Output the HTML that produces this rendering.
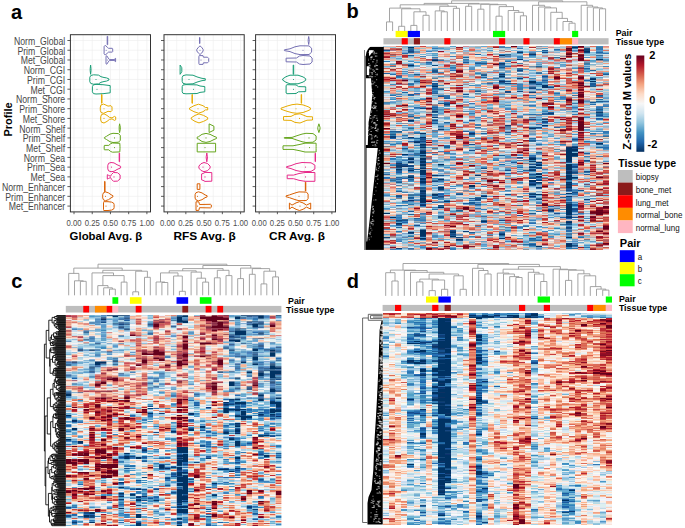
<!DOCTYPE html>
<html><head><meta charset="utf-8"><style>
html,body{margin:0;padding:0;background:#fff;width:685px;height:528px;overflow:hidden}
svg{display:block;font-family:"Liberation Sans", sans-serif}
</style></head><body>
<svg width="685" height="528" viewBox="0 0 685 528">
<text x="11" y="19.2" font-size="20" font-weight="bold" fill="#000">a</text>
<text x="0" y="0" font-size="10" fill="#474747" text-anchor="end" transform="translate(65.2 44.8) scale(0.87 1)">Norm_Global</text>
<text x="0" y="0" font-size="10" fill="#474747" text-anchor="end" transform="translate(65.2 54.5) scale(0.87 1)">Prim_Global</text>
<text x="0" y="0" font-size="10" fill="#474747" text-anchor="end" transform="translate(65.2 64.3) scale(0.87 1)">Met_Global</text>
<text x="0" y="0" font-size="10" fill="#474747" text-anchor="end" transform="translate(65.2 74.0) scale(0.87 1)">Norm_CGI</text>
<text x="0" y="0" font-size="10" fill="#474747" text-anchor="end" transform="translate(65.2 83.8) scale(0.87 1)">Prim_CGI</text>
<text x="0" y="0" font-size="10" fill="#474747" text-anchor="end" transform="translate(65.2 93.5) scale(0.87 1)">Met_CGI</text>
<text x="0" y="0" font-size="10" fill="#474747" text-anchor="end" transform="translate(65.2 103.2) scale(0.87 1)">Norm_Shore</text>
<text x="0" y="0" font-size="10" fill="#474747" text-anchor="end" transform="translate(65.2 113.0) scale(0.87 1)">Prim_Shore</text>
<text x="0" y="0" font-size="10" fill="#474747" text-anchor="end" transform="translate(65.2 122.7) scale(0.87 1)">Met_Shore</text>
<text x="0" y="0" font-size="10" fill="#474747" text-anchor="end" transform="translate(65.2 132.5) scale(0.87 1)">Norm_Shelf</text>
<text x="0" y="0" font-size="10" fill="#474747" text-anchor="end" transform="translate(65.2 142.2) scale(0.87 1)">Prim_Shelf</text>
<text x="0" y="0" font-size="10" fill="#474747" text-anchor="end" transform="translate(65.2 151.9) scale(0.87 1)">Met_Shelf</text>
<text x="0" y="0" font-size="10" fill="#474747" text-anchor="end" transform="translate(65.2 161.7) scale(0.87 1)">Norm_Sea</text>
<text x="0" y="0" font-size="10" fill="#474747" text-anchor="end" transform="translate(65.2 171.4) scale(0.87 1)">Prim_Sea</text>
<text x="0" y="0" font-size="10" fill="#474747" text-anchor="end" transform="translate(65.2 181.2) scale(0.87 1)">Met_Sea</text>
<text x="0" y="0" font-size="10" fill="#474747" text-anchor="end" transform="translate(65.2 190.9) scale(0.87 1)">Norm_Enhancer</text>
<text x="0" y="0" font-size="10" fill="#474747" text-anchor="end" transform="translate(65.2 200.6) scale(0.87 1)">Prim_Enhancer</text>
<text x="0" y="0" font-size="10" fill="#474747" text-anchor="end" transform="translate(65.2 210.4) scale(0.87 1)">Met_Enhancer</text>
<text x="0" y="0" font-size="11" font-weight="bold" fill="#000" text-anchor="middle" transform="translate(12.3 119.4) rotate(-90)">Profile</text>
<path d="M74.00 34.7V211.9M83.11 34.7V211.9M92.22 34.7V211.9M101.34 34.7V211.9M110.45 34.7V211.9M119.56 34.7V211.9M128.68 34.7V211.9M137.79 34.7V211.9M146.90 34.7V211.9M70.4 40.50H150.5M70.4 50.24H150.5M70.4 59.98H150.5M70.4 69.72H150.5M70.4 79.46H150.5M70.4 89.20H150.5M70.4 98.94H150.5M70.4 108.68H150.5M70.4 118.42H150.5M70.4 128.16H150.5M70.4 137.90H150.5M70.4 147.64H150.5M70.4 157.38H150.5M70.4 167.12H150.5M70.4 176.86H150.5M70.4 186.60H150.5M70.4 196.34H150.5M70.4 206.08H150.5" stroke="#ececec" stroke-width="0.6" fill="none"/>
<rect x="70.4" y="34.7" width="80.1" height="177.2" fill="none" stroke="#333" stroke-width="1"/>
<path d="M67.4 40.50H70.4M67.4 50.24H70.4M67.4 59.98H70.4M67.4 69.72H70.4M67.4 79.46H70.4M67.4 89.20H70.4M67.4 98.94H70.4M67.4 108.68H70.4M67.4 118.42H70.4M67.4 128.16H70.4M67.4 137.90H70.4M67.4 147.64H70.4M67.4 157.38H70.4M67.4 167.12H70.4M67.4 176.86H70.4M67.4 186.60H70.4M67.4 196.34H70.4M67.4 206.08H70.4" stroke="#333" stroke-width="0.8"/>
<path d="M74.00 211.9V214.20000000000002M92.22 211.9V214.20000000000002M110.45 211.9V214.20000000000002M128.68 211.9V214.20000000000002M146.90 211.9V214.20000000000002" stroke="#333" stroke-width="0.8"/>
<text x="0" y="0" font-size="9" fill="#4d4d4d" text-anchor="middle" transform="translate(74.00 225.8) scale(0.86 1)">0.00</text>
<text x="0" y="0" font-size="9" fill="#4d4d4d" text-anchor="middle" transform="translate(92.22 225.8) scale(0.86 1)">0.25</text>
<text x="0" y="0" font-size="9" fill="#4d4d4d" text-anchor="middle" transform="translate(110.45 225.8) scale(0.86 1)">0.50</text>
<text x="0" y="0" font-size="9" fill="#4d4d4d" text-anchor="middle" transform="translate(128.68 225.8) scale(0.86 1)">0.75</text>
<text x="0" y="0" font-size="9" fill="#4d4d4d" text-anchor="middle" transform="translate(146.90 225.8) scale(0.86 1)">1.00</text>
<path d="M107.2 36.3L107.7 36.3L107.7 44.7L107.2 44.7Z" fill="none" stroke="#7570B3" stroke-width="1.0" stroke-linejoin="round"/>
<path d="M104.1 46.6L104.6 45.8L105.8 45.6L107.5 47.6L108.5 48.3L112.3 48.3L112.7 48.8L112.7 51.6L112.3 52.1L108.5 52.1L107.5 52.8L105.8 54.8L104.6 54.6L104.1 53.8Z" fill="none" stroke="#7570B3" stroke-width="1.0" stroke-linejoin="round"/>
<circle cx="106.2" cy="50.2" r="0.55" fill="#7570B3"/>
<path d="M106.0 56.2L106.8 55.8L108.2 58.0L109.5 59.6L114.8 59.6L115.1 58.4L115.6 58.4L115.6 61.6L115.1 61.6L114.8 60.4L109.5 60.4L108.2 62.0L106.8 64.2L106.0 63.8Z" fill="none" stroke="#7570B3" stroke-width="1.0" stroke-linejoin="round"/>
<circle cx="107.4" cy="60.0" r="0.55" fill="#7570B3"/>
<path d="M90.2 68.7L90.6 65.1L91.0 68.7L91.0 70.7L90.6 74.3L90.2 70.7Z" fill="none" stroke="#1B9E77" stroke-width="1.0" stroke-linejoin="round"/>
<path d="M89.8 77.3L90.8 75.5L93.5 74.8L98.5 75.1L101.0 76.7L104.0 77.5L106.5 77.9L108.9 78.9L108.9 80.1L106.5 81.1L104.0 81.5L101.0 82.3L98.5 83.9L93.5 84.2L90.8 83.5L89.8 81.7Z" fill="none" stroke="#1B9E77" stroke-width="1.0" stroke-linejoin="round"/>
<circle cx="96.0" cy="79.5" r="0.55" fill="#1B9E77"/>
<path d="M92.4 86.6L93.4 84.8L96.0 84.4L103.0 84.7L110.2 85.6L110.2 88.6L110.2 89.8L110.2 92.8L103.0 93.7L96.0 94.0L93.4 93.6L92.4 91.8Z" fill="none" stroke="#1B9E77" stroke-width="1.0" stroke-linejoin="round"/>
<circle cx="97.0" cy="89.2" r="0.55" fill="#1B9E77"/>
<path d="M101.5 94.6L102.0 94.6L102.0 103.2L101.5 103.2Z" fill="none" stroke="#E6AB02" stroke-width="1.0" stroke-linejoin="round"/>
<path d="M100.3 107.1L101.0 104.9L103.5 104.1L106.0 105.1L108.0 106.1L111.0 105.7L112.0 106.9L112.0 110.5L111.0 111.7L108.0 111.3L106.0 112.3L103.5 113.3L101.0 112.5L100.3 110.3Z" fill="none" stroke="#E6AB02" stroke-width="1.0" stroke-linejoin="round"/>
<circle cx="104.0" cy="108.7" r="0.55" fill="#E6AB02"/>
<path d="M100.7 116.8L101.5 114.6L104.0 113.8L107.0 115.4L109.5 117.4L112.0 117.9L114.5 116.4L115.7 117.0L115.7 119.8L114.5 120.4L112.0 118.9L109.5 119.4L107.0 121.4L104.0 123.0L101.5 122.2L100.7 120.0Z" fill="none" stroke="#E6AB02" stroke-width="1.0" stroke-linejoin="round"/>
<circle cx="104.0" cy="118.4" r="0.55" fill="#E6AB02"/>
<path d="M119.2 126.6L119.6 123.8L120.3 127.2L120.3 129.2L119.6 132.6L119.2 129.8Z" fill="none" stroke="#66A61E" stroke-width="1.0" stroke-linejoin="round"/>
<path d="M104.4 137.5L106.5 136.3L110.0 134.1L113.0 133.3L118.5 133.6L120.3 135.5L120.3 140.3L118.5 142.2L113.0 142.5L110.0 141.7L106.5 139.5L104.4 138.3Z" fill="none" stroke="#66A61E" stroke-width="1.0" stroke-linejoin="round"/>
<circle cx="114.5" cy="137.9" r="0.55" fill="#66A61E"/>
<path d="M104.2 146.0L104.4 145.4L108.8 145.4L110.5 143.8L112.5 143.0L119.8 143.3L120.0 146.6L120.0 148.6L119.8 151.9L112.5 152.2L110.5 151.4L108.8 149.8L104.4 149.8L104.2 149.2Z" fill="none" stroke="#66A61E" stroke-width="1.0" stroke-linejoin="round"/>
<circle cx="114.5" cy="147.6" r="0.55" fill="#66A61E"/>
<path d="M119.2 153.1L119.6 153.1L119.6 161.7L119.2 161.7Z" fill="none" stroke="#E7298A" stroke-width="1.0" stroke-linejoin="round"/>
<path d="M107.8 165.3L108.6 163.3L111.0 162.5L114.0 162.9L117.0 164.7L120.6 166.3L120.6 167.9L117.0 169.5L114.0 171.3L111.0 171.7L108.6 170.9L107.8 168.9Z" fill="none" stroke="#E7298A" stroke-width="1.0" stroke-linejoin="round"/>
<circle cx="111.5" cy="167.1" r="0.55" fill="#E7298A"/>
<path d="M107.3 174.7L108.5 175.3L110.5 176.3L111.5 174.5L113.5 172.5L117.5 172.7L120.1 174.9L120.1 178.9L117.5 181.1L113.5 181.3L111.5 179.3L110.5 177.5L108.5 178.5L107.3 179.1Z" fill="none" stroke="#E7298A" stroke-width="1.0" stroke-linejoin="round"/>
<circle cx="114.0" cy="176.9" r="0.55" fill="#E7298A"/>
<path d="M104.6 181.4L105.0 181.4L105.0 191.8L104.6 191.8Z" fill="none" stroke="#D95F02" stroke-width="1.0" stroke-linejoin="round"/>
<path d="M102.7 194.7L103.5 192.7L105.5 191.9L108.5 192.9L111.0 194.7L112.9 195.7L112.9 196.9L111.0 197.9L108.5 199.7L105.5 200.7L103.5 199.9L102.7 197.9Z" fill="none" stroke="#D95F02" stroke-width="1.0" stroke-linejoin="round"/>
<circle cx="105.5" cy="196.3" r="0.55" fill="#D95F02"/>
<path d="M103.5 202.5L103.8 201.7L108.0 201.7L111.5 202.1L113.6 203.1L114.1 204.5L114.1 207.7L113.6 209.1L111.5 210.1L108.0 210.5L103.8 210.5L103.5 209.7Z" fill="none" stroke="#D95F02" stroke-width="1.0" stroke-linejoin="round"/>
<circle cx="106.0" cy="206.1" r="0.55" fill="#D95F02"/>
<path d="M167.60 34.7V211.9M176.72 34.7V211.9M185.85 34.7V211.9M194.97 34.7V211.9M204.10 34.7V211.9M213.22 34.7V211.9M222.35 34.7V211.9M231.47 34.7V211.9M240.60 34.7V211.9M164.0 40.50H244.2M164.0 50.24H244.2M164.0 59.98H244.2M164.0 69.72H244.2M164.0 79.46H244.2M164.0 89.20H244.2M164.0 98.94H244.2M164.0 108.68H244.2M164.0 118.42H244.2M164.0 128.16H244.2M164.0 137.90H244.2M164.0 147.64H244.2M164.0 157.38H244.2M164.0 167.12H244.2M164.0 176.86H244.2M164.0 186.60H244.2M164.0 196.34H244.2M164.0 206.08H244.2" stroke="#ececec" stroke-width="0.6" fill="none"/>
<rect x="164.0" y="34.7" width="80.19999999999999" height="177.2" fill="none" stroke="#333" stroke-width="1"/>
<path d="M161.0 40.50H164.0M161.0 50.24H164.0M161.0 59.98H164.0M161.0 69.72H164.0M161.0 79.46H164.0M161.0 89.20H164.0M161.0 98.94H164.0M161.0 108.68H164.0M161.0 118.42H164.0M161.0 128.16H164.0M161.0 137.90H164.0M161.0 147.64H164.0M161.0 157.38H164.0M161.0 167.12H164.0M161.0 176.86H164.0M161.0 186.60H164.0M161.0 196.34H164.0M161.0 206.08H164.0" stroke="#333" stroke-width="0.8"/>
<path d="M167.60 211.9V214.20000000000002M185.85 211.9V214.20000000000002M204.10 211.9V214.20000000000002M222.35 211.9V214.20000000000002M240.60 211.9V214.20000000000002" stroke="#333" stroke-width="0.8"/>
<text x="0" y="0" font-size="9" fill="#4d4d4d" text-anchor="middle" transform="translate(167.60 225.8) scale(0.86 1)">0.00</text>
<text x="0" y="0" font-size="9" fill="#4d4d4d" text-anchor="middle" transform="translate(185.85 225.8) scale(0.86 1)">0.25</text>
<text x="0" y="0" font-size="9" fill="#4d4d4d" text-anchor="middle" transform="translate(204.10 225.8) scale(0.86 1)">0.50</text>
<text x="0" y="0" font-size="9" fill="#4d4d4d" text-anchor="middle" transform="translate(222.35 225.8) scale(0.86 1)">0.75</text>
<text x="0" y="0" font-size="9" fill="#4d4d4d" text-anchor="middle" transform="translate(240.60 225.8) scale(0.86 1)">1.00</text>
<path d="M199.5 37.5L199.9 37.5L199.9 43.5L199.5 43.5Z" fill="none" stroke="#7570B3" stroke-width="1.0" stroke-linejoin="round"/>
<path d="M196.8 49.4L198.5 47.2L200.0 45.9L201.6 47.2L203.1 49.4L203.1 51.0L201.6 53.2L200.0 54.5L198.5 53.2L196.8 51.0Z" fill="none" stroke="#7570B3" stroke-width="1.0" stroke-linejoin="round"/>
<circle cx="200.0" cy="50.2" r="0.55" fill="#7570B3"/>
<path d="M198.9 56.4L199.2 55.6L203.0 55.6L203.4 57.2L207.5 57.2L208.7 58.4L208.7 61.6L207.5 62.8L203.4 62.8L203.0 64.4L199.2 64.4L198.9 63.6Z" fill="none" stroke="#7570B3" stroke-width="1.0" stroke-linejoin="round"/>
<circle cx="201.0" cy="60.0" r="0.55" fill="#7570B3"/>
<path d="M180.1 65.1L181.8 67.7L181.8 71.7L180.1 74.3Z" fill="none" stroke="#1B9E77" stroke-width="1.0" stroke-linejoin="round"/>
<path d="M182.2 77.5L183.0 75.7L186.0 74.9L193.0 75.2L197.0 76.9L201.0 78.1L204.0 78.7L205.3 78.7L205.3 80.3L204.0 80.3L201.0 80.9L197.0 82.1L193.0 83.8L186.0 84.1L183.0 83.3L182.2 81.5Z" fill="none" stroke="#1B9E77" stroke-width="1.0" stroke-linejoin="round"/>
<circle cx="189.0" cy="79.5" r="0.55" fill="#1B9E77"/>
<path d="M182.2 86.6L183.0 85.0L186.0 84.6L197.0 84.9L200.0 86.0L204.8 86.6L204.8 88.4L204.8 90.0L204.8 91.8L200.0 92.4L197.0 93.5L186.0 93.8L183.0 93.4L182.2 91.8Z" fill="none" stroke="#1B9E77" stroke-width="1.0" stroke-linejoin="round"/>
<circle cx="193.5" cy="89.2" r="0.55" fill="#1B9E77"/>
<path d="M192.0 94.5L192.4 94.5L192.4 103.3L192.0 103.3Z" fill="none" stroke="#E6AB02" stroke-width="1.0" stroke-linejoin="round"/>
<path d="M189.5 108.1L194.0 105.7L198.5 104.2L203.0 105.7L205.5 107.5L207.7 107.5L207.7 109.9L205.5 109.9L203.0 111.7L198.5 113.2L194.0 111.7L189.5 109.3Z" fill="none" stroke="#E6AB02" stroke-width="1.0" stroke-linejoin="round"/>
<circle cx="198.0" cy="108.7" r="0.55" fill="#E6AB02"/>
<path d="M191.2 117.8L195.0 115.4L199.0 113.9L203.5 115.4L207.7 117.6L207.7 119.2L203.5 121.4L199.0 122.9L195.0 121.4L191.2 119.0Z" fill="none" stroke="#E6AB02" stroke-width="1.0" stroke-linejoin="round"/>
<circle cx="199.0" cy="118.4" r="0.55" fill="#E6AB02"/>
<path d="M209.1 123.9L213.9 126.2L213.9 130.2L209.1 132.5Z" fill="none" stroke="#66A61E" stroke-width="1.0" stroke-linejoin="round"/>
<path d="M197.2 137.1L198.5 136.7L202.0 134.3L206.0 133.4L210.0 134.3L214.0 136.3L216.5 137.3L216.5 138.5L214.0 139.5L210.0 141.5L206.0 142.4L202.0 141.5L198.5 139.1L197.2 138.7Z" fill="none" stroke="#66A61E" stroke-width="1.0" stroke-linejoin="round"/>
<circle cx="206.0" cy="137.9" r="0.55" fill="#66A61E"/>
<path d="M197.2 143.3L215.6 143.3L215.6 151.9L197.2 151.9Z" fill="none" stroke="#66A61E" stroke-width="1.0" stroke-linejoin="round"/>
<circle cx="205.0" cy="147.6" r="0.55" fill="#66A61E"/>
<path d="M206.2 156.8L206.8 153.0L207.4 156.8L207.4 158.0L206.8 161.8L206.2 158.0Z" fill="none" stroke="#E7298A" stroke-width="1.0" stroke-linejoin="round"/>
<path d="M198.9 166.1L201.0 163.7L204.0 162.5L207.5 163.5L210.1 166.1L210.1 168.1L207.5 170.7L204.0 171.7L201.0 170.5L198.9 168.1Z" fill="none" stroke="#E7298A" stroke-width="1.0" stroke-linejoin="round"/>
<circle cx="203.0" cy="167.1" r="0.55" fill="#E7298A"/>
<path d="M201.6 173.9L203.0 173.5L205.0 172.4L211.8 172.6L211.8 175.9L211.8 177.9L211.8 181.2L205.0 181.4L203.0 180.3L201.6 179.9Z" fill="none" stroke="#E7298A" stroke-width="1.0" stroke-linejoin="round"/>
<circle cx="205.0" cy="176.9" r="0.55" fill="#E7298A"/>
<path d="M197.2 183.8L199.9 183.8L199.9 189.4L197.2 189.4Z" fill="none" stroke="#D95F02" stroke-width="1.0" stroke-linejoin="round"/>
<path d="M195.1 194.5L196.0 192.7L198.5 191.8L202.0 192.9L205.0 194.9L207.1 195.7L207.1 196.9L205.0 197.7L202.0 199.7L198.5 200.8L196.0 199.9L195.1 198.1Z" fill="none" stroke="#D95F02" stroke-width="1.0" stroke-linejoin="round"/>
<circle cx="197.5" cy="196.3" r="0.55" fill="#D95F02"/>
<path d="M196.0 201.8L198.8 201.8L199.5 204.5L210.5 204.3L211.3 204.9L211.3 207.3L210.5 207.9L199.5 207.7L198.8 210.4L196.0 210.4Z" fill="none" stroke="#D95F02" stroke-width="1.0" stroke-linejoin="round"/>
<circle cx="197.5" cy="206.1" r="0.55" fill="#D95F02"/>
<path d="M259.20 34.7V211.9M268.29 34.7V211.9M277.38 34.7V211.9M286.46 34.7V211.9M295.55 34.7V211.9M304.64 34.7V211.9M313.73 34.7V211.9M322.81 34.7V211.9M331.90 34.7V211.9M255.6 40.50H335.5M255.6 50.24H335.5M255.6 59.98H335.5M255.6 69.72H335.5M255.6 79.46H335.5M255.6 89.20H335.5M255.6 98.94H335.5M255.6 108.68H335.5M255.6 118.42H335.5M255.6 128.16H335.5M255.6 137.90H335.5M255.6 147.64H335.5M255.6 157.38H335.5M255.6 167.12H335.5M255.6 176.86H335.5M255.6 186.60H335.5M255.6 196.34H335.5M255.6 206.08H335.5" stroke="#ececec" stroke-width="0.6" fill="none"/>
<rect x="255.6" y="34.7" width="79.9" height="177.2" fill="none" stroke="#333" stroke-width="1"/>
<path d="M252.6 40.50H255.6M252.6 50.24H255.6M252.6 59.98H255.6M252.6 69.72H255.6M252.6 79.46H255.6M252.6 89.20H255.6M252.6 98.94H255.6M252.6 108.68H255.6M252.6 118.42H255.6M252.6 128.16H255.6M252.6 137.90H255.6M252.6 147.64H255.6M252.6 157.38H255.6M252.6 167.12H255.6M252.6 176.86H255.6M252.6 186.60H255.6M252.6 196.34H255.6M252.6 206.08H255.6" stroke="#333" stroke-width="0.8"/>
<path d="M259.20 211.9V214.20000000000002M277.38 211.9V214.20000000000002M295.55 211.9V214.20000000000002M313.73 211.9V214.20000000000002M331.90 211.9V214.20000000000002" stroke="#333" stroke-width="0.8"/>
<text x="0" y="0" font-size="9" fill="#4d4d4d" text-anchor="middle" transform="translate(259.20 225.8) scale(0.86 1)">0.00</text>
<text x="0" y="0" font-size="9" fill="#4d4d4d" text-anchor="middle" transform="translate(277.38 225.8) scale(0.86 1)">0.25</text>
<text x="0" y="0" font-size="9" fill="#4d4d4d" text-anchor="middle" transform="translate(295.55 225.8) scale(0.86 1)">0.50</text>
<text x="0" y="0" font-size="9" fill="#4d4d4d" text-anchor="middle" transform="translate(313.73 225.8) scale(0.86 1)">0.75</text>
<text x="0" y="0" font-size="9" fill="#4d4d4d" text-anchor="middle" transform="translate(331.90 225.8) scale(0.86 1)">1.00</text>
<path d="M308.2 39.7L308.7 36.5L309.2 39.7L309.2 41.3L308.7 44.5L308.2 41.3Z" fill="none" stroke="#7570B3" stroke-width="1.0" stroke-linejoin="round"/>
<path d="M284.4 49.8L290.0 48.8L295.0 46.8L300.0 45.8L309.0 45.9L311.6 48.2L311.6 52.2L309.0 54.5L300.0 54.6L295.0 53.6L290.0 51.6L284.4 50.6Z" fill="none" stroke="#7570B3" stroke-width="1.0" stroke-linejoin="round"/>
<circle cx="303.0" cy="50.2" r="0.55" fill="#7570B3"/>
<path d="M286.1 58.2L296.5 58.0L299.5 56.0L303.0 55.5L310.0 56.0L312.1 58.0L312.1 62.0L310.0 64.0L303.0 64.5L299.5 64.0L296.5 62.0L286.1 61.8Z" fill="none" stroke="#7570B3" stroke-width="1.0" stroke-linejoin="round"/>
<circle cx="304.0" cy="60.0" r="0.55" fill="#7570B3"/>
<path d="M293.2 65.1L293.7 65.1L293.7 74.3L293.2 74.3Z" fill="none" stroke="#1B9E77" stroke-width="1.0" stroke-linejoin="round"/>
<path d="M282.7 78.9L286.0 76.7L290.0 75.2L298.0 75.2L303.0 76.9L305.7 78.7L305.7 80.3L303.0 82.1L298.0 83.8L290.0 83.8L286.0 82.3L282.7 80.1Z" fill="none" stroke="#1B9E77" stroke-width="1.0" stroke-linejoin="round"/>
<circle cx="293.5" cy="79.5" r="0.55" fill="#1B9E77"/>
<path d="M286.1 85.4L287.0 84.7L296.0 84.9L298.5 86.6L305.7 86.8L305.7 88.4L305.7 90.0L305.7 91.6L298.5 91.8L296.0 93.5L287.0 93.7L286.1 93.0Z" fill="none" stroke="#1B9E77" stroke-width="1.0" stroke-linejoin="round"/>
<circle cx="293.5" cy="89.2" r="0.55" fill="#1B9E77"/>
<path d="M301.2 94.5L301.6 94.5L301.6 103.3L301.2 103.3Z" fill="none" stroke="#E6AB02" stroke-width="1.0" stroke-linejoin="round"/>
<path d="M281.0 108.2L287.0 106.1L292.0 104.7L297.0 104.1L303.0 104.9L308.0 106.7L310.4 107.9L310.4 109.5L308.0 110.7L303.0 112.5L297.0 113.3L292.0 112.7L287.0 111.3L281.0 109.2Z" fill="none" stroke="#E6AB02" stroke-width="1.0" stroke-linejoin="round"/>
<circle cx="296.0" cy="108.7" r="0.55" fill="#E6AB02"/>
<path d="M283.5 116.6L291.0 116.4L295.0 114.4L300.0 113.8L304.0 115.4L307.0 116.6L312.5 116.8L312.5 117.9L312.5 118.9L312.5 120.0L307.0 120.2L304.0 121.4L300.0 123.0L295.0 122.4L291.0 120.4L283.5 120.2Z" fill="none" stroke="#E6AB02" stroke-width="1.0" stroke-linejoin="round"/>
<circle cx="299.5" cy="118.4" r="0.55" fill="#E6AB02"/>
<path d="M317.8 127.4L318.9 123.8L320.0 127.4L320.0 129.0L318.9 132.6L317.8 129.0Z" fill="none" stroke="#66A61E" stroke-width="1.0" stroke-linejoin="round"/>
<path d="M284.3 137.6L292.0 137.4L297.0 135.7L302.0 134.1L306.0 133.3L313.0 133.6L316.1 135.9L316.1 139.9L313.0 142.2L306.0 142.5L302.0 141.7L297.0 140.1L292.0 138.4L284.3 138.2Z" fill="none" stroke="#66A61E" stroke-width="1.0" stroke-linejoin="round"/>
<circle cx="309.0" cy="137.9" r="0.55" fill="#66A61E"/>
<path d="M283.0 145.8L293.0 145.8L300.0 144.4L305.0 143.2L316.1 143.2L316.1 146.6L316.1 148.6L316.1 152.0L305.0 152.0L300.0 150.8L293.0 149.4L283.0 149.4Z" fill="none" stroke="#66A61E" stroke-width="1.0" stroke-linejoin="round"/>
<circle cx="309.5" cy="147.6" r="0.55" fill="#66A61E"/>
<path d="M315.1 153.2L315.5 153.2L315.5 161.6L315.1 161.6Z" fill="none" stroke="#E7298A" stroke-width="1.0" stroke-linejoin="round"/>
<path d="M286.5 166.7L291.0 165.6L296.0 163.7L302.0 162.5L311.0 162.8L314.9 165.1L314.9 169.1L311.0 171.4L302.0 171.7L296.0 170.5L291.0 168.6L286.5 167.5Z" fill="none" stroke="#E7298A" stroke-width="1.0" stroke-linejoin="round"/>
<circle cx="305.5" cy="167.1" r="0.55" fill="#E7298A"/>
<path d="M287.2 175.1L293.5 175.1L299.0 173.5L305.0 172.5L314.9 172.5L314.9 175.9L314.9 177.9L314.9 181.3L305.0 181.3L299.0 180.3L293.5 178.7L287.2 178.7Z" fill="none" stroke="#E7298A" stroke-width="1.0" stroke-linejoin="round"/>
<circle cx="305.5" cy="176.9" r="0.55" fill="#E7298A"/>
<path d="M305.4 182.2L305.8 182.2L305.8 191.0L305.4 191.0Z" fill="none" stroke="#D95F02" stroke-width="1.0" stroke-linejoin="round"/>
<path d="M286.0 195.9L289.5 194.9L293.0 193.7L296.0 192.7L299.0 191.9L306.5 192.1L308.1 194.1L308.1 198.5L306.5 200.5L299.0 200.7L296.0 199.9L293.0 198.9L289.5 197.7L286.0 196.7Z" fill="none" stroke="#D95F02" stroke-width="1.0" stroke-linejoin="round"/>
<circle cx="299.0" cy="196.3" r="0.55" fill="#D95F02"/>
<path d="M289.4 203.1L292.0 205.1L296.0 202.9L299.5 201.7L303.0 202.9L306.5 205.1L310.7 203.1L310.7 209.1L306.5 207.1L303.0 209.3L299.5 210.5L296.0 209.3L292.0 207.1L289.4 209.1Z" fill="none" stroke="#D95F02" stroke-width="1.0" stroke-linejoin="round"/>
<circle cx="300.0" cy="206.1" r="0.55" fill="#D95F02"/>
<text x="0" y="0" font-size="11.3" font-weight="bold" fill="#000" transform="translate(69.6 239.6) scale(1.01 1)">Global Avg. β</text>
<text x="0" y="0" font-size="11.3" font-weight="bold" fill="#000" transform="translate(173.5 239.6) scale(1.05 1)">RFS Avg. β</text>
<text x="0" y="0" font-size="11.3" font-weight="bold" fill="#000" transform="translate(269.1 239.6) scale(1.05 1)">CR Avg. β</text>
<defs><filter id="hb" x="-2%" y="-2%" width="104%" height="104%"><feGaussianBlur stdDeviation="0.25 0.4"/></filter></defs>
<text x="346.4" y="17.9" font-size="20" font-weight="bold" fill="#000" text-anchor="start">b</text>
<rect x="383.45" y="38.2" width="225.15" height="6.2" fill="#bebebe"/>
<rect x="401.71" y="38.2" width="6.09" height="6.2" fill="#ff0000"/>
<rect x="413.88" y="38.2" width="6.09" height="6.2" fill="#8b1a1a"/>
<rect x="444.30" y="38.2" width="6.09" height="6.2" fill="#ff0000"/>
<rect x="499.07" y="38.2" width="6.09" height="6.2" fill="#ff0000"/>
<rect x="523.41" y="38.2" width="6.09" height="6.2" fill="#ff0000"/>
<rect x="553.83" y="38.2" width="6.09" height="6.2" fill="#ff0000"/>
<rect x="559.92" y="38.2" width="12.17" height="6.2" fill="#ff8c00"/>
<rect x="572.09" y="38.2" width="6.09" height="6.2" fill="#ffb6c1"/>
<rect x="395.62" y="30.9" width="12.17" height="6.2" fill="#ffff00"/>
<rect x="407.79" y="30.9" width="12.17" height="6.2" fill="#0000ff"/>
<rect x="492.98" y="30.9" width="12.17" height="6.2" fill="#00ff00"/>
<rect x="572.09" y="30.9" width="6.09" height="6.2" fill="#00ff00"/>
<g filter="url(#hb)"><g transform="translate(383.45 45.5) scale(6.0851 1.0005) translate(0 0.5)" shape-rendering="crispEdges" fill="none" stroke-width="1">
<path stroke="#003264" d="M4 1h1M31 1h1M33 5h1M35 13h1M8 14h1M4 19h1M19 30h1M34 33h1M24 35h1M34 35h1M24 36h1M26 39h1M8 40h1M26 40h1M4 74h1M6 87h1M6 91h1M5 96h1M35 97h1M6 98h1M6 101h1M31 101h1M30 102h1M30 103h2M30 104h2M30 105h1M6 106h1M30 106h1M6 107h1M30 107h2M3 108h1M30 108h2M6 109h1M30 109h2M30 110h1M30 111h1M6 112h1M24 112h1M30 112h1M4 113h1M6 113h1M24 113h1M30 113h1M30 114h1M6 115h1M4 116h1M6 116h1M25 116h1M6 118h1M9 118h1M30 118h1M6 119h1M25 119h1M30 119h1M30 120h1M24 121h1M30 121h1M6 122h1M30 122h1M2 123h1M30 123h1M4 124h1M6 124h1M6 125h1M6 126h1M30 126h1M6 127h1M30 127h1M6 128h1M25 128h1M30 129h1M25 130h1M30 130h1M4 131h1M30 131h2M6 132h1M30 132h1M6 133h1M9 133h1M30 133h1M24 134h1M6 135h1M24 135h1M6 136h1M25 136h1M30 136h1M24 138h1M30 138h1M14 139h1M14 140h1M9 141h1M30 141h1M6 145h1M30 147h1M8 148h1M25 148h1M6 149h1M6 150h1M16 150h1M6 152h1M6 153h1M6 154h1M6 155h1M30 158h1M30 160h1M9 161h1M30 161h1M30 162h1M30 163h1M30 164h1M30 165h1M30 166h1M0 167h1M30 167h1M30 168h1M1 171h1M30 171h1M16 175h1M30 176h1M2 177h1M6 184h1M6 185h1M4 186h1M6 186h1M11 186h1M6 187h1M6 188h1M19 188h1M6 189h1M11 190h1M30 191h1M6 192h1M12 193h1M30 198h1M30 199h1M25 200h1"/>
<path stroke="#0a3264" d="M22 6h1M24 8h1M19 9h1M19 28h1M19 35h1M26 41h1M26 79h1M24 82h1M14 87h1M30 101h1M6 105h1M30 115h1M3 120h1M30 125h1M8 129h1M15 129h1M10 155h1M6 156h1M30 159h1M27 164h1M30 200h1"/>
<path stroke="#0a326e" d="M22 13h1M24 150h1M4 154h1M6 159h1M19 192h1M30 197h1"/>
<path stroke="#0a3c6e" d="M33 3h1M19 17h1M35 66h1M27 67h1M8 71h1M26 73h1M9 83h1M1 91h1M4 91h1M4 112h1M24 115h1M2 117h1M2 119h1M2 120h1M24 124h1M25 127h1M30 139h1M30 140h1M25 141h1M9 142h1M6 144h1M6 147h1M24 148h1M8 149h1M30 150h1M30 170h1M11 185h1"/>
<path stroke="#0a3c78" d="M33 6h1M22 32h1M34 32h1M24 46h1M10 58h1M8 65h1M20 79h1M1 90h1M5 95h1M25 118h1M25 134h1M30 137h1M9 143h1M33 153h1M6 158h1M30 175h1M13 185h1M6 190h1M2 202h1"/>
<path stroke="#0a4678" d="M33 4h1M8 19h1M6 99h1M6 151h1M25 153h1M2 174h1M30 181h1M0 191h1"/>
<path stroke="#144678" d="M26 75h1M2 121h1M4 130h1M2 178h1"/>
<path stroke="#144682" d="M4 5h1M26 6h1M22 24h1M20 37h1M24 42h1M20 45h1M22 45h1M6 62h1M24 73h1M8 74h1M25 81h1M14 88h1M6 95h1M31 102h1M24 111h1M2 118h1M3 119h1M4 120h1M31 120h1M24 123h1M30 124h1M31 126h1M25 131h1M8 135h1M24 137h1M30 144h1M6 146h1M9 150h1M15 153h1M31 163h1M19 174h1M4 187h1M11 188h1M12 191h1"/>
<path stroke="#145082" d="M30 156h1M9 159h1M31 199h1"/>
<path stroke="#14508c" d="M0 4h1M19 18h1M26 30h1M20 35h1M19 36h1M8 37h1M25 38h1M27 41h1M20 46h1M9 50h1M10 57h1M4 75h1M6 93h1M31 93h1M14 98h1M31 100h1M6 104h1M14 104h1M22 111h1M6 114h1M33 114h1M4 115h1M3 118h1M24 118h1M4 119h1M25 121h1M31 121h1M16 122h1M20 124h1M33 125h1M24 128h1M24 132h1M6 134h1M6 137h1M30 142h1M32 144h1M31 146h1M6 148h1M20 148h1M2 150h1M15 152h1M31 162h1M27 163h1M27 165h1M28 167h1M31 171h1M3 174h1M30 178h1M5 179h1M30 182h1M19 187h1M6 193h1M12 194h1"/>
<path stroke="#145096" d="M8 13h1M35 69h1M26 76h1M6 92h1"/>
<path stroke="#145a96" d="M34 56h1M14 156h1M24 198h1"/>
<path stroke="#1e508c" d="M8 25h1M8 39h1M13 48h1M14 74h1M20 86h1M30 116h1M6 117h1M9 129h1M12 148h1M11 184h1"/>
<path stroke="#1e5a8c" d="M33 2h1M4 6h1M16 17h1M19 21h1M8 24h1M5 28h1M16 29h1M5 35h1M24 37h1M34 40h1M24 41h1M15 45h1M35 49h1M35 55h1M9 57h1M35 63h1M8 66h1M2 85h1M1 88h1M35 98h1M6 100h1M3 102h1M31 105h1M31 110h1M24 120h1M6 121h1M4 122h1M2 124h1M31 127h1M30 128h1M31 132h1M4 133h1M2 136h1M25 137h1M24 139h1M6 142h1M24 147h1M2 149h1M4 151h1M15 154h1M30 157h1M15 158h1M12 164h1M24 167h1M9 170h1M9 171h1M16 174h1M30 177h1M11 187h1"/>
<path stroke="#1e5a96" d="M26 4h1M4 9h1M13 16h1M15 17h1M36 28h1M19 34h1M34 37h1M34 38h1M4 48h1M27 68h1M4 70h1M8 77h1M1 85h1M24 94h1M10 101h1M33 107h1M21 116h1M25 122h1M6 141h1M30 143h1M2 145h1M16 149h1M8 151h1M14 157h1M4 165h1M14 186h1M11 189h1"/>
<path stroke="#1e5aa0" d="M4 4h1M8 42h1M35 72h1M2 126h1M20 127h1M24 136h1M13 157h1M31 159h1M31 164h1M22 169h1M30 172h1"/>
<path stroke="#1e6496" d="M25 20h1M8 38h1M5 54h1M24 81h1M10 100h1M19 109h1M5 123h1M24 131h1M9 160h1M4 168h1"/>
<path stroke="#1e64a0" d="M15 8h1M7 16h1M33 22h1M0 27h1M33 34h1M34 39h1M3 46h1M10 52h1M8 61h1M35 68h1M16 87h1M5 92h1M35 101h1M19 118h1M25 133h1M30 154h1M31 158h1M31 165h1M29 171h1M2 175h1M2 181h1M24 192h1M25 194h1"/>
<path stroke="#1e64aa" d="M35 6h1M26 34h1M4 49h1M27 66h1M14 86h1M1 92h1M2 125h1M9 148h1M4 152h1M14 154h1M3 155h1M27 160h1M16 176h1M2 179h1"/>
<path stroke="#286496" d="M4 3h1M13 11h1M34 24h1M8 26h1M16 28h1M19 29h1M16 31h1M8 47h1M8 63h1M10 76h1M6 94h1M25 106h1M31 118h1M23 124h1M31 125h1M0 128h1M4 129h1M2 131h1M29 151h1M14 152h1M5 172h1M19 189h1"/>
<path stroke="#2864a0" d="M9 43h1M36 55h1M26 67h1M26 68h1M28 81h1M13 85h1M4 123h1M33 128h1M2 133h1M25 142h1M24 199h1"/>
<path stroke="#2864aa" d="M4 95h1M3 132h1M3 176h1"/>
<path stroke="#286ea0" d="M20 8h1M19 31h1M19 37h1M4 38h1M35 53h1M35 67h1M5 71h1M9 80h1M4 82h1M4 105h1M15 137h1M15 151h1M8 152h1M30 153h1M4 190h1M32 191h1M23 198h1"/>
<path stroke="#286eaa" d="M31 0h1M28 3h1M22 5h1M3 7h1M20 15h1M22 23h1M25 27h1M1 28h1M2 30h1M17 37h1M8 43h1M8 45h1M28 47h1M1 49h1M10 51h1M34 58h1M5 61h1M24 68h1M35 73h1M3 89h1M4 92h1M33 95h1M6 96h1M25 98h1M4 111h1M2 135h1M31 147h1M24 151h1M8 156h1M15 162h1M25 165h1M30 184h1M30 202h1"/>
<path stroke="#286eb4" d="M20 20h1M11 24h1M25 43h1M5 47h1M10 56h1M36 101h1M24 109h1M2 116h1M25 117h1M31 119h1M22 121h1M0 131h1M9 147h1M2 159h1M24 177h1M30 185h1"/>
<path stroke="#2878aa" d="M34 87h1M12 147h1"/>
<path stroke="#2878b4" d="M19 8h1M24 9h1M0 15h1M2 31h1M25 36h1M35 64h1M31 65h1M1 98h1M10 99h1M5 109h1M1 112h1M18 114h1M10 154h1M4 158h1M2 185h1M24 193h1M33 201h1M31 202h1"/>
<path stroke="#326496" d="M9 151h1M30 169h1"/>
<path stroke="#326e96" d="M4 2h1M28 11h1M10 59h1M24 95h1M6 110h1M1 134h1M8 134h1M4 149h1M25 152h1M22 159h1M3 173h1M29 178h1M25 191h1M24 194h1"/>
<path stroke="#326ea0" d="M19 19h1M10 50h1M5 87h1M24 92h1M5 107h1M33 126h1M9 134h1"/>
<path stroke="#326eaa" d="M6 130h1M31 200h1M4 202h1"/>
<path stroke="#3278a0" d="M9 119h1"/>
<path stroke="#3278aa" d="M31 2h1M15 16h1M4 20h1M11 21h1M8 41h1M19 43h1M8 68h1M35 70h1M29 98h1M36 102h1M30 134h1M3 159h1M8 163h1M23 180h1M19 186h1"/>
<path stroke="#3278b4" d="M8 2h1M22 2h1M35 2h1M35 3h1M36 7h1M9 14h1M4 18h1M19 20h1M26 31h1M26 36h1M4 37h1M25 37h1M8 46h1M9 49h2M35 50h1M29 51h1M14 57h1M24 59h1M31 61h1M35 61h1M8 62h1M35 62h1M14 67h1M25 78h1M25 82h1M36 85h1M36 86h1M2 97h1M5 99h1M3 114h1M4 125h1M22 125h1M0 132h1M4 134h1M6 138h1M31 144h1M31 148h1M30 151h1M16 152h1M30 152h1M6 157h1M6 167h1M32 167h1M31 168h1M2 171h1M6 174h1M22 181h1M2 195h1M24 197h1M11 202h1M11 203h1"/>
<path stroke="#3282b4" d="M33 18h1M15 27h1M36 27h1M22 41h1M26 65h1M36 70h1M1 86h1M5 86h1M1 89h1M2 111h1M24 129h1M30 135h1M5 149h1M28 182h1M20 184h1M14 190h1M30 201h1"/>
<path stroke="#3282be" d="M19 27h1M22 38h1M27 40h1M24 51h1M31 68h1M33 71h1M10 106h1M8 108h1M33 110h1M1 113h1M1 119h1M27 136h1M29 148h1M6 160h1M16 163h1M2 169h1M2 172h1M3 175h1M25 180h1"/>
<path stroke="#3c6e96" d="M24 7h1M35 9h1M15 81h1M36 90h1M5 108h1M33 115h1M6 120h1M6 143h1M22 150h1"/>
<path stroke="#3c6ea0" d="M16 170h1"/>
<path stroke="#3c78a0" d="M35 1h1M33 17h1M22 22h1M2 86h1M3 92h1M9 144h1M5 154h1M12 165h1"/>
<path stroke="#3c78aa" d="M8 11h1M8 23h1M22 25h1M22 42h1M31 49h1M31 57h1M31 94h1M10 107h1M24 110h1M22 114h1M2 115h1M2 122h1M22 136h1M5 148h1"/>
<path stroke="#3c78b4" d="M36 60h1M9 135h1M9 149h1"/>
<path stroke="#3c82aa" d="M15 79h1M23 189h1"/>
<path stroke="#3c82b4" d="M8 75h1M16 121h1M4 132h1M3 146h1M29 163h1M6 173h1"/>
<path stroke="#3c82be" d="M7 5h1M22 11h1M7 17h1M11 22h1M8 35h1M22 40h1M2 50h1M29 52h1M8 60h1M5 62h1M20 63h1M25 68h1M13 76h1M26 77h1M15 78h1M26 80h1M31 92h1M9 105h1M4 108h1M6 108h1M3 109h1M22 109h1M6 129h1M2 132h1M31 137h1M16 140h1M30 145h1M0 149h1M2 151h1M15 156h1M14 158h1M15 159h1M2 173h1M5 174h1M24 174h1M26 185h1M30 190h1M20 195h1M6 201h1"/>
<path stroke="#3c8cbe" d="M35 0h1M20 1h1M22 7h1M22 10h1M13 14h1M36 20h1M28 21h1M33 25h1M24 32h1M1 38h1M14 39h1M8 44h1M1 53h1M20 59h1M36 59h1M6 61h1M23 68h1M8 73h1M25 73h1M8 76h1M36 87h1M0 88h1M36 99h1M11 111h1M24 114h1M7 116h1M10 121h1M20 123h1M2 127h1M8 132h1M25 132h1M1 133h1M4 135h1M12 139h1M11 140h1M8 150h1M9 152h1M3 156h1M33 172h1M24 186h1M8 201h1"/>
<path stroke="#4678a0" d="M25 26h1M18 32h1M9 42h1M22 43h1M6 53h1M20 80h1M6 97h1M6 103h1M35 110h1M31 124h1M4 148h1M20 181h1M6 183h1M30 187h1M30 188h1"/>
<path stroke="#4678aa" d="M20 10h1M4 155h1M31 197h1"/>
<path stroke="#4682aa" d="M0 56h1M1 87h1M6 102h1M25 107h1M2 139h1M20 144h1M31 145h1"/>
<path stroke="#4682b4" d="M6 10h1M11 10h1M22 17h1M24 38h1M22 39h1M2 48h1M8 69h1M22 70h1M22 71h1M8 84h1M26 123h1M14 142h1M8 161h1M24 176h1M33 176h1M30 180h1M0 183h1M1 203h1"/>
<path stroke="#4682be" d="M14 61h1M20 62h1M25 157h1"/>
<path stroke="#468cbe" d="M19 0h1M35 5h1M4 15h1M16 16h1M7 18h1M16 18h1M33 23h1M3 25h1M9 26h1M26 29h1M5 34h1M0 45h1M24 49h1M13 50h1M5 53h1M0 57h1M35 60h1M9 63h1M15 71h1M4 81h1M3 84h1M35 85h1M36 89h1M6 90h1M5 94h1M8 94h1M13 99h1M3 103h1M18 112h1M18 113h1M20 115h1M11 119h1M24 122h1M8 123h1M31 123h1M9 124h1M24 125h1M8 139h1M9 140h1M2 142h1M24 149h1M25 156h1M31 156h1M11 165h1M9 166h1M2 170h1M6 171h1M5 173h1M6 177h1M15 180h1M8 189h1M27 190h1M4 195h1M31 198h1"/>
<path stroke="#4696be" d="M9 39h1M17 62h1M14 89h1M22 119h1M24 164h1M9 172h1M28 188h1M4 189h1M22 192h1"/>
<path stroke="#4696c8" d="M9 2h1M26 5h1M5 16h1M31 22h1M3 27h1M5 33h1M7 39h1M5 42h1M24 60h1M10 83h1M20 111h1M1 118h1M31 138h1M22 141h1M31 160h1M0 162h1M32 190h1M6 191h1M33 199h1M24 200h1"/>
<path stroke="#5078a0" d="M19 1h1M13 13h1M1 20h1M35 65h1M9 156h1"/>
<path stroke="#5082a0" d="M8 32h1M8 64h1M15 92h1M28 103h1M6 111h1M28 162h1"/>
<path stroke="#5082aa" d="M26 35h1M15 44h1M4 68h1M10 113h1M20 132h1"/>
<path stroke="#5082b4" d="M8 190h1"/>
<path stroke="#508cb4" d="M35 7h1M33 55h1M13 65h1M21 65h1M3 131h1M6 172h1"/>
<path stroke="#508cbe" d="M31 4h1M24 6h1M36 14h1M19 22h1M14 23h1M15 39h1M19 48h1M29 53h1M20 88h1M36 100h1M7 106h1M6 131h1M9 153h1M2 193h1M2 194h1"/>
<path stroke="#5096be" d="M5 72h1M14 90h1M14 94h1M33 140h1"/>
<path stroke="#5096c8" d="M17 4h1M28 4h1M33 11h1M35 11h1M23 14h1M15 18h1M15 19h1M33 20h1M14 22h1M24 34h1M18 48h1M28 53h1M4 63h1M4 69h1M10 77h1M3 79h1M8 86h1M31 88h1M10 92h1M24 93h1M0 95h1M8 95h1M35 96h1M31 98h1M36 103h1M20 110h1M25 112h1M21 115h1M36 115h1M26 126h1M10 129h1M13 133h1M1 135h1M25 138h1M6 139h1M10 147h1M23 147h1M34 152h1M10 156h1M33 156h1M27 171h1M1 179h1M30 179h1M26 181h1M22 182h1M14 187h1M30 189h1M19 190h1M30 192h1M25 193h1M31 195h1M6 200h1M2 203h1"/>
<path stroke="#50a0c8" d="M8 9h1M22 12h1M36 13h1M34 14h1M1 18h1M9 30h1M3 32h1M23 41h1M31 47h1M25 74h1M6 89h1M14 101h1M13 106h1M8 115h1M26 131h1M2 144h1"/>
<path stroke="#5a82a0" d="M20 9h1M11 19h1M15 47h1M18 99h1M24 130h1M14 141h1M11 191h1"/>
<path stroke="#5a82aa" d="M23 59h1M20 81h1M4 104h1M30 183h1"/>
<path stroke="#5a8caa" d="M0 97h1"/>
<path stroke="#5a8cb4" d="M26 33h1M6 88h1M0 126h1"/>
<path stroke="#5a8cbe" d="M13 15h1M28 55h1M11 107h1M11 113h1M9 123h1M9 155h1M23 179h1"/>
<path stroke="#5a96be" d="M10 62h1M28 92h1M15 101h1M5 125h1M9 193h1"/>
<path stroke="#5a96c8" d="M8 4h1M35 4h1M19 16h1M16 37h1M26 38h1M29 50h1M1 56h1M10 60h1M31 62h1M14 65h1M16 70h1M20 83h1M10 91h1M9 92h1M25 94h1M28 95h1M34 95h1M15 102h1M3 113h1M8 114h1M11 122h1M10 134h1M11 142h1M31 143h1M14 145h1M30 148h1M24 153h1M22 180h1M8 191h1M16 198h1M25 202h1"/>
<path stroke="#5aa0c8" d="M11 0h1M26 2h1M8 7h1M19 10h1M24 10h1M2 12h1M20 14h1M16 15h1M29 18h1M23 23h1M22 31h1M34 31h1M4 33h1M5 36h1M20 38h2M21 40h1M1 48h1M28 48h1M28 51h1M6 52h1M26 53h1M16 54h1M24 55h1M35 56h1M4 60h1M9 64h1M16 64h1M26 64h1M5 67h1M36 68h1M10 72h1M28 76h1M36 76h1M2 77h1M29 81h1M33 83h1M34 85h1M8 90h1M27 90h1M5 93h1M2 95h1M34 96h1M7 101h1M17 105h1M11 108h1M2 113h1M10 114h1M22 120h1M18 122h1M4 126h1M14 132h1M20 140h1M10 144h1M28 147h1M33 147h1M0 148h1M1 153h1M3 157h2M16 158h1M33 158h1M18 163h1M18 167h1M29 167h1M20 168h1M6 170h1M31 173h1M10 174h1M2 176h1M21 179h1M19 180h1M16 183h1M27 184h1M17 188h1M27 191h1M3 193h1M23 195h1M23 196h1M16 202h1"/>
<path stroke="#64001e" d="M21 0h1M32 0h1M30 2h1M30 4h1M32 4h1M30 8h1M32 9h1M30 10h1M32 12h1M32 13h1M18 18h1M12 25h1M28 31h1M32 31h1M3 34h1M32 37h1M32 39h1M18 41h1M12 45h1M32 48h1M32 49h1M32 50h1M7 52h1M18 54h1M30 54h1M32 54h1M18 55h1M32 55h1M32 56h1M26 57h1M3 59h1M27 61h1M32 71h1M32 72h1M32 73h1M32 76h1M32 78h1M32 79h1M32 80h1M32 81h1M0 82h1M32 82h1M32 83h1M29 84h1M12 90h1M0 117h1M12 117h1M36 117h1M35 131h1M17 134h1M26 140h1M7 155h1M26 158h1M26 159h1M36 160h1M13 161h1M36 161h1M13 162h1M35 164h1M35 166h1M35 167h1M35 168h1M34 171h1M11 180h1M36 180h1M36 182h1M36 197h1M10 200h1M7 202h1"/>
<path stroke="#6482aa" d="M24 40h1M6 168h1M3 191h1M4 203h1"/>
<path stroke="#648caa" d="M20 82h1"/>
<path stroke="#648cb4" d="M5 5h1M5 6h1M24 45h1M36 58h1M9 132h1"/>
<path stroke="#6496be" d="M25 18h1M14 21h1M5 29h1M9 81h1M24 83h1M24 88h1M2 110h1M23 114h1M15 157h1M2 189h1"/>
<path stroke="#6496c8" d="M34 64h1M9 67h1M8 101h1M25 108h1M5 153h1M30 155h1"/>
<path stroke="#64a0c8" d="M35 12h1M34 15h1M29 16h1M9 22h1M20 25h1M15 26h1M4 28h1M35 31h1M34 36h1M4 39h1M28 46h1M1 51h1M36 52h1M16 53h1M19 60h1M13 61h1M26 61h1M16 69h1M10 71h1M35 78h1M35 83h1M14 85h1M31 85h1M35 87h1M17 92h1M28 98h1M29 99h1M35 100h1M21 111h1M28 111h1M9 120h1M20 122h1M24 127h1M8 133h1M2 134h1M22 137h1M4 150h1M17 150h1M11 152h1M4 156h1M5 157h1M6 175h1M19 176h1M33 184h1M0 188h1M21 189h1M25 190h1M16 195h1M34 195h1M11 201h1"/>
<path stroke="#64aac8" d="M14 68h1M4 83h1M10 119h1M15 125h1"/>
<path stroke="#64aad2" d="M16 0h1M25 5h1M33 7h1M24 11h1M11 20h1M8 22h1M10 22h1M24 24h1M33 24h1M4 30h1M34 34h1M19 38h1M14 43h1M13 51h2M17 58h1M31 60h1M17 71h1M33 84h1M26 86h1M26 87h1M20 91h1M2 96h1M33 96h1M8 98h1M26 98h1M10 102h1M5 104h1M5 105h1M5 106h1M2 114h1M21 120h1M22 123h1M7 149h1M25 149h1M28 170h1M20 177h1M5 180h1M27 187h1M19 191h1M10 193h1M31 193h1M32 196h1M16 199h1M23 199h1M16 200h1M28 200h1"/>
<path stroke="#6e001e" d="M29 12h1M28 32h1M32 32h1M32 46h1M30 53h1M7 62h1M12 69h1M12 70h1M32 77h1M32 86h1M7 96h1M23 104h1M22 106h1M32 116h1M14 119h1M21 133h1M17 135h1M19 136h1M35 165h1M34 166h1M36 166h1M36 181h1M35 185h1"/>
<path stroke="#6e506e" d="M33 138h1"/>
<path stroke="#6e8caa" d="M33 16h1M24 20h1M22 28h1M4 73h1M4 109h1M6 123h1"/>
<path stroke="#6e8cb4" d="M19 185h1"/>
<path stroke="#6e96b4" d="M5 176h1"/>
<path stroke="#6e96be" d="M9 84h1M4 114h1M9 125h1M9 169h1M12 188h1"/>
<path stroke="#6ea0c8" d="M25 16h1M29 19h1M17 32h1M13 56h1M15 62h1M6 70h1M25 76h1M6 78h1M9 79h1M34 88h1M21 93h1M1 95h1M36 95h1M36 96h1M31 99h1M3 111h1M25 162h1M0 163h1M25 172h1M6 180h1M4 185h1"/>
<path stroke="#6ea0d2" d="M3 4h1M11 23h1"/>
<path stroke="#6eaad2" d="M5 0h1M8 1h1M10 3h1M31 5h1M35 10h1M16 13h1M29 20h1M20 26h1M31 26h1M1 27h1M4 29h1M16 30h1M18 36h1M25 40h1M36 51h1M1 52h1M4 53h1M8 53h1M2 55h1M20 56h1M9 61h1M24 63h1M4 65h1M9 66h1M26 66h1M36 69h1M25 71h1M24 72h1M15 73h1M26 74h1M34 75h1M9 78h1M3 81h1M15 82h1M9 88h1M27 88h1M8 89h1M3 90h1M17 91h1M12 93h1M31 95h1M28 96h1M25 97h1M34 97h1M3 100h1M3 104h1M20 109h1M11 110h1M5 111h1M19 116h1M20 119h1M26 119h1M16 120h1M4 121h1M31 122h1M0 127h1M26 127h1M2 128h1M31 129h1M14 131h1M34 134h1M9 136h1M24 140h1M8 141h1M8 142h1M10 143h1M19 145h2M5 147h1M28 148h1M18 154h1M25 155h1M31 157h1M13 158h1M1 161h1M3 166h1M15 166h1M9 167h1M27 169h1M11 170h1M1 172h1M19 173h1M24 173h1M3 177h1M1 180h1M20 185h1M33 185h1M2 192h1M25 192h1M14 196h1M5 200h1M26 201h1M6 202h1"/>
<path stroke="#6eb4d2" d="M5 19h1M26 37h1M25 39h1M0 46h1M15 60h1M20 61h1M9 65h1M36 67h1M5 101h1M9 115h1M13 116h1M8 122h1M5 126h1M1 150h1M21 166h1M1 174h1M31 178h1M20 183h1M9 190h1M4 198h1"/>
<path stroke="#78001e" d="M32 14h1M25 52h1M32 75h1M32 106h1M32 118h1M36 187h1M13 200h1"/>
<path stroke="#780a1e" d="M30 3h1M30 7h1M32 10h1M2 15h1M6 40h1M32 43h1M32 84h1M12 91h1M34 125h1M7 131h1M29 133h1M35 143h1M19 158h1M13 163h1M34 167h1M34 174h1M8 196h1M7 203h1"/>
<path stroke="#785078" d="M2 29h1"/>
<path stroke="#785a78" d="M32 21h1M2 71h1M33 81h1"/>
<path stroke="#786464" d="M14 125h1"/>
<path stroke="#786478" d="M24 71h1M17 189h1"/>
<path stroke="#786482" d="M35 197h1"/>
<path stroke="#786e6e" d="M8 102h1"/>
<path stroke="#788caa" d="M13 144h1M27 162h1"/>
<path stroke="#7896aa" d="M29 80h1M24 117h1M8 147h1"/>
<path stroke="#7896b4" d="M15 128h1"/>
<path stroke="#7896be" d="M26 32h1M35 90h1"/>
<path stroke="#78a0be" d="M33 15h1M22 33h1M18 34h1M8 49h1M4 87h1M24 87h1M10 126h1M20 129h1M12 189h1M25 201h1"/>
<path stroke="#78a0c8" d="M24 5h1M11 6h1M23 28h1M22 37h1M5 45h1M28 49h1M22 53h1M2 66h1M8 70h1M33 70h1M9 82h1M8 88h1M2 90h1M28 112h1M5 114h1M19 124h1M4 153h1M32 168h1M3 187h1"/>
<path stroke="#78a0d2" d="M3 6h1M33 154h1"/>
<path stroke="#78aac8" d="M19 24h1"/>
<path stroke="#78aad2" d="M3 0h1M4 7h1M21 14h1M13 17h1M5 20h1M26 25h1M1 55h1M9 55h1M29 64h1M14 66h1M20 68h1M15 87h1M33 91h1M25 99h1M3 101h1M1 104h1M22 108h1M23 125h1M16 126h1M9 138h1M33 150h1M31 166h1M33 167h1M14 169h1M1 170h1M3 190h1M30 195h1M3 202h1"/>
<path stroke="#78b4d2" d="M26 0h1M15 1h1M10 2h1M36 6h1M7 7h1M6 8h1M8 8h1M4 10h1M13 10h1M20 17h1M6 18h1M20 19h1M0 20h1M36 26h1M24 27h1M15 28h1M20 28h1M21 31h1M17 34h1M5 43h1M5 44h1M22 44h1M2 45h1M35 45h1M24 56h1M1 57h1M5 59h1M19 59h1M17 61h1M19 61h1M9 62h1M30 65h1M5 66h1M34 67h1M20 75h1M6 83h1M4 84h1M8 87h1M20 87h1M26 91h1M14 93h1M26 94h1M1 97h1M1 99h1M5 102h1M16 102h1M8 103h1M3 105h1M28 105h1M4 106h1M31 106h1M33 106h1M28 113h1M21 114h1M3 116h1M24 116h1M30 117h1M19 119h1M15 124h1M32 127h1M25 129h1M8 130h1M31 133h1M16 134h1M18 136h1M2 137h1M6 140h1M12 140h1M20 149h1M11 150h1M11 151h1M24 154h1M2 156h1M2 157h1M0 158h1M25 161h1M11 164h1M2 165h1M19 166h1M16 169h1M4 172h1M18 178h1M29 179h1M29 183h1M27 188h1M33 189h1M14 191h1M4 192h1M8 193h1M33 194h1M24 195h1M3 196h1M12 196h1M12 197h1M33 200h1"/>
<path stroke="#820a1e" d="M2 17h1M7 55h1M11 57h1M26 109h1M22 117h1M32 160h1M34 165h1M11 168h1"/>
<path stroke="#820a28" d="M12 24h1M32 36h1M18 40h1M33 40h1M12 44h1M30 44h1M21 51h1M27 58h1M12 59h1M32 63h1M21 84h1M32 91h1M12 92h1M32 93h1M18 94h1M11 95h1M13 96h1M22 99h1M27 133h1M18 140h1M26 149h1M5 162h1M14 164h1M34 170h1M13 201h1M18 201h1"/>
<path stroke="#825a78" d="M15 103h1M28 143h1"/>
<path stroke="#826482" d="M22 112h1"/>
<path stroke="#826e78" d="M30 100h1M29 104h1"/>
<path stroke="#826e82" d="M7 112h1M1 132h1"/>
<path stroke="#827882" d="M25 21h1M8 59h1M8 85h1M0 100h1M33 193h1"/>
<path stroke="#82788c" d="M26 72h1"/>
<path stroke="#82828c" d="M2 152h1"/>
<path stroke="#828296" d="M35 14h1M20 32h1"/>
<path stroke="#828c96" d="M8 116h1"/>
<path stroke="#828ca0" d="M31 54h1"/>
<path stroke="#8296aa" d="M4 138h1M33 146h1"/>
<path stroke="#8296b4" d="M19 11h1M33 54h1"/>
<path stroke="#82a0b4" d="M19 26h1M19 58h1M3 130h1"/>
<path stroke="#82a0be" d="M15 168h1"/>
<path stroke="#82a0c8" d="M24 168h1"/>
<path stroke="#82aac8" d="M18 31h1M3 117h1M27 166h1"/>
<path stroke="#82aad2" d="M22 0h1M7 9h1M21 9h1M10 15h1M20 31h1M33 33h1M5 37h1M24 43h1M16 46h1M31 46h1M2 67h1M14 69h1M22 69h1M10 78h1M16 82h1M2 93h1M5 97h1M29 122h1M18 123h1M33 132h1M22 151h1M13 152h1M9 162h1M28 166h1M33 174h1M5 178h1M2 188h1M31 194h1"/>
<path stroke="#82b4d2" d="M17 2h1M7 4h1M15 4h1M0 5h1M34 8h1M22 9h1M21 10h1M4 17h1M6 17h1M25 17h1M34 18h1M25 19h1M15 20h1M31 21h1M3 23h1M19 23h1M24 29h1M20 34h1M33 35h1M15 38h1M15 43h1M29 44h1M15 48h1M22 49h1M19 55h1M34 57h1M17 59h1M2 62h1M26 63h1M31 63h1M3 66h1M15 72h1M0 74h1M9 77h1M27 77h1M16 83h1M27 89h1M0 96h1M13 101h1M13 107h2M15 111h1M11 112h1M13 113h1M1 115h1M5 115h1M15 117h1M31 117h1M13 119h1M15 120h1M25 120h1M8 128h1M31 149h1M0 150h1M25 151h1M22 153h1M8 162h1M11 166h1M4 173h1M25 173h1M4 179h1M20 182h1M15 186h1M8 187h1M9 200h1"/>
<path stroke="#82b4dc" d="M1 11h1M20 11h1M19 50h1M33 56h1M36 56h1M14 73h1M31 75h1M5 85h1M36 98h1M21 117h1M9 127h1M14 133h1M18 153h1M3 162h1M16 172h1M17 183h1M28 187h1M9 191h1M33 203h1"/>
<path stroke="#82bedc" d="M4 0h1M8 0h1M8 3h1M21 4h1M29 5h1M23 6h1M11 7h1M21 8h1M33 9h1M28 16h1M14 20h1M35 23h1M7 27h1M16 34h1M4 44h1M35 54h2M20 58h1M36 62h1M24 77h1M22 78h1M15 99h1M4 103h1M5 110h1M2 112h1M5 116h1M8 118h1M10 120h1M28 121h1M15 123h1M10 125h1M22 130h1M31 130h1M20 141h1M10 145h1M10 148h1M14 155h1M31 161h1M3 167h1M16 167h1M8 175h1M25 181h1M28 181h1M25 183h1M9 189h1M6 194h1M33 198h1M17 202h1"/>
<path stroke="#8c0a28" d="M32 11h1M1 32h1M6 36h1M10 37h1M32 41h1M18 42h1M32 44h1M32 53h1M7 68h1M28 71h1M29 73h1M11 78h1M11 80h1M29 95h1M22 96h1M12 103h1M21 108h1M35 154h1M32 159h1M35 162h2M36 165h1M32 170h1M32 174h1M10 179h1M32 187h1M35 191h1M21 195h1M36 198h1M35 199h1M1 201h1"/>
<path stroke="#8c1428" d="M31 36h1M18 52h1M27 57h1M32 89h1M9 99h1M29 108h1M17 125h1M28 159h1M7 166h1M23 183h1M14 200h1"/>
<path stroke="#8c6482" d="M2 38h1M30 63h1"/>
<path stroke="#8c6e82" d="M7 111h1"/>
<path stroke="#8c7882" d="M1 9h1"/>
<path stroke="#8c788c" d="M17 76h1M22 79h1M12 138h1M22 198h1"/>
<path stroke="#8c828c" d="M17 36h1M23 117h1M29 132h1"/>
<path stroke="#8c8296" d="M36 37h1"/>
<path stroke="#8c8ca0" d="M25 0h1M29 63h1M11 123h1M10 127h1M28 146h1M31 150h1M28 152h1M2 162h1M19 183h1"/>
<path stroke="#8c96a0" d="M23 203h1"/>
<path stroke="#8c96aa" d="M19 4h1M18 24h1M16 27h1M16 145h1M28 160h1"/>
<path stroke="#8c96b4" d="M31 25h1M17 38h1"/>
<path stroke="#8ca0b4" d="M9 1h1M8 15h1M10 30h1M6 45h1M20 85h1M15 100h1M10 150h1M22 154h1M14 170h1M2 186h1M31 187h1M17 191h1M6 196h1"/>
<path stroke="#8ca0be" d="M0 58h1M15 163h1M2 168h1M14 168h1"/>
<path stroke="#8caabe" d="M16 171h1"/>
<path stroke="#8caac8" d="M18 25h1M33 29h1M14 75h1M33 108h1M19 120h1M0 123h1M3 123h1M28 168h1M5 188h1"/>
<path stroke="#8caad2" d="M24 39h1M20 94h1M8 96h1M19 112h1M2 191h1M16 191h1M25 203h1"/>
<path stroke="#8cb4d2" d="M28 6h1M22 27h1M27 42h1M34 43h1M26 46h1M21 48h1M36 48h1M4 64h1M21 64h1M6 65h1M9 68h1M26 83h1M19 86h1M16 88h1M3 91h1M20 106h1M10 133h1M25 140h1M25 145h1M16 151h1M15 160h1M18 162h1M17 169h1M8 188h1"/>
<path stroke="#8cb4dc" d="M9 72h1M30 149h1M28 161h1M23 194h1M31 196h1"/>
<path stroke="#8cbedc" d="M22 1h1M5 3h1M9 3h1M3 5h1M13 5h1M15 5h1M34 6h1M21 7h1M26 7h1M16 9h1M4 14h1M14 14h1M33 21h1M7 24h1M17 25h1M26 27h1M3 28h1M16 32h1M19 32h1M18 33h2M27 33h1M4 34h1M25 35h1M20 36h1M35 36h1M18 37h1M29 38h1M20 39h1M15 40h1M20 41h1M20 42h1M23 42h1M13 47h1M3 48h1M3 49h1M5 49h1M4 51h1M8 51h1M11 52h1M28 52h1M13 55h1M20 55h1M9 56h1M19 56h1M4 57h1M19 57h1M31 59h1M33 59h1M5 60h1M11 62h1M25 70h2M20 71h1M36 71h1M25 72h1M10 73h1M5 74h1M15 74h1M4 77h1M35 77h1M8 78h1M24 80h1M10 81h1M35 82h1M10 84h1M35 84h1M7 88h1M8 91h1M15 91h1M31 91h1M19 95h2M5 98h1M14 103h1M0 106h1M14 106h1M0 108h1M24 108h1M13 111h1M18 111h1M8 113h2M25 113h1M3 115h1M5 117h1M15 121h1M18 121h1M3 122h1M13 123h2M0 124h1M8 124h1M3 127h1M20 128h1M1 129h1M9 130h1M28 134h1M0 136h1M8 136h1M33 137h1M8 144h1M32 145h1M10 146h1M36 148h1M5 151h1M32 151h1M14 153h1M7 157h1M2 160h1M27 161h1M15 167h1M27 168h1M8 169h1M34 178h1M16 179h1M31 179h1M2 180h1M16 185h1M23 190h1M33 191h1M20 194h1M1 199h1M20 199h1M19 201h1"/>
<path stroke="#8cc8dc" d="M14 15h1M31 56h1M3 141h1"/>
<path stroke="#960a28" d="M9 5h1M30 58h1M19 81h1M30 83h1M12 88h1M13 97h1M18 134h1M18 150h1"/>
<path stroke="#961428" d="M12 1h1M0 11h1M27 25h1M32 38h1M12 39h1M32 51h1M10 65h1M32 67h1M0 68h1M1 69h1M0 70h1M30 72h1M32 74h1M30 80h1M11 87h1M12 89h1M23 89h1M13 91h1M23 94h1M23 99h1M19 127h1M13 128h1M22 132h1M36 137h1M26 157h1M34 160h1M35 163h1M26 164h1M22 174h1M32 201h1M34 203h1"/>
<path stroke="#961e28" d="M32 8h1M17 65h1M0 77h1M30 82h1M21 109h1M22 167h1M20 191h1"/>
<path stroke="#961e32" d="M27 23h1M12 26h1M27 27h1M32 30h1M28 40h1M32 47h1M7 58h1M23 74h1M30 74h1M23 81h1M32 87h1M11 97h1M35 149h1M22 155h1M36 164h1M13 170h1M13 178h1M21 181h1M36 183h1M5 192h1M10 202h1M9 203h1"/>
<path stroke="#962832" d="M32 22h1M30 27h1M12 30h1M29 83h1M30 95h1M35 138h1M32 188h1M13 202h1"/>
<path stroke="#966482" d="M3 33h1"/>
<path stroke="#966e82" d="M4 26h1M5 48h1M28 175h1M0 198h1"/>
<path stroke="#96788c" d="M24 74h1"/>
<path stroke="#96828c" d="M0 3h1M36 120h1"/>
<path stroke="#968c96" d="M30 59h1M25 69h1M16 85h1M14 115h1M20 121h1M4 139h1"/>
<path stroke="#968ca0" d="M13 38h1M3 77h1M16 124h1"/>
<path stroke="#969696" d="M28 24h1"/>
<path stroke="#9696a0" d="M9 13h1M28 17h1M4 24h1M19 47h1M31 51h1M23 54h1M13 60h1M4 96h1M20 112h1M12 192h1M4 199h1"/>
<path stroke="#9696aa" d="M33 1h1M29 10h1M1 83h1M24 85h1"/>
<path stroke="#96a0aa" d="M10 14h1M16 44h1M19 105h1M13 114h1M28 124h1"/>
<path stroke="#96a0b4" d="M20 13h1M8 31h1M24 33h1M15 59h1M15 122h1M0 192h1M32 194h1"/>
<path stroke="#96a0be" d="M33 63h1"/>
<path stroke="#96aab4" d="M18 8h1M36 15h1M34 55h1M4 117h1M10 169h1M5 175h1"/>
<path stroke="#96aabe" d="M20 24h1M9 71h1M24 78h1M36 88h1M17 107h1M0 147h1M10 152h1M4 161h1M25 163h1M3 168h1M6 169h1M27 175h1M24 182h1M6 197h1"/>
<path stroke="#96aac8" d="M13 4h1M20 117h1"/>
<path stroke="#96b4be" d="M8 5h1"/>
<path stroke="#96b4c8" d="M10 1h1M28 1h1M23 11h1M2 58h1M36 80h1M13 84h1M23 111h1M11 114h1M1 122h1M25 139h1M7 148h1M19 169h1M33 170h1"/>
<path stroke="#96b4d2" d="M16 3h1M2 10h1M28 12h1M9 18h1M14 30h1M23 38h1M25 47h1M12 80h1M26 95h1M4 110h1M4 146h1M1 156h1M31 170h1M24 171h1M10 175h1M23 197h1M31 201h1"/>
<path stroke="#96b4dc" d="M4 107h1"/>
<path stroke="#96bed2" d="M31 34h1M2 57h1M1 79h1M9 128h1M15 171h1"/>
<path stroke="#96bedc" d="M33 19h1M24 26h1M29 27h1M7 40h1M4 42h1M16 45h1M9 47h1M14 58h1M28 61h1M14 64h1M27 64h1M29 70h1M25 79h1M34 90h1M15 93h1M35 99h1M16 101h1M24 102h1M14 105h1M16 109h1M12 111h1M25 111h1M1 114h1M24 119h1M10 122h1M26 124h1M15 131h1M4 137h1M27 139h1M2 143h1M11 146h1M12 151h1M5 158h1M24 158h1M15 161h1M17 162h1M2 163h1M16 173h1M34 181h1M13 194h1M3 197h1M16 197h1"/>
<path stroke="#96c8dc" d="M33 0h1M1 1h1M3 2h1M20 2h1M5 4h1M23 5h1M33 8h1M34 9h1M4 11h1M2 13h1M26 20h1M26 21h1M5 24h1M5 32h1M35 32h1M14 37h1M28 37h1M16 38h1M0 39h1M29 41h1M25 42h1M4 43h1M20 43h1M26 43h1M36 44h1M26 45h1M3 47h1M8 50h1M4 52h1M26 52h1M15 55h1M29 55h1M12 57h1M14 60h1M25 61h1M0 63h1M34 63h1M24 64h1M6 66h1M24 66h2M25 75h1M6 77h1M10 82h1M34 84h1M6 86h1M5 91h1M27 97h1M31 97h1M35 102h1M25 105h1M2 106h1M24 107h1M28 110h1M29 113h1M17 114h1M14 116h1M23 116h1M5 118h1M14 118h1M18 120h1M33 124h1M11 128h1M2 130h1M22 135h1M5 136h1M3 138h1M22 140h1M0 144h1M11 145h1M36 150h1M13 151h1M17 161h1M19 161h1M11 162h1M9 165h1M9 168h1M8 170h1M32 182h1M17 184h1M30 186h1M24 187h1M0 189h1M24 191h1M3 192h1M13 193h1M33 195h1M12 202h1M23 202h1M33 202h1"/>
<path stroke="#a01428" d="M32 1h1M2 16h1M27 22h1M11 30h1M28 30h1M3 63h1M23 90h1M11 96h1M3 97h1M3 98h1M32 117h1M7 127h1M28 128h1M23 154h1M29 154h1M17 165h1M22 195h1M10 196h1M13 199h1"/>
<path stroke="#a01e28" d="M18 1h1M30 77h1M20 101h1M26 148h1M36 167h1M26 198h1"/>
<path stroke="#a01e32" d="M2 37h1M12 42h1M7 46h1M21 67h1M7 77h1M7 80h1M18 109h1M32 161h1M12 177h1M36 179h1"/>
<path stroke="#a02832" d="M12 18h1M7 47h1M11 55h1M30 55h1M7 76h1M23 76h1M11 79h1M11 88h1M16 92h1M16 93h1M17 95h1M14 126h1M12 131h1M17 139h2M11 199h1M18 200h1"/>
<path stroke="#a03232" d="M1 23h1M6 30h1M3 42h1M30 52h1M30 56h1M21 74h1M22 105h1M16 132h1M26 151h1M34 175h2M7 186h1M7 187h1"/>
<path stroke="#a0323c" d="M32 3h1M18 67h1M23 73h1M21 78h1M20 98h1M23 102h1M28 142h1M25 159h1"/>
<path stroke="#a03c3c" d="M31 7h1M7 36h1M21 37h1M21 77h1M19 82h1M16 104h1M1 110h1M14 120h1M17 127h1M13 129h1M19 159h1M34 202h1"/>
<path stroke="#a03c46" d="M0 65h1M20 166h1"/>
<path stroke="#a06e8c" d="M18 166h1"/>
<path stroke="#a0788c" d="M30 87h1M36 127h1"/>
<path stroke="#a0828c" d="M18 104h1M1 190h1"/>
<path stroke="#a08c8c" d="M16 147h1"/>
<path stroke="#a08c96" d="M7 56h1M7 66h1M21 73h1M33 99h1M32 100h1M13 145h1M12 163h1"/>
<path stroke="#a09696" d="M23 15h1"/>
<path stroke="#a096a0" d="M25 2h1M8 12h1M34 150h1M4 193h1"/>
<path stroke="#a0a0a0" d="M7 92h1M1 175h1"/>
<path stroke="#a0a0aa" d="M27 147h1"/>
<path stroke="#a0aaaa" d="M9 48h1M26 84h1M29 176h1"/>
<path stroke="#a0aab4" d="M21 13h1M26 16h1M13 35h1M25 44h1M2 54h1M36 92h1M33 111h1"/>
<path stroke="#a0aabe" d="M12 50h1M8 155h1"/>
<path stroke="#a0b4b4" d="M14 5h1M3 88h1"/>
<path stroke="#a0b4be" d="M3 1h1M28 9h1M24 21h1M16 26h1M20 48h1M24 69h1M24 86h1M2 98h1M29 121h1M3 145h1M28 145h1M4 164h1M18 169h1M30 173h1"/>
<path stroke="#a0b4c8" d="M24 58h1M13 110h1M0 120h1M7 123h1M20 131h2M33 139h1M0 156h1M5 156h1M29 170h1M4 174h1M12 195h1"/>
<path stroke="#a0bec8" d="M6 2h1M9 44h1M2 56h1M4 59h1M0 166h1"/>
<path stroke="#a0bed2" d="M8 27h1M1 35h1M8 48h1M31 66h1M36 81h1M3 83h1M13 89h1M16 108h1M9 116h1M8 119h1M23 121h1M33 123h1M16 146h1M24 146h1M16 159h1M24 201h1"/>
<path stroke="#a0bedc" d="M5 27h1M13 105h1M7 140h1"/>
<path stroke="#a0c8dc" d="M14 0h1M29 1h1M20 3h1M16 6h1M25 12h1M5 13h1M34 16h1M3 17h1M16 21h1M3 26h1M8 30h1M2 32h1M4 32h1M15 33h1M36 35h1M13 37h1M17 39h1M10 41h1M15 42h1M24 44h1M36 46h1M36 49h1M22 50h1M36 50h1M3 54h1M20 67h1M20 69h1M34 70h1M20 74h1M26 78h1M25 80h1M5 81h1M1 84h1M27 84h1M4 93h1M9 96h2M27 96h1M14 99h1M34 100h1M19 104h1M19 110h1M19 111h1M14 112h1M10 115h1M22 122h1M24 126h1M20 136h1M8 137h1M21 150h1M10 153h1M33 155h1M3 163h1M24 165h1M33 165h1M29 166h1M9 174h1M29 177h1M22 184h1M28 186h1M4 188h1M23 191h1M3 194h1M35 196h1M12 198h1M5 201h1"/>
<path stroke="#a0c8e6" d="M15 2h1M31 3h1M35 8h1M5 9h1M26 11h1M36 12h1M27 14h1M15 15h1M14 16h1M4 21h1M5 26h1M24 30h1M25 48h1M24 50h1M13 53h1M5 63h1M5 65h1M21 66h1M28 73h1M20 84h1M19 87h1M24 89h1M24 91h1M34 99h1M5 113h1M3 124h1M20 139h1M24 141h1M31 151h1M25 154h1M15 155h1M1 160h1M10 167h1M28 169h1M18 173h1M31 177h1M24 179h1M35 181h1M31 183h1M3 188h1M18 188h1M34 196h1M0 201h1"/>
<path stroke="#a0d2e6" d="M23 0h1M34 7h1M13 12h1M5 15h1M26 50h1M25 54h1M22 61h1M35 71h1M35 74h1M27 78h1M21 95h1M3 106h1M20 125h1M33 152h1M8 172h1M19 177h1M2 190h1M23 192h1M4 200h1"/>
<path stroke="#aa1428" d="M22 19h1M27 60h1M34 119h1M26 154h1M26 176h1M7 180h1M35 190h1"/>
<path stroke="#aa1e28" d="M23 49h1M0 78h1M0 103h1M22 165h1M18 199h1"/>
<path stroke="#aa1e32" d="M19 97h1M34 123h1M36 135h1M35 161h1M26 194h1"/>
<path stroke="#aa2832" d="M24 1h1M0 7h1M27 12h1M1 34h1M32 57h1M2 65h1M11 82h1M0 104h1M13 125h1M14 137h1M17 155h1M20 171h1M32 171h1M34 173h1M4 182h1"/>
<path stroke="#aa3232" d="M2 3h1M31 74h1M28 127h1M17 128h1M11 136h1M26 189h1M35 198h1"/>
<path stroke="#aa323c" d="M18 53h1M2 59h1M29 116h1"/>
<path stroke="#aa3c3c" d="M12 29h1M9 34h1M30 76h1M18 86h1M35 93h1M26 114h1M15 191h1M1 194h1"/>
<path stroke="#aa3c46" d="M27 11h1M21 97h1M35 130h1M10 162h1M19 165h1M35 187h1M1 189h1"/>
<path stroke="#aa4646" d="M1 8h1M11 27h1M35 39h1M32 40h1M19 70h1M17 79h1M17 87h1M29 87h1M18 92h1M20 99h1M12 102h1M8 106h1M15 107h1M1 121h1M5 142h1M18 142h1M26 161h1M32 166h1M0 182h1M35 184h1M25 187h1M8 202h1"/>
<path stroke="#aa5050" d="M11 16h1M35 51h1M27 56h1M7 63h1M25 102h1M2 108h1M26 132h1M18 133h1M23 145h1M35 148h1M12 170h1M21 182h1M5 191h1"/>
<path stroke="#aa5a50" d="M30 19h1M29 96h1"/>
<path stroke="#aa5a5a" d="M3 18h1M9 27h1M31 71h1M23 100h1M36 130h1M18 152h1M10 185h1"/>
<path stroke="#aa788c" d="M1 4h1M17 26h1M13 58h1M34 168h1M17 175h1M21 175h1"/>
<path stroke="#aa828c" d="M26 44h1M18 89h1M29 117h1"/>
<path stroke="#aa8c8c" d="M29 139h1M14 198h1"/>
<path stroke="#aa8c96" d="M32 105h1M17 137h1M34 149h1M6 176h1M26 199h1"/>
<path stroke="#aa9696" d="M8 58h1M35 116h1M32 126h1M3 137h1M14 159h1M1 200h1"/>
<path stroke="#aa96a0" d="M6 16h1M10 29h1M12 124h1M0 175h1"/>
<path stroke="#aaa0a0" d="M35 123h1M16 130h1M36 139h1M12 144h1M11 169h1M12 175h1M1 191h1M3 201h1"/>
<path stroke="#aaa0aa" d="M26 9h1"/>
<path stroke="#aaaaaa" d="M9 36h1M19 181h1M33 190h1"/>
<path stroke="#aaaab4" d="M11 2h1M25 115h1M12 153h1"/>
<path stroke="#aab4b4" d="M23 123h1M29 182h1"/>
<path stroke="#aab4be" d="M1 17h1M11 39h1M19 46h1M21 55h1M36 66h1M33 67h1M29 91h1M29 131h1M3 140h1"/>
<path stroke="#aabebe" d="M17 89h1"/>
<path stroke="#aabec8" d="M27 5h1M1 12h1M13 23h1M22 54h1M33 61h1M22 63h1M11 100h1M14 102h1M1 103h1M9 112h1M22 147h1M11 149h1M14 195h1"/>
<path stroke="#aabed2" d="M35 40h1M4 66h1M11 118h1M21 118h1"/>
<path stroke="#aac8d2" d="M21 22h1M20 29h1M28 74h1M5 79h1M34 79h1M8 120h1M20 135h1M8 171h1M28 185h1"/>
<path stroke="#aac8dc" d="M25 14h1M7 15h1M7 20h1M0 21h1M18 29h1M26 42h1M36 47h1M19 54h1M30 93h1M36 114h1M29 138h1M24 152h1M15 185h1M15 189h1M23 193h1"/>
<path stroke="#aac8e6" d="M5 159h1M31 167h1M5 195h1"/>
<path stroke="#aad2dc" d="M24 67h1M23 150h1M3 199h1"/>
<path stroke="#aad2e6" d="M0 0h1M13 2h1M23 3h1M25 3h1M22 4h1M8 10h1M3 14h1M31 15h1M35 17h1M9 19h1M26 19h1M35 22h1M1 26h1M36 29h1M34 30h1M6 32h1M21 32h1M23 32h1M10 34h1M4 35h1M5 38h1M12 40h1M25 41h1M6 42h1M36 43h1M2 44h1M19 44h1M22 47h1M30 48h1M19 49h1M7 50h1M27 50h1M5 51h1M21 54h1M5 58h1M22 58h1M20 60h1M30 60h1M26 62h1M28 62h1M34 62h1M31 64h1M36 64h1M24 65h1M28 65h1M29 66h1M33 66h1M5 68h1M24 70h1M1 72h1M13 75h1M15 75h1M11 76h1M24 76h1M31 77h1M8 79h1M3 80h2M22 83h1M22 85h1M3 87h1M27 87h1M26 90h1M22 92h1M20 93h1M26 93h1M4 94h1M33 94h1M24 97h1M2 104h1M11 105h1M36 105h1M12 108h1M19 108h1M9 110h1M33 112h1M29 115h1M9 117h1M15 118h1M9 121h1M11 126h1M15 126h1M29 127h1M33 127h1M5 130h1M8 138h1M15 142h1M25 146h1M16 148h1M14 150h1M25 150h1M35 150h1M33 151h1M12 156h1M17 157h1M0 160h1M4 160h1M0 161h1M0 174h1M19 175h1M24 175h1M13 176h1M35 176h1M31 181h1M2 182h1M8 184h1M25 184h1M5 185h1M3 189h1M28 189h1M22 190h1M16 192h1M30 193h1M5 194h1M3 195h1M20 196h1M5 199h1M28 199h1M32 200h1M3 203h1"/>
<path stroke="#b41428" d="M0 33h1"/>
<path stroke="#b41e28" d="M34 155h1"/>
<path stroke="#b41e32" d="M17 8h1M21 16h1M12 41h1M18 51h1M12 53h1M12 60h1M12 74h1M32 97h1M36 138h1M19 142h1M36 142h1M23 155h1M34 172h1M20 174h1M10 189h1"/>
<path stroke="#b42832" d="M32 5h1M30 6h1M3 9h1M0 10h1M3 10h1M6 34h1M26 58h1M27 62h1M29 71h1M28 84h1M12 85h1M23 107h1M1 108h1M26 113h1M12 116h1M12 118h1M34 121h1M19 134h1M26 146h1M0 177h1M32 179h1M26 193h1M17 194h1M0 195h1M1 196h1M12 200h1"/>
<path stroke="#b43232" d="M18 39h1M0 66h1M18 91h1M3 99h1M28 126h1M26 139h1"/>
<path stroke="#b4323c" d="M33 14h1M12 86h1M17 96h1M35 127h1M7 128h1M34 136h1M36 136h1M32 163h1M11 177h1"/>
<path stroke="#b43c3c" d="M28 33h1M11 42h1M0 67h2M1 68h1M27 75h1M33 78h1M18 102h1M36 131h1M22 134h1M13 137h1M34 143h1M35 147h1M11 155h1M17 166h1M26 172h1M35 194h1M18 195h1"/>
<path stroke="#b43c46" d="M12 171h1M34 199h1"/>
<path stroke="#b44646" d="M9 35h1M7 44h1M33 135h1M7 136h1M7 168h1M35 172h1"/>
<path stroke="#b45046" d="M34 112h1M15 179h1"/>
<path stroke="#b45050" d="M30 9h1M29 59h1M34 116h1M36 121h1M36 144h1M17 146h1M21 199h1"/>
<path stroke="#b45a50" d="M2 75h1"/>
<path stroke="#b45a5a" d="M3 19h1M3 38h1M17 129h1M36 157h1M36 194h1"/>
<path stroke="#b46464" d="M2 2h1M7 35h1M30 51h1M12 54h1M19 74h1M13 79h1M19 83h1M19 98h1M23 98h1"/>
<path stroke="#b4646e" d="M27 13h1M17 78h1M13 98h1M22 103h1M21 126h1M18 143h1M36 195h1"/>
<path stroke="#b46e6e" d="M20 5h1M15 30h1M30 62h1M32 92h1M32 165h1"/>
<path stroke="#b46e78" d="M29 13h1M7 14h1M14 25h1M17 51h1M3 69h1M13 191h1"/>
<path stroke="#b47878" d="M17 136h1"/>
<path stroke="#b47882" d="M10 18h1M11 64h1M0 69h1M7 99h1M27 132h1M34 139h1M20 175h1"/>
<path stroke="#b4788c" d="M29 4h1M11 33h1M10 55h1M20 114h1M22 127h1"/>
<path stroke="#b4828c" d="M28 80h1M4 86h1M34 118h1M16 133h1M27 201h1"/>
<path stroke="#b48c96" d="M6 31h1M35 95h1M29 161h1M14 162h1M1 202h1"/>
<path stroke="#b49696" d="M19 13h1M19 51h1M3 61h1M4 71h1M27 101h1M19 172h1"/>
<path stroke="#b496a0" d="M35 26h1M26 51h1"/>
<path stroke="#b4a0a0" d="M23 18h1M0 36h1M33 65h1M6 71h1M8 97h1M29 144h1M3 154h1M15 195h1"/>
<path stroke="#b4a0aa" d="M9 100h1"/>
<path stroke="#b4aaa0" d="M11 15h1"/>
<path stroke="#b4aaaa" d="M13 7h1M33 39h1M2 47h1M2 53h1M24 84h1M29 90h1M30 91h1M20 108h1M9 111h1M16 135h1M6 161h1"/>
<path stroke="#b4b4b4" d="M15 0h1M17 1h1M35 20h1M7 67h1M24 99h1M10 108h1M9 109h1M27 146h1M20 154h1M4 159h1M24 159h1M32 172h1M5 184h1M25 199h1M5 203h1"/>
<path stroke="#b4b4be" d="M12 49h1M5 150h1M16 196h1"/>
<path stroke="#b4bebe" d="M24 13h1M4 54h1M34 66h1M12 157h1"/>
<path stroke="#b4bec8" d="M4 67h1M7 85h1M5 127h1M29 152h1M34 182h1M15 193h1M19 203h1"/>
<path stroke="#b4c8c8" d="M17 5h1M34 19h1M6 82h1"/>
<path stroke="#b4c8d2" d="M16 4h1M28 5h1M18 7h1M35 18h1M6 29h1M17 41h1M36 53h1M17 75h1M1 81h1M9 114h1M35 122h1M35 134h1M34 153h1M18 155h1M24 155h1M20 169h1M11 172h1"/>
<path stroke="#b4c8dc" d="M29 35h1M4 61h1M24 105h1M12 185h1"/>
<path stroke="#b4d2dc" d="M25 1h1M31 43h1M36 63h1M31 67h1M18 110h1M33 113h1M22 126h1M20 134h1M7 139h1M31 155h1M24 166h1"/>
<path stroke="#b4d2e6" d="M7 0h1M13 1h1M19 2h1M28 2h1M10 5h1M36 5h1M7 8h1M22 8h1M2 11h1M17 13h1M8 18h1M20 18h1M3 22h2M21 23h1M36 23h1M34 25h1M17 27h1M36 31h1M11 34h1M23 36h1M1 40h1M34 42h1M23 44h1M22 46h1M21 47h1M0 49h1M14 50h1M31 58h1M17 60h1M29 62h1M28 66h1M34 68h1M13 70h1M33 72h1M28 75h1M2 76h1M20 76h1M13 77h1M3 82h1M2 83h1M5 83h1M21 87h1M26 88h1M2 91h1M28 91h1M7 93h1M36 94h1M25 96h1M26 99h1M24 100h1M33 100h1M32 103h1M20 104h1M3 107h1M35 107h1M12 115h1M1 116h1M33 116h1M8 121h1M27 124h1M1 125h1M20 126h1M1 127h1M11 132h1M14 134h1M34 135h1M15 136h1M0 143h1M8 143h1M34 145h1M19 148h1M12 149h1M13 156h1M18 160h1M7 163h1M29 169h1M18 170h1M18 172h1M6 182h1M29 189h1M19 193h1M14 194h1M0 199h1M17 201h1M14 203h2"/>
<path stroke="#b4dce6" d="M17 3h1M25 28h1M30 31h1M13 39h1M9 45h1M13 49h1M13 54h1M4 56h1M11 63h1M16 65h1M25 65h1M8 67h1M8 81h1M5 89h1M10 116h1M20 116h1M19 123h1M21 143h1M19 167h1M3 178h1M16 182h1M19 182h1M12 184h1M22 197h1"/>
<path stroke="#be2832" d="M18 10h1M10 19h1M32 33h1M28 39h1M11 56h1M19 72h1M36 73h1M18 74h1M17 86h1M32 88h1M17 100h1M23 143h1M32 157h1M10 164h1M1 188h1"/>
<path stroke="#be3232" d="M35 29h1M7 53h1M16 56h1M2 60h1M26 173h1M28 174h1M22 176h1M25 188h1"/>
<path stroke="#be323c" d="M30 14h1M23 31h1M2 34h1M35 43h1M17 55h1M31 70h1M27 73h1M23 75h1M21 85h1M32 90h1M23 103h1M32 114h1M22 133h1M5 141h1M21 155h1M12 162h1M32 162h1M32 178h1M34 187h1"/>
<path stroke="#be3c3c" d="M27 21h1M0 31h1M15 31h1M2 40h1M0 64h1M18 65h1M12 87h1M7 94h1M7 129h1M10 149h1M7 154h1M35 157h1M10 163h1M36 171h1M0 181h1M36 186h1M36 191h1M5 197h1"/>
<path stroke="#be463c" d="M18 17h1M17 147h1"/>
<path stroke="#be4646" d="M32 6h1M7 13h1M1 42h1M7 69h1M0 90h1M17 117h1M35 126h1M34 180h1M22 196h1"/>
<path stroke="#be5046" d="M19 77h1M36 173h1M18 203h1"/>
<path stroke="#be5050" d="M1 3h1M30 32h1M27 46h1M18 77h1M36 188h1M7 198h1"/>
<path stroke="#be5a50" d="M29 85h1M5 168h1M14 183h1M36 201h1"/>
<path stroke="#be5a5a" d="M27 51h1M13 168h1M35 200h1"/>
<path stroke="#be6464" d="M12 12h1M35 128h1M36 155h1M15 190h1M36 193h1M19 196h1M10 201h1"/>
<path stroke="#be646e" d="M17 84h1"/>
<path stroke="#be6e6e" d="M28 22h1M18 93h1M17 103h1M12 112h1M13 198h1"/>
<path stroke="#be7878" d="M17 12h1M19 80h1"/>
<path stroke="#be788c" d="M18 38h1M8 197h1"/>
<path stroke="#be828c" d="M12 19h1M3 35h1M14 35h1M12 46h1M6 60h1M7 107h1M7 113h1M12 122h1M0 137h1M27 137h1M1 138h1M36 158h1M21 164h1M35 182h1"/>
<path stroke="#be8c96" d="M17 159h1M15 169h1"/>
<path stroke="#be9696" d="M36 11h1M14 29h1M22 30h1M11 54h1M16 60h1M10 168h1M15 199h1"/>
<path stroke="#bea0a0" d="M9 31h1M12 83h1M0 110h1M14 110h1M29 142h1M14 201h1M35 201h1"/>
<path stroke="#beaaa0" d="M31 184h1"/>
<path stroke="#beaaaa" d="M14 1h1M35 16h1M20 21h1M19 40h1M8 52h1M17 63h1M27 65h1M11 68h1M17 72h1M14 84h1M4 88h1M16 90h1M36 104h1M16 118h1M35 146h1M15 175h1M34 191h1M14 197h1"/>
<path stroke="#beb4aa" d="M22 98h1M27 189h1M21 203h1"/>
<path stroke="#beb4b4" d="M18 49h1M10 70h1M23 115h1M28 163h1M29 188h1"/>
<path stroke="#bebebe" d="M36 30h1M29 43h1M29 48h1M33 57h1M30 66h1M30 67h1M19 71h1M2 87h1M0 139h1M0 142h1M20 153h1M12 168h1M28 177h1M15 178h1"/>
<path stroke="#bebec8" d="M36 111h1M4 142h1M9 145h1"/>
<path stroke="#bec8c8" d="M25 11h1M4 23h1M14 31h1M20 57h1M23 58h1M29 74h1M9 75h1M34 92h1M1 96h1M24 202h1"/>
<path stroke="#bec8d2" d="M3 3h1M6 11h1M30 13h1M10 16h1M33 37h1M11 58h1M13 63h1M12 82h1M27 141h1M20 142h1M24 172h1"/>
<path stroke="#bed2d2" d="M31 27h1M16 110h1M1 130h1M19 179h1M13 186h1M26 203h1"/>
<path stroke="#bed2dc" d="M36 3h1M26 8h1M1 15h1M35 24h1M13 28h1M4 31h1M34 44h1M22 62h1M6 69h1M12 73h1M29 75h1M1 78h1M36 79h1M21 81h1M34 91h1M25 104h1M20 105h1M22 115h1M14 128h1M29 129h1M33 131h1M25 143h1M2 146h1M23 166h1M32 176h1M22 189h1M11 194h1M32 197h1"/>
<path stroke="#bed2e6" d="M11 14h1M14 19h1M19 39h1M36 112h1M12 120h1M0 157h1"/>
<path stroke="#bedce6" d="M11 1h1M23 2h1M18 5h1M25 10h1M26 12h1M12 15h1M3 16h1M36 16h1M14 17h1M29 17h1M24 25h1M33 26h1M17 29h1M25 31h1M12 32h1M15 34h1M4 36h1M13 40h1M13 43h1M3 45h1M19 45h1M15 46h1M20 50h1M5 52h1M31 55h1M29 56h1M14 59h1M22 59h1M1 60h1M33 60h1M25 62h1M33 62h1M6 63h1M22 67h1M28 68h1M29 69h1M9 73h1M15 76h1M34 78h1M35 81h1M16 86h1M31 87h1M21 90h1M0 94h1M4 97h1M22 97h1M9 101h1M5 103h1M21 103h1M1 105h1M35 105h1M5 112h1M36 113h1M0 115h1M35 117h1M20 118h1M14 122h1M19 122h1M26 125h1M2 129h1M0 130h1M10 130h1M3 136h1M10 136h1M33 136h1M9 137h1M4 140h1M35 140h1M21 142h1M5 144h1M29 145h1M5 146h1M8 146h1M20 147h1M25 147h1M16 153h1M9 154h1M2 155h1M16 157h1M3 160h1M2 161h1M3 164h1M9 164h1M12 167h1M21 167h1M27 167h1M4 169h1M27 170h1M14 171h1M33 171h1M14 177h1M6 179h1M34 179h1M2 183h2M28 183h1M2 184h1M22 185h1M8 192h1M0 193h1M30 196h1M23 200h1M6 203h1M30 203h1"/>
<path stroke="#bedcf0" d="M20 7h1M7 19h1M34 28h1M16 43h1M17 50h1M5 64h1M22 64h1M9 74h1M33 85h1M24 103h1M11 106h1M8 111h1M29 114h1M17 115h1M22 124h1M21 128h1M32 137h1M31 141h1M15 145h1M11 163h1M19 163h1M16 164h1M15 177h1M33 177h1M31 180h1M24 203h1"/>
<path stroke="#c83c3c" d="M30 11h1M10 20h1M2 41h1M27 63h1M10 66h1M12 68h1M30 73h1M21 76h1M30 84h1M13 95h1M12 113h1M32 115h1M26 129h1M28 129h1M26 134h1M16 138h1M36 146h1M32 149h1M36 149h1M17 153h1M29 156h1M21 159h1M22 166h1M12 173h1M35 192h1M18 193h1"/>
<path stroke="#c8463c" d="M17 17h1M34 27h1M30 29h1M29 32h1M30 37h1M32 42h1M27 54h1M26 59h1M12 71h1M18 95h1M32 119h1M27 126h1M36 126h1M18 129h1M34 129h1M12 132h1M7 161h1M5 170h1M13 173h1"/>
<path stroke="#c84646" d="M6 0h1M18 0h1M28 28h1M7 34h1M30 43h1M35 47h1M30 61h1M19 69h1M0 72h1M3 74h1M16 74h1M6 81h1M12 81h1M33 86h1M15 97h1M10 105h1M23 109h1M36 124h1M21 127h1M17 133h1M7 135h1M21 148h1M36 156h1M12 169h1M0 171h1M11 179h1M17 187h1M21 194h1M26 197h1"/>
<path stroke="#c85046" d="M30 1h1M12 3h1M32 29h1M31 39h1M16 51h1M2 52h1M17 64h1M21 71h1M30 71h1M27 74h1M28 116h1M28 125h1M23 126h1M18 128h1M27 130h1M31 139h1M26 141h1M36 141h1M36 147h1M27 151h1M36 153h1M18 158h1M10 159h1M12 160h1M7 167h1M36 174h1M7 176h1M8 177h1M17 180h1M10 188h1"/>
<path stroke="#c85050" d="M30 15h1M32 24h1M36 38h1M10 44h1M30 75h1M7 98h1M32 123h1M19 128h1M21 134h1M28 157h1M14 175h1M26 188h1M1 197h1"/>
<path stroke="#c85a50" d="M18 14h1M30 36h1M18 75h1M36 145h1M17 186h1"/>
<path stroke="#c85a5a" d="M32 25h1M3 67h1M21 96h1M11 175h1M0 179h1M9 202h1"/>
<path stroke="#c8645a" d="M21 19h1M30 35h1M32 94h1M24 189h1"/>
<path stroke="#c86464" d="M28 14h1M27 38h1M31 83h1M21 106h1M0 155h1M23 173h1M10 181h1"/>
<path stroke="#c86e6e" d="M30 23h1M7 51h1M14 78h1M30 79h1M27 127h1M26 152h1M12 155h1M36 168h1M34 186h1M8 203h1"/>
<path stroke="#c86e78" d="M28 131h1"/>
<path stroke="#c87878" d="M1 61h1M13 92h1M21 149h1M32 173h1"/>
<path stroke="#c87882" d="M12 65h1M13 94h1M11 98h1"/>
<path stroke="#c8828c" d="M30 22h1M7 61h1M1 62h1M15 119h1M32 186h1"/>
<path stroke="#c88c96" d="M27 1h1M30 16h1M26 17h1M11 47h1M25 51h1M29 105h1M1 117h1M7 150h1M32 155h1M19 197h1"/>
<path stroke="#c89696" d="M27 6h1M1 47h1M26 56h1M15 98h1M13 100h1M14 135h1M12 146h1M9 192h1"/>
<path stroke="#c8a096" d="M18 171h1M26 195h1"/>
<path stroke="#c8a0a0" d="M13 6h1M31 14h1M35 33h1M30 42h1M11 45h1M33 53h1M14 96h1M8 107h1M28 122h1M16 178h1M7 197h1"/>
<path stroke="#c8aaa0" d="M3 8h1M27 39h1M4 45h1M23 69h1M0 116h1"/>
<path stroke="#c8aaaa" d="M25 34h1M28 36h1M25 53h1M1 163h1M29 172h1M21 201h1"/>
<path stroke="#c8b4aa" d="M16 35h1M26 48h1M13 112h1M5 119h1M1 120h1M1 136h1M36 154h1M21 161h1M4 191h1"/>
<path stroke="#c8b4b4" d="M3 13h1M31 19h1M0 47h1M34 53h1M12 58h1M14 62h1M10 97h1M0 129h1"/>
<path stroke="#c8beb4" d="M9 41h1M23 72h1M0 101h1M18 101h1M0 109h1M18 117h1M22 118h1M26 135h1"/>
<path stroke="#c8bebe" d="M10 47h1M2 49h1M28 89h1M2 105h1M26 105h1M21 113h1M11 116h1M12 123h1M11 154h1M8 173h1M15 182h1M24 188h1"/>
<path stroke="#c8c8be" d="M6 5h1M31 18h1M25 177h1M24 196h1M9 198h1"/>
<path stroke="#c8c8c8" d="M27 9h1M36 9h1M26 14h1M28 18h1M23 37h1M35 44h1M16 61h1M30 64h1M20 72h1M1 75h1M26 92h1M10 93h1M34 102h1M7 103h1M14 113h1M19 125h1M14 130h1M32 134h1M31 169h1M8 178h1"/>
<path stroke="#c8c8d2" d="M23 67h1M19 121h1M32 177h1"/>
<path stroke="#c8d2d2" d="M27 15h1M21 18h1M5 22h1M33 30h1M10 31h1M1 37h1M35 37h1M34 41h1M14 47h1M36 57h1M4 89h1M20 89h1M35 91h1M5 100h1M25 109h1M33 141h1M15 148h1M20 150h1M1 152h1M32 152h1M26 166h1M32 185h1"/>
<path stroke="#c8d2dc" d="M21 2h1M27 8h1M6 27h1M23 27h1M22 35h1M20 54h1M3 56h1M12 72h1M27 85h1M31 90h1M9 91h1M19 107h1M17 116h1M18 118h1M3 121h1M15 133h1M30 146h1M13 148h1M18 149h1M12 152h1M13 165h1M2 167h1M27 180h1M4 184h1M29 186h1M29 197h1"/>
<path stroke="#c8dcdc" d="M11 18h1M21 24h1M23 24h1M22 29h1M29 34h1M1 58h1M13 71h1M8 72h1M33 119h1M7 147h1M1 149h1M20 155h1M24 156h1M29 198h1"/>
<path stroke="#c8dce6" d="M5 8h1M16 8h1M19 25h1M1 36h1M8 36h1M22 66h1M34 71h1M34 76h1M24 79h1M9 93h1M21 94h1M26 112h1M24 142h1M24 143h1M4 167h1M15 173h1M33 178h1M28 191h1M13 192h1M34 194h1M9 197h1M21 197h1M33 197h1"/>
<path stroke="#c8dcf0" d="M7 3h1M9 4h1M9 11h1M21 11h1M10 13h1M23 13h1M22 14h1M8 17h1M30 17h1M28 19h1M3 24h1M24 28h1M9 46h1M31 52h1M21 58h1M13 64h1M20 70h1M33 73h1M4 76h1M9 76h1M27 76h1M31 78h1M8 80h1M2 81h1M26 81h1M9 87h1M5 90h1M3 95h1M9 95h1M25 95h1M28 101h1M33 101h1M11 102h1M28 104h1M34 107h1M3 110h1M1 111h1M23 112h1M31 113h1M1 123h1M5 124h1M32 131h1M2 138h1M21 139h1M28 141h1M31 142h1M14 143h1M3 144h1M8 145h1M21 158h1M21 163h1M4 166h1M33 168h1M3 171h1M5 181h1M13 184h1M29 184h1M11 193h1"/>
<path stroke="#c8e6f0" d="M34 2h1M11 4h1M10 12h1M0 14h1M23 29h1M22 36h1M33 38h1M10 39h1M11 51h1M4 55h1M13 74h1M25 83h1M9 103h1M14 108h1M31 112h1M31 136h1M11 139h1M32 139h1M12 141h1M4 147h1M2 153h1M35 158h1M8 160h1M5 177h1M9 179h1M23 186h1M18 198h1"/>
<path stroke="#d25046" d="M30 5h1M0 34h1M30 34h1M32 35h1M27 45h1M27 47h1M33 68h1M33 76h1M2 79h1M0 83h1M19 84h1M30 90h1M19 92h1M33 97h1M16 107h1M34 141h1M23 142h1M15 143h1M26 150h1M32 158h1M29 159h1M23 168h1M35 169h1M36 178h1M33 182h1M17 193h1M15 198h1M7 201h1"/>
<path stroke="#d25050" d="M30 0h1M21 20h1M7 43h1M16 49h1M13 80h1M11 85h1M16 105h1M32 107h1M16 115h1"/>
<path stroke="#d25a46" d="M2 25h1M11 41h1M3 64h1M7 78h1M0 79h1M0 91h1M23 95h1M16 100h1M7 122h1M36 125h1M16 127h1M35 132h1M13 160h1M36 196h1M11 198h1"/>
<path stroke="#d25a50" d="M2 8h1M3 11h1M18 12h1M0 22h1M2 22h1M12 23h1M28 25h1M27 26h1M2 27h1M35 27h1M12 28h1M31 28h1M30 33h1M6 35h1M4 40h1M4 41h1M6 41h1M30 45h1M7 54h1M17 56h1M3 58h1M32 60h1M1 63h1M10 63h1M15 66h1M2 68h1M32 68h1M11 69h1M7 75h1M12 75h1M30 81h1M23 84h1M25 91h1M22 102h1M32 102h1M7 110h1M16 113h1M34 122h1M34 124h1M23 131h1M7 132h1M32 133h1M27 134h1M34 142h1M19 150h1M20 152h1M28 154h1M34 159h1M5 161h1M33 162h1M36 163h1M34 164h1M14 165h1M11 167h1M26 169h1M23 170h1M36 172h1M20 176h1M32 183h1M6 199h1M8 199h1"/>
<path stroke="#d25a5a" d="M1 24h1M19 78h1M22 80h1M0 178h1"/>
<path stroke="#d26450" d="M6 12h1M12 20h1M6 56h1M30 57h1M29 60h1M3 72h1M29 76h1M29 86h1M36 110h1M16 112h1M34 115h1M29 130h1M10 137h1M15 144h1M29 155h1M18 156h1M18 157h1M26 163h1M12 176h1M9 185h1M7 193h1M20 193h1M29 194h1M15 197h1M17 203h1"/>
<path stroke="#d2645a" d="M1 2h1M14 8h1M5 41h1M28 43h1M14 45h1M32 45h1M7 48h1M21 52h2M0 76h1M36 77h1M18 78h1M0 86h1M26 107h1M36 132h1M36 134h1M13 136h1M29 141h1M19 143h1M35 144h1M27 152h1M3 179h1M4 183h1M8 183h1M9 194h1M0 196h1M21 200h1"/>
<path stroke="#d26464" d="M32 23h1M0 32h1M10 54h1M11 104h1M32 135h1M10 139h1M20 163h1"/>
<path stroke="#d26e64" d="M30 78h1M7 82h1M32 122h1M13 141h1M27 159h1M12 161h1"/>
<path stroke="#d26e6e" d="M2 18h1M23 48h1M31 80h1M18 87h1M27 110h1M10 173h1M10 183h1M18 202h1"/>
<path stroke="#d27878" d="M12 43h1M8 180h1"/>
<path stroke="#d27882" d="M27 43h1M29 58h1M22 104h1"/>
<path stroke="#d28282" d="M11 13h1M14 28h1M11 48h1M22 86h1M13 138h1M18 177h1"/>
<path stroke="#d2828c" d="M18 45h1M14 71h1M29 72h1M17 99h1M21 169h1"/>
<path stroke="#d28c96" d="M13 0h1M6 28h1M3 29h1M23 46h1M22 74h1M21 112h1M32 113h1M0 173h1M21 196h1"/>
<path stroke="#d29696" d="M3 37h1M1 39h1M14 46h1M23 56h1M34 72h1M12 95h1M34 110h1M26 162h1M25 171h1M1 177h1M9 186h1M20 201h1"/>
<path stroke="#d2a096" d="M36 170h1M5 186h1"/>
<path stroke="#d2a0a0" d="M5 23h1M10 24h1M1 25h1M8 28h1M9 54h1M7 57h1M32 85h1M16 125h1M34 126h1M17 132h1M26 133h1M31 134h1M35 145h1M36 190h1M36 199h1"/>
<path stroke="#d2aaa0" d="M12 8h1M36 72h1M5 75h1M16 80h1M29 89h1M2 107h1M35 118h1M0 134h1M32 143h1M24 169h1"/>
<path stroke="#d2aaaa" d="M2 5h1M13 27h1M16 62h1M10 112h1M19 115h1M4 127h1M7 174h1M28 193h1M28 195h1"/>
<path stroke="#d2b4aa" d="M10 9h1M21 26h1M21 46h1M10 79h1M27 121h1M19 140h1M33 160h1M8 194h1M17 198h1"/>
<path stroke="#d2b4b4" d="M9 20h1M29 39h1M34 101h1M20 120h1M35 170h1M27 197h1"/>
<path stroke="#d2beb4" d="M29 9h1M21 17h1M1 22h1M28 27h1M24 47h1M5 70h1M28 77h1M27 116h1M17 131h1M12 135h1M21 147h1M11 161h1M14 172h1M25 174h1M30 174h1M0 190h1M25 195h1"/>
<path stroke="#d2bebe" d="M17 16h1M12 52h1M36 82h1M33 105h1M31 128h1"/>
<path stroke="#d2c8be" d="M29 0h1M29 2h1M1 41h1M9 69h1M14 100h1M26 118h1M0 119h1M28 150h1M21 162h1M20 164h1M3 182h1M23 188h1M5 196h1"/>
<path stroke="#d2c8c8" d="M19 5h1M32 15h1M13 29h1M0 42h1M20 78h1M23 122h1M25 124h1M17 130h1M34 130h1M15 138h1M17 149h1M16 162h1M16 181h1M20 186h1M3 198h1"/>
<path stroke="#d2d2c8" d="M25 25h1M6 46h1M31 72h1M10 90h1M4 145h1M15 150h1M4 171h1M34 193h1"/>
<path stroke="#d2d2d2" d="M19 3h1M21 6h1M5 10h1M4 12h1M6 19h1M25 60h1M6 67h1M26 69h1M1 102h1M7 102h1M27 122h1M15 130h1M0 135h1M28 136h1M28 137h1M32 140h1M27 153h1M34 157h1M22 158h1M16 168h1M25 168h1M14 179h1M29 181h1M11 196h1M12 203h1M16 203h1"/>
<path stroke="#d2d2dc" d="M12 6h1M20 53h1M3 55h1M24 98h1M16 177h1M9 178h1"/>
<path stroke="#d2dcdc" d="M25 9h1M24 14h1M31 20h1M17 23h1M36 24h1M11 25h1M24 31h1M22 34h1M9 40h1M18 44h1M5 50h1M14 52h1M22 57h1M2 78h1M18 82h1M28 97h1M9 102h1M25 110h1M21 119h1M23 120h1M5 121h1M11 125h1M11 134h1M14 146h1M14 151h1M5 152h1M31 152h1M35 159h1M2 164h1M17 168h1M17 172h1M14 174h1M7 175h1M18 184h1M24 185h1"/>
<path stroke="#d2dce6" d="M22 3h1M10 6h1M31 12h1M34 13h1M11 26h1M9 33h1M5 46h1M22 68h1M7 87h1M16 98h1M21 104h1M33 104h1M11 109h1M13 135h1M16 180h1M34 192h1M9 199h1"/>
<path stroke="#d2e6e6" d="M23 33h1M23 136h1M17 142h1M3 153h1M2 166h1M23 178h1M28 180h1"/>
<path stroke="#d2e6f0" d="M10 0h1M23 4h1M15 10h1M36 10h1M11 11h1M34 12h1M31 16h1M36 18h1M27 19h1M26 24h1M32 28h1M35 30h1M35 41h1M33 43h1M0 44h1M0 48h1M22 48h1M6 51h1M10 53h1M8 54h1M22 56h1M35 57h1M27 59h1M10 61h1M33 64h1M34 73h1M33 74h1M10 75h1M35 79h1M1 80h1M27 81h1M22 82h1M13 83h1M15 83h1M22 89h1M20 90h1M3 93h1M10 98h1M28 99h1M18 100h1M33 102h1M9 104h1M36 106h1M20 107h1M7 115h1M31 115h1M10 117h1M27 119h1M0 121h1M25 126h1M29 137h1M27 140h1M4 141h1M15 141h1M3 143h1M20 143h1M11 148h1M3 161h1M26 168h1M15 172h1M27 172h1M11 173h1M4 175h1M22 178h1M24 178h1M24 180h1M26 180h1M22 183h1M26 184h1M27 186h1M33 186h1M12 190h1M1 192h1M10 194h1M27 203h1"/>
<path stroke="#dc6450" d="M14 4h1M12 10h1M18 13h1M18 26h1M33 45h1M35 48h1M18 56h1M18 72h1M11 91h1M18 96h1M32 109h1M7 130h1M23 132h1M34 132h1M35 137h1M26 138h1M10 177h1M33 181h1M14 182h1M1 183h1M17 192h1"/>
<path stroke="#dc645a" d="M14 3h1M32 26h1M17 49h1M21 63h1M27 71h1M19 75h1M0 85h1M11 89h1M34 127h1M12 133h1M12 154h1M11 159h1M13 169h1M0 170h1M36 175h1M18 185h1M35 186h1"/>
<path stroke="#dc6e50" d="M30 24h1M0 25h1M32 58h1"/>
<path stroke="#dc6e5a" d="M2 0h1M34 0h1M12 2h1M29 3h1M23 8h1M1 19h1M17 21h1M7 26h1M11 28h1M1 31h1M11 32h1M0 35h1M28 35h1M31 35h1M13 36h1M7 37h1M31 37h1M30 40h1M18 50h1M17 54h1M5 55h1M2 69h1M1 70h1M2 73h1M18 73h1M21 75h1M33 77h1M31 82h1M17 85h1M19 85h1M11 86h1M16 91h1M20 97h1M27 98h1M12 104h1M16 116h1M17 118h1M29 134h1M19 135h1M7 143h1M17 145h1M32 148h1M21 153h1M27 155h1M18 159h1M14 163h1M22 163h1M5 169h1M15 170h1M26 174h1M35 174h1M11 178h2M21 180h1M17 181h1M7 182h1M21 184h1M26 187h1M21 193h1M1 195h1M29 195h1M35 203h1"/>
<path stroke="#dc6e64" d="M0 8h1M2 36h1M29 40h1M17 66h1M13 68h1M20 100h1M23 106h1M34 120h1M21 122h1M13 124h1M13 127h1M18 127h1M21 136h1M34 158h1M5 163h1M20 173h1"/>
<path stroke="#dc6e6e" d="M23 35h1M16 72h1M32 142h1M18 183h1"/>
<path stroke="#dc785a" d="M10 25h1M2 35h1M32 52h1M26 60h1M12 67h1M16 94h1M33 98h1M15 135h1M21 135h1M7 142h1M35 152h1M14 161h1M34 162h1M22 164h1M21 170h1M27 178h1M20 192h1M11 197h1"/>
<path stroke="#dc7864" d="M36 4h1M5 11h1M12 33h1M14 33h1M27 35h1M11 36h1M19 41h1M30 47h1M15 50h1M16 55h1M3 60h1M12 62h1M16 63h1M14 70h1M16 75h1M22 75h1M22 76h1M18 79h1M11 81h1M10 85h1M13 88h1M32 95h1M4 101h1M28 108h1M36 109h1M16 117h1M13 126h1M22 128h1M5 143h1M34 146h1M10 158h1M23 158h1M1 173h1M21 174h1M32 175h1M1 176h1M11 176h1M27 177h1M19 178h1M11 181h1M0 185h1M25 186h1M14 188h1M20 200h1"/>
<path stroke="#dc786e" d="M17 9h1M11 17h1M6 39h1M20 51h1M23 51h1M20 52h1M12 61h1M28 87h1M22 88h1M21 132h1M28 149h1M23 152h1M23 164h1M15 165h1M27 192h1M27 202h1"/>
<path stroke="#dc7878" d="M27 16h1M3 44h1M11 65h1M21 86h1M17 141h1M10 180h1"/>
<path stroke="#dc7882" d="M25 103h1"/>
<path stroke="#dc8264" d="M28 29h1"/>
<path stroke="#dc826e" d="M27 24h1M1 33h1M32 34h1M21 82h1M27 102h1M18 144h1M17 152h1M10 157h1M4 180h1M14 181h1M36 184h1"/>
<path stroke="#dc8278" d="M10 10h1M12 17h1M14 44h1M14 55h1M27 55h1M18 97h1M1 100h1M17 138h1M14 148h1M21 168h1M18 176h1M10 186h1M7 188h1M7 192h1"/>
<path stroke="#dc8282" d="M22 20h1M29 23h1M30 26h1M2 33h1M34 46h1M16 48h1M12 64h1M21 79h1M12 101h1M32 121h1M19 126h1M13 175h1M26 186h1M28 202h1"/>
<path stroke="#dc828c" d="M12 172h1"/>
<path stroke="#dc8c78" d="M27 17h1M11 31h1M33 133h1"/>
<path stroke="#dc8c82" d="M9 15h1M7 45h1M18 58h1M15 113h1M23 113h1M26 122h1M10 138h1M27 138h1M16 155h1M10 172h1M22 177h1M32 189h1M7 191h1M12 199h1"/>
<path stroke="#dc8c8c" d="M36 0h1M26 10h1M31 13h1M10 28h1M15 65h1M5 76h1M26 108h1M28 119h1M11 121h1M20 198h1M17 199h1M22 202h1"/>
<path stroke="#dc8c96" d="M32 64h1M13 166h1M10 184h1"/>
<path stroke="#dc968c" d="M7 42h1M17 93h1M28 117h1M3 148h1M20 160h1M36 185h1"/>
<path stroke="#dc9696" d="M26 15h1M24 16h1M18 19h1M36 22h1M15 24h1M32 70h1M19 79h1M33 80h1M33 89h1M30 94h1M7 104h1M23 105h1M27 129h1M10 142h1M10 161h1M34 161h1M32 203h1"/>
<path stroke="#dca096" d="M18 62h1"/>
<path stroke="#dca0a0" d="M14 7h1M18 15h1M28 15h1M10 23h1M23 40h1M5 77h1M8 99h1M21 101h1M36 107h1M7 124h1M21 124h1M32 128h1M5 155h1M25 160h1M32 180h1M15 184h1M8 186h1M0 194h1"/>
<path stroke="#dcaaa0" d="M35 34h1M23 45h1M24 52h1M18 63h1M13 67h1M1 71h1M6 72h1M12 94h1M9 106h1M20 137h1M27 143h1M11 192h1M28 197h1M23 201h1"/>
<path stroke="#dcaaaa" d="M2 43h1M35 104h1M13 118h1M32 124h1M26 155h1"/>
<path stroke="#dcb4aa" d="M2 14h1M25 15h1M22 18h1M25 22h1M10 35h1M28 38h1M13 45h1M7 65h1M32 69h1M22 72h1M22 77h1M4 100h1M10 110h1M17 113h1M36 116h1M16 139h1M36 143h1M36 151h1M28 156h1M29 160h1M26 167h1M10 191h1"/>
<path stroke="#dcb4b4" d="M27 106h1M18 124h1"/>
<path stroke="#dcbeb4" d="M15 6h1M1 13h1M29 15h1M12 21h1M34 23h1M8 34h1M9 38h1M0 53h1M25 58h1M31 69h1M7 84h1M9 97h1M30 99h1M33 129h1M22 143h1M11 144h1M7 156h1M22 157h1M29 157h1M28 158h1M22 161h1M24 161h1M15 164h1M10 165h1M18 168h1M17 170h1M28 172h1M35 177h1M12 187h1M35 188h1M34 190h1M27 193h1"/>
<path stroke="#dcbebe" d="M29 103h1M1 159h1"/>
<path stroke="#dcc8be" d="M9 17h1M0 40h1M23 60h1M34 60h1M17 77h1M18 80h1M2 89h1M9 98h1M26 100h1M4 102h1M26 102h1M0 118h1M3 142h1M32 146h1M29 147h1M19 155h1M28 171h1M23 172h1M33 175h1M16 188h1M16 193h1M14 202h1"/>
<path stroke="#dcc8c8" d="M23 19h1M18 27h1M14 32h1M25 33h1M17 44h1M16 50h1M16 58h1M18 84h1M9 85h1"/>
<path stroke="#dcd2c8" d="M17 28h1M0 43h1M36 45h1M4 50h1M36 61h1M16 66h1M11 75h1M17 108h1M12 114h1M21 123h1M22 138h1M16 165h1M1 168h1M22 172h1M9 184h1"/>
<path stroke="#dcd2d2" d="M34 1h1M8 16h1M27 29h1M21 57h1M10 68h1M15 70h1M36 75h1M12 78h1M7 83h1M22 156h1M25 178h1M18 187h1M27 195h1"/>
<path stroke="#dcdcd2" d="M7 22h1M28 41h1M18 59h1M18 71h1M17 74h1M18 88h1M22 90h1M32 150h1M22 187h1M33 196h1M7 200h1"/>
<path stroke="#dcdcdc" d="M16 7h1M31 11h1M11 12h1M34 20h1M24 22h1M13 46h1M10 48h1M33 48h1M6 75h1M5 80h1M34 82h1M14 97h1M35 115h1M16 119h1M11 120h1M9 126h1M23 130h1M27 131h1M31 135h1M20 138h1M5 140h1M8 140h1M0 141h1M14 149h1M11 153h1M28 153h1M20 156h1M27 157h1M18 161h1M11 171h1M31 185h1M18 190h1M19 202h1"/>
<path stroke="#dcdce6" d="M34 98h1M15 110h1M8 117h1M1 193h1"/>
<path stroke="#dce6e6" d="M16 2h1M26 3h1M36 8h1M17 14h1M7 29h1M14 38h1M11 40h1M21 45h1M14 49h1M26 54h1M6 64h1M19 67h1M27 69h1M0 99h1M2 100h1M10 109h1M32 110h1M16 123h1M18 131h1M10 141h1M19 153h1M8 157h1M17 158h1M8 164h1M33 166h1M7 169h1M5 183h1M16 187h1M9 196h1M28 198h1"/>
<path stroke="#dce6f0" d="M27 3h1M27 4h1M4 16h1M31 17h1M24 18h1M8 20h1M13 21h1M29 21h1M9 24h1M18 28h1M1 29h1M9 29h1M18 30h1M31 33h1M27 34h1M13 42h1M28 44h1M11 46h1M34 47h1M0 50h1M33 51h1M0 52h1M26 55h1M8 56h1M11 61h1M15 61h1M15 63h1M20 64h1M32 65h1M29 67h1M1 76h1M13 82h1M35 86h1M19 89h1M27 91h1M8 93h1M28 93h1M24 96h1M24 101h1M0 107h1M28 123h1M10 124h1M29 128h1M10 131h1M16 136h1M11 141h1M28 144h1M8 153h1M2 154h1M24 162h1M0 168h1M29 168h1M33 169h1M4 176h1M13 177h1M1 178h1M6 178h1M5 182h1M26 183h1M15 188h1M2 199h1M22 199h1M0 200h1M4 201h1M16 201h1"/>
<path stroke="#dcf0f0" d="M28 0h1M15 9h1M13 34h1M11 50h1M15 51h1M8 57h1M32 61h1M25 89h1M33 103h1M3 112h1M14 124h1M11 129h1M21 130h1M4 136h1M24 144h1M7 152h1M32 153h1M11 156h1M0 159h1M6 181h1M23 181h1M31 182h1"/>
<path stroke="#e67864" d="M0 6h1M16 11h1M31 41h1M6 54h1M27 70h1M23 77h1M29 78h1M14 80h1M15 96h1M2 102h1M32 108h1M0 112h1M7 117h1M36 129h1M13 140h1M1 141h1M18 141h1M27 156h1M23 167h1M17 171h1M9 177h1M4 196h1"/>
<path stroke="#e68264" d="M1 10h1M31 10h1M12 11h1M23 20h1M32 20h1M20 22h1M35 28h1M5 30h1M17 33h1M6 37h1M31 40h1M15 41h1M23 53h1M6 58h1M32 59h1M32 62h1M15 64h1M7 70h1M7 73h1M14 77h1M4 79h1M26 82h1M18 85h1M30 88h1M21 89h1M17 94h1M32 98h1M32 99h1M27 104h1M23 108h1M17 111h1M27 112h1M27 113h1M18 119h1M29 120h1M33 121h1M7 126h1M21 137h1M14 147h1M21 156h1M5 164h1M21 171h1M29 173h1M17 174h1M22 175h1M35 202h1"/>
<path stroke="#e6826e" d="M21 1h1M34 11h1M6 14h1M32 19h1M13 33h1M10 38h1M1 44h1M21 50h1M16 59h1M20 65h1M3 70h1M18 70h1M21 99h1M21 100h1M17 126h1M12 130h1M18 130h1M32 136h1M23 149h1M18 151h1M1 157h1M23 157h1M20 167h1M17 177h1M13 181h1M34 201h1"/>
<path stroke="#e68278" d="M19 73h1M29 97h1M15 106h1M12 121h1"/>
<path stroke="#e68c6e" d="M17 0h1M2 4h1M12 5h1M1 6h1M28 13h1M0 18h1M13 18h1M17 20h1M14 24h1M9 28h1M27 31h1M7 33h1M21 43h1M25 46h1M23 50h1M3 52h1M27 53h1M31 53h1M12 55h1M28 58h1M13 59h1M21 62h1M14 63h1M2 72h1M36 74h1M11 77h1M29 79h1M23 82h1M22 84h1M25 84h1M10 87h1M25 90h1M13 93h1M22 93h1M11 94h1M0 102h1M10 104h1M0 105h1M34 106h1M18 108h1M26 110h1M26 117h1M17 119h1M13 121h1M12 129h1M28 132h1M34 140h1M7 153h1M8 154h1M26 160h1M28 164h1M4 170h1M22 171h1M18 174h1M18 175h1M36 177h1M20 179h1M7 181h1M13 182h1M18 182h1M27 182h1M24 183h1M1 187h1M7 194h1M19 198h1"/>
<path stroke="#e68c78" d="M0 9h1M0 13h1M17 19h1M13 20h1M30 28h1M11 29h1M21 34h1M16 40h1M21 42h1M18 47h1M16 52h1M18 57h1M22 65h1M32 66h1M28 70h1M2 74h1M6 79h1M16 96h1M14 117h1M32 125h1M14 127h1M29 153h1M26 165h1M17 176h1M13 179h1M9 180h1M4 181h1M15 181h1M11 183h1M35 183h1M18 192h1"/>
<path stroke="#e68c82" d="M21 39h1M14 81h1M27 109h1M5 132h1M5 135h1M20 161h1M0 172h1"/>
<path stroke="#e69678" d="M7 1h1M2 28h1M29 49h1M27 79h1M18 83h1M34 89h1M16 95h1M1 107h1M7 118h1M36 122h1M23 127h1M5 131h1M23 171h1M21 173h1M10 187h1M19 200h1"/>
<path stroke="#e69682" d="M30 18h1M35 25h1M13 31h1M31 32h1M12 34h1M12 35h1M31 38h1M35 38h1M30 41h1M7 72h1M28 72h1M19 76h1M13 78h1M23 78h1M28 78h1M13 81h1M9 94h1M7 95h1M29 107h1M17 121h1M11 135h1M0 146h1M21 154h1M20 159h1M19 160h1M7 165h1M10 178h1M20 178h1M34 188h1M13 190h1M8 198h1"/>
<path stroke="#e6968c" d="M34 4h1M6 21h1M28 23h1M6 24h1M15 32h1M29 42h1M31 42h1M19 64h1M11 66h1M34 77h1M0 80h1M23 88h1M23 91h1M30 96h1M26 101h1M16 106h1M26 106h1M28 106h1M22 107h1M28 133h1M35 133h1M35 136h1M9 163h1M15 183h1M27 199h1"/>
<path stroke="#e69696" d="M25 77h1"/>
<path stroke="#e6a082" d="M6 33h1M16 42h1M18 107h1M13 183h1"/>
<path stroke="#e6a08c" d="M1 7h1M31 8h1M12 9h1M29 14h1M12 22h1M33 41h1M33 58h1M0 62h1M21 68h1M4 78h1M14 83h1M12 99h1M28 107h1M9 108h1M34 109h1M27 117h1M21 121h1M7 134h1M17 140h1M23 140h1M21 141h1M33 142h1M11 158h1M23 163h1M18 164h1M21 172h1M3 184h1M28 194h1M29 200h1M20 203h1"/>
<path stroke="#e6a096" d="M13 8h1M9 16h1M10 21h1M25 29h1M13 41h1M28 64h1M19 66h1M31 76h1M23 80h1M17 82h1M13 90h1M22 94h1M14 111h1M32 111h1M29 119h1M3 135h1M1 140h1M1 142h1M29 150h1M32 156h1M7 160h1M34 169h1M10 171h1M33 187h1M8 195h1M34 198h1"/>
<path stroke="#e6a0a0" d="M35 153h1"/>
<path stroke="#e6aa96" d="M14 27h1M11 67h1M7 86h1M0 92h1M1 106h1M29 136h1M18 146h1M15 149h1M6 165h1M25 189h1M31 192h1"/>
<path stroke="#e6aaa0" d="M14 2h1M5 14h1M3 43h1M9 52h1M33 52h1M23 65h1M18 68h1M7 79h1M19 93h1M10 94h1M20 96h1M23 96h1M28 100h1M27 103h1M13 108h1M33 122h1M33 143h1M23 144h1M35 156h1M28 176h1M22 194h1M18 196h1"/>
<path stroke="#e6aaaa" d="M0 169h1"/>
<path stroke="#e6b4a0" d="M21 12h1M22 81h1M27 94h1M0 176h1"/>
<path stroke="#e6b4aa" d="M5 1h1M32 7h1M7 23h1M0 26h1M23 30h1M30 50h1M21 110h1M27 114h1M18 138h1M0 140h1M13 143h1M6 166h1M10 176h1M12 181h1M14 184h1M24 184h1M17 197h1M0 202h1"/>
<path stroke="#e6beaa" d="M10 26h1M21 83h1M14 129h1"/>
<path stroke="#e6beb4" d="M15 3h1M9 6h1M19 12h1M23 25h1M9 37h1M12 37h1M33 50h1M0 51h1M9 58h1M17 67h1M33 75h1M23 85h1M30 86h1M25 88h1M35 88h1M0 89h1M29 93h1M30 98h1M25 101h1M10 128h1M27 128h1M16 131h1M11 138h1M2 140h1M22 144h1M1 146h1M23 156h1M26 179h1M27 181h1M7 183h1M1 186h1M10 190h1M17 190h1M32 192h1M17 196h1M2 197h1M4 197h1"/>
<path stroke="#e6c8b4" d="M13 32h1M3 50h1M0 55h1M35 76h1M17 81h1M2 101h1M33 120h1M29 126h1M25 158h1M13 164h1"/>
<path stroke="#e6c8be" d="M10 4h1M5 12h1M23 12h1M16 23h1M9 25h1M31 29h1M17 30h1M20 47h1M22 60h1M15 67h1M30 70h1M11 73h1M11 74h1M28 83h1M34 83h1M28 86h1M17 98h1M27 99h1M35 111h1M17 124h1M23 133h1M12 134h1M34 154h1M26 171h1M31 175h1M31 176h1M8 179h1M29 192h1M11 200h1"/>
<path stroke="#e6c8c8" d="M30 21h1M5 39h1M22 170h1"/>
<path stroke="#e6d2be" d="M3 51h1M25 67h1M29 68h1M10 160h1M12 183h1"/>
<path stroke="#e6d2c8" d="M4 8h1M4 13h1M20 16h1M27 18h1M15 25h1M23 26h1M3 31h1M31 31h1M20 40h1M10 42h1M2 46h1M15 49h1M19 52h1M28 60h1M20 66h1M10 69h1M27 86h1M26 89h1M33 90h1M2 92h1M35 109h1M31 111h1M17 112h1M1 128h1M13 130h1M16 137h1M23 137h1M34 137h1M23 139h1M21 152h1M16 161h1M32 164h1M0 165h1M9 187h1"/>
<path stroke="#e6d2d2" d="M34 65h1M0 75h1M31 84h1M26 130h1"/>
<path stroke="#e6dcd2" d="M20 6h1M11 8h1M16 14h1M24 19h1M7 21h1M34 49h1M30 68h1M34 69h1M15 77h1M27 80h1M1 82h1M19 88h1M35 106h1M7 114h1M10 118h1M29 118h1M25 123h1M36 128h1M19 133h1M23 148h1M12 150h1M3 151h1M9 157h1M29 162h1M8 165h1M7 171h1M7 172h1M31 189h1M21 190h1M29 191h1"/>
<path stroke="#e6dcdc" d="M19 7h1M28 7h1M16 10h1M17 11h1M8 21h1M6 43h1M6 44h1M23 57h1M20 77h1M8 83h1M25 86h1M34 86h1M8 92h1M2 103h1M5 134h1M13 134h1M3 139h1M27 144h1M15 147h1M10 151h1M0 152h1M12 174h1M31 190h1M15 194h1M21 202h1"/>
<path stroke="#e6e6dc" d="M2 1h1M20 4h1M3 12h1M3 15h1M34 21h1M18 22h1M13 24h1M15 29h1M30 49h1M1 59h1M6 74h1M36 84h1M7 100h1M14 114h1M9 122h1M34 148h1M27 179h1M12 180h1M16 186h1M16 189h1M30 194h1"/>
<path stroke="#e6e6e6" d="M12 0h1M23 1h1M18 2h1M16 5h1M29 6h1M7 11h1M8 29h1M34 29h1M15 35h1M21 36h1M14 48h1M28 56h1M34 59h1M2 61h1M6 68h1M34 74h1M8 82h1M0 84h1M29 88h1M33 88h1M31 89h1M14 91h1M15 104h1M35 124h1M29 125h1M19 131h1M5 145h1M19 147h1M0 151h1M33 164h1M31 172h1M28 173h1M26 175h1M1 181h1M32 195h1"/>
<path stroke="#e6e6f0" d="M7 6h1M2 21h1M5 21h1M16 33h1M14 42h1M14 56h1M36 65h1M23 70h1M31 79h1M14 109h1M27 173h1M25 182h1M36 203h1"/>
<path stroke="#e6f0f0" d="M31 9h1M28 10h1M33 10h1M9 12h1M30 12h1M0 16h1M6 20h1M15 21h1M15 22h1M26 26h1M34 26h1M33 28h1M20 30h1M0 38h1M2 39h1M10 43h1M17 45h1M23 47h1M20 49h1M13 57h1M24 57h1M28 59h1M18 60h1M13 62h1M13 66h1M13 72h1M13 73h1M36 78h1M12 79h1M15 89h1M21 92h1M36 93h1M2 94h1M31 96h1M20 103h1M13 104h1M28 109h1M4 118h1M27 118h1M14 121h1M3 128h1M12 128h1M10 132h1M5 133h1M18 135h1M32 138h1M28 140h1M16 142h1M12 143h1M25 144h1M15 146h1M19 146h1M1 147h1M34 147h1M34 151h1M2 158h1M12 158h1M23 160h1M1 162h1M7 162h1M5 167h1M19 168h1M3 169h1M9 173h1M14 173h1M11 174h1M8 176h1M34 177h1M16 184h1M28 184h1M27 185h1M3 186h1M21 188h2M18 189h1M16 190h1M22 191h1M34 197h1M32 198h1M15 201h1"/>
<path stroke="#f08c6e" d="M23 187h1"/>
<path stroke="#f0966e" d="M3 68h1M17 102h1"/>
<path stroke="#f09678" d="M5 2h1M6 4h1M2 6h1M10 8h1M23 22h1M27 30h1M12 36h1M21 49h1M7 59h1M23 63h1M18 66h1M7 74h1M34 80h1M27 83h1M0 87h1M29 94h1M12 98h1M18 103h1M0 113h1M15 115h1M22 116h1M11 127h1M20 130h1M7 138h1M35 139h1M15 140h1M32 147h1M0 154h1M28 155h1M16 156h1M7 158h1M27 158h1M17 164h1M9 175h1M33 180h1M34 185h1M13 189h1M26 196h1M10 198h1M10 199h1"/>
<path stroke="#f09682" d="M12 51h1M35 80h1M26 153h1M20 158h1M25 170h1"/>
<path stroke="#f0a078" d="M30 30h1M15 94h1M17 110h1M0 114h1M15 116h1M29 140h1M29 190h1M19 199h1"/>
<path stroke="#f0a082" d="M5 7h1M15 11h1M25 13h1M36 17h1M27 20h1M36 25h1M29 29h1M12 31h1M21 35h1M6 38h1M17 43h1M17 48h1M27 48h1M23 52h1M16 57h1M29 61h1M10 64h1M5 69h1M0 73h1M16 79h1M17 83h1M14 92h1M33 93h1M19 96h1M19 99h1M27 105h1M17 109h1M32 112h1M15 114h1M7 120h1M13 120h1M25 125h1M34 128h1M0 133h1M7 133h1M29 135h1M23 141h1M17 143h1M17 144h1M22 145h1M33 145h1M18 147h1M18 148h1M27 148h1M3 149h1M17 154h1M13 167h1M17 167h1M13 174h1M34 176h1M8 181h1M18 181h1M8 182h1M24 190h1M26 190h1M22 193h1M35 193h1M28 196h1M27 198h1M29 199h1M29 201h1"/>
<path stroke="#f0a08c" d="M36 34h1M27 36h1M30 38h1M23 39h1M1 46h1M3 73h1M32 96h1M17 104h1M26 116h1M36 118h1M19 137h1M4 162h1M10 170h1M26 170h1M35 171h1M23 176h1M13 180h1M19 184h1M36 202h1"/>
<path stroke="#f0aa82" d="M28 42h1M30 46h1M19 53h1M12 84h1M16 103h1M13 154h1M26 156h1M23 165h1M21 192h1"/>
<path stroke="#f0aa8c" d="M36 1h1M17 6h1M6 13h1M24 15h1M3 21h1M6 23h1M15 23h1M25 24h1M16 25h1M32 27h1M36 36h1M20 44h1M12 47h1M9 51h1M17 52h1M23 55h1M5 56h1M12 63h1M33 69h1M14 79h1M18 81h1M6 84h1M10 86h1M25 87h1M7 90h1M18 90h2M23 97h1M26 103h1M35 108h1M26 111h1M27 120h1M29 123h1M28 130h1M11 131h1M14 136h1M35 142h1M27 145h1M1 148h1M20 157h1M8 158h1M22 162h1M20 165h1M5 166h1M1 169h1M25 169h1M26 177h1M26 178h1M21 185h1M29 187h1M25 196h1M32 202h1"/>
<path stroke="#f0aa96" d="M6 6h1M19 6h1M25 8h1M0 12h1M0 19h1M2 26h1M10 36h1M21 41h1M11 43h1M31 44h1M6 47h1M11 49h1M15 54h1M24 75h1M6 80h1M23 92h1M11 93h1M1 101h1M26 104h1M33 117h2M32 120h1M20 133h1M33 134h1M7 141h1M28 151h1M19 156h1M20 162h1M20 172h1M35 179h1M9 181h1M1 185h1M36 189h1M26 192h1M7 195h1M29 196h1M20 202h1"/>
<path stroke="#f0aaa0" d="M9 8h1M15 58h1M0 71h1"/>
<path stroke="#f0b496" d="M9 10h1M14 18h1M9 21h1M36 33h1M0 37h1M36 39h1M34 45h1M9 59h1M28 63h1M22 73h1M18 76h1M36 83h1M15 88h1M7 89h1M9 90h1M29 109h1M26 121h1M34 131h1M27 154h1M1 166h1M18 194h1M21 198h1M15 200h1M26 202h1"/>
<path stroke="#f0b4a0" d="M2 7h1M2 9h1M34 10h1M16 12h1M1 14h1M15 14h1M32 17h1M25 23h1M7 25h1M26 28h1M7 38h1M30 39h1M1 45h1M22 55h1M11 60h1M4 72h1M14 72h1M17 90h1M3 96h1M19 106h1M16 111h1M29 112h1M11 117h1M17 123h1M7 125h1M18 126h1M19 129h1M11 130h1M34 133h1M1 137h1M13 142h1M16 144h1M2 148h1M33 159h1M4 163h1M7 164h1M12 166h1M32 169h1M9 176h1M9 182h1M12 182h1M3 185h1M31 186h1M34 189h1M33 192h1M10 197h1M14 199h1M29 203h1"/>
<path stroke="#f0b4aa" d="M28 34h1M30 92h1M20 113h1M23 134h1"/>
<path stroke="#f0bea0" d="M13 69h1M14 95h1M21 98h1M11 103h1M17 122h1M33 130h1M14 144h1M26 144h1M7 173h1M5 190h1M18 191h1"/>
<path stroke="#f0beaa" d="M0 1h1M15 12h1M21 15h1M14 26h1M7 30h1M3 36h1M12 38h1M1 43h1M25 50h1M25 57h1M16 76h1M31 81h1M3 94h1M12 97h1M19 102h1M27 115h1M15 127h1M26 128h1M1 131h1M36 133h1M26 136h1M12 137h1M19 138h1M21 145h1M34 163h1M0 184h1M29 193h1"/>
<path stroke="#f0beb4" d="M1 0h1M29 11h1M21 21h1M24 23h1M33 27h1M16 67h1M21 69h1M17 70h1M20 73h1M10 95h1M0 138h1M14 138h1M21 165h1M29 165h1M14 167h1M20 190h1M5 198h1"/>
<path stroke="#f0c8b4" d="M24 3h1M27 32h1M23 34h1M2 42h1M34 51h1M5 57h1M7 64h1M21 70h1M6 73h1M6 76h1M17 80h1M27 82h1M23 118h1M0 122h1M13 146h1M16 160h1M22 160h1M6 163h1M5 165h1M19 171h1M33 183h1M23 185h1M29 185h1M21 187h1M31 191h1M19 194h1M9 195h1"/>
<path stroke="#f0c8be" d="M27 0h1M18 20h1M27 28h1M4 47h1M26 49h1M2 64h1M10 89h1M33 92h1M0 98h1M16 99h1M35 151h1M36 159h1M8 167h1M13 172h1M7 177h1M17 179h1M7 184h1M3 200h1M10 203h1"/>
<path stroke="#f0d2be" d="M7 28h1M27 44h1M35 52h1M11 53h1M21 61h1M8 100h1M26 115h1M36 123h1M18 132h1M5 138h1M7 178h1M9 201h1"/>
<path stroke="#f0d2c8" d="M17 10h1M2 19h1M29 25h1M4 27h1M33 44h1M6 59h1M0 60h1M19 63h1M10 67h1M15 80h1M4 85h1M3 86h1M23 87h1M5 88h1M11 92h1M1 93h1M32 101h1M21 107h1M19 117h1M23 119h1M3 125h1M11 133h1M20 151h1M12 179h1M20 180h1M27 183h1M25 185h1M15 187h1M29 202h1M13 203h1"/>
<path stroke="#f0dcc8" d="M12 4h1M31 23h1M28 45h1M25 49h1M28 82h1M24 145h1"/>
<path stroke="#f0dcd2" d="M11 3h1M23 16h1M13 19h1M16 22h1M26 23h1M20 27h1M29 45h1M31 50h1M15 53h1M24 53h1M28 54h1M7 60h1M9 60h1M3 65h1M15 68h1M17 68h1M16 73h1M31 73h1M3 75h1M3 85h1M28 85h1M24 90h1M22 101h1M9 107h1M28 118h1M5 128h1M19 132h1M32 141h1M29 146h1M33 149h1M3 150h1M13 153h1M17 156h1M3 158h1M35 180h1M32 184h1M20 188h1M32 193h1M13 197h1"/>
<path stroke="#f0dcdc" d="M31 6h1M34 94h1M13 159h1M15 176h1M23 177h1M9 183h1M14 185h1M28 192h1"/>
<path stroke="#f0e6dc" d="M20 0h1M27 7h1M29 8h1M14 13h1M22 16h1M16 20h1M0 24h1M21 28h1M18 35h1M11 37h1M7 49h1M35 58h1M26 71h1M10 74h1M1 77h1M33 79h1M2 82h1M6 85h1M21 88h1M35 92h1M34 93h1M19 94h1M36 97h1M11 99h1M8 104h1M29 110h1M19 113h1M26 120h1M12 126h1M4 128h1M35 129h1M18 145h1M19 151h1M21 151h1M0 153h1M16 154h1M1 155h1M29 158h1M3 170h1M17 178h1M32 181h1M11 182h1M17 182h1M1 198h1"/>
<path stroke="#f0e6e6" d="M21 3h1M23 17h1M28 20h1M6 22h1M29 26h1M25 30h1M29 33h1M35 35h1M29 36h1M29 37h1M10 40h1M7 41h1M19 42h1M17 46h2M26 47h1M6 48h1M33 49h1M8 55h1M4 62h1M2 84h1M25 93h1M15 95h1M18 98h1M12 107h1M8 110h1M22 110h1M25 114h1M35 120h1M3 129h1M21 129h1M25 135h1M34 138h1M11 143h1M0 145h1M17 151h1M23 153h1M31 153h1M1 154h1M21 157h1M33 173h1M27 174h1M0 180h1M9 188h1M15 196h1M18 197h1M2 198h1"/>
<path stroke="#f0f0e6" d="M18 4h1M25 4h1M11 5h1M25 7h1M6 9h1M18 21h1M31 30h1M25 32h1M6 49h1M11 59h1M5 73h1M7 81h1M16 84h1M33 87h1M17 106h1M29 106h1M13 115h1M0 125h1M22 149h1M22 179h1M8 185h1"/>
<path stroke="#f0f0f0" d="M13 3h1M34 5h1M7 10h1M7 12h1M12 13h1M26 13h1M22 15h1M1 16h1M34 17h1M26 18h1M36 19h1M22 26h1M21 27h1M33 31h1M16 41h1M17 42h1M10 45h1M34 61h1M23 66h1M28 67h1M30 69h1M16 81h1M14 82h1M33 82h1M7 91h1M23 93h1M22 100h1M27 100h1M32 104h1M8 105h1M7 108h1M8 112h1M22 113h1M8 125h1M27 125h1M9 131h1M5 139h1M22 139h1M16 141h1M26 142h1M33 144h2M7 146h1M9 158h1M24 160h1M29 164h1M14 166h1M25 167h1M25 176h1M25 179h1M2 196h1M36 200h1"/>
<path stroke="#f0f0fa" d="M13 86h1M9 89h1M24 104h1M23 161h1M26 200h1"/>
<path stroke="#f0fafa" d="M16 89h1M19 103h1M1 164h1"/>
<path stroke="#faaa8c" d="M24 4h1M29 31h1M27 52h1M26 85h1M0 93h1M13 117h1M23 159h1M21 176h1"/>
<path stroke="#fab48c" d="M7 105h1M36 108h1M35 112h1M7 179h1M17 185h1M5 193h1"/>
<path stroke="#fab496" d="M35 15h1M16 19h1M9 23h1M6 25h1M6 26h1M12 27h1M0 30h1M5 31h1M18 43h1M17 47h1M3 53h1M15 57h1M17 57h1M29 77h1M10 80h1M5 82h1M11 83h1M31 86h1M2 88h1M21 91h1M10 103h1M1 109h1M19 114h1M18 116h1M29 124h1M32 129h1M10 135h1M28 138h1M19 144h1M13 149h1M36 152h1M25 164h1M3 165h1M7 170h1M21 183h1M36 192h1M0 197h1M7 199h1M5 202h1"/>
<path stroke="#fab4a0" d="M19 62h1M12 77h1M23 101h1M20 102h1"/>
<path stroke="#fabea0" d="M6 1h1M7 2h1M34 3h1M14 10h1M18 11h1M33 13h1M3 20h1M36 21h1M29 24h1M30 25h1M3 30h1M11 35h1M5 40h1M0 41h1M12 48h1M6 57h1M28 57h1M21 59h1M23 64h1M29 82h1M23 83h1M15 85h1M23 86h1M10 88h1M30 89h1M29 92h1M12 100h1M17 101h1M21 102h1M34 105h1M10 111h1M34 111h1M35 113h1M12 119h1M21 125h1M5 137h1M26 137h1M1 144h1M21 144h1M26 145h1M13 147h1M33 148h1M19 154h1M19 157h1M5 160h1M35 160h1M0 164h1M6 164h1M19 164h1M19 170h1M24 170h1M4 178h1M28 178h1M26 182h1M10 195h1M6 198h1M34 200h1"/>
<path stroke="#fabeaa" d="M26 1h1M6 3h1M13 9h1M21 29h1M21 44h1M31 45h1M27 49h1M3 57h1M0 61h1M16 68h1M17 69h1M22 87h1M17 88h1M27 92h1M35 94h1M12 109h1M23 110h1M5 122h1M13 122h1M27 123h1M35 125h1M1 126h1M1 143h1M2 147h1M14 160h1M21 160h1M20 170h1M10 182h1M23 184h1M0 186h1M0 187h1M7 189h1M14 193h1M25 197h1M25 198h1M17 200h1M28 203h1"/>
<path stroke="#fac8aa" d="M24 0h1M18 3h1M23 9h1M14 11h1M20 12h1M20 23h1M7 32h1M16 36h1M17 40h1M14 41h1M35 42h1M23 43h1M29 47h1M28 50h1M22 51h1M34 52h1M17 53h1M24 54h1M6 55h1M23 61h2M23 62h1M25 63h1M18 64h1M25 64h1M14 76h1M28 79h1M2 80h1M15 86h1M35 89h1M19 91h1M7 97h1M17 97h1M13 102h1M28 102h1M34 103h1M12 105h1M34 108h1M27 111h1M35 121h1M10 123h1M16 128h1M16 129h1M22 131h1M7 137h1M13 139h1M15 139h1M4 143h1M29 143h1M1 145h1M26 147h1M17 148h1M7 151h1M11 160h1M19 162h1M28 165h1M10 166h1M21 186h1M13 196h1M22 201h1"/>
<path stroke="#fac8b4" d="M16 1h1M32 2h1M10 7h1M19 15h1M18 16h1M2 24h1M21 30h1M14 34h1M16 39h1M16 47h1M24 48h1M31 48h1M34 48h1M12 56h1M15 56h1M18 61h1M3 62h1M2 70h1M11 70h1M12 76h1M13 87h1M22 91h1M28 94h1M27 95h1M11 101h1M35 103h1M21 105h1M33 109h1M0 111h1M15 112h1M31 116h1M17 120h1M18 125h1M8 126h1M32 132h1M35 135h1M27 142h1M7 144h1M23 146h1M27 149h1M19 152h1M32 154h1M11 157h1M12 159h1M33 163h1M17 173h1M22 173h1M29 175h1M36 176h1M4 177h1M28 179h1M3 180h1M24 181h1M34 183h1M5 189h1M21 191h1M26 191h1M20 197h1M2 200h1M15 202h1M0 203h1"/>
<path stroke="#fac8be" d="M17 18h1M17 195h1"/>
<path stroke="#fad2b4" d="M17 7h1M32 18h1M28 26h1M33 32h1M11 44h1M33 46h1M21 53h1M21 60h1M12 66h1M17 73h1M36 91h1M19 100h1M7 119h1M22 142h1M23 151h1M7 159h1M17 160h1M13 195h1M35 195h1"/>
<path stroke="#fad2be" d="M0 2h1M14 6h1M15 7h1M29 7h1M9 9h1M14 12h1M15 13h1M12 14h1M19 14h1M30 20h1M26 22h1M0 23h1M18 23h1M31 24h1M4 25h1M21 25h1M13 26h1M1 30h1M13 30h1M9 32h2M21 33h1M17 35h1M14 40h1M3 41h1M13 44h1M10 46h1M6 50h1M2 51h1M14 53h1M21 56h1M29 57h1M25 59h1M2 63h1M15 69h1M23 71h1M11 72h1M1 74h1M16 78h1M0 81h1M25 85h1M30 85h1M28 88h1M28 90h1M12 96h1M15 105h1M34 113h1M16 114h1M34 114h1M11 115h1M28 115h1M36 119h1M3 126h1M8 131h1M12 136h1M10 140h1M36 140h1M19 141h1M16 143h1M11 147h1M22 148h1M29 149h1M1 151h1M31 154h1M33 157h1M33 161h1M17 163h1M1 165h1M8 166h1M23 169h1M5 171h1M3 172h1M23 175h1M35 178h1M33 179h1M18 186h1M28 190h1M10 192h1M6 195h1M32 199h1M22 200h1M27 200h1M22 203h1M31 203h1"/>
<path stroke="#fad2c8" d="M14 9h1M10 17h1M17 22h1M2 23h1M25 45h1M0 54h1M26 97h1M4 98h1M29 100h1M12 127h1M26 143h1M13 150h1M27 150h1M34 184h1M33 188h1M16 194h1M19 195h1"/>
<path stroke="#fadcbe" d="M29 54h1M24 106h1"/>
<path stroke="#fadcc8" d="M9 0h1M27 2h1M23 7h1M18 9h1M27 10h1M10 11h1M0 17h1M5 17h1M2 20h1M1 21h1M34 22h1M16 24h1M8 33h1M20 33h1M33 36h1M36 42h1M29 46h1M35 46h1M15 52h1M25 55h1M25 56h1M0 59h1M7 71h1M11 71h1M21 72h1M27 72h1M16 77h1M21 80h1M5 84h1M1 94h1M30 97h1M2 99h1M4 99h1M19 101h1M18 106h1M27 107h1M7 109h2M13 109h1M28 114h1M35 119h1M28 120h1M1 124h1M8 127h1M23 129h1M21 138h1M23 138h1M19 139h1M31 140h1M19 149h1M1 158h1M35 173h1M15 174h1M23 174h1M27 176h1M21 177h1M14 180h1M1 184h1M31 188h1M14 189h1M35 189h1M15 192h1M4 194h1M27 196h1M2 201h1"/>
<path stroke="#fadcd2" d="M36 2h1M21 5h1M6 7h1M12 16h1M0 28h1M17 31h1M14 36h1M11 38h1M36 40h1M4 46h1M13 52h1M35 59h1M24 62h1M34 81h1M11 84h1M4 90h1M20 92h1M26 96h1M25 100h1M29 102h1M18 105h1M33 118h1M13 131h1M13 132h1M3 133h1M28 135h1M18 137h1M4 144h1M21 146h2M34 156h1M23 162h1M13 171h1M31 174h1M25 175h1M14 178h1M1 182h1M7 185h1M2 187h1M20 189h1M7 190h1M12 201h1M28 201h1"/>
<path stroke="#fae6d2" d="M11 9h1M6 15h1M17 15h1M23 21h1M17 24h1M29 28h1M0 29h1M29 30h1M3 39h1M34 54h1M19 68h1M1 73h1M3 78h1M16 97h1M18 115h1M5 120h1M11 124h1M12 125h1M19 130h1M15 134h1M11 137h1M28 139h1M21 140h1M12 145h1M3 152h1M18 165h1M36 169h1M29 174h1M14 176h1M7 196h1"/>
<path stroke="#fae6dc" d="M1 5h1M8 6h1M25 6h1M28 8h1M5 18h1M35 19h1M35 21h1M13 22h1M29 22h1M5 25h1M13 25h1M10 27h1M7 31h1M3 40h1M36 41h1M33 47h1M1 50h1M9 53h1M14 54h1M1 65h1M29 65h1M1 66h1M28 69h1M3 71h1M35 75h1M5 78h1M9 86h1M11 90h1M25 92h1M27 93h1M22 95h1M13 103h1M34 104h1M15 108h1M15 109h1M29 111h1M31 114h1M15 132h1M9 139h1M35 141h1M12 142h1M7 145h1M13 155h1M24 157h1M24 163h1M16 166h1M1 167h1M22 168h1M21 178h1M18 179h1M29 180h1M3 181h1M12 186h1M11 195h1"/>
<path stroke="#fae6e6" d="M9 7h1M10 33h1M33 42h1M19 65h1M23 79h1M12 106h1M5 129h1M27 135h1M8 159h1M18 180h1M13 188h1M14 192h1"/>
<path stroke="#faf0e6" d="M24 2h1M18 6h1M12 7h1M23 10h1M24 12h1M33 12h1M22 21h1M15 37h1M27 37h1M34 50h1M4 58h1M1 64h1M18 69h1M16 71h1M3 76h1M15 84h1M15 90h1M27 108h1M2 109h1M35 114h1M23 128h1M24 133h1M23 135h1M1 139h1M2 141h1M22 152h1M35 155h1M6 162h1M8 174h1M23 182h1M22 186h1M5 187h1M13 187h1M27 194h1M8 200h1"/>
<path stroke="#faf0f0" d="M32 16h1M24 17h1M15 36h1M1 54h1M9 70h1M29 101h1M12 110h1M7 121h1M22 129h1M32 130h1M3 134h1M9 146h1M20 146h1M3 147h1M25 166h1M20 187h1"/>
<path stroke="#fafafa" d="M36 32h1M8 168h1"/>
</g></g>
<text x="11.2" y="288.3" font-size="20" font-weight="bold" fill="#000" text-anchor="start">c</text>
<rect x="65.8" y="305.9" width="215.60" height="6.6" fill="#bebebe"/>
<rect x="83.28" y="305.9" width="5.83" height="6.6" fill="#ff0000"/>
<rect x="94.94" y="305.9" width="11.65" height="6.6" fill="#ff8c00"/>
<rect x="106.59" y="305.9" width="5.83" height="6.6" fill="#ff0000"/>
<rect x="112.42" y="305.9" width="5.83" height="6.6" fill="#ffb6c1"/>
<rect x="135.72" y="305.9" width="5.83" height="6.6" fill="#ff0000"/>
<rect x="182.34" y="305.9" width="5.83" height="6.6" fill="#8b1a1a"/>
<rect x="205.65" y="305.9" width="5.83" height="6.6" fill="#ff0000"/>
<rect x="217.30" y="305.9" width="5.83" height="6.6" fill="#ff0000"/>
<rect x="112.42" y="297.2" width="5.83" height="6.6" fill="#00ff00"/>
<rect x="129.90" y="297.2" width="11.65" height="6.6" fill="#ffff00"/>
<rect x="176.51" y="297.2" width="11.65" height="6.6" fill="#0000ff"/>
<rect x="199.82" y="297.2" width="11.65" height="6.6" fill="#00ff00"/>
<g filter="url(#hb)"><g transform="translate(65.8 315.2) scale(5.8270 0.9991) translate(0 0.5)" shape-rendering="crispEdges" fill="none" stroke-width="1">
<path stroke="#003264" d="M7 0h4M20 0h1M30 0h4M36 0h1M8 1h1M19 1h2M29 1h1M33 1h1M6 2h1M19 2h1M29 2h1M33 2h1M10 3h1M19 3h1M29 3h1M19 4h1M19 5h2M28 5h1M19 6h2M31 6h2M9 7h1M20 7h1M32 8h2M10 9h1M14 9h1M31 9h2M32 10h1M18 11h1M32 11h1M9 12h1M29 13h2M10 14h1M29 15h2M29 16h2M29 17h2M29 18h2M33 18h1M29 19h2M28 22h2M33 23h1M3 24h1M28 24h2M28 25h2M29 26h1M28 29h1M33 30h1M36 32h1M32 33h1M2 34h1M32 34h1M34 34h2M4 35h1M28 35h1M32 35h1M35 35h1M32 37h1M35 37h1M35 38h1M32 39h1M35 39h1M35 40h1M30 41h1M32 41h1M32 42h1M32 43h1M32 44h1M8 45h1M1 46h1M5 46h2M30 46h1M5 47h2M30 47h1M5 48h1M32 48h1M0 49h1M5 49h1M8 49h1M32 49h1M35 50h1M35 51h1M35 52h2M34 53h3M34 55h3M26 56h1M31 56h1M35 56h2M31 57h1M33 57h1M35 57h2M9 58h1M33 58h1M35 58h2M33 59h1M35 59h1M33 60h1M35 60h1M35 61h1M35 62h2M29 63h1M35 64h1M28 66h1M28 67h1M35 67h1M28 68h1M28 69h1M28 70h1M15 71h1M29 73h1M31 73h1M35 73h1M35 74h1M35 75h2M35 76h1M0 78h1M0 79h1M33 79h1M0 80h1M33 80h1M36 82h1M33 83h1M36 83h1M29 84h1M33 84h1M33 85h1M27 87h1M29 87h2M35 87h2M29 88h2M35 88h2M27 89h1M36 89h1M36 90h1M36 91h1M27 93h1M27 94h4M35 94h1M27 95h1M29 95h1M35 95h2M27 96h1M30 96h1M35 96h2M27 97h1M30 97h1M35 97h1M14 98h1M21 98h1M30 98h1M30 99h1M33 99h1M35 99h1M0 100h1M29 101h3M30 102h2M30 103h1M1 105h1M29 108h1M23 111h1M29 111h1M23 112h1M1 113h1M1 114h1M21 114h1M21 115h1M29 115h1M18 116h1M29 116h1M27 117h1M27 118h1M34 120h1M0 124h1M28 124h1M2 126h1M29 126h1M2 127h1M29 127h1M29 128h1M29 129h1M29 130h1M19 132h2M19 133h2M19 134h2M19 135h2M19 136h2M19 137h2M10 138h1M20 139h1M19 140h2M34 140h1M10 141h1M19 141h2M34 141h1M10 142h1M12 142h1M20 142h1M29 142h1M10 143h1M12 143h1M19 143h2M29 143h1M20 144h1M19 145h2M19 146h2M19 147h1M19 148h1M19 149h1M16 150h1M16 151h1M16 152h1M19 152h1M19 153h1M29 153h1M26 154h2M28 156h1M19 157h2M19 158h1M19 159h1M19 160h1M20 161h1M19 162h2M19 163h2M19 164h2M19 165h2M19 166h2M9 167h1M20 167h1M19 168h2M25 168h1M19 169h2M19 170h2M20 171h1M9 172h1M20 172h1M20 173h1M20 174h1M19 175h2M19 176h2M19 177h2M9 178h1M19 178h2M11 179h1M19 179h1M19 180h1M25 180h1M19 181h2M12 182h1M19 182h2M19 183h2M19 184h2M12 185h1M15 185h1M19 185h1M19 186h2M19 187h1M19 189h1M19 191h2M19 192h2M9 193h1M19 194h2M19 195h2M19 196h2M4 197h1M19 197h2M4 198h1M12 199h1M3 200h1M12 200h1M3 201h1M12 201h1M12 202h1M19 203h1M4 207h1M12 208h1M12 209h1M12 210h1M19 210h1"/>
<path stroke="#0a3264" d="M6 3h1M6 4h1M9 11h1M28 16h1M5 28h1M30 28h1M2 35h1M35 36h1M8 46h1M1 47h1M6 48h1M36 51h1M4 56h1M33 56h1M36 59h1M35 66h1M36 69h1M31 74h1M30 104h1M29 118h1M13 135h1M17 153h1M12 174h1M19 174h1M9 181h1M13 181h1"/>
<path stroke="#0a326e" d="M35 48h1M21 99h1M36 101h1M1 106h1M19 154h1"/>
<path stroke="#0a3c6e" d="M30 2h1M19 7h1M8 8h1M33 17h1M30 22h1M4 34h1M36 45h1M35 49h1M4 52h1M28 56h1M26 57h1M29 62h1M31 71h1M36 76h1M28 84h1M35 86h1M36 94h1M29 100h1M33 120h1M28 123h1M24 143h1M19 150h1M18 152h1M16 153h1M20 160h1M9 184h1M31 192h1M32 194h1M1 207h1"/>
<path stroke="#0a3c78" d="M31 1h1M33 6h1M10 13h1M14 18h1M28 19h1M33 31h1M7 36h1M29 41h1M33 52h1M22 79h1M24 92h1M14 93h1M16 98h1M29 114h1M20 180h1M12 184h1M31 191h1M4 200h1"/>
<path stroke="#0a4678" d="M33 3h1M18 5h1M3 17h1M35 54h1M28 89h1M29 110h1M33 121h1M13 162h1M17 163h1M11 180h1M4 201h1M19 207h1"/>
<path stroke="#144678" d="M29 14h1M29 53h1M34 59h1M21 164h1M19 204h1M19 208h1"/>
<path stroke="#144682" d="M10 2h1M31 7h1M33 7h1M9 8h1M9 9h1M33 9h1M32 12h2M33 19h1M9 20h1M28 20h1M28 21h1M27 32h1M28 34h1M36 36h1M35 41h1M29 49h1M5 51h1M33 55h1M0 60h1M14 68h1M35 68h1M31 72h1M0 77h1M18 80h1M33 81h1M27 90h1M36 92h1M30 100h1M33 100h1M35 100h1M29 109h1M15 117h1M2 128h1M13 134h1M33 139h1M11 141h1M19 142h1M22 147h1M20 149h1M19 155h1M20 158h1M15 174h1M12 181h1M19 188h1M12 190h1M3 197h1M24 201h1M4 202h1"/>
<path stroke="#145082" d="M27 33h1M5 34h1"/>
<path stroke="#14508c" d="M9 4h1M6 6h1M4 7h1M6 7h1M10 7h1M3 16h1M4 23h1M32 23h1M36 35h1M32 40h1M17 41h1M30 42h1M8 43h1M28 45h1M32 47h1M0 50h1M4 51h1M29 51h1M4 53h1M16 58h1M31 60h1M33 62h1M35 63h2M36 64h1M15 66h1M29 68h1M29 83h1M35 83h1M30 89h1M14 91h1M29 91h1M33 97h1M35 101h1M35 103h1M27 116h1M18 117h1M23 130h1M9 142h1M36 142h1M19 144h1M29 147h1M10 153h1M18 159h1M18 161h2M33 164h1M17 170h1M13 174h1M18 177h1M9 179h1M25 179h1M13 185h1M0 192h1M24 194h1M3 198h1M0 200h1M0 201h1M3 202h1"/>
<path stroke="#145096" d="M34 1h1M14 8h1M29 21h1M30 23h1M0 26h1M0 47h1M33 53h1M4 57h1M15 63h1M33 68h1M35 72h1M27 88h1M21 113h1M29 117h1M35 121h1M31 128h1M16 149h1M27 153h1M29 155h1M19 156h1M14 183h1"/>
<path stroke="#145a96" d="M19 0h1M29 20h1M32 45h1M2 77h1M33 78h1M22 90h1M36 99h1M23 131h1M12 165h1M20 179h1"/>
<path stroke="#1e5a96" d="M28 26h1M35 27h1M32 31h1M29 38h1M32 38h1M33 49h1M4 61h1M1 68h1M14 72h1M36 73h1M28 76h1M31 82h1M28 85h1M29 89h1M29 92h1M29 93h1M28 95h1M29 113h1M35 120h1M0 125h1M36 138h1M13 142h1M13 146h1M18 158h1M19 172h1M12 173h1M32 198h1M12 207h1"/>
<path stroke="#1e5aa0" d="M32 1h1M30 3h1M10 4h1M10 5h1M36 5h1M33 11h1M9 13h1M32 19h1M4 21h1M33 29h1M34 35h1M31 37h1M33 41h1M29 48h1M5 50h1M36 54h1M11 57h1M14 63h1M15 65h1M29 70h1M35 70h1M28 75h1M33 82h1M28 88h1M36 93h1M21 105h1M23 115h1M24 116h1M13 136h1M19 139h1M24 141h1M20 155h1M17 162h1M9 168h1M11 174h1M20 185h1M32 204h1M24 210h1"/>
<path stroke="#1e64a0" d="M20 4h1M10 8h1M14 19h1M27 31h1M34 54h1M33 61h1M29 72h1M18 81h1M31 103h1M34 118h1M36 120h1M10 140h1M16 143h1"/>
<path stroke="#1e64aa" d="M6 0h1M9 3h1M6 5h1M14 10h1M1 14h1M31 15h1M9 28h1M33 28h1M32 29h1M33 32h1M33 33h1M11 37h1M28 38h1M5 39h1M17 42h1M30 45h1M34 51h1M29 52h1M4 54h1M34 58h1M0 59h1M31 61h1M1 62h1M1 63h1M16 68h1M36 71h1M0 76h1M22 78h1M36 80h1M27 84h1M35 85h1M28 86h1M22 87h1M30 91h1M31 94h1M34 95h1M34 97h1M11 100h1M0 101h1M0 110h1M27 110h1M28 122h1M24 131h1M33 138h1M13 141h1M20 147h1M20 148h1M18 151h1M26 153h1M29 154h1M20 156h1M33 165h1M2 169h1M15 182h1M9 189h1M19 190h1M31 193h1M20 198h1M1 199h1M1 206h1M26 207h1M24 209h1"/>
<path stroke="#2864aa" d="M0 46h1M27 162h1"/>
<path stroke="#286eaa" d="M5 4h1M5 6h1M5 9h1M8 9h1M29 9h1M28 15h1M14 17h1M31 28h1M29 39h1M5 40h1M30 40h1M31 41h1M33 48h1M4 49h1M33 54h1M4 55h1M9 60h1M34 66h1M22 88h1M34 96h1M28 109h1M27 115h1M25 118h1M33 137h1M11 142h1M13 145h1M20 150h1M10 151h2M16 154h1M29 162h1M19 173h1M18 178h1M9 180h1M15 181h1M33 182h1M0 193h1M1 200h1M18 204h1M1 208h1"/>
<path stroke="#286eb4" d="M10 1h1M34 2h1M18 3h1M20 3h1M29 7h1M31 8h1M6 9h1M18 10h1M28 13h1M32 16h2M6 17h1M32 17h1M34 19h1M18 20h1M30 21h1M28 23h1M28 28h1M8 30h1M28 30h1M36 31h1M2 33h1M36 34h1M5 35h1M8 35h1M31 36h1M31 38h1M7 39h1M28 40h2M7 42h1M36 42h1M36 43h1M28 44h1M34 46h1M1 48h1M33 51h1M34 52h1M36 60h1M14 62h1M14 67h1M21 69h1M35 69h1M29 79h1M29 80h1M0 82h1M21 85h1M22 89h1M35 89h1M30 90h1M15 93h1M33 94h1M31 95h1M34 98h1M36 98h1M14 99h1M36 100h1M14 101h1M21 106h1M2 107h1M0 111h1M33 115h1M0 116h1M24 117h1M29 123h1M1 126h1M24 127h1M24 129h1M30 130h1M13 133h1M36 140h1M9 141h1M17 142h1M24 142h1M9 143h1M13 143h1M29 145h1M29 148h1M17 152h1M30 153h1M29 157h1M18 160h1M17 165h1M21 166h1M27 167h1M25 169h1M24 172h1M15 173h1M33 181h1M20 190h1M32 191h1M1 192h1M3 199h2M10 199h1M32 199h1M2 201h1M36 201h1M19 206h1M9 207h1"/>
<path stroke="#2878b4" d="M31 3h1M8 5h1M14 6h1M1 13h1M9 21h1M4 22h1M6 23h1M4 29h1M18 31h1M33 34h1M30 36h1M4 45h1M6 49h1M29 54h1M35 90h1M14 100h1M0 102h1M31 104h1M15 111h1M21 112h1M36 131h1M33 136h1M13 137h1M17 143h1M27 144h1M29 144h1M17 149h1M11 150h1M29 160h1M12 167h1M12 194h1M24 196h1"/>
<path stroke="#3278b4" d="M5 1h1M9 2h1M18 2h1M32 2h1M36 2h1M32 3h1M32 4h1M5 7h1M32 7h1M4 8h1M30 8h1M10 11h1M28 14h1M3 15h1M21 17h1M6 21h1M4 24h1M4 26h1M31 26h1M7 28h1M31 30h1M6 36h1M7 37h1M33 37h1M7 44h1M33 46h1M35 46h1M33 47h1M35 47h1M28 51h1M16 59h1M0 61h1M16 61h1M15 62h1M35 65h1M16 69h1M33 71h1M29 74h1M35 77h1M35 82h1M31 83h1M35 84h1M27 91h1M34 94h1M30 95h1M33 98h1M29 99h1M32 100h1M11 101h1M33 101h1M36 103h1M13 104h1M21 104h1M35 104h1M13 105h1M1 107h1M35 108h1M27 111h1M33 113h1M18 115h1M34 119h1M0 129h1M27 131h1M29 131h1M15 134h1M30 137h1M19 138h1M33 140h1M11 143h1M9 146h1M20 152h1M17 154h1M28 154h1M29 156h1M17 164h1M10 173h1M21 176h1M12 177h1M11 178h1M13 178h1M14 182h1M20 187h1M18 192h1M7 193h1M15 196h1M19 198h1M24 199h1M20 204h1M4 205h1M12 206h1M19 209h1"/>
<path stroke="#3282b4" d="M6 19h1M3 34h1M31 58h1M36 61h1M23 65h1M36 68h1M1 69h1M22 81h1M32 83h1M28 87h1M29 90h1M0 91h1M27 92h1M34 100h1M23 106h1M35 118h1M18 124h1M29 124h1M24 128h1M34 138h1M10 139h1M34 142h1M15 148h1M9 164h1M35 164h1M11 173h1M12 176h1M13 179h1M12 183h2M12 186h1M9 187h1M1 190h1M36 202h1M20 205h1"/>
<path stroke="#3282be" d="M28 0h1M5 3h1M6 11h1M5 14h1M21 18h1M31 19h1M4 25h1M5 27h2M8 31h1M36 37h1M11 39h1M31 40h1M28 41h1M8 44h1M3 47h1M0 48h1M21 51h1M3 54h1M29 55h1M3 57h1M10 60h1M29 67h1M27 76h1M18 79h1M22 80h1M0 81h1M32 82h1M31 97h1M34 101h1M34 110h1M8 119h1M24 120h1M31 120h1M0 126h1M24 126h1M31 127h1M36 130h1M13 132h1M33 142h1M10 155h1M28 162h1M21 163h1M26 168h1M12 178h1M15 184h1M9 185h1M19 193h1M9 198h1M19 199h1M10 200h1M10 202h1M1 205h1M20 207h1M11 210h1M25 210h1"/>
<path stroke="#3c82be" d="M34 0h1M31 2h1M8 4h1M5 5h1M9 10h1M33 15h1M6 20h1M18 21h1M32 25h1M35 32h1M35 33h1M3 35h1M30 43h1M4 44h1M36 44h1M2 54h1M27 57h1M9 59h1M26 59h1M16 60h1M34 60h1M28 63h1M29 69h1M35 71h1M3 72h1M15 72h1M18 72h1M14 73h1M16 73h1M18 74h1M36 74h1M1 77h1M23 78h1M35 78h1M21 82h1M32 86h1M36 86h1M18 89h1M35 91h1M24 93h1M28 93h1M29 96h1M22 98h1M33 103h1M2 106h1M18 113h1M25 120h1M27 122h1M17 124h1M31 129h1M20 138h1M33 143h1M36 152h1M30 154h1M24 162h1M33 166h2M19 167h1M9 169h1M25 172h1M27 177h1M27 178h1M7 180h1M13 182h1M15 183h1M14 186h1M9 190h1M36 209h1"/>
<path stroke="#3c8cbe" d="M28 1h1M36 1h1M20 2h1M7 4h1M29 5h1M8 6h1M6 10h1M14 11h1M2 13h1M32 13h1M6 14h1M30 14h1M4 15h1M6 15h1M14 15h1M34 15h1M21 16h1M34 17h1M6 25h1M35 28h1M6 31h1M5 32h2M32 32h1M6 33h1M28 33h1M34 33h1M36 33h1M30 34h1M9 35h1M28 36h1M5 37h1M28 37h1M30 37h1M0 39h1M31 39h1M34 41h1M8 42h1M30 44h1M3 45h1M28 46h1M8 48h1M36 48h1M15 50h1M31 55h1M3 56h1M11 56h1M2 57h1M16 57h1M28 57h2M14 58h1M4 62h1M16 62h1M18 62h1M33 63h1M34 64h1M21 66h1M29 66h1M36 66h1M36 67h1M2 69h1M33 69h1M4 72h1M36 72h1M28 73h1M28 74h1M18 78h1M30 79h1M35 81h1M30 83h1M34 83h1M2 85h1M29 85h1M31 87h1M14 89h1M17 93h1M35 93h1M32 94h1M32 95h1M31 96h2M14 97h1M32 98h1M35 98h1M31 100h1M35 102h2M29 104h1M14 106h1M18 107h1M28 108h1M33 111h1M35 111h1M23 113h1M23 114h1M28 116h1M6 117h1M33 119h1M13 120h1M18 123h1M23 126h1M1 127h1M22 128h1M27 129h1M30 129h1M3 130h1M24 130h1M10 131h1M25 131h1M27 133h1M15 136h1M29 138h1M11 140h1M36 141h1M16 142h1M23 143h1M36 146h1M9 147h1M30 147h1M10 150h1M29 151h1M29 152h1M20 154h1M27 155h2M27 156h1M11 159h1M33 163h1M13 165h1M13 167h1M28 168h1M25 170h1M14 172h1M9 173h1M28 174h1M7 179h1M6 180h1M13 180h1M15 186h1M9 188h1M13 188h1M20 188h1M1 191h1M4 192h1M32 192h2M16 199h1M9 200h1M5 201h1M10 201h1M23 201h1M0 202h1M20 202h1M24 204h1M9 205h1M2 206h1M20 206h1M27 207h1M24 208h1"/>
<path stroke="#468cbe" d="M6 1h1M5 8h1M6 12h1M8 47h1M1 60h1M33 64h1M34 77h1M27 114h1M18 157h1M18 176h1M29 179h1M11 183h1"/>
<path stroke="#4696be" d="M14 7h1M29 8h1M33 10h1M30 20h1M1 24h1M6 24h1M30 24h1M5 29h1M29 36h1M5 38h1M26 61h1M29 64h1M0 75h1M11 76h1M30 78h1M11 92h1M30 92h1M0 115h1M28 118h1M25 140h1M14 141h1M29 141h1M28 148h1M18 153h1M10 156h1M21 167h1M17 169h1M27 169h1M13 175h1M25 181h1M9 182h1M14 185h1M31 190h1"/>
<path stroke="#4696c8" d="M4 0h1M4 1h1M32 5h1M8 12h1M31 12h1M13 15h1M3 25h1M27 27h1M5 31h1M9 34h1M34 36h1M1 37h1M29 37h1M5 41h1M32 46h1M2 47h1M28 47h1M1 49h1M29 50h1M33 50h1M27 56h1M15 58h1M15 64h1M18 65h1M33 70h1M16 76h1M16 77h1M36 79h1M30 81h1M28 90h1M33 92h1M29 97h1M29 98h1M22 99h1M34 99h1M22 101h1M32 104h2M23 105h1M0 106h1M0 109h1M17 123h1M30 123h1M29 125h1M30 128h1M17 135h1M29 136h1M15 143h1M6 145h1M29 146h2M28 147h1M11 153h1M11 155h1M12 166h1M2 167h1M18 167h1M28 171h1M17 178h1M6 179h1M33 183h1M7 187h1M26 196h1M32 196h1M6 197h1M9 199h1M20 203h1M32 203h1M24 205h1M16 207h1"/>
<path stroke="#5096c8" d="M2 14h1M31 18h1M32 26h1M33 27h1M1 32h1M32 36h1M21 38h1M16 56h1M0 57h1M28 62h1M34 63h1M31 64h1M7 70h1M34 78h1M30 86h1M26 96h1M1 104h1M23 109h1M34 111h1M27 112h1M1 115h1M2 121h1M29 122h1M23 127h1M24 132h1M24 135h1M23 145h1M27 148h1M36 159h1M26 162h1M34 167h2M17 171h1M10 172h1M9 177h1M9 191h1M7 192h1M32 195h1M35 197h1M14 202h1M17 202h1M4 206h1M1 209h1"/>
<path stroke="#50a0c8" d="M29 0h1M7 3h1M18 4h1M29 4h1M8 7h1M34 9h1M10 12h1M28 12h1M28 18h1M3 19h1M2 26h1M30 27h1M36 29h1M31 32h1M10 34h1M34 40h1M7 43h1M1 50h1M15 56h1M15 57h1M17 57h1M31 59h1M0 62h1M21 63h1M18 77h1M33 77h1M30 80h1M31 93h1M21 100h1M14 102h1M29 102h1M13 107h1M11 115h1M25 117h1M6 120h1M6 121h1M34 121h1M24 134h1M33 134h1M26 142h1M23 144h1M27 146h1M18 163h1M9 165h1M6 167h1M21 173h1M13 184h1M30 186h1M2 197h1M13 202h1M19 202h1M24 202h1M15 203h1M24 206h1"/>
<path stroke="#5aa0c8" d="M14 0h1M8 3h1M34 3h1M3 4h1M18 12h1M6 13h1M31 13h1M5 15h1M32 15h1M34 16h1M3 18h1M17 21h1M32 24h1M13 28h1M32 30h1M7 33h1M18 34h1M33 35h1M7 38h1M3 40h1M33 40h1M4 41h1M34 44h1M2 46h1M2 48h1M31 52h1M30 53h1M20 54h1M2 58h1M10 59h1M14 61h1M17 61h1M16 63h1M18 64h1M5 65h1M21 68h1M7 69h1M14 69h1M18 73h1M14 74h1M27 75h1M34 75h1M22 77h1M16 78h1M31 79h1M21 83h1M27 83h1M18 88h1M31 88h1M14 90h1M18 90h1M31 90h1M22 92h1M34 92h1M33 95h1M36 97h1M2 105h1M33 105h1M12 106h1M36 108h1M35 109h1M13 111h1M29 112h1M33 112h1M24 113h1M0 114h1M28 115h1M23 117h1M34 117h1M1 118h1M0 122h1M18 125h1M28 125h1M27 126h1M1 128h1M23 129h1M31 130h1M29 137h1M14 138h1M36 139h1M23 140h1M22 141h1M15 151h1M15 153h1M2 154h1M15 154h1M13 157h1M25 158h1M17 159h1M29 159h1M18 162h1M6 163h1M9 163h1M6 165h1M18 166h1M27 168h1M19 171h1M25 171h1M1 172h1M13 176h1M24 181h1M11 182h1M14 184h1M16 185h1M9 186h1M32 186h1M12 187h1M16 193h1M20 193h1M31 195h1M32 197h1M20 199h1M19 200h1M13 201h1M2 207h1M13 210h1"/>
<path stroke="#64001e" d="M25 0h1M27 0h1M23 1h4M35 1h1M23 2h5M23 3h5M16 4h1M24 4h4M15 5h1M24 5h2M25 6h2M16 7h1M26 7h2M15 8h1M25 8h2M15 9h1M26 9h1M35 9h1M15 10h1M25 10h2M35 10h1M15 11h1M25 11h3M35 11h1M24 12h4M25 14h1M25 15h1M23 18h1M11 19h1M25 19h1M27 19h1M11 20h1M20 20h1M25 20h1M20 21h1M20 22h1M15 23h1M23 23h1M25 23h1M25 24h2M20 25h1M20 26h1M23 27h2M20 28h1M23 28h3M20 29h1M20 30h1M20 31h1M20 32h1M20 33h1M15 34h1M15 35h1M14 36h3M19 36h1M13 37h1M15 37h2M13 38h4M20 38h1M13 39h4M20 39h1M10 40h1M19 40h2M23 40h2M20 41h1M23 41h1M15 42h1M15 43h2M19 43h1M13 44h1M16 44h1M20 44h1M26 44h1M13 45h1M16 45h1M19 45h2M26 45h1M13 46h1M19 46h1M25 46h2M13 47h1M19 47h1M26 47h1M19 48h2M26 48h1M12 49h1M17 49h1M19 49h2M26 49h1M12 50h1M17 50h1M19 50h1M25 54h1M17 55h1M19 60h1M8 62h1M25 62h1M32 62h1M7 63h2M7 64h2M8 65h1M6 66h1M19 66h1M6 67h1M25 67h1M32 67h1M5 68h2M17 68h1M24 68h2M5 69h1M32 69h1M5 70h1M25 70h1M32 70h1M24 71h2M25 72h1M25 73h1M25 74h1M5 76h3M25 77h1M12 79h1M10 81h1M6 82h1M10 82h1M6 83h1M10 83h1M20 84h1M10 85h1M7 86h2M10 86h1M19 87h1M25 87h1M5 90h1M5 91h1M1 92h1M19 92h2M3 94h1M13 94h1M19 94h1M19 95h1M5 97h1M12 97h2M8 99h1M7 100h1M19 100h1M7 101h1M4 102h1M10 102h1M19 102h2M4 103h1M10 103h1M19 103h1M19 104h1M6 105h1M20 105h1M19 108h1M19 110h1M19 111h2M4 113h1M9 113h1M17 113h1M9 114h1M12 121h1M4 122h1M6 124h1M6 125h1M32 127h1M19 128h1M1 131h1M11 132h1M5 134h1M5 135h2M5 136h2M5 137h2M3 138h1M6 138h1M1 139h1M3 139h1M2 140h2M7 140h1M5 142h3M6 143h1M0 144h1M2 144h2M8 144h1M0 145h1M2 145h2M0 146h1M2 146h2M0 147h2M3 147h1M0 148h2M3 148h1M5 149h4M6 150h3M5 151h4M6 152h3M5 155h1M7 155h1M7 156h2M2 157h2M6 157h3M8 158h1M7 160h1M22 160h1M6 161h2M22 161h1M6 162h2M22 162h1M8 168h1M2 173h3M3 174h1M1 175h1M22 175h1M31 175h1M0 176h1M2 176h1M4 176h1M6 176h1M31 176h1M33 176h1M36 176h1M0 177h1M31 178h1M36 178h1M1 179h1M36 179h1M6 181h1M6 182h1M30 183h1M30 184h1M25 186h1M33 186h1M25 188h1M22 189h1M25 189h1M25 193h1M5 194h1M5 195h1M25 199h1M25 200h1M25 201h1M28 202h1M30 205h1M6 208h1M21 209h1"/>
<path stroke="#64a0c8" d="M4 30h1M29 34h1M17 40h1M4 74h1M9 195h1M15 198h1"/>
<path stroke="#64aac8" d="M2 168h1M24 203h1M24 207h1"/>
<path stroke="#64aad2" d="M22 0h1M18 1h1M30 1h1M8 2h1M14 3h1M29 6h1M8 10h1M10 10h1M31 10h1M14 16h1M28 17h1M6 18h1M21 19h1M21 21h1M5 23h1M36 24h1M3 30h1M6 30h1M27 30h1M28 31h1M8 32h1M33 36h1M0 37h1M4 38h1M28 39h1M30 39h1M33 44h1M31 45h1M18 48h1M30 48h1M34 49h1M4 50h1M8 50h1M31 50h2M5 52h1M21 52h1M3 53h1M1 57h1M1 61h1M34 61h1M34 68h1M28 72h1M21 73h1M14 75h1M31 76h1M15 80h1M29 86h1M32 89h1M33 90h1M28 96h1M0 98h1M28 100h1M14 104h1M8 106h1M18 111h1M28 112h1M18 114h1M33 114h1M1 117h1M35 117h1M26 118h1M21 119h1M27 119h1M2 122h1M23 125h1M28 127h1M1 129h1M14 131h1M36 132h1M18 134h1M11 135h1M14 136h1M24 137h1M25 141h1M28 142h1M35 146h1M15 149h1M15 155h1M26 155h1M33 158h1M35 165h1M25 167h1M33 167h1M17 168h1M7 172h1M21 174h1M29 180h1M9 183h1M35 183h1M13 187h1M23 190h1M5 197h1M9 197h1M7 198h1M2 202h1M11 202h1M18 203h1M35 206h1M18 207h1M13 209h1M10 210h1"/>
<path stroke="#6e001e" d="M16 6h1M15 7h1M24 8h1M27 10h1M24 11h1M15 32h1M20 34h1M12 43h1M7 54h2M6 58h1M32 68h1M19 84h1M19 88h1M6 102h1M18 102h1M7 104h1M6 113h1M35 114h1M9 115h1M4 119h1M32 122h1M6 129h1M19 129h1M8 132h1M7 139h1M32 139h1M5 143h1M1 145h1M8 145h1M14 152h1M0 160h1M8 160h1M0 161h1M36 177h1M3 179h1M6 183h1M17 194h1M0 197h1M33 202h1"/>
<path stroke="#6eaad2" d="M4 2h1M31 4h1M29 10h1M29 12h1M10 15h1M31 17h1M6 22h1M35 23h1M27 26h1M35 29h1M2 31h1M31 31h1M28 32h1M2 36h1M8 37h1M3 39h1M27 40h1M2 42h1M33 43h1M11 44h1M34 48h1M36 50h1M23 54h1M5 56h1M11 59h1M21 61h1M3 67h1M3 70h1M16 71h1M33 74h1M23 79h1M35 80h1M1 81h1M17 83h1M33 93h1M14 103h1M29 103h1M18 108h1M23 110h1M36 110h1M5 111h1M13 112h1M24 115h1M34 116h1M1 119h1M24 121h1M1 124h1M30 126h1M27 128h1M27 130h1M35 130h1M26 132h1M15 135h1M24 140h1M27 147h1M2 151h1M19 151h1M27 157h1M33 157h1M34 159h1M9 171h1M8 172h1M10 182h1M16 184h1M28 186h1M16 200h1M16 209h1"/>
<path stroke="#6eb4d2" d="M5 0h1M13 14h1M0 24h1M7 24h1M31 25h1M4 28h1M2 32h1M31 35h1M9 42h1M31 48h1M36 49h1M1 58h1M27 63h1M16 65h1M33 66h1M36 70h1M29 71h1M9 73h1M9 74h1M35 79h1M21 84h1M33 86h1M23 94h1M22 96h1M22 100h1M28 110h1M34 114h1M6 118h1M0 119h1M18 135h1M10 144h1M21 147h1M10 157h1M12 158h1M20 159h1M2 166h1M0 184h1M20 189h1M15 197h1M23 200h1M35 208h1"/>
<path stroke="#78001e" d="M23 0h1M23 19h1M25 22h1M9 26h1M13 36h1M20 42h1M7 55h1M8 84h1M7 96h1M11 113h1M5 153h1M4 160h1M6 160h1M3 163h1M4 179h1M1 180h1M22 193h1M5 196h1"/>
<path stroke="#780a1e" d="M17 16h1M19 31h1M13 43h1M24 43h1M7 62h1M10 69h1M25 69h1M25 76h1M19 85h1M5 89h1M8 92h1M10 104h1M4 117h1M10 122h1M10 123h1M19 130h1M32 132h1M2 138h1M2 139h1M6 141h1M1 149h1M5 154h1M8 159h1M3 164h1M22 188h1M33 188h1M22 202h1"/>
<path stroke="#78b4d2" d="M14 2h1M11 4h1M34 8h1M7 13h1M9 14h1M5 16h2M31 16h1M5 18h1M32 18h1M31 20h1M3 22h1M13 23h1M29 23h1M18 24h1M0 25h1M30 25h1M28 27h1M2 29h1M11 31h1M30 35h1M6 37h1M9 37h1M30 38h1M33 39h1M27 41h1M29 42h1M35 45h1M4 46h1M7 46h1M29 46h1M6 50h1M30 55h1M1 56h1M23 57h1M4 60h1M2 70h1M14 70h3M33 72h1M30 74h1M29 75h1M29 82h1M36 85h1M34 87h1M32 88h1M18 91h1M12 93h1M16 93h1M26 95h1M0 99h1M11 99h1M33 102h1M24 105h2M0 107h1M27 108h1M15 109h1M34 109h1M36 109h1M5 110h1M6 119h1M25 119h1M36 119h1M14 120h2M27 125h1M31 126h1M30 127h1M17 130h1M29 132h1M8 143h1M35 147h2M10 149h1M12 159h1M35 163h1M21 165h1M14 166h1M26 166h1M15 170h2M13 177h1M14 181h1M25 182h1M35 184h1M14 188h1M32 189h1M13 190h1M0 191h1M13 191h1M5 192h1M24 192h1M14 194h1M31 194h1M9 196h1M12 196h1M7 197h1M0 199h1M34 204h1M18 205h1M7 207h1M18 208h1M25 208h1M30 209h1M0 210h1"/>
<path stroke="#820a1e" d="M0 15h1M2 21h1M23 29h1M23 32h1M16 40h1M19 42h1M13 67h1M19 67h1M12 70h1M7 82h1M9 85h1M6 134h1M7 153h1M7 158h1M14 159h1M3 178h1M25 187h1M22 203h1"/>
<path stroke="#820a28" d="M25 7h1M25 9h1M25 13h2M26 14h1M19 39h1M13 48h1M20 62h1M1 65h1M19 65h1M32 65h1M26 67h1M12 73h1M32 78h1M10 80h1M19 86h1M7 95h1M13 96h1M9 103h1M11 103h1M10 111h1M19 126h1M20 128h1M20 129h1M8 138h1M4 172h1M6 175h1M33 175h1M31 177h1M7 178h1"/>
<path stroke="#82b4d2" d="M2 86h1M27 145h1"/>
<path stroke="#82b4dc" d="M9 6h1M29 11h1M22 20h1M21 41h1M2 67h1M36 118h1M9 140h1M26 181h1M24 184h1M11 185h1M4 191h1M7 191h1M17 197h1M13 199h1M35 203h1"/>
<path stroke="#82bedc" d="M2 6h1M4 6h1M30 6h1M34 6h1M7 8h1M21 12h1M16 14h1M34 18h1M13 19h1M32 20h1M10 21h1M3 28h1M29 28h1M5 30h1M0 38h1M31 43h1M34 43h1M29 45h1M36 46h1M28 49h1M31 49h1M32 52h1M21 57h1M17 60h1M26 60h1M21 62h1M3 66h1M14 66h1M21 67h1M2 68h1M34 70h1M15 73h1M15 76h1M15 79h1M24 81h1M1 82h1M17 82h1M1 83h1M34 84h1M36 84h1M24 86h1M34 88h1M34 89h1M0 90h1M26 97h1M15 98h1M1 99h1M13 102h1M1 103h1M13 103h1M15 103h1M22 107h1M15 113h1M28 114h1M11 116h1M30 122h1M26 124h1M1 125h1M27 127h1M11 136h1M15 137h1M11 138h1M26 140h1M16 141h1M9 145h1M30 145h1M14 146h1M3 149h1M29 149h1M15 150h1M17 151h1M10 154h1M24 160h1M28 165h1M17 166h1M35 166h1M17 167h1M28 169h1M10 171h1M18 187h1M28 187h1M32 187h1M12 189h1M30 191h1M15 195h1M16 198h1M36 200h1M33 204h1M36 208h1"/>
<path stroke="#8c0a28" d="M27 6h1M19 13h1M24 13h1M26 25h1M13 35h1M20 37h1M23 37h1M22 40h1M11 52h1M8 53h1M13 63h1M11 64h1M13 68h1M3 76h1M21 77h1M32 77h1M25 79h1M5 82h1M5 83h1M25 90h1M10 91h1M5 92h1M10 92h1M3 95h1M13 95h1M5 96h1M25 102h1M18 103h1M20 103h1M6 114h1M4 120h1M19 123h1M13 128h1M8 133h1M2 137h2M5 138h1M8 147h1M5 150h1M34 151h1M8 155h1M3 158h1M22 174h1M0 175h1M7 175h1M11 189h1M34 195h1M21 208h1"/>
<path stroke="#8cbedc" d="M5 2h1M33 4h2M3 5h1M28 11h1M5 13h1M18 18h1M31 23h1M5 25h1M5 26h1M34 27h1M8 28h1M32 28h1M8 29h1M29 29h1M4 37h1M34 37h1M4 48h1M5 53h1M2 55h1M18 57h1M10 58h1M4 59h1M28 59h1M30 64h1M1 70h1M28 71h1M31 78h1M36 81h1M0 83h1M28 83h1M32 85h1M22 86h1M24 90h1M33 96h1M16 102h1M12 105h1M31 106h1M25 107h1M15 110h1M25 116h1M33 116h1M36 116h1M0 117h1M17 117h1M24 119h1M31 119h1M2 120h1M17 122h1M36 123h1M23 128h1M23 133h1M17 136h1M35 138h1M23 139h2M29 139h1M17 141h1M21 141h1M36 143h1M10 147h1M20 151h1M3 154h1M13 159h1M11 163h1M26 164h1M26 169h1M7 171h1M5 172h1M13 173h1M28 176h1M5 180h1M15 187h1M1 189h1M24 190h1M32 190h1M18 191h1M9 192h1M15 194h2M31 196h1M35 196h1M9 201h1M4 203h1M13 205h1M13 206h1M25 209h1M26 210h1"/>
<path stroke="#8cc8dc" d="M14 1h1M28 2h1M10 6h1M7 14h1M29 30h1M5 36h1M31 47h1M5 54h1M10 61h1M14 71h1M23 80h1M22 93h1M34 112h1M8 122h1M18 126h1M33 135h1M24 136h1M13 140h1M13 144h1M12 160h1M0 165h1M0 166h1M13 169h1M21 175h1M28 175h1M30 175h1"/>
<path stroke="#960a28" d="M35 8h1M15 12h1M25 21h1M12 30h1M17 51h1M24 70h1M7 92h1M9 93h1M3 97h1M19 97h1M7 102h1M7 105h1M20 108h1M32 123h1M4 124h1M32 124h1M6 130h1M20 130h1M12 132h1M3 136h1M1 140h1M33 201h1M7 210h1M21 210h1M32 210h1"/>
<path stroke="#961428" d="M0 1h1M12 4h1M0 12h1M27 13h1M12 35h1M13 41h1M19 41h1M16 42h1M12 48h1M26 51h1M10 93h1M20 94h1M20 97h1M19 109h1M7 121h1M4 125h1M5 139h1M1 144h1M26 173h1M30 182h1M2 195h1"/>
<path stroke="#96c8dc" d="M9 1h1M21 7h1M31 11h1M34 12h1M5 19h1M33 20h1M3 23h1M7 26h1M30 26h1M18 27h1M31 27h1M6 29h1M31 29h1M3 31h2M18 33h1M29 33h1M3 37h1M34 39h1M4 40h1M31 42h1M11 43h1M28 43h1M18 45h1M9 47h1M28 48h1M3 49h1M7 49h1M32 51h1M3 55h1M5 55h1M21 55h1M21 56h1M34 56h1M9 61h1M12 61h1M15 61h1M26 62h1M30 65h1M3 69h1M17 72h1M21 72h1M34 76h1M0 84h1M30 84h1M22 85h1M21 87h1M33 89h1M21 91h1M12 92h1M21 93h1M14 94h1M20 99h1M25 100h1M12 101h1M16 104h1M28 105h1M30 105h1M22 106h1M28 106h1M31 107h1M1 108h1M13 108h1M34 108h1M27 109h1M18 110h1M18 112h1M22 112h1M13 113h1M36 115h1M28 117h1M23 118h2M26 119h1M29 119h1M30 121h1M14 123h1M27 123h1M5 124h1M11 127h1M22 127h1M3 129h1M25 129h1M28 129h1M0 130h1M28 130h1M24 133h1M14 135h1M32 135h1M35 135h1M12 136h1M12 137h1M36 137h1M9 139h1M25 139h1M34 139h1M12 141h1M33 141h1M1 143h1M9 144h1M10 145h1M22 146h1M16 148h2M9 149h1M13 151h1M31 153h1M9 154h1M12 157h1M17 161h1M12 163h1M27 164h1M25 166h1M28 166h1M16 168h1M16 169h1M24 169h1M36 170h1M8 171h1M34 174h1M25 175h1M15 176h1M27 176h1M15 179h1M18 179h1M0 181h1M11 181h1M16 183h1M26 184h1M35 185h1M14 187h1M16 188h1M2 193h1M24 193h1M32 193h1M26 195h1M12 197h1M2 198h1M15 201h1M4 204h1M9 204h1M32 206h1M35 207h1M2 209h1"/>
<path stroke="#a01428" d="M0 0h1M1 1h1M17 7h1M12 8h1M19 9h1M23 11h1M27 14h1M19 20h1M26 23h2M15 25h1M19 30h1M23 33h1M13 34h1M19 38h1M20 47h1M16 52h1M25 52h1M20 60h1M5 61h1M20 65h1M32 66h1M13 69h1M5 71h1M8 75h1M6 79h1M3 92h1M20 95h1M5 98h1M8 98h1M5 100h1M16 114h1M4 115h1M19 118h1M10 119h1M26 129h1M12 131h1M32 133h1M5 152h1M34 152h1M1 161h1M8 169h1M21 169h1M29 172h1M30 181h1M2 186h1M11 188h1M8 190h1M21 193h1M28 195h1M6 199h1M27 199h1M8 210h1"/>
<path stroke="#a0c8dc" d="M12 21h1M36 30h1M27 34h1M21 50h1M31 63h1M21 88h1M21 90h1M0 95h1M10 97h1M21 97h1M16 103h1M24 107h1M14 124h1M26 131h1M0 133h1M18 140h1M26 141h1M8 142h1M0 157h1M27 163h1M14 170h1M16 187h1M16 197h1M32 200h1M20 201h1M35 202h1M25 205h1"/>
<path stroke="#a0c8e6" d="M36 3h1M33 5h1M7 6h1M18 8h1M8 11h1M1 12h1M13 12h1M32 14h1M10 16h1M2 19h1M18 19h1M10 23h1M11 27h1M21 31h1M35 31h1M9 36h1M11 36h1M33 38h1M6 40h1M34 47h1M15 48h1M32 53h1M28 55h1M0 58h1M4 58h1M3 71h1M18 71h1M19 73h1M34 86h1M32 87h1M22 91h1M28 91h1M34 91h1M0 96h1M14 96h1M15 99h2M25 99h1M15 100h1M28 101h1M1 102h1M8 103h1M36 104h1M35 105h1M8 107h1M21 107h1M29 107h1M35 107h1M24 112h1M10 116h1M21 120h1M27 121h1M18 130h1M27 132h1M18 137h1M14 145h1M21 146h1M14 148h1M36 148h1M2 153h1M16 158h1M31 163h1M26 165h1M6 166h1M12 168h1M18 168h1M9 170h1M10 174h1M35 174h1M18 175h1M26 178h1M24 183h1M35 186h1M12 188h1M9 194h1M20 200h1M1 201h1M19 201h1M1 202h1M9 203h1M33 203h1M29 205h1M18 209h1"/>
<path stroke="#a0d2e6" d="M4 3h1M6 8h1M20 10h1M35 19h1M1 20h1M36 28h1M24 31h1M10 32h1M8 34h1M0 35h1M33 45h1M30 52h1M29 56h1M17 58h1M21 64h1M15 67h1M34 72h1M18 82h1M32 84h1M21 86h1M10 96h1M23 103h1M32 103h1M27 105h1M34 107h1M27 113h1M3 114h1M14 122h1M0 123h1M2 134h1M26 136h1M36 136h1M9 138h1M18 141h1M18 145h1M16 155h1M9 159h1M5 174h1M8 179h1M24 182h1M26 190h1M12 191h1M27 193h1M17 205h1M31 206h1M10 208h1M11 209h1M36 210h1"/>
<path stroke="#aa1428" d="M26 0h1M27 8h1M11 17h1M12 20h1M15 21h1M26 21h1M23 22h1M15 27h1M16 35h1M23 35h1M23 36h1M25 37h1M18 39h1M25 39h1M1 41h1M20 43h1M20 46h1M25 48h1M19 51h1M17 52h1M25 55h1M6 62h1M24 65h1M26 71h1M24 72h1M2 73h1M24 73h1M4 76h1M19 80h1M20 82h1M6 84h1M5 85h2M5 87h1M3 90h1M1 94h1M1 95h1M5 99h1M9 99h1M7 109h1M12 111h1M19 112h1M4 114h1M20 117h1M4 121h1M19 122h1M4 123h1M4 127h1M19 127h1M8 134h1M8 139h1M2 148h1M1 150h1M6 156h1M34 156h1M2 158h1M22 159h1M32 161h1M1 165h1M4 171h1M1 176h1M16 179h1M1 182h1M0 188h1M21 190h1M3 195h1M22 200h1M22 201h1M29 208h1"/>
<path stroke="#aad2e6" d="M7 9h1M22 9h1M21 10h1M10 22h1M36 22h1M21 23h1M34 23h1M36 26h1M10 27h1M11 28h1M10 29h1M18 29h1M1 30h2M4 32h1M5 33h1M34 38h1M36 38h1M0 42h1M2 43h1M10 44h1M9 45h1M3 46h1M4 47h1M27 49h1M2 50h1M34 50h1M12 56h1M10 57h1M18 58h1M28 58h1M1 59h1M17 59h1M28 60h1M3 61h1M2 63h1M14 64h1M29 76h1M27 82h1M7 90h1M32 90h1M31 91h1M33 91h1M26 92h1M28 97h1M27 98h1M18 99h1M16 100h1M2 102h1M0 103h1M23 104h1M26 104h1M4 105h1M13 106h1M34 106h1M23 107h1M25 109h1M21 111h1M28 111h1M36 111h1M0 112h1M35 116h1M35 119h1M3 120h1M29 120h1M14 121h1M36 121h1M31 122h1M3 124h1M8 125h1M35 129h1M18 131h1M2 132h1M30 134h1M26 139h1M15 142h1M27 142h1M14 143h1M18 143h1M36 144h1M15 145h1M10 146h1M23 146h1M23 147h1M9 148h1M26 148h1M17 150h1M11 152h1M26 152h1M31 154h1M2 155h1M12 155h1M17 155h1M25 155h1M30 155h1M17 160h1M33 162h1M5 165h1M15 165h1M29 165h1M34 165h1M5 166h1M27 166h1M26 167h1M29 169h1M33 169h1M0 170h1M2 171h1M13 171h2M11 172h1M32 173h1M30 174h1M5 175h1M26 177h1M28 178h1M35 182h1M25 183h1M0 185h1M0 186h1M7 186h1M4 188h1M14 189h1M5 191h1M12 192h1M10 193h1M10 194h1M23 194h1M10 196h1M31 203h1M36 203h1M36 204h1M34 205h1M0 207h1"/>
<path stroke="#b41428" d="M23 17h1M23 24h1M26 26h1M22 27h1M26 43h1M10 47h1M16 51h1M19 53h1M25 53h1M25 63h1M6 101h1M10 110h1M35 113h1M6 115h2M33 126h1M4 130h1M7 133h1M8 136h1M8 146h1M21 168h1M1 183h1M22 183h1M21 189h1M22 204h1M29 210h1"/>
<path stroke="#b41e28" d="M23 5h1M0 11h1M15 22h1M22 36h1M26 50h1M7 61h1M9 65h1M5 67h1M25 78h1M7 83h1M6 86h1M4 94h1M6 94h1M19 131h1M6 133h1M3 161h1M29 173h1M24 174h1M25 192h1M22 199h1M28 201h1"/>
<path stroke="#b41e32" d="M27 1h1M35 2h1M17 4h1M24 6h1M16 9h1M24 14h1M2 22h1M17 23h1M20 23h1M15 24h1M16 34h1M23 34h1M14 45h1M18 46h1M13 49h1M24 50h1M7 52h1M22 53h1M24 56h1M6 63h1M32 63h1M6 65h1M31 66h1M24 69h1M20 75h1M25 75h1M25 86h1M3 89h1M9 89h1M9 92h1M19 96h1M19 106h1M16 112h1M7 114h1M20 125h1M32 128h1M33 130h1M12 133h1M1 138h1M4 142h1M34 144h1M5 148h1M21 158h1M1 160h1M26 174h1M14 176h1M7 177h1M1 178h1M1 181h1M26 187h1M33 199h1M15 207h1"/>
<path stroke="#b42832" d="M25 16h1M12 28h1M22 41h1M14 53h1M24 62h1M25 64h1M7 75h1M32 79h1M12 80h1M8 81h1M3 91h1M13 92h1M9 95h1M11 104h1M9 108h1M30 108h1M9 111h1M7 131h1M23 135h1M8 137h1M1 146h1M22 154h1M22 157h1M25 190h1"/>
<path stroke="#b4d2e6" d="M28 6h1M11 7h1M11 8h1M4 9h1M8 13h1M11 14h1M1 16h1M4 16h1M35 18h1M13 21h1M11 22h2M17 30h1M35 30h1M3 32h1M24 33h1M3 36h1M8 36h1M3 42h1M29 47h1M3 50h1M2 56h1M14 56h1M9 57h1M29 58h1M2 62h1M26 63h1M33 67h1M22 69h1M34 69h1M7 73h1M29 81h1M17 84h1M27 85h1M13 87h1M24 87h1M0 89h1M2 93h1M22 94h1M16 95h1M2 100h1M8 102h1M22 105h1M36 105h1M12 107h1M18 109h1M15 112h1M8 115h1M23 121h1M1 123h1M34 127h1M0 128h1M28 128h1M11 129h1M18 129h1M30 135h1M26 137h1M34 137h1M15 141h1M14 142h1M22 142h1M16 145h1M36 145h1M11 147h1M15 147h1M17 147h1M35 148h1M36 151h1M28 153h1M9 155h1M25 157h1M33 159h1M16 163h1M26 163h1M5 167h1M0 168h1M0 169h1M10 179h1M24 180h1M30 180h1M21 187h1M6 189h1M13 192h1M1 193h1M4 193h1M15 199h1M17 199h1M32 201h1M2 203h1M2 205h1M19 205h1M9 208h1M16 208h1M9 209h1"/>
<path stroke="#b4dce6" d="M9 5h1M11 6h1M19 10h1M21 11h1M13 18h1M7 19h1M9 22h1M5 24h1M14 25h1M21 27h1M3 29h1M10 33h1M10 35h1M7 41h1M33 42h1M2 44h1M15 49h1M34 57h1M4 63h1M18 63h1M20 64h1M16 67h1M14 77h1M31 84h1M14 86h1M33 87h1M21 89h1M31 89h1M32 91h1M23 93h1M34 93h1M22 97h1M12 99h1M32 99h1M14 114h1M22 115h1M5 118h1M18 118h1M25 121h1M18 122h1M35 128h1M31 134h1M32 136h1M26 138h1M21 140h1M14 147h1M3 153h1M9 158h1M17 158h1M26 158h1M22 165h1M32 166h1M14 167h2M13 170h1M24 171h1M24 179h1M16 192h1M8 193h1M34 197h1M8 198h1M12 205h1"/>
<path stroke="#be2832" d="M12 6h1M17 15h1M36 20h1M20 27h1M15 40h1M24 46h1M10 48h1M11 53h1M11 54h1M6 55h1M6 57h1M20 58h1M8 66h1M11 68h1M2 72h1M26 74h1M19 81h1M12 83h1M9 86h1M4 89h1M19 89h1M6 95h1M25 97h1M5 104h2M9 106h1M19 107h1M12 108h1M20 109h1M20 110h1M20 114h1M7 118h1M19 119h1M7 122h1M12 122h1M20 127h1M4 128h1M3 135h1M7 138h1M35 150h1M1 157h1M21 159h1M35 160h1M36 165h1M23 169h1M7 174h1M3 177h1M33 177h1M7 185h1M23 204h1M30 204h1M11 207h1M30 207h1"/>
<path stroke="#be3232" d="M17 8h1M0 19h1M11 25h1M0 31h1M20 35h1M25 36h1M22 37h1M15 45h1M25 47h1M22 48h1M24 49h1M13 76h1M20 76h1M20 77h1M15 86h1M7 99h1M6 103h1M7 108h1M32 109h1M16 115h1M35 115h1M20 124h1M4 126h1M26 126h1M32 126h1M5 127h1M15 128h1M5 129h1M23 136h1M17 139h1M6 140h1M7 154h1M22 155h1M2 159h1M21 160h1M10 161h1M6 170h1M3 176h1M2 177h1M34 194h1M29 196h1M18 198h1M29 209h1"/>
<path stroke="#be323c" d="M1 0h1M24 7h1M15 13h1M19 14h1M16 23h1M11 24h1M19 29h1M16 32h1M12 36h1M20 36h1M14 37h1M12 40h1M22 49h1M10 50h1M11 51h1M19 59h1M13 61h1M5 63h1M11 63h1M17 69h1M13 70h1M12 71h1M12 76h1M13 78h1M19 78h1M13 79h1M20 81h1M9 88h1M19 91h1M1 96h1M8 100h1M4 104h1M9 104h1M12 112h1M5 115h1M7 117h1M19 117h1M32 125h1M4 131h2M9 133h1M32 145h1M18 147h1M25 152h1M14 160h1M22 172h1M1 173h1M7 176h1M6 195h1M6 206h1M32 208h1"/>
<path stroke="#be3c3c" d="M12 26h1M14 28h1M23 38h1M13 42h1M9 70h1M11 71h1M16 91h1M6 96h1M6 98h1M7 110h1M28 120h1M9 128h1M7 134h1M0 135h1M22 139h1M7 143h1M6 154h1M22 156h1M30 169h1M4 174h1M5 183h1M8 185h1M33 187h1M35 192h1M5 209h1"/>
<path stroke="#bedce6" d="M13 0h1M2 2h1M34 5h1M3 11h1M12 11h1M14 12h1M9 17h1M1 18h1M3 20h1M34 21h1M7 23h1M7 29h1M18 30h1M10 31h1M29 35h1M36 41h1M11 45h1M3 52h1M23 55h1M10 56h1M18 56h1M21 58h1M4 65h1M14 65h1M16 66h1M1 67h1M27 67h1M4 73h1M17 73h1M11 75h1M15 77h1M14 78h1M28 79h1M16 80h1M2 83h1M14 88h1M24 89h1M10 94h1M24 94h1M16 97h1M31 99h1M24 106h1M36 106h1M36 107h1M14 108h1M23 108h1M2 113h1M14 113h1M2 115h1M1 116h1M31 118h1M17 120h1M5 121h1M5 125h1M15 125h1M10 130h1M8 131h1M21 133h1M12 134h1M12 135h1M31 135h1M35 136h1M14 137h1M11 139h1M21 139h1M26 143h1M35 145h1M21 148h1M10 152h1M9 153h1M12 154h1M26 157h1M10 158h1M29 158h1M36 160h1M2 164h1M6 164h1M12 164h1M11 167h1M14 168h1M15 175h1M25 178h1M0 182h1M24 185h1M35 187h1M6 188h1M35 188h1M30 190h1M26 191h1M33 191h1M36 194h1M12 195h1M17 196h1M24 200h1M23 202h1M0 203h1M31 205h1M16 210h1"/>
<path stroke="#bedcf0" d="M18 6h1M7 7h1M5 10h1M30 11h1M2 16h1M19 17h1M9 23h1M11 29h1M30 29h1M15 30h1M24 37h1M26 40h1M2 49h1M3 51h1M1 64h1M0 70h1M15 74h1M13 81h1M1 98h1M12 100h1M3 107h1M34 115h1M8 117h1M23 119h1M34 124h1M16 125h1M28 126h1M10 132h1M2 133h1M15 138h1M22 144h1M11 146h1M10 148h1M32 149h1M25 159h1M27 165h1M7 167h1M33 174h1M9 175h1M15 180h1M18 188h1M4 189h1M10 198h1M17 198h1M21 198h1M15 200h1M16 202h1M3 207h1M20 208h1M35 210h1"/>
<path stroke="#c83c3c" d="M1 2h1M0 5h1M15 6h1M16 10h1M24 15h1M35 16h1M7 17h1M11 18h1M15 20h1M26 28h1M19 37h1M10 41h1M15 41h1M26 42h1M5 66h1M25 66h2M23 68h1M32 71h1M1 73h1M2 75h1M12 75h1M11 80h1M4 88h1M20 91h1M7 94h1M17 97h1M26 100h1M11 105h1M7 106h1M7 107h1M19 116h1M9 121h1M3 131h1M33 131h1M7 132h1M33 133h1M3 134h1M2 136h1M8 140h1M22 140h1M4 141h1M1 152h1M22 158h1M32 158h1M3 159h1M31 161h1M32 163h1M32 164h1M1 177h1M4 178h1M21 182h1M27 182h1M8 184h1M3 185h1M26 186h1M17 190h1M25 191h1M23 193h1M28 196h1M24 198h1M18 199h1M21 199h1M27 202h1M23 203h1M3 209h1"/>
<path stroke="#c8463c" d="M1 7h1M3 8h1M16 8h1M17 9h1M24 10h1M23 14h1M26 15h1M17 19h1M12 24h1M25 27h1M0 30h1M0 32h1M19 32h1M1 40h1M16 41h1M24 41h1M15 44h1M11 47h1M19 52h1M13 59h1M24 59h1M9 64h1M13 73h1M3 75h1M32 75h1M10 76h1M6 80h1M19 83h1M5 93h1M4 96h1M6 97h1M6 99h1M9 105h1M4 118h1M20 118h1M21 123h1M21 124h1M6 128h1M21 128h1M5 133h1M9 134h1M32 140h1M7 144h1M8 148h1M23 150h1M0 151h1M23 151h1M0 154h1M32 156h1M6 158h1M23 158h1M8 167h1M10 167h1M23 171h1M0 173h1M17 179h1M5 182h1M22 185h1M34 186h1M24 187h1M35 191h1M8 192h1M13 193h1M34 193h1M1 194h1M30 202h1"/>
<path stroke="#c84646" d="M22 1h1M16 5h1M17 6h1M35 7h1M20 18h1M1 21h1M20 24h1M12 25h1M16 29h1M16 33h1M11 48h1M24 51h1M6 52h1M17 54h1M19 70h1M0 71h1M32 72h1M6 75h1M24 75h1M10 79h2M27 79h1M5 84h1M20 85h1M11 87h1M11 93h1M5 95h1M3 96h1M17 96h1M7 97h1M8 101h1M27 104h1M32 108h1M32 116h1M12 119h1M24 122h1M19 124h1M0 131h1M1 136h1M22 137h1M5 140h1M3 142h1M2 147h1M21 149h1M33 151h1M23 153h1M30 157h1M30 172h1M2 174h1M22 180h1M7 183h1M8 191h1M34 191h1M11 194h1M26 201h1"/>
<path stroke="#c85046" d="M23 9h1M23 10h1M16 11h1M0 16h1M22 34h1M17 45h1M26 54h1M0 55h1M6 59h1M13 60h1M30 70h1M8 72h1M24 74h1M17 80h1M6 81h1M9 83h1M19 90h1M4 93h1M8 95h1M9 102h1M21 110h1M4 111h1M7 120h1M12 120h1M11 124h1M26 130h1M28 140h1M5 145h1M35 154h1M6 155h1M30 159h1M10 160h1M8 161h1M23 173h1M29 175h1M24 178h1M34 208h1"/>
<path stroke="#c8dcf0" d="M36 4h1M7 5h1M11 5h1M13 5h1M30 10h1M33 13h1M1 15h1M10 18h1M33 24h1M13 27h1M1 29h1M27 29h1M24 34h1M17 35h1M0 36h1M5 42h1M6 51h1M31 51h1M27 52h1M32 54h1M5 57h1M28 61h1M34 62h1M2 66h1M31 68h1M4 71h1M23 75h1M24 77h1M4 79h1M24 79h1M2 82h1M30 85h1M2 88h1M12 90h1M30 93h1M18 94h1M17 100h1M26 103h1M3 113h1M34 113h1M31 117h1M0 118h1M28 121h1M26 122h1M27 124h1M25 126h1M0 127h1M35 132h1M36 133h1M12 140h1M29 140h1M8 141h1M23 142h1M24 145h1M26 151h1M22 152h1M20 153h1M11 154h1M29 161h1M15 164h1M29 166h1M29 168h1M35 168h1M18 170h1M33 170h1M31 172h1M34 175h1M15 177h1M34 177h1M10 183h1M18 185h1M30 189h1M30 192h1M1 196h1M0 204h1M31 204h1M3 205h1M5 205h1M32 205h1M14 206h1M2 210h1"/>
<path stroke="#c8e6f0" d="M7 1h1M4 4h1M8 15h1M8 16h1M10 20h1M6 26h1M10 28h1M17 29h1M11 38h1M18 42h1M36 47h1M12 55h1M30 56h1M3 58h1M21 60h1M17 62h1M9 77h1M28 78h1M36 78h1M31 80h1M23 84h1M16 85h1M24 98h1M9 101h1M1 110h1M32 119h1M36 129h1M21 137h1M22 148h1M2 152h1M21 155h1M14 156h1M32 172h1M11 175h1M10 181h1M16 182h1M29 188h1M2 190h1M30 196h1M36 197h1M32 202h1M10 209h1"/>
<path stroke="#d25046" d="M15 1h1M15 2h1M35 3h1M21 4h1M12 17h1M25 18h1M16 19h1M24 21h1M26 22h1M24 26h1M15 31h1M23 31h1M19 34h1M12 42h1M27 43h1M22 46h1M5 59h1M3 64h1M6 64h1M10 67h1M12 67h1M31 67h1M12 69h1M18 69h1M6 73h1M4 75h2M5 77h1M10 77h1M4 82h1M11 82h1M20 83h1M7 85h2M5 86h1M3 88h1M1 90h1M16 90h1M25 95h1M12 96h1M26 99h1M5 103h1M7 103h1M18 104h1M4 112h1M11 112h1M10 124h1M12 124h1M11 131h1M1 134h1M1 135h1M25 136h1M0 137h1M7 145h1M4 146h1M5 147h1M3 151h1M31 157h1M4 161h1M23 161h1M3 165h1M36 168h1M30 170h1M35 170h1M23 172h1M16 173h1M1 174h1M14 175h1M22 176h1M4 177h1M30 185h1M33 189h1M31 197h1M25 198h1M27 198h1M8 199h1M26 200h1M7 204h1M21 204h1M6 205h1M17 207h1M6 209h1"/>
<path stroke="#d25a46" d="M1 4h1M0 7h1M12 7h1M19 8h1M20 13h1M35 14h1M24 20h1M12 23h1M9 25h1M15 26h1M3 27h1M12 34h1M26 34h1M22 44h1M22 45h1M13 52h1M26 52h1M15 54h1M10 55h1M13 58h1M5 62h1M0 65h1M12 68h1M19 68h1M17 75h1M8 76h1M16 83h1M20 86h1M26 86h1M4 87h1M1 89h1M11 89h1M16 89h1M25 89h1M6 93h1M17 114h1M22 118h1M20 126h1M13 127h1M25 132h1M4 137h1M0 139h1M27 139h1M0 140h1M7 141h1M5 146h1M7 147h1M24 148h1M23 149h1M14 153h1M5 160h1M28 160h1M33 160h1M21 161h1M0 162h2M4 165h1M10 166h1M23 175h1M21 179h1M23 179h1M3 180h1M4 183h1M17 183h1M11 191h1M15 191h1M23 192h1M2 194h1M4 195h1M10 197h1M26 202h1M1 203h1M28 203h1M8 205h1M10 206h1M22 206h1M33 206h1"/>
<path stroke="#d25a50" d="M27 15h1M17 17h1M23 21h1M14 22h1M22 22h1M12 29h1M14 44h1M18 51h1M22 54h1M20 59h1M5 60h1M9 63h1M20 69h1M5 72h1M20 80h1M7 93h1M17 102h1M20 106h1M21 125h1M15 126h1M4 129h1M9 129h1M20 131h1M32 131h1M31 141h1M3 170h1M16 171h1M6 177h1M17 180h1M3 181h1M8 181h1M36 182h1M3 188h1M6 202h1M17 208h1M28 210h1"/>
<path stroke="#d26450" d="M18 0h1M16 12h1M19 23h1M15 28h1M24 29h1M18 36h1M10 39h1M23 39h2M11 40h1M14 43h1M22 61h1M12 65h1M4 69h1M1 71h1M27 80h1M26 89h1M6 106h1M10 108h1M10 109h1M6 126h1M16 129h1M35 131h1M30 140h1M35 140h1M21 150h1M5 159h1M7 159h1M23 159h1M31 162h1M31 165h1M4 168h1M18 174h1M27 185h1M34 187h1M3 194h1M13 195h1M30 198h1M6 201h1"/>
<path stroke="#d2e6f0" d="M11 0h1M28 3h1M22 4h1M14 5h1M18 7h1M20 8h1M30 9h1M11 11h1M0 13h1M18 13h1M19 15h1M1 19h1M36 21h1M18 22h1M1 23h1M36 23h1M36 25h1M1 27h1M6 28h1M34 29h1M26 30h1M26 31h1M34 31h1M1 38h1M3 38h1M24 38h1M8 39h1M3 41h1M3 48h1M9 49h1M7 50h1M23 50h1M28 50h1M0 51h1M27 53h2M15 59h1M14 60h1M23 61h1M19 62h1M27 62h1M0 63h1M2 64h1M4 64h1M15 69h1M16 72h1M33 76h1M4 78h1M24 80h1M23 81h1M26 81h1M13 82h1M13 83h1M23 83h1M9 84h1M6 89h1M34 90h1M23 91h1M2 97h1M11 98h1M19 98h1M21 102h1M0 105h1M33 106h1M22 108h1M5 109h1M13 110h1M1 112h1M15 116h1M21 116h1M23 116h1M36 117h1M3 118h1M15 118h1M27 120h1M3 121h1M29 121h1M31 121h1M15 122h1M15 124h1M36 124h1M30 125h1M22 126h1M8 127h1M13 130h1M11 134h1M18 136h1M21 136h1M27 136h1M11 137h1M13 138h1M12 139h1M16 139h1M35 139h1M23 141h1M28 141h1M18 142h1M35 142h1M22 143h1M16 144h1M26 146h1M13 147h1M26 147h1M31 147h1M13 148h1M26 149h1M18 150h1M29 150h1M27 152h2M24 153h1M4 155h1M24 155h1M4 156h1M15 156h1M17 156h1M25 156h1M31 156h1M33 156h1M9 157h1M15 157h1M26 159h1M25 163h1M28 163h1M34 163h1M31 164h1M32 167h1M18 169h1M11 170h1M12 172h2M34 172h1M14 173h1M3 175h1M8 176h1M24 176h1M21 177h1M26 179h1M26 183h1M23 184h1M33 185h1M2 187h1M4 187h1M27 187h1M7 188h1M15 188h1M0 190h1M4 190h1M35 190h1M24 191h1M26 192h1M16 195h1M33 197h1M31 199h1M5 200h1M16 203h1M12 204h1M0 206h1M5 206h1M7 206h1M22 207h2M28 207h1M20 210h1M23 210h1"/>
<path stroke="#dc6450" d="M17 3h1M27 5h1M35 6h1M27 9h1M12 13h1M12 15h1M35 15h1M24 16h1M7 22h1M25 26h1M15 33h1M14 41h1M19 44h1M12 46h1M16 47h1M14 49h1M23 51h1M7 53h1M10 53h1M24 57h1M6 60h1M24 67h1M22 71h1M12 72h1M2 74h1M2 76h1M17 77h1M19 79h1M4 83h1M20 87h1M4 91h1M16 92h1M3 98h1M13 99h1M5 102h1M28 104h1M9 107h1M25 111h1M7 112h1M35 112h1M20 113h1M5 114h1M12 115h1M17 115h1M20 116h1M10 117h1M22 117h1M10 118h1M11 121h1M7 123h1M9 125h1M19 125h1M7 126h1M6 127h1M16 127h1M16 128h1M8 129h1M2 131h1M22 134h1M4 135h1M4 138h1M32 138h1M34 149h1M34 150h1M35 151h1M1 153h1M23 154h1M36 156h1M32 160h1M33 161h1M32 162h1M14 163h1M4 166h1M30 171h1M29 174h1M33 178h1M4 182h1M0 187h1M11 187h1M15 190h1M34 192h1M34 196h1M0 198h1M26 199h1M35 199h1M27 201h1M8 206h1M36 206h1M15 208h1"/>
<path stroke="#dc6e50" d="M1 3h1M0 18h1M25 25h1M11 41h1M23 47h1M6 61h1M13 65h1M8 67h1M23 74h1M27 78h1M13 98h1M10 100h1M8 111h1M17 112h1M2 160h1M31 160h1M36 181h1M3 208h1"/>
<path stroke="#dc6e5a" d="M23 4h1M2 8h1M36 13h1M15 17h1M24 17h1M27 17h1M26 18h1M12 19h1M35 20h1M24 22h1M8 23h1M2 24h1M16 24h1M2 25h1M22 25h1M17 28h1M25 29h1M14 35h1M19 35h1M10 38h1M12 41h1M25 41h1M25 42h1M14 47h1M22 47h1M13 51h1M13 53h1M10 54h1M14 54h1M24 60h1M32 64h1M8 69h1M30 69h1M9 71h1M0 73h1M32 74h1M13 77h1M27 77h1M12 78h1M9 79h1M3 80h1M19 82h1M2 84h1M4 84h1M1 85h1M1 88h1M20 88h1M2 92h1M26 93h1M5 94h1M8 94h1M16 96h1M20 96h1M8 97h1M18 97h1M4 101h1M26 101h1M12 102h1M12 103h1M20 104h1M21 108h1M9 109h1M17 109h1M24 109h1M24 110h1M17 111h1M10 113h1M10 114h1M14 117h1M32 118h1M6 123h1M14 126h1M14 127h1M8 130h1M32 130h1M6 131h1M28 131h1M16 133h1M4 145h1M34 146h1M6 147h1M34 147h1M32 151h1M18 155h1M16 156h1M23 157h1M6 159h1M2 161h1M36 162h1M5 163h1M3 167h1M6 168h1M21 170h1M23 170h1M35 172h1M14 177h1M32 178h1M31 179h1M16 180h1M27 183h1M10 189h1M28 192h1M23 197h1M11 199h1M11 204h1M5 210h1M27 210h1"/>
<path stroke="#dc785a" d="M12 18h1M17 18h1M12 27h1M19 27h1M12 38h1M21 47h1M25 51h1M1 52h2M1 53h1M24 55h1M8 57h1M13 64h1M22 66h1M26 73h1M1 74h1M13 84h1M10 87h1M2 91h1M0 94h1M19 101h1M5 106h1M11 106h1M32 110h1M32 111h1M15 119h1M12 123h1M10 125h1M10 127h1M14 128h1M32 129h1M3 132h1M9 132h1M17 138h1M14 150h1M21 152h1M4 154h1M35 156h1M32 159h1M5 161h1M1 166h1M3 166h1M35 169h1M32 175h1M35 175h2M2 178h1M28 190h1M3 196h1M29 199h1M30 201h1"/>
<path stroke="#dc7864" d="M12 9h1M22 10h1M17 36h1M13 50h1M0 53h1M1 54h1M25 60h1M20 67h1M19 69h1M24 76h1M8 78h1M7 84h1M6 92h1M3 102h1M12 104h1M19 105h1M6 108h1M11 111h1M2 116h1M5 128h1M26 128h1M14 133h1M23 162h1M31 169h1M2 181h1M36 188h1M8 201h1M22 205h1M5 208h1"/>
<path stroke="#dce6f0" d="M17 1h1M14 4h1M21 8h1M7 12h1M11 13h1M8 14h1M31 14h1M21 15h1M36 15h1M13 16h1M27 16h1M22 18h1M10 19h1M14 24h1M1 25h1M7 25h1M3 26h1M13 26h1M18 26h1M2 27h1M17 27h1M29 27h1M0 28h1M34 28h1M11 30h1M8 33h2M6 35h1M18 35h1M4 36h1M21 36h1M27 38h1M4 39h1M36 39h1M6 43h1M21 43h1M27 50h1M23 53h1M14 55h1M16 55h1M18 60h1M8 71h1M34 71h1M10 73h1M31 75h1M22 76h1M26 76h1M23 77h1M24 78h1M26 80h1M2 81h1M24 84h1M26 84h1M0 85h1M17 86h1M14 87h1M0 88h1M21 92h1M14 95h1M18 95h1M21 96h1M25 98h1M24 100h1M16 107h1M27 107h1M33 107h1M6 110h1M6 116h1M5 117h1M28 119h1M23 120h1M18 121h1M26 121h1M13 122h1M14 125h1M11 126h1M7 128h1M2 129h1M9 131h1M17 131h1M23 132h1M28 133h1M36 135h1M10 137h1M24 138h1M30 139h1M4 140h1M1 142h1M21 142h1M6 144h1M26 144h1M30 144h1M28 149h1M9 150h1M24 150h1M27 150h1M12 151h1M15 152h1M36 154h1M16 157h1M11 158h1M27 159h1M26 160h1M34 162h1M8 163h1M13 163h1M7 164h1M18 164h1M1 169h1M2 170h1M31 170h1M15 171h1M5 173h1M17 176h1M17 177h1M30 179h1M32 183h1M29 184h1M18 186h1M29 186h1M29 187h2M1 188h1M27 189h1M31 189h1M6 191h1M16 191h1M10 192h1M29 193h1M24 195h1M8 196h1M26 198h1M33 198h2M14 203h1M26 203h1M14 204h1M35 205h1M9 206h1M29 207h1M31 207h1M0 208h1M7 208h1M22 209h1M35 209h1"/>
<path stroke="#dcf0f0" d="M1 5h1M18 14h1M7 15h1M16 15h1M34 24h1M1 26h1M4 27h1M7 30h1M22 30h1M34 30h1M9 32h1M4 33h1M11 33h1M26 41h1M21 44h1M20 53h1M25 57h1M2 60h1M11 62h1M34 67h1M7 71h1M9 72h1M3 73h1M8 73h1M7 74h1M27 74h1M21 76h1M8 77h1M30 77h1M22 95h1M12 98h1M20 98h1M24 99h1M32 102h1M16 108h1M3 110h1M35 110h1M13 118h2M36 122h1M21 126h1M10 129h1M31 132h1M26 133h1M29 133h1M14 139h1M0 141h1M12 144h1M24 144h1M26 145h1M12 150h1M9 156h1M17 157h1M12 161h1M13 166h1M14 169h1M12 171h1M16 172h1M32 176h1M2 179h1M12 179h1M23 185h1M27 191h1M23 195h1M28 199h1M36 199h1M26 205h1M26 206h1M10 207h1"/>
<path stroke="#e67864" d="M2 0h1M12 3h1M3 9h1M0 20h1M16 21h1M14 23h1M24 25h1M17 26h1M12 31h1M0 44h1M12 44h1M25 45h1M10 49h1M7 65h1M8 68h1M8 80h1M26 90h1M12 94h1M5 101h1M11 102h1M26 107h1M4 108h2M9 110h1M33 124h1M26 127h1M8 135h1M22 135h1M31 138h1M6 139h1M32 150h1M8 164h1M4 170h1M27 174h1M2 175h1M35 176h1M24 177h1M6 178h1M30 178h1M22 179h1M36 180h1M4 185h1M22 186h2M10 190h1M12 193h1M17 193h1M29 198h1M25 202h1M10 204h1M10 205h1M33 208h1"/>
<path stroke="#e68264" d="M15 0h1M12 5h1M22 6h1M0 9h1M24 9h1M36 9h1M22 12h1M35 12h1M35 13h1M3 14h1M20 17h1M0 22h1M13 25h1M11 26h1M9 29h1M13 31h1M16 31h1M13 32h1M19 33h1M21 33h1M26 33h1M11 34h1M21 39h1M25 40h1M24 42h1M25 44h1M17 48h1M27 48h1M25 49h1M16 50h1M20 50h1M22 50h1M10 51h1M18 54h1M30 54h1M24 61h1M12 64h1M22 65h1M9 66h1M4 70h1M6 70h1M13 71h1M13 74h1M19 75h1M6 78h1M7 79h1M4 81h1M7 81h1M16 82h1M14 84h1M18 84h1M1 87h1M25 88h1M0 93h1M12 95h1M25 96h1M6 100h1M34 104h1M12 109h1M26 110h1M16 111h1M9 112h2M14 116h1M8 120h2M25 123h1M3 125h1M12 125h1M15 130h1M21 130h1M1 133h1M4 133h1M0 136h1M0 138h1M3 141h1M5 141h1M2 142h1M32 144h1M7 148h1M35 155h1M28 158h1M30 158h1M14 161h1M24 164h1M30 164h1M2 165h1M31 168h1M3 169h1M17 173h1M22 173h1M5 176h1M5 178h1M27 180h1M8 182h1M7 184h1M3 193h1M6 196h1M11 197h1M1 198h1M7 200h1M34 202h1M6 203h1M17 204h1M15 205h1M28 205h1M15 206h1M17 209h1M27 209h1M6 210h1M22 210h1"/>
<path stroke="#e6826e" d="M16 1h1M36 8h1M26 19h1M12 52h1M18 55h1M9 62h1M2 71h1M12 77h1M4 90h1M1 91h1M7 98h1M30 106h1M11 109h1M16 116h1M20 121h1M5 130h1M12 130h1M17 133h1M15 140h1M26 161h1M23 164h1M23 165h1M24 166h1M3 172h1M0 179h1M34 180h1M5 181h1M3 189h1"/>
<path stroke="#e68c6e" d="M3 0h1M2 1h1M0 3h1M30 4h1M4 10h1M22 11h1M34 11h1M36 12h1M3 13h1M15 14h1M23 16h1M26 20h1M22 26h1M26 27h1M19 28h1M10 30h1M7 35h1M18 37h1M12 39h1M26 39h1M1 43h1M25 43h1M15 47h1M14 51h1M8 52h1M23 52h2M12 53h1M17 53h1M26 53h1M8 55h1M7 60h2M8 61h1M27 61h1M22 63h1M20 66h1M6 69h1M1 72h1M11 73h1M11 74h1M13 75h1M19 76h1M31 77h1M5 78h1M10 78h1M20 79h1M25 80h1M17 81h1M24 83h1M1 84h1M10 84h1M7 87h1M11 88h1M9 91h1M4 95h1M15 95h1M9 96h1M33 109h1M17 110h1M31 110h1M7 111h1M26 111h1M6 112h1M19 113h1M20 115h1M22 119h1M1 121h1M21 122h1M23 122h1M20 123h1M11 125h1M33 127h1M17 128h1M9 130h1M11 133h1M22 136h1M27 140h1M30 141h1M3 143h1M31 143h1M5 144h1M17 145h1M17 146h1M23 148h1M22 149h1M4 152h1M23 152h1M13 153h1M35 153h1M33 154h1M36 155h1M1 156h1M4 157h1M4 159h1M3 160h1M15 161h1M2 162h2M30 165h1M36 166h1M23 168h1M4 169h1M25 173h1M4 175h1M0 178h1M2 180h1M31 180h1M22 187h1M17 188h1M33 190h2M11 193h1M35 193h1M6 194h1M17 195h1M29 197h1M14 199h1M6 200h1M3 203h1M21 203h1M6 204h1M8 207h1M14 207h1M8 209h1"/>
<path stroke="#e6f0f0" d="M18 9h1M13 10h1M1 11h1M14 13h1M17 13h1M11 15h1M7 16h1M19 16h1M4 18h1M9 18h1M36 18h1M17 20h1M5 22h1M8 22h1M13 22h1M21 22h1M11 23h1M35 24h1M35 25h1M35 26h1M26 29h1M24 32h1M30 32h1M3 33h1M31 33h1M11 35h1M26 37h1M6 38h1M9 38h1M17 43h1M3 44h1M31 44h1M10 45h1M27 46h1M7 48h1M9 48h1M0 52h1M2 53h1M16 54h1M31 54h1M20 55h1M0 56h1M9 56h1M20 56h1M25 58h1M3 59h1M3 60h1M23 60h1M30 60h1M29 61h1M26 64h1M21 65h1M29 65h1M36 65h1M3 68h1M27 68h1M6 71h1M21 71h1M16 74h1M22 74h1M34 74h1M30 76h1M32 76h1M1 78h1M16 79h1M9 80h1M9 81h1M32 81h1M28 82h1M4 85h1M12 85h1M14 85h1M11 86h1M24 88h1M23 90h1M18 93h1M2 94h1M10 95h1M15 96h1M0 97h1M2 99h1M17 99h1M23 99h1M32 101h1M26 102h1M22 103h1M27 103h1M14 105h1M16 105h1M31 105h1M17 106h1M17 107h1M25 108h1M31 108h1M33 108h1M22 109h1M2 110h1M32 112h1M22 114h1M3 116h1M33 117h1M21 118h1M18 119h1M0 120h1M13 121h1M17 121h1M1 122h1M6 122h1M16 123h1M8 124h1M22 124h1M24 125h1M8 126h1M25 127h1M0 134h1M36 134h1M29 135h1M16 136h1M30 136h1M7 137h1M28 137h1M21 138h1M34 143h1M30 148h2M13 150h1M36 150h1M21 154h1M2 156h1M12 156h1M18 156h1M24 156h1M26 156h1M1 158h1M13 158h1M15 159h1M27 161h1M30 161h1M35 161h1M12 162h1M25 162h1M4 163h1M7 163h1M34 164h1M7 166h1M5 168h1M15 168h1M24 168h1M5 169h1M10 169h1M28 170h1M32 170h1M18 171h1M33 171h1M34 173h1M8 180h1M10 180h1M26 180h1M16 181h1M26 182h1M11 184h1M32 185h1M1 187h1M0 189h1M13 189h1M18 189h1M7 190h1M2 191h1M36 191h1M14 192h1M29 192h1M6 193h1M26 194h1M10 195h1M13 197h1M5 198h1M13 198h1M23 199h1M11 200h1M29 203h1M34 203h1M17 206h1M34 207h1M0 209h1"/>
<path stroke="#f08c6e" d="M17 5h1M32 107h1M3 108h1M0 152h1"/>
<path stroke="#f0966e" d="M21 3h1M21 5h1M26 5h1M10 63h1M33 125h1M6 169h1M5 184h1"/>
<path stroke="#f09678" d="M12 0h1M11 1h1M22 3h1M1 6h1M36 6h1M0 8h1M23 12h1M23 13h1M20 14h1M23 15h1M20 16h1M24 18h1M27 21h1M35 21h1M17 25h1M14 26h1M21 28h1M23 30h1M12 32h1M12 33h1M26 36h1M12 37h1M17 37h1M18 38h1M25 38h1M23 44h2M27 44h1M12 45h1M18 47h1M12 54h1M27 55h1M19 61h2M10 62h1M13 62h1M24 63h1M7 66h1M30 66h1M30 67h1M11 69h1M0 72h1M23 73h1M32 73h1M12 74h1M22 75h1M26 79h1M11 81h1M16 81h1M9 82h1M8 83h1M18 83h1M8 87h1M26 88h1M17 90h1M7 91h1M17 91h1M18 92h1M20 93h1M17 95h1M3 100h1M11 107h1M8 108h1M24 108h1M11 110h1M25 110h1M14 111h1M5 113h1M16 113h1M26 113h1M25 115h1M20 119h1M11 120h1M10 121h1M7 124h1M36 125h1M34 131h1M4 132h1M6 132h1M34 135h1M35 141h1M4 143h1M7 146h1M16 146h1M32 146h1M34 148h1M25 149h1M33 149h1M14 151h1M6 153h1M34 153h1M8 154h1M31 155h3M5 156h1M30 160h1M4 164h1M1 167h1M36 167h1M3 168h1M29 170h1M8 174h1M23 174h1M32 174h1M29 176h1M16 177h1M8 178h1M23 180h1M23 182h1M29 185h1M26 189h1M34 189h1M21 191h1M21 192h1M27 192h1M8 194h1M25 195h1M35 195h1M25 197h1M21 200h1M34 201h1M21 205h1M33 205h1M13 207h1M25 207h1M14 208h1M28 208h1M28 209h1M32 209h1M3 210h1M33 210h1"/>
<path stroke="#f0a078" d="M23 6h1M36 7h1M27 18h1M22 19h1M14 42h1M9 46h1M21 46h1M30 50h1M1 51h1M22 51h1M10 70h1M19 71h1M26 78h1M8 82h1M15 82h1M23 85h1M18 86h1M9 87h1M5 88h1M10 88h1M4 92h1M24 97h1M27 102h1M3 103h1M16 110h1M31 113h2M5 122h1M9 127h1M16 130h1M3 133h1M9 136h1M31 137h1M4 144h1M21 144h1M16 147h1M1 151h1M23 160h1M28 161h1M24 165h1M7 173h1M7 181h1M1 184h2M1 185h1M10 186h1M24 186h1M27 190h1M27 197h1M21 202h1"/>
<path stroke="#f0a082" d="M17 0h1M35 0h1M12 1h1M11 3h1M15 4h1M0 6h1M22 7h1M0 10h1M0 17h1M18 17h1M10 25h1M14 31h1M22 35h1M18 41h1M23 42h1M24 45h1M14 46h1M17 46h1M24 47h1M16 49h1M0 54h1M7 56h1M13 57h1M25 59h1M30 59h1M27 60h1M3 63h1M10 66h1M6 72h1M10 72h1M3 79h1M17 79h1M5 81h1M12 81h1M12 88h1M20 89h1M13 91h1M17 92h1M9 94h1M9 98h1M25 101h1M15 106h1M15 108h1M16 109h1M31 114h1M9 116h1M31 116h1M26 117h1M16 120h1M24 123h1M26 125h1M10 128h1M5 132h1M22 133h1M25 133h1M9 135h1M4 136h1M27 137h1M25 146h1M25 147h1M27 149h1M0 153h1M22 153h1M0 155h1M5 157h1M24 157h1M0 159h1M34 171h1M36 172h1M18 173h1M11 176h1M32 177h1M0 180h1M3 183h1M29 183h1M22 184h1M6 185h1M36 186h1M21 188h1M23 191h1M28 193h1M22 194h1M35 194h1M1 195h1M22 195h1M31 198h1M27 203h1M33 209h1"/>
<path stroke="#f0aa82" d="M21 1h1M22 13h1M12 14h1M11 16h1M34 22h1M19 24h1M21 24h1M21 34h1M14 48h1M20 51h1M30 51h1M6 54h1M13 54h1M22 57h1M12 58h1M32 58h1M7 59h1M9 69h1M21 75h1M15 81h1M18 85h1M3 86h1M23 86h1M15 88h1M23 88h1M26 98h1M3 101h1M5 105h1M4 106h1M26 109h1M8 110h1M22 111h1M7 113h1M4 116h1M22 116h1M9 118h1M1 120h1M9 122h1M16 122h1M35 124h1M7 130h1M7 135h1M24 149h1M30 149h1M4 158h1M1 159h1M31 166h1M6 174h1M31 174h1M10 176h1M5 177h1M29 178h1M34 179h1M3 182h1M7 182h1M17 182h1M36 183h1M34 188h1M36 192h1M14 197h1M27 200h1M11 201h1M25 203h1M8 204h1M31 208h1M34 210h1"/>
<path stroke="#f0aa8c" d="M3 2h1M23 8h1M9 15h1M16 28h1M22 38h1M26 38h1M1 39h1M15 53h2M12 63h1M10 68h1M20 68h1M10 74h1M7 77h1M10 90h1M2 124h1M33 132h1M18 144h1M18 148h1M0 149h1M31 151h1M0 156h1M14 162h1M1 164h1M30 166h1M8 175h1M31 181h1M29 182h1M2 183h1M36 184h1M28 200h1M21 201h1M27 204h1M27 205h1M23 208h1M14 210h1"/>
<path stroke="#f0f0f0" d="M36 40h1M21 53h1M11 60h1M28 81h1M1 86h1M0 92h1M28 132h1M10 135h1M1 154h1M13 161h1M11 190h1M25 196h1M25 204h1M4 208h1"/>
<path stroke="#f0f0fa" d="M16 0h1M13 7h1M30 7h1M13 8h1M28 10h1M2 12h1M33 14h1M15 16h1M18 16h1M9 31h1M34 32h1M31 34h1M9 43h1M6 44h1M34 45h1M15 46h1M14 50h1M28 52h1M13 56h1M12 57h1M5 58h1M29 59h1M19 63h1M16 64h1M26 65h1M18 66h1M4 67h1M17 71h1M5 73h1M34 73h1M14 76h1M14 82h1M26 82h1M30 82h1M12 86h1M27 86h1M33 88h1M17 89h1M24 91h1M28 92h1M16 94h1M21 94h1M2 95h1M11 96h1M18 98h1M1 100h1M24 101h1M22 102h1M28 102h1M21 103h1M25 103h1M15 104h1M28 107h1M0 108h1M31 109h1M14 112h1M31 112h1M15 115h1M3 117h1M17 118h1M2 119h1M14 119h1M15 121h1M22 121h1M13 123h1M30 124h1M17 125h1M22 125h1M12 127h1M17 127h1M3 128h1M11 128h1M0 132h1M17 132h1M10 134h1M29 134h1M23 138h1M2 141h1M11 144h1M25 145h1M32 147h1M12 148h1M4 150h1M13 154h1M28 157h1M36 157h1M27 158h1M16 159h1M15 160h1M21 162h1M15 163h1M11 164h1M14 165h1M9 166h1M1 170h1M12 175h1M26 175h1M9 176h1M30 176h1M15 178h1M14 179h1M12 180h1M28 181h1M34 183h1M17 184h1M5 187h1M7 189h1M5 190h1M14 191h1M29 191h1M18 193h1M16 196h1M21 196h1M8 197h1M6 198h1M28 198h1M13 200h1M18 201h1M5 202h1M18 202h1M16 205h1M2 208h1"/>
<path stroke="#f0fafa" d="M35 4h1M21 6h1M21 13h1M2 17h1M34 25h1M22 68h1M15 75h1M34 79h1M23 82h1M7 89h1M4 98h1M3 111h1M36 114h1M31 125h1M21 135h1M26 150h1M25 151h1M36 158h1M16 164h1M26 170h2M33 173h1M24 175h1M23 177h1M35 180h1M3 190h1M36 196h1M28 197h1"/>
<path stroke="#faaa8c" d="M21 2h1M23 7h1M36 10h1M4 12h1M21 14h1M2 15h1M15 18h1M13 20h1M21 20h1M31 21h1M10 24h1M13 24h1M16 30h1M11 32h1M25 33h1M26 35h1M21 40h1M9 41h1M30 49h1M9 50h1M14 52h2M22 52h1M6 53h1M19 54h1M32 57h1M3 62h1M17 67h1M11 70h1M31 70h1M19 77h1M3 78h1M3 82h1M15 83h1M6 88h1M23 95h1M8 96h1M23 97h1M3 99h1M17 103h1M34 103h1M22 113h1M19 115h1M11 117h1M5 119h1M11 119h1M30 119h1M8 121h1M9 123h1M22 123h1M9 124h1M12 126h1M17 126h1M16 131h1M18 133h1M2 149h1M34 155h1M34 157h1M36 161h1M36 163h1M32 168h1M0 174h1M14 174h1M21 180h1M33 180h1M22 181h1M8 183h1M6 184h1M24 188h1M17 192h1M7 194h1M2 196h1M22 196h1M21 197h1M36 198h1M9 202h1M13 204h1M13 208h1"/>
<path stroke="#fab48c" d="M22 5h1M17 10h1M23 25h1M9 51h1M24 66h1M22 73h1M10 75h1M25 82h1M25 83h2M0 86h1M2 89h1M36 112h1M32 117h1M8 123h1M35 133h1M32 134h1M28 143h1M27 172h1M11 186h1M23 187h1M23 188h1M2 192h1M30 197h1M11 198h1"/>
<path stroke="#fab496" d="M11 2h1M17 2h1M22 2h1M3 3h1M2 7h1M28 7h1M28 8h1M7 11h1M5 12h1M22 14h1M25 17h1M19 19h1M7 21h1M14 21h1M33 22h1M8 24h1M27 24h1M16 25h1M33 25h1M16 26h1M19 26h1M27 28h1M13 29h1M21 30h1M17 33h1M14 34h1M24 35h1M2 38h1M2 40h1M1 42h1M1 44h1M0 45h1M17 47h1M11 49h1M18 50h1M8 51h1M19 56h1M30 57h1M19 58h1M25 61h1M5 64h1M17 65h1M23 67h1M4 68h1M30 68h1M20 70h1M26 72h1M16 75h1M9 76h1M18 76h1M26 77h1M28 77h1M5 80h1M7 80h1M3 81h1M24 82h1M22 83h1M12 84h1M22 84h1M23 87h1M8 88h1M6 91h1M8 93h1M13 100h1M20 100h1M20 101h1M27 101h1M15 107h1M2 109h1M6 109h1M8 109h1M30 109h1M6 111h1M3 112h1M20 112h1M25 112h1M8 113h1M12 113h1M25 113h1M11 114h1M19 114h1M32 114h1M10 115h1M7 116h1M26 116h1M2 117h1M22 120h1M16 121h1M34 122h1M35 125h1M15 127h1M25 128h1M21 129h1M15 131h1M22 131h1M30 131h1M16 132h1M31 133h1M26 135h1M25 137h1M27 138h2M30 143h1M24 147h1M22 150h1M3 152h1M25 154h1M32 154h1M5 158h1M31 158h1M30 162h1M1 163h1M5 164h1M10 164h1M11 166h1M7 170h1M22 171h1M35 171h2M18 172h1M36 174h1M27 175h1M26 176h1M29 177h1M14 180h1M29 181h1M28 182h1M21 183h1M28 183h1M2 185h1M36 185h1M3 187h1M36 187h1M26 188h1M31 188h1M8 189h1M35 189h1M18 194h1M25 194h1M29 194h1M0 196h1M11 196h1M14 196h1M23 198h1M34 199h1M8 200h1M30 200h2M8 202h1M30 203h1M3 204h1M11 206h1M23 209h1M31 210h1"/>
<path stroke="#fab4a0" d="M32 61h1M22 64h1M27 73h1M10 89h1M30 132h1M30 156h1M25 161h1M4 167h1M22 177h1"/>
<path stroke="#fabea0" d="M0 2h1M13 2h1M2 4h1M30 5h1M2 9h1M36 11h1M0 14h1M14 14h1M26 16h1M13 17h1M26 17h1M27 20h1M19 21h1M19 22h1M8 25h1M21 25h1M23 26h1M22 28h1M14 29h1M22 31h1M30 31h1M22 32h1M0 33h1M14 33h1M13 40h1M18 40h1M27 42h1M22 43h1M10 52h1M20 52h1M18 53h1M1 55h1M11 55h1M22 55h1M6 56h1M24 58h1M22 59h1M32 59h1M23 62h1M9 67h1M11 67h1M9 68h1M23 72h1M8 74h1M6 77h1M11 77h1M7 78h1M17 78h1M29 78h1M14 80h1M31 85h1M8 90h2M11 91h1M25 93h1M17 94h1M25 94h1M24 95h1M23 96h1M9 100h1M16 101h1M18 101h1M24 102h1M8 105h1M26 106h1M5 107h1M26 108h1M30 110h1M15 114h1M13 117h1M11 118h1M3 123h1M13 124h1M9 126h2M7 127h1M22 130h1M34 130h1M1 132h1M27 134h1M25 135h1M34 136h1M22 138h1M31 140h1M32 143h1M28 144h1M0 150h1M35 152h1M18 154h1M11 160h1M25 160h1M9 161h1M34 161h1M23 163h1M30 163h1M11 165h1M8 166h1M1 168h1M22 168h1M30 168h1M7 169h1M12 170h1M27 171h1M27 173h1M16 174h1M23 176h1M28 180h1M22 182h1M3 184h1M17 186h1M8 188h1M23 189h1M28 191h1M22 192h1M26 193h1M4 194h1M33 194h1M29 195h1M33 195h1M23 196h1M29 200h1M33 200h1M29 202h1M7 203h1M11 203h1M28 204h1M34 206h1M33 207h1M7 209h1M15 210h1"/>
<path stroke="#fabeaa" d="M13 13h1M1 22h1M8 26h1M10 26h1M14 32h1M24 48h1M9 53h1M7 72h1M5 79h1M16 86h1M2 87h1M15 87h1M11 90h1M16 118h1M11 122h1M20 122h1M16 126h1M34 132h1M30 133h1M14 134h1M25 134h1M34 134h1M18 138h1M0 142h1M12 145h1M31 145h1M34 145h1M4 147h1M25 150h1M31 152h1M16 162h1M0 164h1M28 164h1M36 173h1M17 174h1M16 175h1M25 176h1M23 178h1M4 181h1M21 181h1M23 181h1M4 184h1M5 185h1M10 187h1M7 196h1M1 197h1M31 201h1M14 205h1M16 206h1"/>
<path stroke="#fac8aa" d="M16 2h1M13 6h1M22 8h1M2 11h1M17 11h1M12 16h1M36 16h1M20 19h1M16 22h1M32 22h1M25 31h1M7 32h1M7 34h1M25 34h1M24 36h1M17 39h1M27 39h1M35 43h1M5 44h1M27 47h1M31 53h1M32 55h1M7 57h1M12 62h1M17 63h1M19 64h1M24 64h1M11 72h1M30 72h1M26 75h1M11 95h1M4 100h1M34 102h1M24 103h1M3 104h1M15 105h1M6 107h1M11 108h1M36 113h1M31 115h1M12 116h1M17 116h1M16 117h1M30 120h1M33 122h1M11 123h1M35 123h1M2 125h1M14 129h1M1 130h1M15 132h1M21 134h1M27 141h1M31 142h1M21 143h1M6 146h1M18 146h1M4 148h1M33 150h1M21 151h1M14 154h1M5 162h1M11 162h1M36 164h1M18 165h1M16 166h1M3 171h1M26 171h1M32 171h1M30 173h1M10 177h1M32 179h1M2 182h1M18 182h1M0 183h1M23 183h1M31 183h1M21 186h1M17 189h1M36 193h1M28 194h1M30 194h1M18 195h1M14 200h1M13 203h1M26 204h1M7 205h1M36 207h1M31 209h1"/>
<path stroke="#fac8b4" d="M13 3h1M15 3h1M28 9h1M34 10h1M20 12h1M9 16h1M35 22h1M2 23h1M27 25h1M33 26h1M25 35h1M6 42h1M6 45h1M23 46h1M23 48h1M2 51h1M20 57h1M27 58h1M34 65h1M13 66h1M23 66h1M4 77h1M2 80h1M21 81h1M34 82h1M11 83h1M17 85h1M20 90h1M18 96h1M4 97h1M4 99h1M27 99h1M27 100h1M24 104h1M35 106h1M20 107h1M12 110h1M25 114h1M12 117h1M22 122h1M25 124h1M5 126h1M21 127h1M2 130h1M23 137h1M35 144h1M32 148h1M4 151h1M32 153h1M10 159h1M10 163h1M32 165h1M24 167h1M33 168h1M31 173h1M16 176h1M21 178h1M4 180h1M32 180h1M27 184h1M32 184h1M17 187h1M28 188h1M2 189h1M24 189h1M5 193h1M8 195h1M36 195h1M27 196h1M18 197h1M30 199h1M35 200h1M15 204h1M28 206h1"/>
<path stroke="#fad2b4" d="M4 17h1M4 19h1M7 20h1M0 21h1M22 23h1M18 28h1M17 31h1M10 36h1M6 39h1M8 41h1M34 42h1M10 43h1M21 45h1M32 60h1M2 61h1M11 66h1M15 68h1M20 78h1M8 79h1M13 80h1M26 85h1M31 86h1M12 87h1M3 93h1M13 93h1M1 101h1M33 110h1M26 112h1M21 117h1M13 119h1M18 128h1M34 128h1M7 136h1M25 144h1M13 152h1M25 153h1M14 155h1M24 158h1M35 158h1M11 161h1M8 173h1M35 173h1M25 185h1M31 187h1M16 189h1M29 190h1M22 191h1M22 197h1M23 205h1M30 206h1M1 210h1M18 210h1"/>
<path stroke="#fad2be" d="M24 0h1M2 3h1M3 10h1M12 12h1M36 14h1M36 17h1M8 19h2M27 22h1M24 24h1M34 26h1M9 30h1M1 33h1M27 36h1M10 37h1M17 44h1M21 48h1M18 49h1M21 54h1M26 55h1M7 58h1M0 64h1M23 64h1M3 65h1M0 69h1M23 69h1M23 71h1M30 73h1M5 74h1M1 75h1M23 76h1M3 77h1M21 80h1M25 81h1M15 85h1M6 87h1M8 89h1M15 89h1M31 92h1M1 93h1M2 96h1M32 97h1M2 98h1M23 102h1M10 105h1M3 106h1M25 106h1M17 108h1M5 112h1M30 117h1M12 118h1M30 118h1M3 119h1M10 120h1M19 120h1M32 121h1M34 125h1M13 126h1M34 126h1M3 127h1M35 127h1M17 129h1M14 130h1M21 131h1M21 132h1M9 137h1M30 138h1M4 139h1M27 143h1M15 146h1M14 149h1M3 150h1M31 150h1M24 151h1M21 157h1M13 160h1M4 162h1M22 163h1M10 165h1M22 170h1M34 170h1M6 171h1M21 171h1M6 173h1M34 176h1M8 177h1M35 177h1M34 181h2M18 183h1M21 185h1M1 186h1M30 188h1M14 190h1M22 190h1M3 191h1M3 192h1M21 194h1M27 195h1M30 195h1M14 198h1M22 198h1M7 201h1M7 202h1M5 203h1M17 203h1M35 204h1M21 206h1"/>
<path stroke="#fadcbe" d="M16 18h1M9 27h1M16 27h1M23 45h1M1 79h1M25 122h1M28 139h1M11 145h1M21 153h1M8 165h1M25 184h1M3 186h1M34 200h1M14 209h1"/>
<path stroke="#fadcc8" d="M12 2h1M35 5h1M1 8h1M13 9h1M17 12h1M17 14h1M22 17h1M7 18h1M19 18h1M24 19h1M2 20h1M5 20h1M14 20h1M32 21h1M17 24h1M18 25h1M21 26h1M13 30h1M25 30h1M30 30h1M1 31h1M7 31h1M22 33h1M1 34h1M9 40h1M23 43h1M10 46h1M21 49h1M23 49h1M18 52h1M27 54h2M13 55h1M19 55h1M22 60h1M22 62h1M23 63h1M27 65h1M4 66h1M12 66h1M7 67h1M0 68h1M8 70h1M21 70h1M23 70h1M26 70h1M20 71h1M13 72h1M19 74h2M30 75h1M17 76h1M9 78h1M2 79h1M27 81h1M3 87h1M8 91h1M25 91h1M15 92h1M32 92h1M19 93h1M26 94h1M1 97h1M10 98h1M19 99h1M23 100h1M2 103h1M28 103h1M2 104h1M26 105h1M4 107h1M30 107h1M4 109h1M1 111h1M8 112h1M13 114h1M30 114h1M13 115h1M5 116h1M21 121h1M24 124h1M7 125h1M3 126h1M36 126h1M8 128h1M7 129h1M34 129h1M35 134h1M27 135h2M28 136h1M35 143h1M33 147h1M11 148h1M25 148h1M4 149h1M31 149h1M30 151h1M9 152h1M24 152h1M33 152h1M24 154h1M13 156h1M14 157h1M14 158h1M34 158h1M35 159h1M8 162h2M0 163h1M16 167h1M29 167h2M10 168h1M29 171h1M31 171h1M21 172h1M24 173h1M10 175h1M30 177h1M17 181h2M31 182h1M21 184h1M28 184h1M31 185h1M5 186h1M18 190h1M36 190h1M10 191h1M11 192h1M15 192h1M0 194h1M0 195h1M16 204h1M11 205h1M5 207h1M27 208h1M4 209h1M15 209h1M4 210h1"/>
<path stroke="#fadcd2" d="M18 15h1M4 20h1M23 20h1M3 21h1M17 22h1M22 24h1M5 43h1M18 43h1M16 46h1M7 51h1M9 54h1M23 56h1M22 58h1M11 65h1M31 65h1M0 66h2M26 69h1M18 70h1M27 72h1M20 73h1M21 74h1M2 78h1M14 81h1M12 82h1M3 83h1M14 83h1M11 85h1M34 85h1M13 86h1M11 94h1M10 99h1M8 104h1M2 108h1M3 109h1M22 110h1M16 119h1M18 120h1M26 123h1M18 127h1M17 140h1M6 148h1M30 150h1M22 151h1M33 153h1M21 156h1M32 157h1M14 164h1M15 166h1M22 167h1M7 168h1M17 175h1M28 177h1M14 178h1M33 179h1M33 184h1M10 185h1M34 185h1M4 186h1M15 189h1M33 193h1M11 195h1M33 196h1M12 198h1M35 198h1M5 199h1M29 201h1M31 202h1M1 204h1M5 204h1M18 206h1"/>
<path stroke="#fae6d2" d="M31 5h1M2 10h1M5 11h1M19 11h1M3 12h1M34 14h1M34 20h1M18 23h1M2 28h1M0 29h1M24 30h1M18 32h1M26 32h1M13 33h1M17 34h1M2 37h1M27 37h1M22 39h1M0 40h1M27 45h1M12 47h1M15 51h1M11 58h1M2 59h1M12 59h1M15 60h1M20 63h1M10 65h1M25 65h1M33 65h1M17 66h1M26 68h1M27 70h1M19 72h1M22 72h1M0 74h1M6 74h1M18 75h1M1 76h1M14 79h1M4 80h1M3 84h1M11 84h1M16 84h1M25 84h1M17 87h1M12 89h1M2 90h1M12 91h1M10 101h1M17 101h1M15 102h1M17 104h1M25 104h1M29 105h1M18 106h1M29 106h1M32 106h1M14 107h1M30 111h1M12 114h1M26 114h1M3 115h1M26 115h1M30 115h1M8 116h1M9 117h1M20 120h1M26 120h1M31 123h1M33 129h1M15 133h1M4 134h1M35 137h1M12 138h1M0 143h1M14 144h1M33 144h1M21 145h1M24 146h1M35 149h1M28 150h1M9 151h1M8 153h1M12 153h1M23 155h1M24 159h1M16 161h1M25 164h1M16 165h1M23 166h1M0 167h1M28 167h1M34 169h1M5 170h1M0 171h1M11 171h1M17 172h1M28 172h1M33 172h1M9 174h1M10 178h1M35 178h1M5 179h1M27 181h1M31 184h1M26 185h1M28 185h1M8 186h1M27 188h1M14 193h1M7 195h1M7 199h1M18 200h1M35 201h1M11 208h1M22 208h1"/>
<path stroke="#fae6dc" d="M7 2h1M3 7h1M1 10h1M7 10h1M4 11h1M11 12h1M30 12h1M4 13h1M4 14h1M15 15h1M20 15h1M22 16h1M16 17h1M15 19h1M5 21h1M8 21h1M22 21h1M31 22h1M0 23h1M24 23h1M9 24h1M7 27h1M14 30h1M0 34h1M1 35h1M27 35h1M8 38h1M4 42h1M21 42h1M28 42h1M35 42h1M18 44h1M35 44h1M16 48h1M25 50h1M15 55h1M17 56h1M8 58h1M23 59h1M27 64h2M2 65h1M27 66h1M0 67h1M22 67h1M7 68h1M18 68h1M27 69h1M31 69h1M27 71h1M11 78h1M21 78h1M1 80h1M32 80h1M3 85h1M24 85h1M4 86h1M16 87h1M7 88h1M23 89h1M6 90h1M15 90h1M15 91h1M26 91h1M23 98h1M31 98h1M2 101h1M0 104h1M17 105h1M16 106h1M27 106h1M21 109h1M4 110h1M30 112h1M30 113h1M24 114h1M14 115h1M30 116h1M2 118h1M33 118h1M7 119h1M0 121h1M19 121h1M3 122h1M2 123h1M23 123h1M34 123h1M13 125h1M22 129h1M25 130h1M17 134h1M23 134h1M1 137h1M16 137h1M32 141h1M25 142h1M30 142h1M2 143h1M15 144h1M31 144h1M28 146h1M33 146h1M33 148h1M13 149h1M12 152h1M30 152h1M4 153h1M34 154h1M13 155h1M11 157h1M31 159h1M9 160h1M16 160h1M10 162h1M2 163h1M24 163h1M7 165h1M34 168h1M12 169h1M22 169h1M32 169h1M8 170h1M2 172h1M15 172h1M26 172h1M25 174h1M25 177h1M16 178h1M27 179h2M35 179h1M34 182h1M17 185h1M13 186h1M31 186h1M8 187h1M5 188h1M32 188h1M6 190h1M13 194h1M13 196h1M24 197h1M16 201h1M29 204h1M36 205h1M23 206h1M29 206h1M6 207h1M32 207h1M8 208h1M30 208h1M20 209h1M34 209h1"/>
<path stroke="#fae6e6" d="M13 1h1M34 7h1M20 11h1M22 15h1M16 20h1M32 27h1M17 32h1M9 44h1M27 51h1M8 59h1M34 80h1M15 94h1M3 105h1M18 105h1M14 140h1M16 140h1M31 146h1M28 151h1M29 163h1M24 170h1M10 184h1M36 189h1"/>
<path stroke="#faf0e6" d="M3 1h1M16 3h1M2 5h1M3 6h1M21 9h1M12 10h1M13 11h1M16 13h1M34 13h1M16 16h1M1 17h1M8 17h1M35 17h1M2 18h1M8 18h1M36 19h1M11 21h1M33 21h1M31 24h1M19 25h1M0 27h1M36 27h1M21 29h2M29 31h1M21 32h1M6 34h1M21 35h1M21 37h1M17 38h1M7 40h2M6 41h1M10 42h1M22 42h1M3 43h1M29 44h1M1 45h1M5 45h1M7 45h1M31 46h1M7 47h1M9 52h1M9 55h1M8 56h1M19 57h1M30 58h1M18 59h1M27 59h1M12 60h1M29 60h1M31 62h1M20 72h1M3 74h1M9 75h1M33 75h1M29 77h1M36 77h1M21 79h1M34 81h1M22 82h1M15 84h1M25 85h1M13 89h1M13 90h1M23 92h1M25 92h1M35 92h1M32 93h1M9 97h1M18 100h1M13 101h1M23 101h1M22 104h1M32 105h1M10 106h1M10 107h1M13 109h2M2 112h1M0 113h1M32 115h1M17 119h1M5 120h1M31 124h1M35 126h1M12 129h1M11 130h1M18 132h1M22 132h1M26 134h1M28 134h1M31 136h1M17 137h1M32 137h1M1 141h1M17 144h1M28 145h1M33 145h1M12 146h1M12 149h1M36 149h1M27 151h1M36 153h1M11 156h1M23 156h1M35 157h1M15 158h1M34 160h1M35 162h1M22 164h1M22 166h1M23 167h1M31 167h1M13 168h1M1 171h1M5 171h1M6 172h1M32 181h1M6 186h1M16 186h1M6 187h1M2 188h1M10 188h1M29 189h1M16 190h1M17 191h1M14 195h1M21 195h1M4 196h1M18 196h1M2 200h1M17 200h1M15 202h1M8 203h1M12 203h1M27 206h1M21 207h1M26 208h1M30 210h1"/>
<path stroke="#faf0f0" d="M0 4h1M13 4h1M28 4h1M1 9h1M11 9h1M19 12h1M5 17h1M10 17h1M8 20h1M1 28h1M25 32h1M29 32h1M30 33h1M1 36h1M2 39h1M14 40h1M11 42h1M0 43h1M4 43h1M29 43h1M2 45h1M11 46h1M24 53h1M24 54h1M22 56h1M14 57h1M26 58h1M14 59h1M21 59h1M18 61h1M30 62h1M10 64h1M17 64h1M28 65h1M18 67h1M17 70h1M22 70h1M10 71h1M30 71h1M28 80h1M0 87h1M26 87h1M17 88h1M21 95h1M24 96h1M11 97h1M15 97h1M17 98h1M15 101h1M34 105h1M1 109h1M2 111h1M24 111h1M31 111h1M28 113h1M2 114h1M8 114h1M13 116h1M8 118h1M35 122h1M15 123h1M33 123h1M23 124h1M36 127h1M12 128h1M33 128h1M13 129h1M15 129h1M13 131h1M31 131h1M34 133h1M16 134h1M16 138h1M25 138h1M15 139h1M18 139h1M22 145h1M12 147h1M11 149h1M18 149h1M1 155h1M3 156h1M28 159h1M27 160h1M24 161h1M15 162h1M25 165h1M11 168h1M11 169h1M15 169h1M36 169h1M10 170h1M0 172h1M11 177h1M22 178h1M18 180h1M32 182h1M34 184h1M5 189h1M28 189h1M6 192h1M15 193h1M27 194h1M26 197h1M14 201h1M17 201h1M2 204h1M3 206h1M25 206h1M26 209h1"/>
<path stroke="#fafaf0" d="M21 0h1M20 9h1M15 29h1M2 41h1M30 63h1M32 120h1M5 123h1M16 124h1M2 135h1M16 135h1M10 136h1M31 139h1M3 155h1M13 164h1M30 193h1M2 199h1"/>
<path stroke="#fafafa" d="M4 5h1M11 10h1M8 27h1M14 27h1M9 39h1M0 41h1M11 50h1M12 51h1M25 56h1M32 56h1M23 58h1M11 61h1M30 61h1M33 73h1M17 74h1M15 78h1M31 81h1M13 85h1M18 87h1M13 88h1M16 88h1M14 92h1M28 98h1M28 99h1M21 101h1M14 110h1M9 119h1M25 125h1M36 128h1M14 132h1M10 133h1M13 139h1M32 142h1M25 143h1M2 150h1M32 152h1M0 158h1M29 164h1M28 173h1M34 178h1M18 184h1M27 186h1M10 203h1M0 205h1M9 210h1M17 210h1"/>
</g></g>
<text x="346.8" y="288.3" font-size="20" font-weight="bold" fill="#000" text-anchor="start">d</text>
<rect x="382.6" y="304.9" width="229.40" height="6.1" fill="#bebebe"/>
<rect x="395.00" y="304.9" width="6.20" height="6.1" fill="#ff0000"/>
<rect x="432.20" y="304.9" width="6.20" height="6.1" fill="#ff0000"/>
<rect x="444.60" y="304.9" width="6.20" height="6.1" fill="#8b1a1a"/>
<rect x="519.00" y="304.9" width="6.20" height="6.1" fill="#ff0000"/>
<rect x="543.80" y="304.9" width="6.20" height="6.1" fill="#ff0000"/>
<rect x="587.20" y="304.9" width="6.20" height="6.1" fill="#ff0000"/>
<rect x="593.40" y="304.9" width="12.40" height="6.1" fill="#ff8c00"/>
<rect x="605.80" y="304.9" width="6.20" height="6.1" fill="#ffb6c1"/>
<rect x="426.00" y="296.5" width="12.40" height="6.1" fill="#ffff00"/>
<rect x="438.40" y="296.5" width="12.40" height="6.1" fill="#0000ff"/>
<rect x="537.60" y="296.5" width="12.40" height="6.1" fill="#00ff00"/>
<rect x="605.80" y="296.5" width="6.20" height="6.1" fill="#00ff00"/>
<g filter="url(#hb)"><g transform="translate(382.6 312.8) scale(6.2000 1.0024) translate(0 0.5)" shape-rendering="crispEdges" fill="none" stroke-width="1">
<path stroke="#003264" d="M24 1h1M14 2h1M16 2h1M20 2h2M24 2h1M16 3h2M21 3h1M23 3h1M14 4h2M21 4h1M23 4h1M9 5h1M15 5h1M9 6h2M9 7h2M9 8h1M9 9h2M9 10h2M9 11h2M9 12h2M9 13h2M9 14h2M9 15h2M9 16h2M9 17h2M9 18h2M9 19h2M9 20h2M10 21h1M10 22h1M15 22h1M10 23h1M15 23h1M10 24h1M15 24h1M10 25h1M9 26h2M15 26h1M10 27h1M15 27h1M5 28h1M9 28h2M9 29h2M4 30h2M9 30h2M9 31h2M9 32h2M9 33h2M9 34h2M10 36h1M6 37h1M10 37h1M5 38h2M10 38h1M10 39h1M10 42h1M15 42h1M10 43h1M10 44h1M15 44h1M15 45h1M10 46h1M4 47h1M6 47h1M9 47h2M15 47h1M6 48h1M9 48h2M5 49h1M9 49h2M5 50h2M10 50h1M15 50h1M9 51h2M9 52h2M9 53h2M9 54h2M8 55h3M6 56h1M8 56h3M6 57h1M8 57h1M10 57h1M6 58h1M8 58h3M9 59h2M9 60h2M8 61h3M6 62h1M9 62h2M10 66h1M8 67h1M10 67h1M9 68h2M9 69h2M9 71h1M9 72h1M15 72h1M8 74h1M10 74h1M10 75h1M9 76h2M9 77h2M9 78h2M8 79h1M10 79h1M8 80h3M9 81h2M9 82h2M9 83h2M10 84h1M15 84h1M9 85h2M4 86h1M8 86h3M15 86h1M8 87h3M15 87h1M10 88h1M15 88h1M10 89h1M9 90h2M15 90h1M9 91h1M9 93h2M9 94h2M9 95h1M9 96h2M9 97h2M9 98h2M9 99h2M9 100h1M10 101h1M10 102h1M9 106h2M9 107h2M9 108h2M9 109h1M9 110h1M9 111h1M9 112h1M9 113h1M9 114h1M9 115h2M9 116h2M9 117h1M9 118h1M9 119h2M6 120h1M9 120h2M6 121h1M9 121h2M15 121h1M9 122h2M9 123h2M9 124h2M9 125h2M9 126h2M9 127h2M9 128h2M10 129h1M10 130h1M10 131h1M9 132h2M9 133h2M9 134h2M9 135h1M9 136h1M9 137h2M9 138h2M9 139h2M9 140h1M9 141h1M9 142h2M9 143h2M10 144h1M9 145h2M9 146h2M9 147h2M10 148h1M9 149h2M10 150h1M4 151h1M10 151h1M10 152h1M10 153h1M15 153h1M10 154h1M9 155h1M9 156h1M9 157h2M9 158h2M15 158h1M9 159h2M15 159h1M15 160h1M9 161h1M9 162h2M9 163h1M9 165h2M10 166h1M9 167h2M9 168h1M9 169h2M9 170h1M9 171h1M9 173h1M9 174h1M9 175h1M16 175h1M30 177h1M9 179h1M9 181h1M29 187h1M9 202h1M15 203h1"/>
<path stroke="#0a3264" d="M18 2h1M20 4h1M8 33h1M9 35h1M9 44h1M4 48h1M15 49h1M16 68h1M9 70h1M8 73h1M9 79h1M9 84h1M6 96h1M10 100h1M9 148h1M10 160h1M15 161h1M9 178h1"/>
<path stroke="#0a326e" d="M15 46h1M9 74h1M10 141h1"/>
<path stroke="#0a3c6e" d="M16 4h2M24 4h1M8 34h1M9 36h1M9 39h1M4 49h1M9 50h1M6 61h1M9 64h1M9 88h1M9 92h1M6 102h1M10 109h1M10 114h1M10 118h1M9 131h1M10 140h1M10 175h1M9 177h1"/>
<path stroke="#0a3c78" d="M24 0h1M6 5h1M10 8h1M9 22h1M9 23h1M6 29h2M9 46h1M8 62h1M9 75h1M9 89h1M10 95h1M9 172h1M30 198h1M16 209h1"/>
<path stroke="#0a4678" d="M9 24h1M8 28h1M15 41h1M8 48h1M9 57h1M8 90h1M8 115h1M6 123h1M9 154h1M10 168h1M15 178h1M29 199h1"/>
<path stroke="#144678" d="M23 2h1M8 85h1M9 144h1M9 164h1M6 192h1"/>
<path stroke="#144682" d="M19 4h1M10 5h1M6 18h1M5 22h1M9 27h1M8 31h1M8 32h1M10 35h1M9 40h1M6 49h1M24 50h1M10 64h1M8 66h1M15 82h1M8 84h1M16 89h1M10 91h1M5 100h1M15 100h1M15 101h1M8 102h1M9 105h1M24 105h1M10 117h1M10 136h1M9 151h1M15 154h1M15 155h1M16 160h1M10 161h1M9 176h1M9 180h1M15 186h1M15 202h1M15 204h1"/>
<path stroke="#145082" d="M16 88h1M15 146h1M10 155h1"/>
<path stroke="#14508c" d="M14 3h1M20 3h1M24 3h1M4 14h1M5 21h1M9 21h1M6 30h1M15 30h1M9 37h1M15 37h1M9 38h1M18 38h1M8 47h1M9 63h1M9 67h1M6 80h1M8 81h1M4 99h1M6 122h1M9 166h1M15 188h1M10 193h1M6 199h1M9 201h1"/>
<path stroke="#145096" d="M6 15h1M10 40h1M16 48h1M24 49h1M6 60h1M6 75h1M15 77h1M15 80h1M15 85h1M6 115h1"/>
<path stroke="#145a96" d="M15 3h1M8 40h1M8 43h1M9 45h1M5 47h1M15 89h1M15 187h1"/>
<path stroke="#1e5a96" d="M6 14h1M6 21h1M6 22h1M15 25h1M8 38h1M6 39h1M8 65h1M15 69h1M10 73h1M8 77h1M15 79h1M10 92h1M8 114h1M9 152h1M10 156h1M10 163h1M15 200h1"/>
<path stroke="#1e5aa0" d="M18 3h1M6 11h1M15 21h1M15 29h1M8 35h1M15 38h1M5 39h1M9 41h1M15 43h1M5 62h1M8 68h1M6 78h1M8 83h1M4 100h1M4 105h1M10 105h1M15 120h1M10 135h1M15 152h1M9 160h1M30 176h1M29 180h1M10 185h1M16 186h1M29 186h1M29 189h1M9 200h1M15 205h1"/>
<path stroke="#1e64a0" d="M9 43h1M4 50h1M6 97h1M6 117h1M4 129h1M9 129h1M6 146h1M4 153h1"/>
<path stroke="#1e64aa" d="M18 0h1M23 0h1M23 1h1M25 3h1M5 14h1M4 25h1M4 26h1M4 28h1M16 37h1M15 39h1M6 40h1M10 41h1M10 45h1M15 48h1M6 55h1M15 56h1M9 66h1M15 66h1M6 69h1M18 73h1M6 74h1M8 75h1M8 82h1M5 99h1M15 99h1M6 100h1M9 104h1M8 108h1M6 116h1M6 124h1M6 130h1M15 163h1M10 164h1M16 164h1M16 176h1M30 188h1M29 193h1M29 194h1M13 198h1M9 210h1"/>
<path stroke="#2864aa" d="M6 46h1M4 87h1M10 113h1"/>
<path stroke="#286eaa" d="M18 1h1M5 9h1M6 13h1M5 20h1M5 23h1M8 27h1M6 28h1M24 48h1M9 65h1M16 77h1M4 85h1M6 87h1M6 89h1M5 98h1M10 112h1M15 118h1M9 130h1M17 162h1M15 170h1M6 193h1M9 206h1M10 210h1"/>
<path stroke="#286eb4" d="M21 0h1M14 1h1M15 2h1M6 9h1M8 11h1M11 14h1M7 15h1M9 25h1M7 28h1M5 36h1M8 41h1M8 42h1M0 43h1M8 60h1M5 61h1M6 64h1M16 66h1M6 68h1M16 69h1M6 73h1M15 73h1M16 74h1M15 75h1M6 79h1M15 94h1M15 97h1M6 98h1M8 100h1M4 102h1M15 102h1M9 103h1M4 109h1M6 119h1M13 129h1M15 145h1M8 150h1M15 156h1M6 170h1M10 174h1M28 176h1M10 184h1M16 191h1M24 196h1M29 198h1M6 202h1M5 207h1M15 211h1"/>
<path stroke="#2878b4" d="M20 0h1M25 4h1M5 5h1M6 23h1M7 33h1M8 36h1M7 37h1M7 40h1M4 59h1M6 67h1M15 78h1M11 108h1M6 118h1M15 167h1M31 172h1M15 177h1M29 191h1M16 192h1"/>
<path stroke="#3278b4" d="M17 2h1M8 9h1M6 16h1M4 21h1M4 24h1M12 24h1M4 29h1M4 38h1M7 39h1M24 40h1M16 44h1M24 47h1M3 48h1M15 55h1M4 58h1M15 62h1M10 63h1M15 67h1M10 70h1M4 71h1M10 71h1M15 71h1M8 72h1M9 73h1M16 73h1M8 76h1M8 78h1M15 81h1M6 82h1M15 83h1M16 87h1M8 88h1M16 90h1M6 101h1M10 104h1M4 107h1M6 109h1M10 111h1M15 116h1M8 119h1M13 130h1M24 133h1M15 138h1M9 150h1M34 151h1M15 157h1M16 159h1M16 161h1M15 169h1M16 170h1M28 175h1M16 177h1M10 178h1M16 179h1M29 182h1M30 184h1M29 188h1M9 193h1M5 197h1M15 201h1M15 206h1M10 208h1M15 208h1M9 209h1"/>
<path stroke="#3282b4" d="M16 1h1M35 4h1M18 13h1M8 19h1M7 41h1M5 48h1M16 49h1M4 54h1M7 57h1M24 70h1M8 71h1M15 76h1M6 83h1M6 84h1M8 89h1M13 96h1M10 110h2M6 129h1M13 131h1M5 136h1M15 137h1M15 174h1M10 179h1M29 181h1M10 182h1M13 188h1"/>
<path stroke="#3282be" d="M17 1h1M19 1h1M18 4h1M6 12h1M15 12h1M6 17h1M0 24h1M5 29h1M6 31h1M15 31h1M0 34h1M5 37h1M8 37h1M6 41h1M16 41h1M4 45h1M8 59h1M18 59h1M6 66h1M6 71h1M5 80h1M7 87h1M6 88h1M4 98h1M4 101h1M24 103h1M11 107h1M11 109h1M11 116h1M8 120h1M15 122h1M6 137h1M15 144h1M9 153h1M15 168h1M16 171h1M15 176h1M16 178h1M30 179h1M12 192h1M30 192h1M30 197h1M13 199h1"/>
<path stroke="#3c82be" d="M16 0h1M33 4h1M4 15h2M24 18h1M0 25h1M5 26h1M16 27h1M16 30h1M4 39h1M9 42h1M11 59h1M4 60h1M6 63h1M10 65h1M15 68h1M16 75h1M5 97h1M8 99h1M9 102h1M6 114h1M8 117h1M15 119h1M11 129h1M16 158h1M15 162h1M15 164h1M11 179h1M15 179h1M15 184h1M12 191h1M12 193h1M10 194h1"/>
<path stroke="#3c8cbe" d="M14 0h1M30 1h1M7 5h1M6 6h1M5 7h2M4 8h1M8 8h1M4 9h1M2 10h1M5 10h2M5 11h1M11 13h1M8 14h1M12 17h1M4 23h1M12 26h1M15 34h1M15 35h1M4 40h1M12 41h1M4 46h1M15 51h1M8 54h1M24 56h1M7 58h1M18 58h1M15 59h1M15 60h1M4 70h1M15 70h1M15 74h1M6 77h1M24 88h1M7 89h1M15 91h1M8 96h1M15 96h1M5 101h1M0 102h1M6 103h1M6 104h1M6 107h1M8 111h1M8 113h1M13 114h1M16 115h1M16 116h1M8 129h1M5 130h1M24 135h1M26 135h1M16 140h1M24 142h1M4 146h1M24 149h1M29 150h1M4 152h1M17 160h1M11 168h1M16 174h1M3 177h1M11 183h1M30 186h1M6 187h1M16 187h1M30 187h1M10 192h1M29 192h1M15 199h1M30 199h1M30 200h1M4 205h1M9 205h1M11 206h1M31 208h1M31 209h1M4 211h2"/>
<path stroke="#468cbe" d="M8 13h1M24 55h1M6 59h1M4 154h1"/>
<path stroke="#4696be" d="M8 7h1M8 10h1M4 18h1M4 22h1M4 27h1M12 27h1M0 31h1M12 37h1M8 44h1M16 52h1M3 62h1M24 83h1M6 85h1M12 100h1M8 101h2M6 106h1M5 110h1M6 136h1M15 151h1M6 154h1M11 166h1M11 178h1M20 179h1M29 179h1M29 190h1M30 191h1M3 197h1M24 197h1M4 206h1M4 210h1"/>
<path stroke="#4696c8" d="M20 1h1M15 9h1M16 21h1M0 23h1M16 25h1M8 26h1M5 27h2M5 32h1M6 33h1M11 33h1M7 34h1M15 36h1M4 37h1M8 39h1M18 40h1M16 47h1M7 48h1M7 50h1M16 51h1M24 71h1M6 72h1M10 72h1M24 89h1M4 97h1M8 97h1M6 99h1M11 100h1M11 101h1M5 109h1M11 123h1M6 125h1M4 133h1M11 136h1M15 136h1M16 139h1M6 141h1M11 145h1M29 151h1M30 152h1M5 157h1M30 164h1M4 167h1M35 168h1M20 170h1M4 171h1M15 171h1M28 172h1M31 173h1M29 176h1M11 184h1M11 195h1M3 196h1M30 201h1M29 202h1M18 203h1M10 207h1M9 208h1M5 209h1M31 210h1"/>
<path stroke="#5096c8" d="M19 0h1M33 3h1M5 13h1M16 14h1M7 31h1M12 34h1M7 35h1M12 35h1M5 41h1M16 50h1M4 57h1M4 72h1M16 78h1M6 86h1M24 104h1M12 116h1M5 117h1M4 130h1M19 151h1M16 162h1M30 172h1M15 182h1M4 189h1M12 194h1M30 194h1M30 195h1M30 196h1M13 205h1M29 205h1M6 208h1M35 208h1M6 210h1"/>
<path stroke="#50a0c8" d="M21 1h1M32 3h1M15 14h1M12 15h1M12 18h1M16 23h1M15 28h1M7 38h1M6 42h1M13 42h1M3 50h1M18 60h1M8 70h1M16 72h1M4 81h1M4 82h1M7 82h1M6 90h1M26 104h1M8 107h1M8 109h1M8 118h1M15 143h1M11 154h1M29 157h1M17 161h1M30 178h1M15 180h1M8 192h1M6 197h1"/>
<path stroke="#5aa0c8" d="M19 2h1M33 2h1M4 7h1M5 18h1M12 19h1M11 22h1M12 25h1M16 28h1M8 29h1M7 30h2M6 32h1M11 32h1M24 33h1M18 39h1M18 41h1M0 42h1M8 45h1M8 46h1M7 47h1M3 49h1M7 49h1M20 59h1M7 61h1M4 62h1M8 63h1M8 64h1M6 65h1M16 67h1M6 70h1M16 70h1M6 76h1M7 86h1M24 90h1M4 91h1M12 92h1M12 99h1M4 103h1M10 103h1M4 106h1M8 106h1M12 108h1M4 111h1M4 113h1M4 114h1M12 114h1M15 117h1M11 121h1M4 127h1M16 129h1M24 131h1M15 132h1M16 137h1M19 145h1M5 146h1M11 146h1M15 147h1M24 148h1M18 158h1M10 173h1M11 181h1M13 184h1M29 185h1M34 187h1M30 193h1M13 194h1M6 198h1M9 198h1M24 198h1M18 202h1M24 204h2M30 205h1M29 206h1M15 207h1M10 209h1M8 210h1M16 210h1"/>
<path stroke="#64001e" d="M36 7h1M36 8h1M14 10h1M35 10h1M32 11h1M32 12h1M36 12h1M36 13h1M36 14h1M31 17h1M23 22h1M22 28h1M35 31h1M14 32h1M36 37h1M23 40h1M35 58h1M23 59h1M31 59h1M34 59h1M34 60h3M14 61h1M36 61h1M32 67h1M28 69h1M23 86h1M14 94h1M36 94h1M31 100h1M35 113h1M35 114h1M32 125h1M21 171h1M21 172h1M21 173h1M21 174h1M21 194h1M21 203h1M22 207h1M22 208h1M22 210h1"/>
<path stroke="#64a0c8" d="M15 92h1M15 173h1"/>
<path stroke="#64aac8" d="M4 80h1M4 112h1M16 131h1M24 132h1M8 141h1M28 177h1M16 180h1M8 184h1M29 210h1"/>
<path stroke="#64aad2" d="M35 2h1M34 3h2M22 4h1M36 4h1M6 8h1M2 9h1M24 9h1M0 10h1M24 10h1M7 14h1M18 14h1M4 17h1M8 18h1M6 19h1M6 24h1M18 28h1M16 29h1M5 35h1M15 40h1M13 41h1M8 49h1M5 51h1M24 57h1M24 58h1M16 59h1M4 63h1M3 64h1M7 75h1M4 83h1M4 89h1M6 105h1M16 114h1M11 117h1M5 118h1M11 120h1M24 134h1M4 135h1M26 137h1M26 138h1M15 148h1M29 156h1M30 159h1M29 161h1M5 172h1M28 174h1M3 176h1M29 177h1M12 178h1M24 178h1M29 178h1M15 181h1M30 181h1M10 183h1M9 184h1M11 192h1M9 195h1M15 198h1M10 202h1M18 204h1M30 207h1M4 209h1M15 210h1M10 211h1"/>
<path stroke="#6e001e" d="M11 3h1M25 24h1M14 31h1M36 34h1M22 37h1M32 53h1M14 72h1M14 86h1M36 86h1M22 105h1M21 107h1M23 125h1M21 191h1M21 195h1M22 209h1"/>
<path stroke="#6eaad2" d="M31 0h1M30 2h1M15 11h1M16 26h1M0 27h1M1 29h1M0 33h1M6 36h1M16 38h1M6 45h1M7 46h1M16 46h1M4 61h1M5 63h1M15 63h1M7 77h1M11 81h1M4 88h1M7 90h1M0 100h1M12 102h1M26 105h1M12 109h1M16 110h1M15 114h1M16 130h1M4 134h1M24 136h1M16 138h1M24 152h1M11 155h1M8 156h1M15 166h1M11 169h1M16 173h1M25 176h1M5 182h1M6 186h1M33 187h1M10 189h1M4 190h1M16 194h1M29 195h1M11 196h1M9 199h1M35 199h1M6 200h1M13 203h1M29 207h1M8 209h1M15 209h1M29 209h1"/>
<path stroke="#6eb4d2" d="M5 8h1M7 10h1M8 12h1M16 22h1M5 40h1M16 40h1M8 52h1M4 53h1M16 71h1M4 84h1M8 98h1M15 103h1M4 110h1M8 110h1M25 125h1M16 128h1M26 136h1M6 138h1M15 139h1M6 147h1M6 163h1M6 173h1M11 174h1M31 188h1M18 189h1M13 191h1M9 194h1M15 197h1M18 200h1M4 203h1M4 204h2"/>
<path stroke="#78001e" d="M34 57h1M23 126h1M21 192h1"/>
<path stroke="#780a1e" d="M8 3h1M35 6h1M22 14h1M14 18h1M23 20h1M35 38h1M23 60h1M35 85h1M23 94h1M27 141h1M2 142h1M22 206h1"/>
<path stroke="#78b4d2" d="M15 0h1M25 1h1M32 2h1M34 4h1M2 6h1M0 9h1M4 13h1M12 16h1M24 16h1M11 19h1M18 30h1M11 34h1M12 36h1M24 39h1M12 40h1M4 41h1M6 43h1M8 50h1M3 54h1M11 60h1M16 60h1M4 66h1M11 66h1M7 74h1M4 79h1M29 81h1M5 85h1M7 85h1M4 90h1M8 93h1M18 96h1M3 97h1M15 98h1M7 100h1M13 100h1M8 103h1M15 107h1M6 108h1M8 112h1M16 112h1M24 112h1M12 115h1M16 136h1M4 140h1M16 141h1M25 143h1M6 151h1M6 153h1M24 153h1M16 163h1M13 168h1M28 173h1M12 180h1M18 180h1M5 181h1M9 182h1M31 182h1M10 186h1M8 187h2M18 187h1M6 189h1M8 189h1M11 193h1M13 193h1M10 197h1M28 198h1M29 201h1M13 202h1M12 203h1M16 206h1M8 208h1M16 208h1M6 209h1"/>
<path stroke="#820a1e" d="M10 2h1M21 30h1M36 42h1M14 52h1M36 110h1"/>
<path stroke="#820a28" d="M35 7h1M36 39h1M35 42h1M32 60h1M28 68h1M35 68h1M31 102h1M23 112h1M31 127h1M36 148h1M36 149h1"/>
<path stroke="#82b4d2" d="M5 68h1M16 101h1"/>
<path stroke="#82b4dc" d="M19 3h1M8 5h1M24 86h1M11 115h1M4 118h1M0 157h1M28 192h1M28 193h1M18 198h1M35 209h1"/>
<path stroke="#82bedc" d="M22 0h1M25 2h1M22 3h1M18 6h1M2 7h1M2 8h1M12 10h1M24 11h1M15 13h1M3 14h1M16 15h1M4 16h2M0 19h1M12 22h1M16 24h1M8 25h1M13 27h1M6 35h1M13 40h1M0 44h1M6 44h1M3 53h1M8 53h1M18 56h1M3 61h1M7 66h1M13 66h1M4 68h1M6 81h1M5 83h1M24 84h1M6 94h1M12 95h1M13 98h1M4 104h1M15 105h1M5 106h1M15 109h1M13 112h1M8 116h1M11 122h1M6 128h1M11 130h1M5 133h1M4 137h1M4 139h1M19 144h1M28 145h1M13 149h1M13 150h1M17 159h1M29 159h1M30 160h1M5 164h1M15 165h1M18 166h1M6 167h1M16 167h1M4 168h1M12 169h1M6 176h1M24 179h1M30 180h1M15 185h2M4 188h1M25 188h1M16 195h1M31 196h1M33 196h1M31 197h1M13 201h1M5 203h1M9 203h1M24 203h1M29 204h1M9 207h1"/>
<path stroke="#8c0a28" d="M10 3h1M8 4h1M23 7h1M23 39h1M36 40h1M35 41h1M32 49h1M32 54h1M35 61h1M32 65h1M30 69h1M36 74h1M14 75h1M36 83h1M31 99h1M1 113h1M35 115h1M23 128h1M2 143h1M21 205h1"/>
<path stroke="#8cbedc" d="M34 2h1M0 5h1M16 5h1M7 9h1M4 10h1M5 17h1M7 17h1M11 21h2M18 21h1M7 23h1M17 24h1M24 35h1M12 38h1M19 39h1M16 42h1M6 51h1M4 55h2M12 59h1M15 65h1M5 66h1M17 69h1M5 71h1M11 73h1M24 74h1M4 78h1M16 79h1M5 81h1M24 82h1M24 87h1M24 94h1M12 97h1M18 97h1M11 99h1M26 107h1M15 113h1M11 118h1M24 122h1M5 129h1M24 129h1M15 130h1M6 132h1M11 134h1M8 139h1M6 145h1M25 146h1M30 147h1M8 148h1M34 148h1M8 149h1M4 150h1M6 152h1M30 154h1M35 161h1M29 165h1M4 175h1M11 175h1M15 175h1M4 176h1M4 177h1M11 182h1M25 183h1M34 188h1M30 189h1M9 192h1M15 192h1M16 196h1M19 196h1M8 199h1M0 200h1M0 202h1M35 204h1M10 205h1M5 206h1M18 208h1M34 211h1"/>
<path stroke="#8cc8dc" d="M18 10h1M24 17h1M8 24h1M6 26h1M13 37h1M3 41h1M11 50h1M25 81h1M5 111h1M4 147h1M24 147h1M7 180h1M11 180h1M16 183h1M30 183h1M16 184h1M5 196h1M16 205h1M31 207h1M12 211h1"/>
<path stroke="#960a28" d="M11 4h1M31 18h1M30 20h1M36 28h1M35 40h1M36 41h1M35 57h1M22 78h1M21 93h1M1 126h1M27 173h1M21 175h1M21 193h1"/>
<path stroke="#961428" d="M23 10h1M14 17h1M22 29h1M23 57h1M30 75h1M36 111h1M22 127h1M36 147h1M22 189h1M21 202h1"/>
<path stroke="#96c8dc" d="M15 1h1M31 1h1M22 2h1M5 6h1M8 6h1M0 7h1M15 8h1M19 9h1M0 11h1M4 11h1M12 11h1M17 11h1M4 12h2M11 15h1M8 16h1M5 19h1M7 19h1M8 20h1M1 21h1M5 25h1M13 26h1M3 27h1M7 27h1M0 32h1M15 32h1M20 33h1M6 34h1M4 36h1M19 40h1M4 44h1M0 45h1M3 47h1M24 51h1M2 52h1M5 52h1M15 52h1M6 53h1M18 57h1M24 59h1M15 61h1M7 62h1M3 63h1M15 64h1M11 65h1M4 69h1M11 71h1M7 83h1M5 84h1M17 90h1M6 91h1M8 91h1M15 95h1M5 96h1M11 96h1M13 97h1M11 98h1M13 101h1M5 102h1M7 102h1M24 106h1M4 108h2M15 110h1M11 111h1M16 111h1M5 112h1M5 113h1M12 113h1M16 113h1M7 117h1M24 121h1M15 123h1M7 125h2M12 127h1M8 128h1M4 131h1M17 140h1M6 142h1M24 145h1M30 148h1M31 153h1M25 154h1M8 157h1M36 158h1M0 159h1M6 164h1M6 165h1M4 166h1M29 166h1M13 167h1M8 168h1M16 169h1M35 169h1M31 171h1M5 173h1M3 175h1M24 175h1M29 175h1M28 178h1M13 182h1M30 182h1M13 183h1M15 183h1M29 183h1M29 184h1M28 185h1M4 187h1M30 190h1M15 191h1M13 192h1M16 193h1M28 194h1M6 196h1M15 196h1M29 196h1M12 197h1M18 197h1M29 200h1M35 200h1M6 201h1M18 201h1M16 203h1M19 203h1M35 203h1M11 205h1M18 205h1M13 206h1M6 207h1M16 207h1M5 210h1M34 210h1"/>
<path stroke="#a01428" d="M29 5h1M28 7h1M14 9h1M35 11h1M36 15h1M23 18h1M36 18h1M14 19h1M23 21h1M26 25h1M14 33h1M36 33h1M14 36h1M22 38h1M36 46h1M34 69h1M35 77h1M30 85h1M36 85h1M35 100h2M31 101h1M32 108h1M22 128h1M21 134h1M21 181h1M20 207h1M21 211h1"/>
<path stroke="#a0c8dc" d="M36 2h1M15 6h1M1 9h1M8 15h1M18 18h1M18 29h1M5 31h1M12 58h1M16 102h1M25 105h1M13 111h1M15 115h1M6 140h1M6 144h1M28 146h1M11 167h1M5 180h1M20 180h1M31 183h1M5 185h1M18 196h1M33 208h1"/>
<path stroke="#a0c8e6" d="M12 5h1M7 7h1M24 7h1M1 10h1M7 11h1M0 12h1M8 17h1M6 20h1M18 23h1M5 24h1M0 28h1M18 37h1M16 39h1M5 43h1M16 45h1M3 52h1M11 54h1M15 54h1M4 56h1M3 58h1M5 64h1M0 65h1M5 65h1M16 65h1M4 67h1M5 72h1M24 72h1M11 74h1M13 74h1M4 77h1M24 78h1M5 87h1M5 88h1M24 98h1M18 111h1M13 113h1M24 113h1M5 115h1M24 123h1M26 123h1M11 125h1M15 125h1M15 127h1M26 134h1M6 139h1M12 146h1M0 148h1M4 148h1M15 150h1M33 151h1M20 154h1M32 154h1M25 155h1M30 157h1M30 158h1M29 160h1M13 164h1M29 164h1M13 165h1M30 168h1M30 173h1M17 178h1M16 181h1M11 185h1M8 186h1M6 188h1M25 189h1M9 190h1M15 193h1M13 195h1M9 197h1M10 200h1M24 200h1M11 204h1M24 205h1M9 211h1"/>
<path stroke="#a0d2e6" d="M0 8h1M18 11h1M11 18h1M0 40h1M7 55h1M12 56h1M16 56h1M16 58h2M3 65h1M7 65h1M6 92h1M2 100h1M24 101h1M5 119h1M6 127h1M11 138h1M28 138h1M12 139h1M0 141h1M15 141h1M24 146h1M24 151h1M30 153h1M28 155h1M24 163h1M6 168h1M12 168h1M4 172h1M10 172h2M24 173h1M6 177h1M18 178h1M7 179h1M24 180h1M10 187h1M18 190h1M12 204h1M29 211h1"/>
<path stroke="#aa1428" d="M1 1h1M6 1h1M8 1h1M6 2h1M23 8h1M26 13h1M30 22h1M23 23h1M14 30h1M35 30h1M31 34h1M36 38h1M30 42h1M21 43h1M35 43h1M32 59h1M35 59h1M31 60h1M14 62h1M14 74h1M35 76h1M23 81h1M32 85h1M35 87h1M14 91h1M21 94h1M27 103h1M27 104h1M28 113h1M0 126h1M22 174h1M1 195h1M21 201h1M21 204h1"/>
<path stroke="#aad2e6" d="M17 0h1M29 0h2M34 1h1M36 3h1M11 5h1M0 6h1M24 8h1M15 10h2M12 12h1M1 13h1M7 13h1M11 16h1M4 19h1M24 19h1M0 20h1M4 20h1M12 20h2M0 22h1M12 23h1M3 24h1M6 25h1M3 26h1M1 28h1M11 31h2M16 31h1M20 31h1M7 32h1M16 33h1M18 34h1M24 34h1M0 35h1M7 36h1M16 36h1M24 36h1M3 40h1M5 42h1M11 43h1M16 43h1M7 44h1M5 45h1M12 45h1M24 45h1M11 48h1M11 49h1M12 52h1M24 52h1M16 55h1M7 56h1M11 56h1M5 57h1M16 57h1M16 61h1M4 64h1M7 64h1M11 67h1M24 73h1M7 76h1M16 76h1M24 77h1M19 81h1M12 84h1M0 87h1M7 88h1M16 92h1M15 93h1M12 96h1M16 97h1M0 99h1M13 99h1M16 99h1M0 101h1M11 102h1M24 102h1M26 103h1M5 105h1M0 108h1M13 108h1M15 112h1M4 115h1M11 119h1M24 120h1M11 124h1M13 124h1M13 125h1M8 126h1M15 126h2M11 128h1M15 128h1M24 130h1M13 136h1M4 138h1M13 139h1M13 140h1M15 140h1M25 142h1M29 142h1M24 143h1M31 143h1M26 145h1M28 147h1M13 148h1M24 150h1M13 151h1M8 152h1M11 153h1M6 155h1M13 157h1M0 158h1M17 158h1M35 159h1M13 160h1M36 160h1M27 163h1M5 166h1M24 167h1M4 169h1M10 170h1M3 171h1M11 173h1M18 174h1M10 176h1M13 177h1M25 180h1M10 181h1M5 183h1M30 185h1M13 187h1M31 187h1M8 188h1M16 188h1M9 189h1M16 190h1M9 191h1M4 192h1M6 194h1M11 194h1M15 195h1M4 196h1M9 196h1M4 197h1M4 198h1M8 198h1M28 199h1M30 202h1M34 203h1M30 204h1M28 205h1M27 206h1M18 207h1M12 208h1M29 208h1M12 209h1M33 209h1M35 210h1M24 211h1"/>
<path stroke="#b41428" d="M5 1h1M12 1h1M31 7h1M14 8h1M34 11h1M21 18h1M36 35h1M32 46h1M34 56h1M36 62h1M30 68h1M14 76h1M33 77h1M31 79h1M34 80h1M31 94h1M30 101h1M35 102h1M14 106h1M21 206h1M26 210h1"/>
<path stroke="#b41e28" d="M10 4h1M36 6h1M34 7h1M33 8h1M36 29h1M35 39h1M35 44h1M14 53h1M31 86h1M30 94h1M31 96h1M28 111h1M23 129h1M19 130h1M21 136h1"/>
<path stroke="#b41e32" d="M9 2h1M9 3h1M36 5h1M28 6h1M28 10h1M21 11h1M23 17h1M36 17h1M23 19h1M36 21h1M35 26h1M21 29h1M31 31h1M36 44h1M35 54h1M30 60h1M30 67h1M36 75h1M23 85h1M1 87h1M27 96h1M36 115h1M31 126h1M18 129h2M19 135h1M22 144h1M36 152h1M14 157h1M22 168h1M22 171h1M21 177h1M1 180h1M22 195h1"/>
<path stroke="#b42832" d="M27 14h1M23 29h1M28 35h1M21 48h1M32 77h1M23 88h1M32 92h1M31 95h1M32 96h1M21 109h1M21 196h1M0 205h1M36 205h1"/>
<path stroke="#b4d2e6" d="M32 0h1M13 8h1M16 8h1M29 9h1M17 12h1M1 17h1M7 18h1M1 22h1M0 26h1M4 31h1M17 33h1M2 34h1M0 36h1M3 42h2M12 42h1M13 43h1M12 46h1M12 47h1M6 54h1M24 54h1M5 56h1M15 57h1M15 58h1M24 60h1M18 61h1M20 62h1M14 67h1M34 72h1M5 77h1M5 86h1M5 89h1M4 92h1M12 93h1M11 94h1M16 95h1M16 98h1M5 104h1M11 106h1M24 109h1M7 114h1M0 115h1M13 115h1M29 116h1M13 118h1M13 120h1M13 122h1M12 125h1M11 131h1M15 133h1M13 134h1M12 135h1M27 137h1M11 139h1M11 141h1M25 144h1M25 145h1M26 146h1M26 152h1M33 152h2M8 155h1M6 156h1M11 156h1M28 156h1M12 158h1M19 159h1M4 161h1M19 164h1M16 165h1M6 166h1M30 166h1M8 167h1M16 168h1M4 170h1M13 170h1M5 177h1M28 184h1M4 191h1M6 191h1M28 191h1M6 195h1M24 199h1M10 201h1M4 202h1M6 203h1M11 203h1M16 204h1M19 204h1M10 206h1M4 207h1M11 208h1M30 208h1M11 210h1M33 210h1"/>
<path stroke="#b4dce6" d="M32 4h1M3 10h1M13 19h1M7 20h1M11 20h1M17 29h1M4 32h1M12 33h1M19 41h1M12 48h1M15 53h1M13 65h1M18 72h1M12 74h1M17 77h1M17 91h1M8 94h1M6 95h1M8 95h1M4 96h1M13 110h1M12 112h1M5 116h1M13 117h1M24 118h1M26 120h1M12 123h1M4 126h1M16 127h1M8 130h1M4 132h1M12 138h1M13 141h1M0 146h1M8 147h1M15 149h1M19 152h1M16 156h1M35 162h1M17 163h1M25 164h1M20 169h1M15 172h2M24 172h1M32 172h1M3 174h2M8 174h1M5 176h1M4 181h1M4 182h1M24 184h1M9 185h1M34 190h1M28 195h1M13 200h1M35 201h1M34 202h1M25 203h1M30 211h1"/>
<path stroke="#be2832" d="M1 0h1M30 8h1M36 9h1M22 15h1M25 17h1M27 18h1M36 23h1M23 24h1M36 26h1M33 28h1M22 31h1M36 32h1M35 34h1M27 35h1M22 42h1M23 44h1M36 45h1M19 48h1M14 55h1M34 58h1M36 59h1M14 60h1M33 60h1M20 66h1M36 68h1M28 71h1M14 73h1M29 73h1M35 73h1M35 75h1M14 77h1M21 78h1M30 88h1M32 91h1M26 94h1M14 95h1M23 104h1M14 105h1M35 105h1M21 108h1M23 127h1M21 135h1M36 150h1M14 153h1M23 159h1M32 160h1M21 161h1M23 191h1"/>
<path stroke="#be3232" d="M0 0h1M7 0h1M35 8h1M23 9h1M14 11h1M14 16h1M35 17h1M22 18h1M33 19h1M14 21h1M30 23h1M22 30h1M35 37h1M22 40h1M36 49h1M31 51h1M35 51h1M32 64h1M23 66h1M30 66h1M34 70h1M23 73h1M30 76h1M22 77h1M32 84h1M30 86h1M35 86h1M36 92h1M36 93h1M35 110h1M23 123h1M22 126h1M21 139h1M22 175h1M21 182h1M17 183h1M22 190h1M21 209h1"/>
<path stroke="#be323c" d="M2 0h1M4 4h1M26 5h1M32 13h1M35 15h1M35 16h1M35 32h1M35 35h1M30 48h1M22 49h1M14 57h1M33 57h1M32 63h1M36 63h1M27 77h1M31 77h1M36 82h1M22 90h1M21 92h1M35 104h1M28 124h1M32 126h1M18 128h1M22 130h1M20 177h1M32 183h1M22 204h1"/>
<path stroke="#be3c3c" d="M34 13h1M14 20h1M28 20h1M36 24h1M22 44h1M35 46h1M23 58h1M31 67h1M32 68h1M29 69h1M27 97h1M32 100h1M32 101h1M35 103h1M21 122h1M23 124h1M23 192h1M21 199h1"/>
<path stroke="#bedce6" d="M35 1h1M26 4h1M7 6h1M11 12h1M18 12h1M11 17h1M18 19h1M15 20h1M24 21h1M2 26h1M20 26h1M3 30h1M5 33h1M15 33h1M2 35h1M0 37h1M19 38h1M17 39h1M0 41h1M17 41h1M11 42h1M3 43h1M5 46h1M13 53h1M24 53h1M18 55h1M31 57h1M17 60h1M2 61h1M7 63h1M13 63h1M18 63h1M24 65h1M24 66h1M18 67h1M17 68h1M8 69h1M18 69h1M4 73h1M4 74h1M18 74h1M18 75h1M24 75h1M26 80h1M24 81h1M5 82h1M12 88h1M0 91h1M12 91h1M0 93h1M17 93h1M11 97h1M19 97h1M17 101h1M29 107h1M24 110h1M4 116h1M26 117h1M25 118h1M13 123h1M16 124h1M13 126h1M13 127h1M33 132h1M8 133h1M5 135h1M33 135h1M4 136h1M11 137h2M25 138h1M11 140h1M24 141h1M11 142h1M13 143h1M31 144h1M3 153h1M29 153h1M16 155h1M13 156h1M16 157h1M4 160h1M8 161h1M30 163h1M24 164h1M13 166h1M29 167h1M20 171h1M8 172h1M12 173h1M29 173h1M5 174h2M34 178h1M10 180h1M24 181h1M3 182h1M9 183h1M24 183h1M34 183h1M25 184h1M8 185h1M24 188h1M33 188h1M16 189h1M20 189h1M34 189h1M5 190h2M10 190h1M28 190h1M10 191h1M8 194h1M35 195h1M11 197h1M13 197h1M19 197h2M7 198h1M19 198h1M18 199h1M24 201h1M19 202h1M35 202h1M29 203h1M13 204h1M30 206h1M33 207h1M18 209h1M30 209h1M13 210h1M30 210h1M6 211h1"/>
<path stroke="#bedcf0" d="M26 2h1M31 4h1M13 5h1M4 6h1M16 12h1M13 13h1M15 18h1M8 22h1M24 24h1M3 28h1M17 30h1M29 45h1M12 57h1M0 62h1M16 64h1M5 67h1M19 67h1M24 79h1M18 80h1M0 82h1M11 82h2M0 84h1M16 86h1M0 92h1M3 93h1M6 93h1M24 99h1M24 107h1M16 109h1M18 109h1M16 117h1M12 118h1M11 127h1M5 131h1M5 137h1M5 138h1M13 138h1M24 138h1M17 139h1M8 140h1M16 146h1M13 147h1M6 148h1M12 148h1M30 165h1M19 168h1M32 173h1M29 174h1M5 175h1M30 175h1M18 179h1M7 182h1M28 189h1M0 195h1M24 195h1M31 198h1M35 198h1M8 201h1M24 202h1M31 202h1M35 207h1"/>
<path stroke="#c83c3c" d="M4 1h1M36 10h1M27 13h1M31 24h1M32 26h1M23 28h1M27 41h1M30 43h1M32 47h1M35 52h1M35 55h1M35 69h2M22 72h1M25 77h1M14 85h1M22 88h1M36 91h1M28 96h1M36 102h1M33 109h1M1 120h1M21 121h1M34 123h1M31 128h1M32 133h1M21 141h1M2 144h1M23 146h1M21 155h1M1 193h1M21 200h1M22 203h1M26 209h1"/>
<path stroke="#c8463c" d="M36 11h1M20 12h1M14 15h1M32 25h1M34 31h1M31 32h1M22 41h1M32 45h1M14 46h1M28 55h1M35 62h1M31 63h1M28 70h1M31 78h1M14 93h1M23 93h1M21 104h1M35 106h1M36 113h1M32 123h1M18 124h1M32 124h1M30 128h1M36 139h1M21 162h1M21 168h1M22 169h1M17 181h1M21 185h1M17 194h1"/>
<path stroke="#c84646" d="M8 2h1M11 2h1M6 4h1M30 6h1M34 8h1M28 9h1M25 12h1M34 30h1M36 30h1M22 36h1M23 46h1M20 48h1M14 59h1M29 68h1M14 70h1M22 73h1M36 73h1M27 82h1M1 85h1M36 90h1M14 92h1M23 95h1M36 95h1M29 96h1M34 96h1M35 99h1M28 112h1M35 116h1M22 129h1M31 140h1M14 154h1M21 160h1M23 171h1M1 194h1M1 206h1"/>
<path stroke="#c85046" d="M6 3h1M28 8h1M30 15h1M31 25h1M14 51h1M33 54h1M14 56h1M23 69h1M26 73h1M23 74h1M22 76h1M34 83h1M35 88h1M23 89h1M32 93h1M32 95h1M23 99h1M32 102h1M28 104h1M32 107h1M33 116h1M27 119h1M18 120h1M34 121h1M23 168h1M21 176h1M22 191h1"/>
<path stroke="#c8dcf0" d="M22 1h1M33 1h1M4 5h1M1 6h1M15 7h1M1 12h1M7 12h1M3 13h1M0 21h1M8 21h1M17 22h1M17 23h1M7 24h1M28 28h1M13 31h1M18 33h1M16 34h1M23 34h1M17 37h1M0 39h1M13 44h1M2 50h1M12 51h1M6 52h1M5 53h1M11 55h1M24 61h1M16 63h1M12 64h1M17 65h1M14 68h1M11 72h1M5 73h1M4 75h1M12 75h1M7 78h1M12 79h1M29 80h1M11 83h1M20 88h1M3 94h1M3 96h1M16 96h1M24 96h1M12 101h1M15 106h2M24 108h1M15 111h1M29 115h1M0 116h1M19 116h1M19 117h1M19 119h1M24 119h1M8 121h1M12 122h1M7 124h1M8 127h1M4 128h1M13 128h1M3 133h1M3 134h1M6 134h1M15 135h1M12 136h1M0 137h1M13 137h1M24 137h1M0 138h1M2 139h1M29 145h1M6 149h1M12 149h1M30 149h1M20 150h1M30 151h1M16 152h1M24 155h1M6 157h1M31 157h1M11 159h1M36 159h1M0 160h1M35 160h1M5 163h1M8 163h1M11 165h1M33 166h1M3 168h1M3 169h1M28 170h1M30 170h1M3 172h1M6 172h1M8 176h1M31 180h1M3 181h1M8 183h1M9 186h1M24 187h1M5 188h1M7 188h1M18 191h1M15 194h1M31 194h1M10 195h1M8 200h1M7 201h1M9 204h1M26 205h2M18 206h1"/>
<path stroke="#c8e6f0" d="M7 8h1M13 16h1M18 26h1M11 28h1M13 32h1M2 36h1M0 38h1M24 43h1M17 48h1M27 49h1M4 51h1M2 54h1M12 54h1M13 67h1M12 78h1M12 80h1M18 81h1M20 81h1M18 98h1M27 100h1M3 101h1M16 107h1M6 110h1M0 111h1M24 111h1M29 114h1M4 119h1M4 125h1M11 126h1M0 133h1M13 133h1M23 138h1M26 144h1M20 145h1M6 150h1M5 158h1M18 159h1M5 160h1M4 163h1M12 166h1M25 167h1M30 167h1M10 171h1M30 171h1M19 178h1M34 182h1M12 184h1M33 186h2M0 189h1M15 190h1M24 190h1M24 194h1M32 196h1M28 200h1M3 204h1M10 204h1M14 205h1M28 206h1M8 207h1M13 207h1M24 207h1M4 208h1M11 209h1"/>
<path stroke="#d25046" d="M12 0h1M7 1h1M30 5h1M35 9h1M25 11h1M35 12h1M23 16h1M31 16h1M33 17h1M25 18h1M31 20h1M25 21h1M31 22h1M36 22h1M14 23h1M35 24h1M22 27h1M14 29h1M23 30h1M36 31h1M14 34h1M36 36h1M23 45h1M31 46h1M31 47h1M31 48h1M19 49h1M21 52h1M28 52h1M14 54h1M33 58h1M30 59h1M23 62h1M34 62h1M30 65h1M34 66h1M28 67h1M21 79h1M31 81h1M36 84h1M34 85h1M36 88h1M14 96h1M14 97h1M36 97h1M28 99h1M36 99h1M21 105h1M34 112h1M28 123h1M1 127h1M14 127h1M14 128h1M23 130h1M34 137h1M32 139h1M22 142h1M22 146h1M23 162h1M21 165h1M21 198h1M36 198h1"/>
<path stroke="#d25a46" d="M9 0h1M28 5h1M26 6h1M34 9h1M30 10h1M33 10h1M34 12h1M28 17h1M32 17h1M36 19h1M22 20h1M35 20h1M32 27h1M31 33h1M32 35h1M26 36h1M35 36h1M21 39h1M22 45h1M36 47h1M21 49h1M35 56h1M33 59h1M34 61h1M34 64h1M22 71h1M23 75h1M23 76h1M35 78h1M26 86h1M21 87h1M22 91h1M21 98h1M22 103h1M36 103h1M14 107h1M28 109h1M32 111h1M27 120h1M27 124h1M22 125h1M18 131h1M22 143h1M22 161h1M21 163h1M1 178h1M21 178h1M32 184h1M22 185h1M22 202h1M1 208h1M21 210h1"/>
<path stroke="#d25a50" d="M7 4h1M35 18h1M22 24h1M36 27h1M34 34h1M21 42h1M29 43h1M30 50h1M25 61h1M14 64h1M31 68h1M3 69h1M35 90h1M26 93h1M21 96h1M14 110h1M35 111h1M1 112h1M30 123h1M28 125h1M21 133h1M7 145h1M22 145h1M0 152h1M23 184h1M27 197h1M1 205h1M36 206h1"/>
<path stroke="#d26450" d="M27 17h1M23 25h1M35 28h1M33 29h1M32 30h1M29 40h1M21 44h1M25 47h1M32 48h1M31 49h1M22 56h1M30 63h1M1 67h1M22 67h1M21 95h1M30 100h1M32 104h1M31 112h1M21 120h1M1 129h1M14 133h1M34 138h1M36 138h1M0 154h1"/>
<path stroke="#d2e6f0" d="M26 0h2M33 0h1M36 1h1M27 2h1M30 3h1M24 5h1M16 6h1M19 6h1M1 7h1M18 7h1M12 9h1M18 9h1M3 12h1M16 13h1M24 13h1M13 14h1M19 14h1M18 15h1M0 17h1M18 17h1M24 20h1M7 21h1M17 21h1M1 23h1M24 23h1M24 25h1M7 26h1M1 27h1M11 27h1M2 29h1M12 29h1M24 29h1M11 30h1M18 31h1M19 32h1M13 33h1M11 35h1M13 35h1M16 35h1M2 38h1M13 38h1M17 38h1M12 39h1M31 40h1M2 42h1M2 43h1M2 44h1M12 44h1M24 44h1M7 45h1M0 46h1M18 47h1M2 51h1M7 51h1M2 53h1M19 55h1M11 57h1M7 60h1M12 60h1M11 61h1M16 62h1M11 63h1M17 64h1M4 65h1M0 69h1M5 69h1M11 69h2M0 70h1M5 70h1M17 70h1M12 71h1M17 71h1M12 73h2M5 74h1M4 76h1M3 78h1M7 81h1M18 82h1M0 83h1M12 83h1M13 87h1M20 87h1M19 88h1M33 91h1M3 92h1M8 92h1M19 92h1M11 93h1M16 93h1M12 98h1M16 100h1M24 100h1M7 101h1M13 102h1M17 102h1M12 103h1M8 104h1M0 105h1M20 106h1M31 106h1M15 108h1M18 108h1M13 109h1M29 109h1M11 114h1M7 115h1M24 115h1M29 117h1M7 118h1M20 118h1M13 119h1M26 121h1M8 122h1M0 123h1M4 123h1M8 123h1M25 123h1M8 124h1M20 124h1M5 125h1M12 126h1M20 126h1M33 128h1M6 131h1M12 131h1M15 134h1M8 135h1M11 135h1M7 136h1M3 137h1M25 137h1M0 140h1M4 141h2M17 141h1M0 142h1M18 142h1M6 143h1M11 143h1M19 143h2M31 145h1M29 147h1M4 149h1M12 150h1M8 151h1M13 152h1M13 153h1M16 153h1M25 153h1M13 154h1M29 154h1M12 155h1M12 157h1M28 157h1M8 159h1M11 160h2M33 160h1M24 161h1M13 163h1M19 163h1M29 163h1M19 165h1M24 165h1M33 165h1M8 166h1M16 166h1M25 166h1M20 168h1M8 169h1M13 169h1M11 170h1M28 171h1M29 172h1M0 173h1M12 175h1M17 175h1M31 175h1M35 175h1M24 176h1M31 176h1M7 177h1M12 177h1M6 178h1M25 178h1M4 180h1M6 180h1M33 180h1M7 181h1M36 181h1M25 182h1M28 182h1M3 183h1M18 183h1M4 185h1M12 185h1M4 186h1M28 186h1M5 187h1M7 187h1M15 189h1M33 189h1M8 190h1M20 190h1M35 190h1M33 193h1M8 195h1M18 195h1M31 195h1M33 195h1M28 196h1M16 197h1M4 199h1M7 199h1M10 199h1M33 199h1M31 200h1M19 201h1M31 201h1M5 202h1M16 202h1M34 204h1M6 206h1M8 206h1M12 206h1M24 206h1M11 207h1M34 208h1M13 209h1M34 209h1M18 210h1M11 211h1"/>
<path stroke="#dc6450" d="M3 3h1M3 4h1M33 9h1M22 12h1M14 14h1M23 14h1M23 15h1M28 18h1M28 19h1M36 20h1M25 22h1M29 25h1M32 32h1M35 33h1M27 34h1M28 36h1M34 37h1M23 42h1M33 42h1M32 43h1M36 43h1M31 45h1M35 45h1M32 50h1M36 50h1M33 52h1M34 53h1M26 54h2M29 55h1M23 61h1M31 64h1M34 65h1M35 66h1M23 67h1M23 68h1M20 69h1M22 74h1M26 77h1M36 77h1M32 80h1M31 83h1M14 84h1M34 86h1M31 87h1M28 92h1M34 92h1M31 93h1M28 95h1M26 96h1M36 98h1M27 99h1M35 101h1M14 103h1M2 104h1M14 104h1M36 104h1M28 110h1M31 118h1M22 119h1M34 120h1M27 121h1M18 123h1M34 124h1M31 125h1M35 126h1M7 127h1M21 129h1M7 143h1M7 144h1M14 144h1M23 144h1M22 156h1M28 165h1M14 166h1M21 167h1M22 177h1M0 180h1M21 184h1M21 187h1M21 197h1M23 210h1"/>
<path stroke="#dc6e50" d="M4 0h1M0 1h1M21 20h1M29 24h1M34 26h1M27 27h1M1 66h1M33 66h1M34 68h1M30 74h1M31 80h1M35 144h1M22 173h1"/>
<path stroke="#dc6e5a" d="M8 0h1M4 3h1M0 4h1M32 6h1M30 7h1M13 10h1M31 11h1M28 12h1M22 13h1M28 13h1M21 16h1M25 16h1M30 17h1M22 19h1M31 21h1M35 22h1M34 23h2M25 25h1M36 25h1M32 31h1M32 33h1M26 35h1M14 37h1M14 39h1M19 43h1M32 44h1M14 45h1M22 46h1M13 47h1M29 49h1M21 50h1M29 50h1M34 51h1M32 52h1M34 52h1M23 53h1M27 53h1M22 55h1M33 55h1M36 57h1M22 58h1M1 62h1M26 62h1M32 62h1M33 64h1M33 65h1M36 65h1M32 66h1M35 67h1M21 68h1M33 78h1M36 78h1M34 81h1M19 82h1M1 86h1M22 86h1M25 86h1M30 87h1M36 87h1M7 92h1M23 92h1M22 96h1M1 97h1M28 97h1M32 97h1M29 100h1M28 103h1M27 105h1M36 105h1M28 108h1M35 109h1M32 110h1M30 111h1M36 112h1M34 115h1M1 117h1M33 117h1M22 120h1M18 125h1M0 131h1M18 132h1M35 132h2M18 133h1M19 134h1M27 140h1M22 147h1M35 147h1M21 148h1M18 149h1M32 150h1M1 153h1M21 157h1M36 163h1M21 164h1M21 169h1M34 175h1M2 178h1M1 181h1M22 194h1M17 195h1M27 203h1M22 205h1M23 209h1"/>
<path stroke="#dc785a" d="M22 5h1M34 6h1M14 7h1M26 7h1M32 9h1M14 12h1M26 12h1M33 12h1M30 13h1M35 13h1M21 15h1M36 16h1M21 17h1M27 19h1M35 19h1M31 23h1M35 29h1M23 36h1M27 36h1M22 43h1M25 46h1M21 51h1M28 58h1M14 65h1M21 66h1M26 75h1M28 75h1M32 78h1M29 84h1M33 85h1M26 87h1M28 88h1M31 88h2M35 89h1M29 91h1M32 98h1M23 105h1M2 106h1M36 114h1M27 116h1M33 118h1M18 121h1M7 128h1M14 132h1M22 132h1M31 132h1M22 133h1M32 134h1M21 140h1M0 153h1M1 173h1M1 182h1M17 182h1M21 190h1M23 193h1M32 202h1M17 206h1"/>
<path stroke="#dc7864" d="M4 2h1M21 19h1M32 34h1M14 42h1M22 57h1M34 63h1M29 77h1M33 88h1M34 90h1M1 96h1M14 113h1M2 127h1M34 127h1M18 130h1"/>
<path stroke="#dce6f0" d="M28 0h1M27 1h1M32 1h1M27 3h1M31 3h1M3 5h1M18 5h2M16 7h1M11 10h1M1 11h1M3 11h1M11 11h1M19 11h1M13 18h1M24 22h1M3 23h1M11 23h1M28 23h1M17 25h1M11 26h1M18 27h2M12 28h1M11 29h1M30 30h1M16 32h1M20 32h1M19 33h1M1 36h1M2 37h1M3 39h1M31 41h1M13 45h1M3 46h1M11 47h1M8 51h1M11 53h1M18 53h1M16 54h1M12 55h1M3 59h1M1 60h1M20 60h1M17 63h1M13 64h1M0 66h1M12 66h1M7 68h1M19 70h1M11 75h1M12 76h2M11 77h2M5 79h1M13 79h1M17 80h1M24 80h1M0 81h1M17 87h1M19 87h1M5 90h1M11 91h1M24 93h1M29 93h1M12 94h1M16 94h1M24 97h1M0 98h1M18 106h1M12 107h1M3 109h1M0 110h1M6 111h1M12 111h1M11 112h1M6 113h1M11 113h1M18 116h1M4 117h1M24 117h1M29 118h1M30 119h1M7 120h1M13 121h1M5 124h1M0 125h1M8 131h1M16 132h1M28 132h2M11 133h1M16 133h1M25 133h1M33 133h1M25 134h1M3 135h1M6 135h1M8 136h1M22 136h1M25 136h1M5 140h1M18 143h1M28 143h1M24 144h1M25 147h1M28 148h2M0 149h1M5 149h1M19 149h1M11 150h1M25 151h2M25 152h1M31 152h1M32 153h1M34 153h1M5 154h1M19 154h1M24 154h1M20 155h1M11 157h1M11 158h1M19 158h1M5 161h1M30 161h1M4 162h1M29 162h1M17 164h1M4 165h1M2 166h1M5 167h1M18 167h1M35 167h1M5 168h1M5 169h2M3 170h1M0 174h1M12 174h2M6 175h1M12 176h1M25 177h1M13 178h1M33 178h1M12 179h1M28 179h1M31 179h1M28 180h1M35 180h1M31 181h1M16 182h1M18 182h1M4 184h1M34 184h1M24 185h1M18 188h1M5 189h1M19 189h1M24 189h1M5 191h1M11 191h1M24 192h1M8 193h1M4 194h1M26 194h1M35 194h1M33 197h1M3 198h1M12 198h1M0 199h1M7 200h1M12 200h1M16 200h1M33 200h1M0 201h1M25 202h1M17 203h1M12 205h1M35 206h1M7 207h1M5 208h1M16 211h1M18 211h1"/>
<path stroke="#dcf0f0" d="M34 0h2M30 4h1M17 5h1M20 5h1M12 8h1M17 8h2M20 8h1M20 9h1M17 10h1M20 10h1M3 15h1M15 15h1M15 17h1M0 18h1M2 18h1M18 22h1M20 23h1M3 25h1M7 25h1M19 26h1M0 30h1M13 30h1M3 32h1M12 32h1M17 32h2M1 39h1M11 44h1M2 47h1M2 49h1M3 55h1M17 55h1M25 56h1M17 59h1M24 64h1M1 65h1M26 69h1M3 77h1M11 78h1M7 79h1M28 79h1M0 80h1M11 84h1M13 84h1M0 86h1M12 87h1M0 88h1M11 88h1M0 89h1M11 89h1M13 89h1M19 89h1M12 90h1M26 90h1M13 93h1M17 97h1M3 98h1M15 104h1M12 106h1M0 107h1M18 107h1M18 110h1M22 110h1M6 112h1M5 114h1M7 119h1M29 119h1M4 120h1M20 120h1M4 124h1M12 124h1M25 130h1M28 131h1M33 134h1M0 136h1M8 137h1M0 139h1M12 140h1M18 141h1M8 142h1M15 142h1M0 143h1M30 144h1M0 145h1M29 149h1M11 151h1M17 152h1M29 155h1M0 156h1M25 157h1M33 162h1M12 164h1M23 164h1M33 164h1M17 165h1M24 166h1M35 166h1M36 168h1M31 174h1M27 176h1M10 177h1M20 178h1M13 179h1M24 182h1M3 184h1M18 184h1M18 185h1M20 187h1M28 187h1M35 191h1M35 192h1M35 193h1M3 203h1M7 204h1M28 207h1M13 208h1M20 211h1"/>
<path stroke="#e67864" d="M31 8h1M31 19h1M33 21h1M35 21h1M27 25h1M21 26h1M33 27h1M27 28h1M22 32h1M30 39h1M14 41h1M32 51h2M26 52h1M34 54h1M34 55h1M22 59h1M22 66h1M27 69h1M21 72h1M36 72h1M36 81h1M14 83h1M23 87h1M35 91h1M30 96h1M31 97h1M33 102h1M22 104h1M32 105h2M32 109h1M23 111h1M35 112h1M32 114h1M17 115h1M32 116h1M34 117h1M33 119h1M14 121h1M1 134h1M32 136h1M35 149h1M22 155h1M26 155h1M25 160h1M14 172h1M22 188h1M1 190h1M17 205h1M1 207h1M21 207h1M26 207h1"/>
<path stroke="#e68264" d="M5 0h1M2 1h1M10 1h1M12 2h1M29 2h1M1 3h1M7 3h1M31 5h1M14 6h1M30 11h1M14 13h1M35 14h1M22 17h1M33 18h1M30 19h1M32 19h1M33 20h1M25 23h1M26 24h1M31 26h1M26 32h1M34 33h1M31 35h1M31 36h1M28 39h1M30 40h1M29 41h1M32 42h1M14 47h1M21 47h1M36 48h1M20 50h1M14 63h1M21 63h1M22 65h1M36 66h1M34 67h1M36 67h1M22 68h1M14 71h1M3 76h1M21 76h1M33 76h1M36 76h1M1 78h1M20 78h1M35 79h1M31 82h1M30 84h1M1 90h1M29 90h1M27 95h1M30 95h1M35 96h1M22 97h1M34 97h1M27 98h1M31 98h1M35 98h1M1 99h1M31 103h1M20 104h1M2 105h1M22 106h1M31 113h1M33 113h1M27 115h1M36 116h1M31 117h1M36 118h1M34 119h1M14 122h1M20 122h1M27 122h1M27 125h1M28 126h1M27 127h1M29 129h1M0 130h1M23 131h1M32 132h1M20 134h1M35 135h1M14 137h1M19 137h1M22 139h1M31 141h1M2 145h1M22 148h1M1 152h1M36 153h1M1 154h1M23 155h1M22 157h2M23 158h1M21 159h1M25 159h1M32 159h1M32 161h1M31 162h1M0 164h1M14 165h1M0 169h1M22 170h1M34 174h1M32 181h1M36 184h1M3 191h1M1 192h1M17 193h1M26 208h1"/>
<path stroke="#e6826e" d="M9 1h1M31 9h1M28 16h1M20 20h1M29 20h1M25 36h1M28 38h1M22 39h1M26 41h1M19 47h1M27 52h1M22 64h1M27 70h1M21 77h1M30 77h1M30 82h1M30 91h1M28 101h1M27 102h1M14 112h1M7 113h1M30 113h1M18 119h1M21 126h1M1 128h1M20 129h1M18 135h1M3 141h1M8 144h1M35 146h1M27 151h1M36 154h1M1 156h1M14 160h1M27 161h1M0 163h1M27 171h1M3 188h1"/>
<path stroke="#e68c6e" d="M2 4h1M12 4h1M23 6h1M27 6h1M31 10h2M34 10h1M30 12h1M33 13h1M29 14h1M32 18h1M32 20h1M22 26h1M25 26h1M34 27h2M27 30h1M33 30h1M2 32h1M14 35h1M25 35h1M21 36h1M23 38h1M14 40h1M14 43h1M23 43h1M34 44h1M20 49h1M31 50h1M13 51h1M26 53h1M31 54h1M36 56h1M21 57h1M31 62h1M35 65h1M28 66h1M21 69h2M30 70h1M32 70h1M28 72h1M28 74h1M21 75h1M33 75h1M1 79h1M33 79h1M23 80h1M2 81h1M2 82h1M23 82h1M33 86h1M22 87h1M22 89h1M28 91h1M31 91h1M22 92h1M34 93h1M33 94h1M26 95h1M29 97h1M28 102h1M21 103h1M23 103h1M19 107h1M23 107h1M27 107h1M35 108h1M36 109h1M34 110h1M2 112h1M2 113h1M1 114h1M22 115h1M17 116h1M31 116h1M1 121h1M22 121h1M1 122h1M32 122h1M34 122h1M31 123h1M0 127h1M35 127h1M2 128h1M17 129h1M26 130h1M14 134h1M35 136h1M21 138h1M31 139h1M36 141h1M1 144h1M14 145h1M1 147h1M35 148h1M0 151h1M7 152h1M22 152h1M21 156h1M22 160h1M27 162h1M23 163h1M0 170h2M21 170h1M0 171h1M1 174h1M1 179h1M22 179h1M0 181h1M22 183h1M32 185h1M22 186h1M14 189h1M21 189h1M23 190h1M17 191h1M22 193h1M22 198h1M27 200h1M2 201h2M2 207h1M27 207h1M32 208h1"/>
<path stroke="#e6f0f0" d="M29 1h1M27 4h1M1 5h2M12 6h1M17 6h1M25 6h1M1 8h1M19 8h1M16 11h1M27 11h1M29 12h1M0 13h1M17 13h1M23 13h1M12 14h1M20 14h1M26 15h1M28 15h1M0 16h1M2 16h1M18 16h1M16 17h1M1 18h1M3 19h1M15 19h1M18 20h1M13 21h1M20 21h1M8 23h1M18 24h1M2 25h1M13 25h1M20 25h1M33 25h1M17 26h1M24 27h1M13 28h1M30 28h1M3 29h1M12 30h1M19 30h1M1 31h1M5 34h1M19 34h1M1 35h1M11 36h1M19 37h1M20 38h1M20 40h1M32 40h1M11 41h1M24 41h1M4 43h1M12 43h1M27 43h1M5 44h1M11 46h1M0 47h1M0 48h1M0 49h1M12 49h1M12 50h1M3 51h1M11 51h1M17 51h2M20 51h1M16 53h1M5 54h1M19 54h1M1 55h1M17 56h1M17 57h1M0 58h1M5 58h1M13 58h1M1 59h1M7 59h1M26 59h1M2 60h2M11 62h1M21 62h1M24 62h1M0 64h3M18 64h1M11 68h1M13 68h1M18 68h1M14 69h1M13 72h1M7 73h1M19 73h1M32 73h1M0 75h1M17 75h1M17 76h1M20 76h1M3 79h1M7 80h1M11 80h1M13 80h1M16 80h1M13 81h1M26 81h1M20 82h1M25 82h1M13 85h1M24 85h1M3 87h1M11 87h1M12 89h1M17 89h1M11 90h1M19 90h1M13 91h1M17 92h2M0 94h1M1 95h1M11 95h1M13 95h1M17 95h1M0 96h1M20 96h1M19 99h1M26 99h1M3 100h1M18 100h1M5 103h1M25 103h1M0 104h1M11 104h1M16 104h2M19 104h1M8 105h1M17 105h1M7 106h1M13 106h1M13 107h1M25 107h1M3 108h1M16 108h1M3 110h1M20 110h1M19 111h1M3 112h1M24 114h1M3 115h1M26 115h1M12 117h1M20 117h1M16 118h1M20 119h1M26 119h1M36 119h1M0 120h1M32 120h1M4 121h1M7 121h1M19 121h1M30 121h1M3 122h1M26 122h1M3 123h1M7 123h1M0 124h1M25 124h1M17 128h1M36 128h1M12 129h1M15 129h1M25 129h1M27 130h1M33 130h1M8 132h1M11 132h3M26 132h1M29 133h1M5 134h1M8 134h1M0 135h1M25 135h1M29 136h1M29 137h1M2 138h1M2 140h1M7 140h1M2 141h1M19 142h1M11 144h2M18 144h1M30 145h1M34 146h1M0 147h1M11 147h2M25 148h1M11 149h1M28 149h1M34 149h1M19 150h1M30 150h1M3 151h1M12 151h1M18 151h1M20 151h1M3 152h1M8 153h1M12 153h1M17 153h1M34 154h1M12 156h1M24 157h1M35 157h1M28 158h2M34 158h1M4 159h1M28 160h1M3 161h1M6 161h1M8 162h1M13 162h1M24 162h1M30 162h1M25 163h1M11 164h1M3 165h1M5 165h1M18 165h1M12 167h1M34 168h1M30 169h1M34 169h1M36 169h1M8 170h1M29 170h1M36 170h1M6 171h1M8 171h1M13 171h1M32 171h2M35 171h1M7 172h1M36 172h1M8 173h1M30 174h1M2 175h1M8 175h1M18 175h1M23 175h1M25 175h1M27 175h1M8 177h1M11 177h1M17 177h1M5 178h1M35 178h2M4 179h3M25 179h1M27 179h1M34 179h2M27 180h1M34 180h1M2 181h1M18 181h1M35 181h1M36 182h1M2 183h1M4 183h1M28 183h1M5 184h1M31 184h1M13 185h1M25 185h1M33 185h2M25 186h1M31 186h1M10 188h1M13 189h1M31 189h1M0 190h1M8 191h1M14 191h1M0 192h1M14 192h1M34 192h1M24 193h1M31 193h1M36 193h1M33 194h1M5 195h1M12 195h1M8 196h1M10 196h1M29 197h1M0 198h1M10 198h1M12 199h1M19 199h1M31 199h1M11 200h1M32 200h1M4 201h1M28 201h1M33 201h2M33 202h1M6 204h1M17 204h1M31 204h1M5 205h2M8 205h1M31 205h1M33 205h1M35 205h1M7 206h1M0 207h1M28 208h1M28 209h1M35 211h1"/>
<path stroke="#f08c6e" d="M29 26h1M23 27h1M22 81h1M23 106h1M32 121h1M22 162h1M2 179h1M2 188h1"/>
<path stroke="#f0966e" d="M27 5h1M22 22h1M2 31h1M14 58h1M25 78h1M26 85h1M32 86h1M2 150h1M14 152h1"/>
<path stroke="#f09678" d="M10 0h1M13 1h1M1 2h1M7 2h1M32 5h1M29 6h1M22 8h1M30 9h1M27 16h1M32 16h1M27 20h1M29 21h2M32 24h1M23 26h1M21 28h1M32 28h1M32 29h1M27 31h1M27 32h1M33 33h1M32 36h1M34 36h1M14 38h1M21 38h1M26 38h1M33 39h1M23 41h1M14 44h1M21 45h1M14 48h1M14 49h1M28 49h1M26 51h1M28 51h1M35 53h1M23 54h1M32 55h1M20 57h1M33 63h1M35 63h1M20 67h1M20 68h1M31 69h2M22 70h1M28 73h1M19 74h1M1 77h1M35 81h1M31 84h1M34 84h2M21 86h1M1 88h1M32 90h1M26 91h1M28 94h1M34 94h1M22 95h1M29 95h1M23 96h1M36 96h1M2 97h1M21 97h1M23 98h1M21 99h1M14 101h1M30 102h1M29 103h1M36 107h1M14 108h1M33 108h1M25 109h1M23 110h1M31 111h1M34 111h1M17 112h1M33 114h1M30 115h1M32 115h1M14 116h1M22 124h1M21 125h1M24 126h1M30 127h1M0 128h1M19 128h1M1 130h1M19 131h1M35 131h1M7 134h1M35 134h1M23 135h1M36 137h1M27 139h1M36 140h1M27 142h1M35 145h1M21 146h1M36 146h1M1 148h1M17 148h1M17 150h1M35 153h1M35 154h1M2 159h1M23 160h1M36 164h1M7 166h1M22 166h1M1 172h1M22 172h1M27 172h1M20 176h1M34 176h1M14 180h1M22 181h1M21 183h1M2 186h1M27 188h1M17 192h1M3 193h1M3 194h1M27 196h1M23 198h1M22 201h1M3 202h1M1 211h1M7 211h1"/>
<path stroke="#f0a078" d="M11 0h1M12 3h1M21 7h1M27 7h1M28 11h1M22 25h1M35 25h1M28 34h1M29 39h1M1 51h1M23 55h1M29 56h1M26 61h1M27 63h1M27 68h1M0 72h1M0 74h1M1 75h1M23 77h1M29 83h1M28 87h1M1 89h1M28 93h1M1 98h1M14 99h1M35 107h1M31 108h1M23 109h1M1 110h1M14 111h1M31 114h1M31 122h1M31 124h1M14 126h1M23 132h1M19 133h1M34 136h1M29 139h1M4 142h1M14 146h1M3 147h1M20 147h1M2 148h1M2 149h1M36 151h1M0 165h1M17 173h1M35 182h1M22 184h1M17 185h1M3 189h1M32 191h1M32 193h1M20 199h1M14 207h1"/>
<path stroke="#f0a082" d="M6 0h1M13 0h1M13 3h1M1 4h1M26 11h1M30 16h1M34 17h1M20 19h1M25 19h1M34 22h1M22 23h1M32 23h1M27 26h1M25 30h1M34 35h1M28 40h1M22 50h1M22 51h2M27 51h1M31 52h1M36 52h1M26 55h1M28 56h1M30 57h1M25 62h1M26 63h1M20 65h1M20 70h1M23 71h1M36 71h1M32 75h1M27 76h2M31 76h1M14 78h1M22 79h1M34 79h1M22 80h1M22 84h1M18 85h1M21 88h1M36 89h1M21 91h1M25 93h1M25 95h1M2 96h1M25 96h1M20 101h1M36 101h1M1 105h1M28 105h1M7 111h1M17 111h1M21 111h1M7 112h1M32 112h1M19 114h1M33 115h1M17 117h1M35 117h1M23 119h1M29 122h1M1 123h1M21 123h1M1 125h1M2 129h1M17 130h1M7 131h1M35 133h1M34 134h1M1 136h1M30 136h1M30 139h1M8 145h1M2 147h1M1 149h1M14 151h1M7 153h1M14 156h1M36 157h1M32 158h1M22 164h1M21 166h1M26 171h1M36 175h1M22 176h1M14 179h1M26 184h1M14 190h1M25 194h1M2 198h1M34 199h1M0 211h1"/>
<path stroke="#f0aa82" d="M28 4h1M23 12h1M27 15h1M20 18h1M34 21h1M14 22h1M33 22h1M21 23h1M30 32h1M33 32h1M26 33h1M22 35h1M23 37h1M26 39h1M29 42h1M27 47h1M30 49h1M14 50h1M30 51h1M36 51h1M30 52h1M29 53h1M21 56h1M12 61h1M19 63h1M20 64h1M26 76h1M28 77h1M19 78h1M19 83h1M21 85h1M23 91h1M32 94h1M30 97h1M18 103h1M25 106h1M1 109h1M31 110h1M22 114h1M23 115h1M19 123h1M14 125h1M17 125h1M36 127h1M26 128h1M34 130h1M14 131h1M19 136h1M18 137h1M35 137h1M30 138h1M20 140h1M3 142h1M17 142h1M3 144h1M36 144h1M16 148h1M7 149h1M16 149h1M23 150h1M1 151h1M1 171h1M32 176h1M32 177h1M22 178h1M21 180h1M32 182h2M17 184h1M26 185h1M11 190h1M23 194h1M22 199h1"/>
<path stroke="#f0aa8c" d="M0 3h1M9 4h1M21 12h1M26 16h1M30 18h1M25 20h1M29 23h1M33 26h1M14 28h1M33 34h1M26 47h1M19 50h1M36 55h1M29 66h1M31 85h1M28 89h1M28 98h1M36 117h1M2 120h1M31 129h1M20 130h1M30 133h1M22 135h1M25 139h1M1 140h1M20 141h1M30 141h1M35 143h1M18 147h1M21 158h1M22 167h1M23 172h1M26 204h1"/>
<path stroke="#f0f0f0" d="M25 0h1M25 5h1M13 6h1M16 19h1M17 31h1M32 39h1M0 54h1M0 59h1M3 82h1M16 84h1M2 89h1M29 110h1M20 112h1M24 116h1M5 121h1M29 123h1M27 131h1M23 136h1M28 151h1M12 154h1M17 154h1M28 159h1M34 159h1M19 161h1M19 162h1M3 166h1M5 171h1M9 188h1M35 189h1M24 191h1M0 193h1M0 203h1M14 206h1"/>
<path stroke="#f0f0fa" d="M31 2h1M26 3h1M20 6h1M13 7h1M11 9h1M19 10h1M2 11h1M26 14h1M1 15h1M13 15h1M17 15h1M19 15h2M1 16h1M15 16h1M3 18h1M16 18h1M2 20h1M16 20h1M26 22h1M2 24h1M13 24h1M14 26h1M24 26h1M2 27h1M24 28h2M30 33h1M17 34h1M4 35h1M18 35h1M11 37h1M20 37h1M3 38h1M24 38h1M13 39h1M1 40h1M11 40h1M17 40h1M24 42h1M3 45h1M26 46h2M1 47h1M17 47h1M26 48h1M23 49h1M26 49h1M4 52h1M7 52h1M17 52h1M20 55h1M1 57h1M3 57h1M26 58h1M5 59h1M13 59h1M19 60h1M25 60h1M0 61h1M20 63h1M24 69h1M26 70h1M31 73h1M17 74h1M19 75h1M11 76h1M11 79h1M25 80h1M3 81h1M3 83h1M7 84h1M20 84h1M27 84h1M2 86h1M17 86h1M3 88h1M18 89h1M13 94h1M19 94h1M3 95h2M20 99h1M16 105h1M5 107h1M20 107h1M29 108h1M0 109h1M26 109h1M0 112h1M18 112h1M3 113h1M3 116h1M7 116h1M16 119h2M25 119h1M16 120h1M36 120h1M25 121h1M16 122h1M15 124h1M24 124h1M29 124h1M16 125h1M20 125h1M36 125h1M3 126h1M25 126h1M33 126h1M33 127h1M33 129h1M26 133h1M13 135h1M3 136h1M7 138h1M27 138h1M24 139h1M33 139h1M24 140h1M20 142h1M28 142h1M32 142h1M26 143h2M20 144h1M34 145h1M3 146h1M13 146h1M5 147h1M19 147h1M33 147h1M26 149h1M25 150h2M28 152h1M20 153h1M31 154h1M3 155h1M13 155h1M30 155h1M4 156h1M24 156h1M31 156h1M6 158h1M24 158h1M12 159h2M24 159h1M8 160h1M19 160h1M31 160h1M12 161h1M20 161h1M34 161h1M0 162h1M3 162h1M3 163h1M11 163h1M35 163h1M1 165h1M8 165h1M17 166h1M2 167h2M33 168h1M19 169h1M29 169h1M7 170h1M19 170h1M35 170h1M24 171h1M12 172h1M18 172h1M25 172h1M35 172h1M19 173h1M2 174h1M17 174h1M19 174h1M0 175h1M19 175h1M33 175h1M11 176h1M4 178h1M12 181h2M19 181h1M12 182h1M12 183h1M1 184h1M35 184h1M35 185h2M11 186h1M18 186h1M32 186h1M36 186h1M25 187h1M35 187h2M0 188h1M11 188h1M21 188h1M12 190h1M19 190h1M26 190h2M7 191h1M18 192h1M36 192h1M20 193h1M34 193h1M3 195h1M0 196h1M20 196h1M11 199h1M23 199h1M1 200h1M3 200h1M5 200h1M1 201h1M17 201h1M11 202h2M25 206h1M31 206h1M12 207h1M12 210h1M14 210h1M28 210h1M31 211h1"/>
<path stroke="#f0fafa" d="M24 15h1M3 16h1M1 26h1M11 45h1M17 45h1M24 46h1M1 48h2M23 48h1M0 53h1M25 58h1M35 71h1M20 72h1M24 76h1M5 78h1M3 91h1M1 92h1M0 103h1M17 106h1M0 114h1M25 117h1M28 117h1M19 118h1M19 120h1M36 123h1M20 127h1M5 128h1M29 131h1M23 134h1M27 134h1M36 135h1M7 137h1M17 138h1M4 145h1M8 146h1M30 146h1M0 150h1M34 150h1M2 151h1M2 152h1M5 152h1M29 152h1M19 153h1M8 154h1M2 155h1M8 158h1M13 161h1M18 163h1M23 176h1M25 181h1M2 184h1M7 185h1M3 186h1M13 186h1M35 186h1M14 188h1M11 189h1M25 190h1M7 192h1M31 192h1M7 194h1M23 196h1M12 201h1M24 209h1M19 211h1"/>
<path stroke="#faaa8c" d="M33 5h1M31 6h1M23 11h1M21 13h1M25 13h1M28 21h1M30 24h1M25 31h1M21 40h1M33 43h1M19 44h1M20 47h1M27 48h1M29 48h1M25 51h1M32 56h1M36 58h1M28 59h1M27 61h1M23 63h1M27 64h1M31 65h1M2 67h1M23 70h1M25 70h1M33 72h1M29 76h1M14 79h1M1 80h1M30 80h1M32 81h1M26 88h1M32 89h1M1 91h1M34 91h1M29 92h1M34 95h1M26 97h1M34 99h1M25 100h1M23 101h1M27 101h1M21 106h1M23 108h1M27 108h1M30 110h1M17 114h1M34 114h1M1 119h1M31 119h1M35 122h1M17 123h1M22 123h1M1 124h1M19 124h1M0 129h1M28 129h1M36 130h1M18 134h1M1 139h1M30 140h1M28 141h1M21 142h1M16 143h1M32 147h1M3 150h1M7 150h1M21 153h1M36 155h1M23 156h1M22 159h1M23 161h1M25 161h1M20 166h1M2 168h1M20 173h1M25 174h1M33 174h1M36 174h1M14 175h1M27 178h1M36 197h1M14 199h1M19 205h1M2 211h1M26 211h1"/>
<path stroke="#fab48c" d="M28 3h1M23 5h1M25 15h1M34 19h1M27 23h1M33 40h1M25 48h1M28 48h1M13 56h1M35 80h1M31 92h1M25 97h1M1 104h1M7 104h1M36 108h1M31 115h1M23 117h1M30 124h1M2 126h1M17 126h1M32 127h1M20 137h1M27 152h1M14 164h1M7 171h1M20 175h1M14 176h1M2 187h1M32 189h1M1 191h1M25 196h1M27 199h1M23 203h1"/>
<path stroke="#fab496" d="M28 2h1M22 9h1M22 10h1M2 13h1M2 14h1M20 16h1M29 16h1M14 25h1M26 26h1M31 27h1M26 28h1M25 29h1M27 29h1M28 33h2M21 34h1M29 35h1M17 36h1M26 40h1M33 41h2M20 43h1M33 44h1M25 45h1M21 46h1M23 50h1M21 53h1M36 53h1M30 54h1M20 58h2M29 58h1M22 60h1M28 61h1M13 62h1M22 62h1M30 64h1M29 65h1M2 66h1M25 66h1M21 67h1M1 68h1M33 69h1M1 71h1M21 71h1M2 73h1M30 73h1M25 74h2M2 75h1M22 75h1M0 77h1M18 78h1M20 79h1M21 80h1M21 81h1M2 83h1M26 83h2M35 83h1M31 89h1M14 90h1M23 97h1M2 98h1M22 98h1M25 99h1M1 101h1M18 101h1M29 102h1M32 103h2M28 106h1M33 107h1M2 108h1M14 109h1M2 110h1M19 110h1M21 110h1M21 112h1M32 113h1M25 114h1M28 114h1M30 114h1M2 116h1M18 117h1M2 118h1M17 118h1M23 118h1M21 119h1M31 121h1M14 123h1M27 123h1M2 124h1M14 124h1M27 126h1M36 126h1M28 127h1M27 129h1M29 130h1M0 132h2M19 132h1M7 133h1M14 138h1M19 138h1M23 140h1M32 140h3M34 141h2M1 142h1M35 142h1M1 143h1M17 143h1M21 144h1M1 145h1M21 145h1M33 145h1M7 147h1M14 147h1M21 147h1M7 148h1M20 148h1M23 148h1M21 149h1M14 150h1M18 150h1M35 150h1M7 154h1M22 154h2M18 155h1M14 158h1M22 158h1M3 160h1M31 161h1M34 163h1M28 164h1M34 166h1M0 168h1M31 169h1M2 172h1M32 174h1M14 177h1M33 177h1M0 178h1M3 178h1M21 179h1M1 183h1M26 183h1M14 185h1M23 186h1M22 192h1M19 194h1M20 195h1M22 196h1M22 200h1M34 200h1M23 201h1M27 201h1M14 202h1M28 203h1M31 203h1M27 204h1M0 206h1M3 207h1M14 208h1M19 208h1M21 208h1M2 209h1M32 209h1"/>
<path stroke="#fab4a0" d="M31 13h1M30 41h1M33 56h1M36 64h1M19 108h1M23 116h1M27 128h1M35 128h1M23 141h1"/>
<path stroke="#fabea0" d="M5 4h1M22 6h1M33 6h1M3 7h1M33 7h1M26 9h1M29 10h1M33 11h1M27 12h1M21 14h1M30 14h1M29 15h1M19 16h1M33 16h1M17 19h1M26 20h1M29 22h1M33 23h1M27 24h1M26 29h1M23 31h1M34 32h1M2 33h1M30 35h1M3 36h1M21 37h1M26 37h1M34 38h1M20 42h1M26 42h1M31 43h1M34 48h1M23 52h1M22 53h1M31 53h1M33 53h1M25 54h1M31 58h1M29 59h1M17 61h1M22 61h1M25 67h1M27 67h1M19 69h1M25 69h1M29 71h2M29 72h1M3 73h1M17 73h1M21 73h1M29 74h1M25 75h1M27 75h1M1 76h1M2 77h1M2 78h1M28 80h1M36 80h1M13 82h1M21 83h1M23 83h1M19 84h1M21 84h1M26 84h1M25 85h1M33 87h2M14 89h1M20 90h1M13 92h1M27 92h1M30 92h1M35 92h1M22 93h1M2 94h1M35 95h1M33 96h1M14 98h1M29 98h1M14 100h1M23 100h1M21 102h1M1 103h1M20 103h1M18 104h1M34 106h1M2 109h1M2 111h1M2 114h1M27 114h1M14 115h1M22 116h1M2 117h1M22 117h1M18 118h1M23 120h1M22 122h2M7 126h1M30 126h1M19 127h1M3 128h1M14 129h1M35 130h1M1 131h1M25 131h1M21 132h1M17 133h1M30 134h2M7 135h1M14 135h1M32 135h1M14 136h1M28 136h1M22 137h1M1 138h1M18 138h1M22 138h1M36 142h1M3 143h1M23 143h1M4 144h1M29 144h1M32 144h1M17 147h1M3 148h1M22 153h1M7 155h1M14 155h1M19 156h1M36 156h1M3 158h1M26 159h1M7 160h1M26 162h1M2 164h1M2 165h1M7 165h1M31 165h1M1 167h1M14 167h1M34 167h1M17 168h1M24 168h1M23 170h1M34 172h1M26 174h1M1 177h1M35 183h1M23 185h1M12 187h1M36 189h1M2 191h1M26 191h1M5 193h1M19 195h1M1 197h1M2 199h1M26 199h1M20 201h1M26 202h1M2 203h1M23 204h1M36 204h1M20 206h1M32 206h1M23 207h1M36 207h1M27 208h1M1 209h1M1 210h2M25 211h1M32 211h1"/>
<path stroke="#fabeaa" d="M24 14h1M31 15h1M22 16h1M2 21h1M34 24h1M2 30h1M28 32h1M27 37h1M30 38h1M2 41h1M21 41h1M31 44h1M33 45h1M35 50h1M33 62h1M25 71h1M32 76h1M28 81h1M32 87h1M14 88h1M30 93h1M2 95h1M35 97h1M17 99h1M22 99h1M3 103h1M33 110h1M17 113h1M0 119h1M21 124h1M32 128h1M30 129h1M31 130h1M36 134h1M34 135h1M18 136h1M7 142h1M32 146h1M27 149h1M19 155h1M7 161h1M27 169h1M27 181h1M22 182h1M20 183h1M6 184h1M27 184h1M21 186h1M22 187h1M36 188h1M20 205h1M17 210h1"/>
<path stroke="#fac8aa" d="M22 7h1M32 7h1M25 10h1M17 16h1M19 19h1M19 20h1M21 24h1M28 25h1M31 29h1M1 44h1M30 46h1M33 48h1M35 48h1M18 49h1M13 50h1M28 50h1M33 50h1M13 52h1M17 53h1M30 53h1M21 55h1M28 57h1M13 61h1M30 61h1M2 65h1M25 68h1M2 69h1M13 69h1M26 72h1M31 72h1M25 73h1M31 74h1M35 74h1M20 77h1M26 78h1M29 78h1M19 79h1M33 81h1M34 82h2M13 83h1M0 85h1M18 86h1M28 86h1M14 87h1M26 92h1M7 97h1M34 98h1M32 99h2M34 100h1M2 102h1M18 102h1M34 104h1M1 106h1M22 107h1M1 108h1M25 108h1M30 108h1M7 109h1M19 109h1M7 110h1M19 112h1M23 114h1M12 120h1M29 120h1M23 121h1M3 125h1M29 125h1M26 127h1M29 128h1M7 129h1M17 131h1M32 131h1M20 132h1M2 133h1M22 134h1M20 138h1M14 139h1M25 141h1M34 142h1M4 143h1M8 143h1M23 145h1M23 147h1M18 148h1M27 150h1M33 150h1M21 152h1M18 154h1M27 154h1M5 155h1M2 157h1M33 158h1M14 159h1M2 160h1M27 160h1M2 162h1M0 166h1M1 169h1M32 169h1M26 170h1M12 171h1M36 171h1M19 172h1M35 173h1M32 175h1M19 176h1M35 177h1M33 183h1M0 184h1M26 187h1M1 189h1M36 190h1M26 195h1M14 196h1M14 197h1M17 197h1M17 200h1M2 205h1M19 207h1M25 210h1"/>
<path stroke="#fac8b4" d="M0 2h1M5 2h1M2 3h1M27 9h1M31 12h1M34 15h1M26 17h1M33 24h1M20 29h1M26 31h1M1 32h1M22 33h1M27 33h1M28 37h1M11 38h1M25 40h1M27 40h1M17 43h1M19 45h1M28 45h1M29 51h1M36 54h1M2 56h1M19 58h1M21 64h1M23 64h1M27 66h1M31 66h1M21 70h1M29 70h1M2 76h1M23 78h1M18 79h1M23 79h1M30 81h1M30 83h1M34 89h1M28 90h1M30 90h1M7 94h1M25 98h1M21 100h1M21 101h1M19 102h1M25 102h1M19 103h1M33 104h1M0 106h1M22 112h1M32 117h1M12 119h1M31 120h1M17 121h1M29 121h1M26 126h1M26 129h1M2 135h1M21 137h1M30 137h1M20 139h1M14 140h1M28 140h1M33 141h1M36 143h1M3 149h1M17 149h1M22 149h1M35 151h1M17 155h1M34 157h1M20 162h1M25 162h1M7 167h1M25 169h1M2 170h1M17 170h1M27 170h1M14 171h1M23 173h1M26 178h1M7 184h1M19 184h1M20 186h1M17 190h1M3 192h1M26 193h1M27 194h1M23 195h1M26 200h1M32 205h1M25 208h1M17 211h1"/>
<path stroke="#fad2b4" d="M20 11h1M2 12h1M29 13h1M25 32h1M3 34h1M22 34h1M25 34h1M29 34h1M19 35h1M30 36h1M19 42h1M25 43h1M22 52h1M25 53h1M30 56h1M22 63h1M33 67h1M33 70h1M31 71h1M27 79h1M2 80h2M28 82h1M3 84h1M7 99h1M26 101h1M34 101h1M7 103h1M3 106h1M36 106h1M2 107h1M34 113h1M0 118h1M21 118h1M2 121h1M35 123h1M2 125h1M20 128h1M31 131h1M36 131h1M19 140h1M33 144h1M3 145h1M2 146h1M16 147h1M31 150h1M7 151h1M22 151h1M32 152h1M21 154h1M35 155h1M1 157h1M26 160h1M14 161h1M23 167h1M24 169h1M33 173h1M0 179h1M23 181h1M36 183h1M1 188h1M25 197h2M22 211h1"/>
<path stroke="#fad2be" d="M25 7h1M21 8h1M29 8h1M32 8h1M13 11h1M22 11h1M19 21h1M26 21h2M27 22h2M14 24h1M21 25h1M21 27h1M28 27h3M30 31h1M19 36h1M25 39h1M34 42h1M26 43h1M30 45h1M22 47h1M35 49h1M1 53h1M7 53h1M29 54h1M30 55h1M0 57h1M29 57h1M32 58h1M0 60h1M27 60h1M28 63h1M23 65h1M24 68h1M1 69h1M2 70h1M3 71h1M1 72h1M23 72h1M2 74h1M32 74h1M31 75h1M27 81h1M23 84h1M25 84h1M3 85h1M12 85h1M22 85h1M28 85h1M25 89h1M21 90h1M33 90h1M2 92h1M33 93h1M35 93h1M20 97h1M1 100h1M28 100h1M29 104h1M19 105h1M19 106h1M26 106h1M28 107h1M34 107h1M25 110h1M22 111h1M29 111h1M33 111h1M33 112h1M26 113h1M28 116h1M35 118h1M35 119h1M2 122h1M17 122h2M33 122h1M36 124h1M19 125h1M18 126h1M29 127h1M3 129h1M34 129h1M2 130h1M7 130h1M21 130h1M20 131h1M30 135h2M31 137h2M35 138h1M29 140h1M7 141h1M22 141h1M26 141h1M32 141h1M14 142h1M23 142h1M33 142h1M14 143h1M17 146h2M27 146h1M14 148h1M19 148h1M25 149h1M1 150h1M33 154h1M17 156h1M19 157h1M7 158h1M31 158h1M2 161h1M32 162h1M1 164h1M34 164h1M20 165h1M23 166h1M26 166h1M28 166h1M36 166h1M17 167h1M20 167h1M1 168h1M32 168h1M33 170h1M17 171h1M19 171h1M14 173h1M36 173h1M27 174h1M26 175h1M1 176h1M7 176h1M0 177h1M26 177h1M36 177h1M8 178h1M14 178h1M23 179h1M27 183h1M12 186h1M17 186h1M27 187h1M23 188h1M26 188h1M32 192h1M36 194h1M25 195h1M32 195h1M2 197h1M8 197h1M23 197h1M1 198h1M32 198h1M2 202h1M36 202h1M2 204h1M33 206h1M32 207h1M2 208h1M24 210h1M27 210h1"/>
<path stroke="#fadcbe" d="M34 18h1M31 37h1M2 63h1M13 70h1M17 120h1M33 121h1M1 135h1M32 138h1M26 164h1M14 168h1M11 171h1M33 176h1M32 194h1M14 201h1"/>
<path stroke="#fadcc8" d="M11 1h1M5 3h1M13 4h1M21 5h1M35 5h1M17 7h1M3 8h1M21 10h1M20 13h1M31 14h1M33 14h1M19 17h1M19 18h1M21 22h1M11 24h1M19 24h1M28 26h1M25 27h1M20 28h1M34 28h1M19 29h1M29 29h1M28 31h1M33 31h1M29 32h1M25 33h1M17 35h1M23 35h1M29 37h1M31 39h1M34 39h1M28 42h1M1 43h1M25 44h1M28 44h1M30 44h1M34 45h1M33 46h1M23 47h1M30 47h1M34 47h1M13 48h1M18 48h1M22 48h1M33 49h1M1 52h1M19 52h1M25 52h1M20 53h1M7 54h1M22 54h1M0 55h1M13 55h1M1 56h1M3 56h1M20 56h1M13 60h1M21 60h1M20 61h1M31 61h2M28 62h1M1 63h1M29 63h1M29 64h1M35 64h1M28 65h1M1 70h1M18 70h1M36 70h1M0 71h1M20 71h1M26 71h1M0 73h1M27 73h1M1 74h1M21 74h1M33 74h1M19 76h1M0 78h1M28 78h1M30 78h1M32 79h1M36 79h1M1 81h1M21 82h1M32 82h1M32 83h1M1 84h1M17 84h1M17 85h1M27 85h1M29 85h1M20 89h1M18 90h1M23 90h1M18 91h1M33 92h1M18 94h1M22 94h1M29 94h1M35 94h1M33 98h1M3 99h1M29 101h1M33 101h1M14 102h1M22 102h1M11 103h1M3 104h1M13 104h1M25 104h1M30 104h1M18 105h1M20 105h1M27 109h1M30 109h1M34 109h1M20 111h1M26 112h1M19 113h1M3 114h1M14 114h1M2 115h1M18 115h1M25 116h1M30 116h1M34 116h1M30 117h1M1 118h1M27 118h1M34 118h1M3 119h1M14 120h1M25 120h1M35 121h1M28 122h1M33 124h1M33 125h2M5 126h1M34 126h1M17 127h2M21 127h1M28 128h1M34 128h1M28 130h1M30 130h1M22 131h1M25 132h1M1 133h1M20 133h1M31 133h1M34 133h1M16 134h1M27 135h3M36 136h1M18 139h1M3 140h1M12 142h1M30 142h1M21 143h1M33 143h1M5 145h1M36 145h1M7 146h1M29 146h1M27 148h1M21 150h2M21 151h1M18 152h1M2 153h1M18 153h1M2 154h1M26 156h1M33 156h1M4 157h1M27 157h1M4 158h1M25 158h2M5 159h1M26 163h1M32 164h1M22 165h2M27 167h1M23 169h1M5 170h1M17 172h1M34 173h1M13 175h1M34 177h1M32 178h1M3 179h1M26 179h1M2 180h1M19 180h1M8 181h1M2 182h1M14 182h1M14 184h1M20 184h1M27 186h1M2 189h1M19 191h1M33 191h1M14 193h1M19 193h1M14 194h1M2 195h1M2 196h1M17 196h1M22 197h1M27 198h1M1 199h1M3 199h1M2 200h1M20 200h1M20 202h1M27 202h1M7 203h1M26 203h1M36 203h1M14 204h1M28 204h1M3 206h1M7 208h1M23 208h2M36 208h1M3 209h1M0 210h1M3 210h1M13 211h1"/>
<path stroke="#fadcd2" d="M17 14h1M29 19h1M20 24h1M30 25h1M23 33h1M20 36h1M33 38h1M28 41h1M32 41h1M20 46h1M28 46h1M13 49h1M27 50h1M34 50h1M28 54h1M23 56h1M13 57h1M26 60h1M25 65h1M3 72h1M7 72h1M18 77h1M17 78h1M27 78h1M25 79h1M30 79h1M18 84h1M33 84h1M29 86h1M27 87h1M25 88h1M29 88h1M31 90h1M27 91h1M5 93h1M5 94h1M2 99h1M20 100h1M22 100h1M17 103h1M34 103h1M12 105h1M34 105h1M7 108h1M22 109h1M23 113h1M27 113h1M2 123h1M3 127h1M26 131h1M2 132h1M28 133h1M28 134h1M7 139h1M22 140h1M29 141h1M34 143h1M17 144h1M31 146h1M34 147h1M23 149h1M16 150h1M23 151h1M5 153h1M27 153h1M28 154h1M7 156h1M7 157h1M20 158h1M1 159h1M34 165h1M26 167h1M26 169h1M18 173h1M18 176h1M26 176h1M23 178h1M31 178h1M33 181h1M8 182h1M0 187h1M11 187h1M27 189h1M31 190h1M26 192h1M7 197h1M25 199h1M25 200h1M28 202h1M1 203h1M32 203h1M23 205h1M34 205h1M19 206h1M20 209h1M32 210h1M28 211h1"/>
<path stroke="#fae6d2" d="M3 0h1M3 2h1M13 2h1M29 3h1M14 5h1M11 7h1M20 7h1M11 8h1M27 8h1M32 14h1M20 17h1M1 20h1M21 21h1M19 23h1M1 24h1M34 25h1M26 27h1M34 29h1M26 30h1M21 33h1M13 34h1M25 38h1M27 39h1M2 40h1M27 42h1M7 43h1M34 43h1M27 44h1M29 44h1M20 45h1M26 45h1M13 46h1M19 46h1M33 47h1M35 47h1M17 49h1M20 52h1M29 52h1M21 54h1M19 57h1M27 57h1M32 57h1M2 58h1M27 58h1M1 61h1M19 61h1M33 61h1M19 62h1M27 62h1M29 62h1M28 64h1M27 65h1M33 68h1M7 70h1M18 71h1M27 71h1M17 72h1M27 72h1M1 73h1M20 73h1M5 75h1M34 75h1M26 79h1M14 82h1M17 82h1M17 83h1M33 83h1M19 85h2M19 86h1M3 89h1M21 89h1M26 89h1M33 89h1M7 91h1M20 91h1M25 91h1M27 93h1M7 98h1M33 100h1M20 102h1M23 102h1M34 102h1M30 103h1M31 104h1M3 105h1M30 107h2M17 110h1M26 110h1M1 111h1M3 111h1M25 111h1M27 112h1M3 117h1M21 117h1M14 119h1M33 120h1M12 121h1M25 122h1M35 124h1M32 129h1M14 130h1M30 131h1M7 132h1M23 133h1M12 134h1M17 135h1M2 136h1M20 136h1M1 137h1M34 139h2M25 140h1M1 141h1M12 143h1M16 145h1M27 145h1M27 147h1M11 148h1M14 149h1M2 156h1M20 156h1M35 156h1M1 158h1M3 159h1M31 159h1M20 160h1M7 163h1M33 163h1M18 164h1M36 167h1M25 168h1M27 168h2M14 170h1M24 170h2M31 170h1M25 171h1M2 173h1M25 173h1M23 174h2M36 176h1M36 179h1M22 180h1M31 185h1M1 187h1M23 187h1M12 188h1M23 189h1M26 189h1M5 192h1M2 194h1M14 195h1M27 195h1M0 197h1M14 198h1M14 200h1M23 200h1M1 202h1M17 202h1M33 203h1M1 204h1M8 204h1M20 204h1M17 207h1M23 211h1M33 211h1"/>
<path stroke="#fae6dc" d="M3 1h1M2 2h1M21 6h1M29 7h1M26 8h1M3 9h1M29 11h1M0 14h2M25 14h1M28 14h1M34 14h1M0 15h1M2 15h1M32 15h1M22 21h1M17 27h1M20 27h1M31 28h1M30 29h1M28 30h1M31 30h1M21 32h1M20 34h1M26 34h1M21 35h1M33 36h1M1 38h1M31 38h2M18 44h1M20 44h1M26 44h1M2 45h1M27 45h1M1 46h2M18 46h1M28 47h1M1 49h1M34 49h1M17 50h1M28 53h1M20 54h1M27 55h1M31 55h1M27 56h1M1 58h1M2 59h1M21 61h1M12 62h1M25 63h1M19 64h1M26 64h1M26 65h1M18 66h1M24 67h1M29 67h1M19 68h1M7 69h1M12 70h1M33 71h2M12 72h1M32 72h1M20 75h1M29 75h1M0 76h1M34 76h1M13 77h1M29 79h1M33 80h1M17 81h1M1 82h1M16 82h1M29 82h1M33 82h1M1 83h1M18 83h1M20 83h1M25 83h1M28 83h1M25 87h1M18 88h1M34 88h1M0 90h1M2 91h1M19 91h1M5 92h1M2 93h1M7 93h1M19 93h1M4 94h1M25 94h1M0 95h1M18 95h1M17 96h1M33 97h1M19 98h1M26 98h1M29 99h2M25 101h1M1 102h1M13 103h1M3 107h1M22 108h1M17 109h1M31 109h1M27 110h1M29 112h1M0 113h1M18 113h1M22 113h1M20 114h2M1 115h1M19 115h1M25 115h1M21 116h1M3 118h1M32 118h1M28 119h1M35 120h1M0 122h1M20 123h1M26 125h1M30 125h1M24 128h2M3 130h1M2 131h1M33 131h1M17 132h1M30 132h1M34 132h1M12 133h1M36 133h1M20 135h1M33 136h1M28 137h1M3 138h1M33 138h1M3 139h1M23 139h1M26 139h1M28 139h1M26 140h1M5 144h1M1 146h1M19 146h2M33 146h1M31 147h1M31 148h2M31 149h1M23 153h1M0 155h1M31 155h1M33 155h1M3 156h1M18 156h1M30 156h1M32 156h1M2 158h1M27 158h1M33 159h1M6 160h1M33 161h1M7 162h1M14 162h1M28 162h1M1 163h1M20 163h1M4 164h1M27 165h1M35 165h1M27 166h1M0 167h1M28 167h1M33 167h1M26 168h1M29 168h1M33 169h1M32 170h1M2 171h1M29 171h1M34 171h1M13 172h1M20 172h1M33 172h1M13 173h1M26 173h1M14 174h1M1 175h1M7 175h1M0 176h1M35 176h1M2 177h1M18 177h2M23 177h1M31 177h1M17 180h1M26 181h1M34 181h1M19 182h1M14 183h1M2 185h2M20 185h1M24 186h1M17 188h1M19 188h2M12 189h1M32 190h1M20 191h1M27 191h1M31 191h1M34 191h1M19 192h2M2 193h1M25 193h1M34 194h1M34 195h1M1 196h1M7 196h1M26 196h1M34 196h1M36 196h1M25 198h1M33 198h1M17 199h1M16 201h1M32 201h1M36 201h1M7 202h1M23 202h1M8 203h1M0 208h1M17 208h1M20 208h1M14 209h1M19 209h1M25 209h1M27 209h1M7 210h1M19 210h2M27 211h1M36 211h1"/>
<path stroke="#fae6e6" d="M26 19h1M19 22h1M26 23h1M3 33h1M1 34h1M1 54h1M17 54h1M19 59h1M17 62h1M25 64h1M3 66h1M3 67h1M22 82h1M11 86h1M27 86h1M2 88h1M20 92h1M20 108h1M27 111h1M18 114h1M22 118h1M5 122h1M19 126h1M24 127h1M5 139h1M19 141h1M32 145h1M33 149h1M17 157h1M33 157h1M27 159h1M36 162h1M19 167h1M18 168h1M17 179h1M19 186h1M14 187h1M32 188h1M3 190h1M36 199h1M7 209h1"/>
<path stroke="#faf0e6" d="M28 1h1M29 4h1M12 7h1M16 9h1M19 13h1M2 17h1M13 17h1M26 18h1M29 18h1M17 20h1M32 21h1M2 23h1M13 23h1M19 25h1M29 30h1M3 31h1M24 31h1M30 34h1M29 36h1M25 37h1M30 37h1M27 38h1M20 39h1M1 41h1M1 42h1M25 42h1M28 43h1M1 45h1M34 46h1M18 50h1M0 52h1M11 52h1M19 53h1M2 55h1M31 56h1M2 57h1M25 57h2M11 58h1M29 61h1M2 62h1M18 62h1M30 62h1M12 63h1M12 65h1M18 65h2M14 66h1M17 66h1M19 66h1M26 67h1M0 68h1M3 68h1M13 71h1M19 72h1M30 72h1M35 72h1M34 73h1M3 74h1M20 74h1M3 75h1M5 76h1M25 76h1M19 77h1M34 78h1M2 79h1M19 80h1M27 80h1M14 81h1M26 82h1M3 86h1M18 87h1M30 89h1M2 90h1M13 90h1M25 90h1M27 90h1M16 91h1M11 92h1M25 92h1M1 93h1M17 94h1M27 94h1M7 95h1M33 95h1M7 96h1M20 98h1M18 99h1M19 100h1M22 101h1M26 102h1M16 103h1M11 105h1M29 105h1M31 105h1M30 106h1M32 106h2M17 107h1M20 109h1M25 112h1M21 113h1M25 113h1M21 115h1M28 115h1M13 116h1M0 117h1M14 118h1M30 118h1M3 120h1M5 120h1M30 120h1M0 121h1M20 121h1M7 122h1M36 122h1M5 123h1M17 124h1M26 124h1M29 126h1M12 128h1M36 129h1M12 130h1M32 130h1M21 131h1M3 132h1M27 132h1M31 136h1M2 137h1M35 140h1M14 141h1M13 142h1M16 142h1M5 143h1M29 143h2M32 143h1M16 144h1M27 144h1M17 145h1M33 148h1M20 149h1M32 149h1M16 151h2M31 151h1M11 152h1M35 152h1M26 153h1M1 155h1M5 156h1M34 156h1M3 157h1M18 157h1M20 157h1M13 158h1M1 160h1M26 161h1M36 161h1M1 162h1M5 162h1M14 163h1M22 163h1M3 164h1M8 164h1M20 164h1M27 164h1M32 165h1M1 166h1M19 166h1M32 166h1M31 167h1M7 168h1M31 168h1M7 169h1M14 169h1M17 169h1M28 169h1M3 173h1M35 174h1M2 176h1M27 177h1M8 179h1M19 179h1M32 179h1M3 180h1M23 180h1M28 181h1M6 182h1M26 182h2M6 183h1M19 183h1M23 183h1M33 184h1M19 185h1M14 186h1M3 187h1M32 187h1M35 188h1M7 190h1M36 191h1M27 192h1M4 193h1M27 193h1M20 194h1M7 195h1M5 198h1M16 198h1M34 198h1M16 199h1M32 199h1M19 200h1M26 201h1M14 203h1M20 203h1M32 204h1M2 206h1M34 206h1M25 207h1M3 208h1M0 209h1M17 209h1M36 209h1"/>
<path stroke="#faf0f0" d="M36 0h1M26 1h1M11 6h1M24 6h1M19 7h1M25 8h1M13 9h1M26 10h2M13 12h1M19 12h1M12 13h1M7 16h1M34 16h1M3 17h1M17 17h1M29 17h1M17 18h1M1 19h1M3 20h1M34 20h1M2 22h2M32 22h1M28 24h1M1 25h1M11 25h1M18 25h1M30 26h1M14 27h1M2 28h1M17 28h1M19 28h1M29 28h1M28 29h1M21 31h1M29 31h1M1 33h1M4 33h1M3 35h1M33 35h1M13 36h1M3 37h1M32 37h2M29 38h1M11 39h1M34 40h1M20 41h1M25 41h1M7 42h1M18 43h1M3 44h1M17 46h1M25 49h1M0 50h1M25 50h2M0 51h1M19 51h1M18 52h1M13 54h1M18 54h1M0 56h1M19 56h1M26 56h1M30 58h1M28 60h2M11 64h1M21 65h1M26 66h1M0 67h1M7 67h1M12 67h1M17 67h1M2 68h1M26 68h1M3 70h1M31 70h1M35 70h1M32 71h1M25 72h1M33 73h1M27 74h1M18 76h1M34 77h1M13 78h1M14 80h1M20 80h1M12 81h1M16 81h1M16 83h1M2 85h1M11 85h1M20 86h1M29 87h1M17 88h1M27 88h1M29 89h1M20 93h1M1 94h1M20 94h1M5 95h1M19 95h2M19 96h1M17 98h1M30 98h1M17 100h1M26 100h1M2 101h1M19 101h1M3 102h1M2 103h1M7 105h1M13 105h1M30 105h1M27 106h1M29 106h1M1 107h1M26 108h1M12 110h1M26 111h1M30 112h1M29 113h1M26 114h1M20 115h1M14 117h1M27 117h1M26 118h1M28 118h1M2 119h1M32 119h1M16 121h1M36 121h1M4 122h1M19 122h1M16 123h1M3 124h1M6 126h1M5 127h1M25 127h1M21 128h1M35 129h1M15 131h1M34 131h1M6 133h1M27 133h1M2 134h1M17 134h1M16 135h1M17 136h1M27 136h1M17 137h1M8 138h1M31 138h1M19 139h1M18 140h1M12 141h1M5 142h1M26 142h1M31 142h1M0 144h1M28 144h1M34 144h1M26 147h1M28 150h1M12 152h1M20 152h1M23 152h1M28 153h1M3 154h1M16 154h1M26 154h1M4 155h1M27 155h1M32 157h1M35 158h1M6 159h2M20 159h1M24 160h1M1 161h1M18 161h1M6 162h1M12 162h1M18 162h1M34 162h1M28 163h1M32 163h1M7 164h1M31 164h1M35 164h1M25 165h1M31 166h1M2 169h1M18 169h1M12 170h1M18 170h1M34 170h1M18 171h1M0 172h1M4 173h1M7 173h1M20 174h1M13 176h1M24 177h1M7 178h1M33 179h1M8 180h1M13 180h1M26 180h1M36 180h1M6 181h1M14 181h1M20 181h1M0 182h1M20 182h1M23 182h1M7 183h1M0 185h2M1 186h1M7 186h1M26 186h1M17 187h1M19 187h1M17 189h1M13 190h1M0 191h1M2 192h1M25 192h1M33 192h1M18 193h1M0 194h1M5 194h1M18 194h1M4 195h1M36 195h1M12 196h2M35 196h1M32 197h1M34 197h1M11 198h1M17 198h1M20 198h1M26 198h1M5 199h1M36 200h1M5 201h1M0 204h1M33 204h1M7 205h1M26 206h1M34 207h1M36 210h1M3 211h1"/>
<path stroke="#fafaf0" d="M3 21h1M20 30h1M1 37h1M18 42h1M31 42h1M29 46h1M21 59h1M19 71h1M0 79h1M17 79h1M22 83h1M28 84h1M3 90h1M5 91h1M24 92h1M17 108h1M1 116h1M26 116h1M28 120h1M28 121h1M33 123h1M5 132h1M23 137h1M29 138h1M18 145h1M5 151h1M18 160h1M34 160h1M2 163h1M36 165h1M32 167h1M7 174h1M17 176h1M27 185h1M0 186h1M2 190h1M25 191h1M25 201h1M10 203h1M3 205h1"/>
<path stroke="#fafafa" d="M34 5h1M3 6h1M17 9h1M21 9h1M25 9h1M24 12h1M33 15h1M16 16h1M2 19h1M7 22h1M13 22h1M20 22h1M0 29h1M13 29h1M1 30h1M24 30h1M19 31h1M23 32h2M4 34h1M20 35h1M18 36h1M24 37h1M2 39h1M17 42h1M17 44h1M18 45h1M29 47h1M1 50h1M12 53h1M25 55h1M25 59h1M27 59h1M5 60h1M0 63h1M24 63h1M12 68h1M11 70h1M2 71h1M7 71h1M2 72h1M34 74h1M13 75h1M2 84h1M16 85h1M12 86h2M2 87h1M13 88h1M27 89h1M24 91h1M4 93h1M18 93h1M24 95h1M0 97h1M12 104h1M7 107h1M34 108h1M20 113h1M20 116h1M3 121h1M30 122h1M24 125h1M35 125h1M3 131h1M0 134h1M29 134h1M33 137h1M13 144h1M12 145h2M5 148h1M26 148h1M5 150h1M32 151h1M33 153h1M32 155h1M34 155h1M25 156h1M27 156h1M26 157h1M0 161h1M11 161h1M28 161h1M11 162h1M12 163h1M31 163h1M12 165h1M26 165h1M26 172h1M32 180h1M0 183h1M6 185h1M5 186h1M28 188h1M7 189h1M33 190h1M7 193h1M28 197h1M35 197h1M4 200h1M11 201h1M8 202h1M30 203h1M25 205h1M23 206h1M8 211h1M14 211h1"/>
</g></g>
<path d="M386.5 31.0V21.9H392.6V31.0M398.7 31.0V26.3H404.7V31.0M410.8 31.0V25.4H416.9V31.0M423.0 31.0V15.3H429.1V31.0M413.9 25.4V11.8H426.0V15.3M401.7 26.3V8.8H420.0V11.8M389.5 21.9V8.1H410.8V8.8M441.3 31.0V11.8H447.3V31.0M435.2 31.0V10.9H444.3V11.8M453.4 31.0V8.3H459.5V31.0M439.7 10.9V6.3H456.5V8.3M400.2 8.1V4.8H448.1V6.3M465.6 31.0V6.3H471.7V31.0M477.8 31.0V9.2H483.9V31.0M496.0 31.0V16.2H502.1V31.0M520.4 31.0V15.8H526.5V31.0M514.3 31.0V12.3H523.4V15.8M508.2 31.0V10.5H518.8V12.3M499.1 16.2V6.6H513.5V10.5M489.9 31.0V4.7H506.3V6.6M480.8 9.2V4.2H498.1V4.7M468.6 6.3V4.0H489.5V4.2M424.1 4.8V3.4H479.1V4.0M569.0 31.0V23.2H575.1V31.0M563.0 31.0V21.5H572.1V23.2M556.9 31.0V18.4H567.5V21.5M550.8 31.0V12.3H562.2V18.4M544.7 31.0V7.9H556.5V12.3M538.6 31.0V7.0H550.6V7.9M532.5 31.0V5.3H544.6V7.0M599.5 31.0V8.8H605.6V31.0M593.4 31.0V7.9H602.5V8.8M587.3 31.0V7.0H598.0V7.9M581.2 31.0V5.3H592.6V7.0M538.6 5.3V1.8H586.9V5.3M451.6 3.4V0.8H562.7V1.8" fill="none" stroke="#959595" stroke-width="0.85"/>
<path d="M80.4 295.3V281.3H86.2V295.3M74.5 295.3V280.8H83.3V281.3M68.7 295.3V273.4H78.9V280.8M109.5 295.3V289.1H115.3V295.3M103.7 295.3V287.8H112.4V289.1M97.8 295.3V285.6H108.0V287.8M121.2 295.3V282.1H127.0V295.3M102.9 285.6V275.6H124.1V282.1M92.0 295.3V272.9H113.5V275.6M132.8 295.3V291.8H138.6V295.3M144.5 295.3V277.3H150.3V295.3M135.7 291.8V271.2H147.4V277.3M102.8 272.9V270.3H141.6V271.2M73.8 273.4V268.1H122.2V270.3M161.9 295.3V282.5H167.8V295.3M156.1 295.3V282.0H164.9V282.5M179.4 295.3V291.3H185.3V295.3M173.6 295.3V276.0H182.3V291.3M160.5 282.0V272.9H178.0V276.0M202.7 295.3V282.1H208.6V295.3M196.9 295.3V278.2H205.6V282.1M191.1 295.3V272.1H201.3V278.2M169.2 272.9V270.8H196.2V272.1M214.4 295.3V277.8H220.2V295.3M226.0 295.3V275.6H231.9V295.3M217.3 277.8V270.3H229.0V275.6M182.7 270.8V268.6H223.1V270.3M237.7 295.3V278.6H243.5V295.3M249.4 295.3V274.3H255.2V295.3M261.0 295.3V283.9H266.8V295.3M272.7 295.3V276.9H278.5V295.3M263.9 283.9V271.2H275.6V276.9M252.3 274.3V268.6H269.7V271.2M240.6 278.6V268.1H261.0V268.6M202.9 268.6V265.5H250.8V268.1M98.0 268.1V264.2H226.9V265.5" fill="none" stroke="#959595" stroke-width="0.85"/>
<path d="M391.9 295.9V281.0H398.1V295.9M385.7 295.9V272.7H395.0V281.0M416.7 295.9V281.9H422.9V295.9M429.1 295.9V290.6H435.3V295.9M441.5 295.9V289.3H447.7V295.9M432.2 290.6V280.0H444.6V289.3M419.8 281.9V279.1H438.4V280.0M460.1 295.9V289.3H466.3V295.9M453.9 295.9V275.8H463.2V289.3M429.1 279.1V274.0H458.6V275.8M410.5 295.9V272.3H443.8V274.0M404.3 295.9V270.5H427.2V272.3M390.4 272.7V270.1H415.7V270.5M484.9 295.9V274.0H491.1V295.9M478.7 295.9V270.5H488.0V274.0M472.5 295.9V268.3H483.4V270.5M515.9 295.9V277.5H522.1V295.9M509.7 295.9V276.6H519.0V277.5M503.5 295.9V274.0H514.4V276.6M497.3 295.9V273.1H508.9V274.0M540.7 295.9V281.5H546.9V295.9M534.5 295.9V274.0H543.8V281.5M528.3 295.9V272.3H539.1V274.0M503.1 273.1V269.2H533.7V272.3M565.5 295.9V280.4H571.7V295.9M602.7 295.9V290.1H608.9V295.9M596.5 295.9V289.1H605.8V290.1M590.3 295.9V286.6H601.1V289.1M584.1 295.9V275.8H595.7V286.6M577.9 295.9V273.8H589.9V275.8M568.6 280.4V270.2H583.9V273.8M559.3 295.9V269.7H576.3V270.2M553.1 295.9V269.2H567.8V269.7M518.4 269.2V266.6H560.4V269.2M477.9 268.3V264.4H539.4V266.6M403.0 270.1V263.5H508.7V264.4" fill="none" stroke="#959595" stroke-width="0.85"/>
<rect x="364.6" y="46.9" width="19.2" height="203.0" fill="#000"/>
<path fill="#fff" d="M364 46H371L369.5 47.5L368.1 49.1L366.5 52L365.7 56.3L364 56.3ZM369 50.2H374L369 56.3ZM366.8 66.2H369.2V75H366.8ZM365.9 78.3H371L372.2 95L371.3 108L368.6 122L367.8 145L365.9 145ZM366.5 147.9H377.8L367.2 241.5H366.5Z"/>
<path fill="#fff" d="M364 56.3H365.4V250H364Z"/>
<path d="M374.1 65.8h1.6M369.6 96.0h1.9M372.4 127.6h1.4M367.5 72.7h1.2M368.2 106.2h1.9M369.7 72.3h0.7M374.5 145.8h2.0M367.8 109.1h1.1M368.6 97.8h2.1M369.0 85.4h1.9M376.3 62.0h1.3M370.8 103.0h1.4M367.9 67.9h2.0M374.9 72.5h0.9M376.0 143.0h1.8M373.0 123.2h1.8M372.0 61.8h1.9M376.3 69.3h2.0M371.0 89.3h1.3M377.0 87.0h1.2M368.4 52.6h1.7M372.2 145.3h1.4M374.6 102.8h1.0M372.8 108.5h1.6M369.1 67.3h1.2M370.8 139.0h1.6M368.5 79.4h0.7M374.9 128.1h1.2M373.9 115.6h2.0M371.4 142.0h2.2M373.1 142.3h2.0M371.1 97.1h1.0M369.0 134.1h0.7M374.9 127.3h1.4M368.0 130.4h1.0M371.5 77.8h0.9M370.7 56.7h2.0M374.6 144.4h1.4M376.6 74.2h1.4M367.8 119.9h0.9M375.1 130.5h2.0M371.5 107.7h1.5M370.4 131.5h1.5M374.8 76.5h0.6M376.6 115.8h0.6M373.6 107.0h2.0M369.9 106.1h1.2M376.1 142.0h0.8M368.4 59.1h0.6M368.8 92.9h2.0M368.7 112.9h1.5M372.2 81.1h1.0M369.2 65.9h1.2M372.7 118.2h0.7M375.8 118.2h1.8M367.6 125.9h1.3M374.8 56.1h0.9M369.9 118.3h1.7M367.9 80.1h1.2M376.1 79.7h1.1M372.7 98.3h2.1M373.2 59.5h1.4M376.7 120.5h1.1M372.5 117.1h1.5M375.2 56.1h2.2M370.5 84.1h2.2M368.2 60.3h0.7M374.7 128.2h1.3M367.7 109.7h1.6M372.4 92.5h1.2M369.6 88.5h0.7M369.8 91.7h1.7M374.4 128.5h1.3M371.2 72.7h1.4M376.6 110.7h0.7M372.2 96.1h1.7M374.9 135.5h1.6M373.8 122.8h2.0M374.0 117.1h1.0M371.2 138.0h1.6M376.7 129.2h2.2M370.5 50.6h1.1M368.9 87.6h1.5M370.4 57.6h2.1M371.9 121.3h0.8M374.2 141.8h0.9M373.6 82.2h1.7M376.5 75.0h1.1M375.5 74.4h0.8M369.4 115.4h1.6M371.1 76.6h2.1M371.7 94.8h1.6M369.2 76.9h1.2M369.3 76.2h2.1M375.2 53.3h2.1M367.7 117.6h1.4M373.3 53.8h1.7M367.6 73.1h1.5M370.4 59.1h1.3M371.0 135.9h0.8M375.3 126.0h1.4M369.3 54.7h1.2M369.6 103.0h1.9M376.3 131.0h2.0M373.0 51.7h0.7M374.6 136.4h1.8M368.1 68.1h1.9M373.4 108.2h1.4M370.7 126.8h1.0M370.3 83.9h1.6M368.2 135.5h0.7M373.9 99.1h0.9M368.1 75.9h0.7M374.0 97.5h1.6M368.5 65.2h2.1M371.4 101.7h1.7M372.5 119.9h0.7M369.5 129.4h0.7M372.6 83.8h1.6M374.2 66.7h1.4M375.6 65.6h1.9M374.0 137.0h0.9M376.1 124.7h1.5M376.7 137.2h1.2M376.4 140.4h1.9M370.8 51.1h1.6M374.7 108.3h1.6M376.3 65.5h1.5M369.5 134.6h2.2M374.9 103.3h1.8M370.9 134.7h0.7M369.2 88.9h1.5M370.9 128.2h0.8M371.5 52.6h1.5M373.8 52.5h0.9M376.3 60.3h1.4M372.4 135.9h0.8M371.5 73.0h1.6M374.6 124.0h1.6M371.6 74.3h1.2M370.0 97.0h1.5M367.8 94.0h1.9M375.1 106.3h1.8M376.9 120.2h1.2M367.5 87.8h1.7M373.0 105.8h2.2M369.7 68.9h1.8M372.1 128.0h0.7M375.4 85.6h1.4M371.2 94.3h1.6M374.1 107.5h2.0M371.1 122.1h1.0M375.0 125.1h2.1M375.6 69.1h2.0M370.4 57.4h1.6M375.4 64.0h1.0M370.3 115.5h0.9M372.2 69.9h1.7M374.0 70.9h1.1M371.0 112.3h0.9M368.0 63.5h1.7M368.7 89.7h2.0M367.7 112.9h1.8M371.7 107.1h1.4M371.1 142.4h1.6M371.0 111.0h1.2M373.5 122.5h1.3M369.6 99.3h1.9M373.6 51.9h1.3M373.1 71.3h1.5M378.5 157.8h0.8M370.8 221.9h1.0M375.8 169.4h0.8M378.3 163.7h1.6M376.0 169.9h1.2M378.0 160.4h1.5M378.0 168.3h1.2M377.8 157.6h1.3M377.5 158.7h1.3M371.2 223.6h1.4M378.7 150.8h1.0M369.7 232.2h1.5M379.1 153.1h1.7M371.9 219.4h0.8M368.7 233.4h1.8M372.3 219.9h1.2M377.3 164.8h1.4M372.4 209.0h1.6M378.2 154.8h0.7M377.1 179.2h1.5M377.3 163.4h0.7M372.5 209.6h0.9M376.8 183.7h1.1M372.8 212.2h1.2M373.4 200.1h0.8M373.8 194.5h1.0M378.9 166.8h1.1M375.9 168.0h0.9M370.1 228.2h1.4M377.6 170.7h1.1M372.0 216.3h1.1M376.9 175.2h1.6M372.3 212.2h1.0M371.5 230.2h0.8M373.4 211.1h1.4M370.8 236.8h0.9M368.8 239.7h1.1M368.4 237.9h1.1M372.4 206.3h0.9M371.7 221.5h1.5M372.6 221.1h1.7M372.6 224.1h1.2M372.4 213.1h1.8M372.6 209.0h1.4M375.3 176.5h1.1M376.5 162.3h0.7M375.7 190.9h0.7M371.7 207.3h1.2M376.3 176.6h1.5M374.9 187.2h1.5M377.8 160.4h1.4M372.5 225.1h0.9M372.5 206.3h1.4M369.7 226.2h1.0M369.4 234.3h1.4M370.4 223.7h1.5M378.9 150.3h0.8M375.0 181.1h0.6M370.2 222.3h1.3M374.9 199.9h1.6" stroke="#fff" stroke-width="0.55" fill="none"/>
<path stroke="#777" stroke-width="0.9" d="M364.5 50V250"/>
<path d="M65.8 315.5H56.9V316.2H65.8M65.8 316.8H57.8V317.4H65.8M56.9 315.8H56.6V317.1H57.8M65.8 318.1H56.8V318.7H65.8M56.6 316.5H54.6V318.4H56.8M65.8 319.4H56.8V320.0H65.8M65.8 321.3H58.8V321.9H65.8M65.8 320.6H57.1V321.6H58.8M56.8 319.7H55.8V321.1H57.1M65.8 322.5H56.6V323.2H65.8M65.8 323.8H57.9V324.5H65.8M57.9 324.1H57.6V325.1H65.8M56.6 322.9H56.0V324.6H57.6M65.8 325.7H57.8V326.4H65.8M65.8 327.0H58.8V327.7H65.8M65.8 328.3H59.5V328.9H65.8M65.8 329.6H59.8V330.2H65.8M59.8 329.9H59.6V330.9H65.8M59.5 328.6H58.9V330.4H59.6M58.8 327.3H58.2V329.5H58.9M57.8 326.1H56.6V328.4H58.2M56.0 323.7H55.0V327.2H56.6M55.8 320.4H54.1V325.5H55.0M54.6 317.4H52.1V322.9H54.1M65.8 331.5H57.8V332.1H65.8M65.8 332.8H57.8V333.4H65.8M65.8 334.0H58.6V334.7H65.8M58.6 334.4H58.3V335.3H65.8M57.8 333.1H56.6V334.8H58.3M57.8 331.8H56.0V334.0H56.6M65.8 336.0H55.7V336.6H65.8M65.8 337.2H54.5V337.9H65.8M55.7 336.3H54.2V337.6H54.5M56.0 332.9H53.6V336.9H54.2M65.8 338.5H55.2V339.2H65.8M65.8 340.4H57.1V341.1H65.8M65.8 339.8H55.7V340.8H57.1M55.2 338.8H53.9V340.3H55.7M53.6 334.9H51.5V339.6H53.9M65.8 343.0H55.5V343.6H65.8M65.8 342.3H53.2V343.3H55.5M53.2 342.8H52.5V344.3H65.8M65.8 341.7H52.0V343.5H52.5M65.8 346.2H57.6V346.8H65.8M65.8 345.5H55.6V346.5H57.6M65.8 344.9H53.5V346.0H55.6M52.0 342.6H50.6V345.5H53.5M51.5 337.2H50.2V344.0H50.6M52.1 320.2H48.8V340.6H50.2M65.8 348.1H55.1V348.7H65.8M65.8 347.5H52.8V348.4H55.1M65.8 350.0H55.4V350.7H65.8M65.8 349.4H53.5V350.3H55.4M65.8 351.3H56.8V351.9H65.8M56.8 351.6H54.6V352.6H65.8M54.6 352.1H53.3V353.2H65.8M53.5 349.9H50.8V352.6H53.3M52.8 347.9H50.4V351.3H50.8M65.8 353.8H55.9V354.5H65.8M55.9 354.2H55.3V355.1H65.8M65.8 355.8H56.8V356.4H65.8M55.3 354.6H55.1V356.1H56.8M65.8 357.0H55.0V357.7H65.8M55.1 355.4H53.3V357.4H55.0M65.8 358.3H56.2V359.0H65.8M65.8 360.2H57.7V360.9H65.8M65.8 359.6H56.2V360.6H57.7M56.2 358.6H55.9V360.1H56.2M65.8 361.5H58.1V362.2H65.8M65.8 362.8H58.3V363.4H65.8M58.1 361.8H57.8V363.1H58.3M65.8 364.7H59.1V365.3H65.8M65.8 364.1H58.7V365.0H59.1M57.8 362.5H57.3V364.5H58.7M65.8 366.0H58.5V366.6H65.8M58.5 366.3H58.0V367.3H65.8M57.3 363.5H56.9V366.8H58.0M55.9 359.4H55.1V365.1H56.9M53.3 356.4H52.5V362.3H55.1M65.8 368.5H55.4V369.2H65.8M65.8 367.9H55.1V368.9H55.4M65.8 369.8H55.6V370.5H65.8M65.8 371.1H56.9V371.7H65.8M55.6 370.1H55.1V371.4H56.9M55.1 368.4H53.9V370.8H55.1M65.8 372.4H57.0V373.0H65.8M57.0 372.7H55.4V373.6H65.8M53.9 369.6H53.6V373.2H55.4M65.8 374.3H56.4V374.9H65.8M65.8 375.6H55.6V376.2H65.8M56.4 374.6H55.2V375.9H55.6M53.6 371.4H52.9V375.2H55.2M52.5 359.3H50.1V373.3H52.9M50.4 349.6H49.7V366.3H50.1M48.8 330.4H46.2V358.0H49.7M65.8 377.5H57.0V378.1H65.8M65.8 376.8H56.5V377.8H57.0M65.8 378.8H59.2V379.4H65.8M65.8 380.0H58.7V380.7H65.8M59.2 379.1H58.5V380.4H58.7M65.8 382.0H58.7V382.6H65.8M65.8 381.3H57.9V382.3H58.7M58.5 379.7H57.6V381.8H57.9M65.8 383.2H56.9V383.9H65.8M57.6 380.8H56.5V383.6H56.9M56.5 377.3H55.4V382.2H56.5M65.8 384.5H58.3V385.1H65.8M58.3 384.8H57.8V385.8H65.8M65.8 386.4H61.0V387.1H65.8M65.8 387.7H60.6V388.3H65.8M61.0 386.7H60.4V388.0H60.6M60.4 387.4H59.3V389.0H65.8M65.8 389.6H60.1V390.3H65.8M65.8 390.9H59.4V391.5H65.8M60.1 389.9H58.9V391.2H59.4M59.3 388.2H58.0V390.6H58.9M57.8 385.3H56.3V389.4H58.0M55.4 379.7H54.3V387.3H56.3M65.8 392.2H57.8V392.8H65.8M57.8 392.5H55.9V393.5H65.8M65.8 394.1H58.0V394.7H65.8M58.0 394.4H56.6V395.4H65.8M65.8 396.6H61.0V397.3H65.8M65.8 397.9H60.4V398.6H65.8M61.0 397.0H59.9V398.2H60.4M65.8 396.0H58.5V397.6H59.9M58.5 396.8H57.8V399.2H65.8M65.8 399.8H58.1V400.5H65.8M57.8 398.0H56.3V400.2H58.1M56.6 394.9H55.0V399.1H56.3M55.9 393.0H54.3V397.0H55.0M54.3 383.5H53.0V395.0H54.3M65.8 402.4H60.5V403.0H65.8M65.8 401.8H59.6V402.7H60.5M65.8 401.1H58.1V402.2H59.6M65.8 404.3H59.1V404.9H65.8M65.8 403.7H58.0V404.6H59.1M58.1 401.7H56.7V404.2H58.0M65.8 405.6H56.7V406.2H65.8M56.7 402.9H55.0V405.9H56.7M65.8 407.5H56.0V408.1H65.8M65.8 406.9H55.5V407.8H56.0M65.8 408.8H57.9V409.4H65.8M57.9 409.1H56.6V410.1H65.8M65.8 411.3H57.5V412.0H65.8M65.8 410.7H56.2V411.7H57.5M56.6 409.6H55.4V411.2H56.2M55.5 407.3H54.2V410.4H55.4M55.0 404.4H53.3V408.9H54.2M53.0 389.3H50.4V406.6H53.3M65.8 413.3H58.0V413.9H65.8M65.8 412.6H56.6V413.6H58.0M65.8 415.8H57.9V416.4H65.8M65.8 415.2H55.9V416.1H57.9M65.8 414.5H55.6V415.6H55.9M56.6 413.1H55.4V415.1H55.6M65.8 418.4H57.9V419.0H65.8M65.8 417.7H56.1V418.7H57.9M65.8 417.1H55.0V418.2H56.1M55.4 414.1H53.6V417.6H55.0M65.8 419.6H58.1V420.3H65.8M65.8 420.9H58.5V421.6H65.8M58.1 420.0H58.0V421.2H58.5M65.8 422.2H59.2V422.8H65.8M58.0 420.6H57.6V422.5H59.2M65.8 423.5H58.7V424.1H65.8M65.8 424.8H58.3V425.4H65.8M58.7 423.8H57.9V425.1H58.3M65.8 426.0H58.2V426.7H65.8M57.9 424.4H57.4V426.3H58.2M57.6 421.6H57.1V425.4H57.4M65.8 427.3H59.5V427.9H65.8M65.8 428.6H59.4V429.2H65.8M65.8 429.9H60.2V430.5H65.8M59.4 428.9H58.8V430.2H60.2M59.5 427.6H58.1V429.5H58.8M65.8 431.8H59.5V432.4H65.8M59.5 432.1H59.3V433.1H65.8M65.8 431.1H58.8V432.6H59.3M65.8 433.7H59.1V434.3H65.8M59.1 434.0H58.6V435.0H65.8M58.8 431.9H57.6V434.5H58.6M65.8 435.6H58.9V436.3H65.8M65.8 437.5H60.5V438.2H65.8M60.5 437.8H60.1V438.8H65.8M65.8 436.9H58.8V438.3H60.1M58.9 435.9H57.6V437.6H58.8M57.6 433.2H56.8V436.8H57.6M58.1 428.6H56.2V435.0H56.8M57.1 423.5H55.4V431.8H56.2M53.6 415.9H52.9V427.6H55.4M65.8 440.7H60.1V441.4H65.8M65.8 440.1H59.5V441.0H60.1M65.8 439.4H58.3V440.6H59.5M65.8 442.0H58.9V442.6H65.8M58.3 440.0H58.1V442.3H58.9M65.8 443.3H57.9V443.9H65.8M58.1 441.2H56.2V443.6H57.9M65.8 444.6H57.2V445.2H65.8M57.2 444.9H55.6V445.8H65.8M56.2 442.4H54.3V445.4H55.6M65.8 446.5H55.6V447.1H65.8M65.8 449.0H58.2V449.7H65.8M65.8 448.4H57.9V449.3H58.2M65.8 447.7H57.4V448.9H57.9M65.8 450.3H58.7V450.9H65.8M58.7 450.6H57.6V451.6H65.8M65.8 452.9H58.2V453.5H65.8M65.8 452.2H57.8V453.2H58.2M57.6 451.1H56.3V452.7H57.8M57.4 448.3H56.0V451.9H56.3M55.6 446.8H54.3V450.1H56.0M54.3 443.9H52.8V448.4H54.3M52.9 421.7H50.6V446.2H52.8M50.4 397.9H47.3V434.0H50.6M65.8 454.1H52.5V454.8H65.8M65.8 456.1H56.3V456.7H65.8M65.8 455.4H55.0V456.4H56.3M65.8 458.0H57.1V458.6H65.8M65.8 457.3H56.2V458.3H57.1M56.2 457.8H54.4V459.2H65.8M55.0 455.9H52.5V458.5H54.4M52.5 454.5H51.6V457.2H52.5M65.8 460.5H53.1V461.2H65.8M65.8 459.9H52.6V460.8H53.1M51.6 455.8H50.0V460.4H52.6M65.8 463.1H57.0V463.7H65.8M65.8 462.4H55.3V463.4H57.0M65.8 461.8H53.0V462.9H55.3M53.0 462.4H51.2V464.4H65.8M50.0 458.1H48.5V463.4H51.2M65.8 465.0H55.4V465.6H65.8M65.8 466.9H57.7V467.6H65.8M65.8 466.3H56.2V467.2H57.7M65.8 468.2H57.3V468.8H65.8M57.3 468.5H57.0V469.5H65.8M56.2 466.8H55.7V469.0H57.0M55.4 465.3H53.6V467.9H55.7M65.8 471.4H59.0V472.0H65.8M65.8 470.7H57.5V471.7H59.0M65.8 472.7H58.0V473.3H65.8M57.5 471.2H57.1V473.0H58.0M65.8 470.1H55.8V472.1H57.1M65.8 473.9H54.8V474.6H65.8M55.8 471.1H54.5V474.3H54.8M53.6 466.6H51.7V472.7H54.5M65.8 475.2H56.3V475.9H65.8M56.3 475.5H54.6V476.5H65.8M54.6 476.0H52.5V477.1H65.8M65.8 477.8H55.6V478.4H65.8M65.8 479.0H54.6V479.7H65.8M55.6 478.1H53.3V479.4H54.6M52.5 476.6H51.0V478.7H53.3M51.7 469.6H49.7V477.7H51.0M48.5 460.7H48.0V473.6H49.7M65.8 480.3H56.4V481.0H65.8M65.8 482.2H55.9V482.9H65.8M65.8 481.6H55.0V482.6H55.9M56.4 480.6H54.1V482.1H55.0M65.8 484.2H58.8V484.8H65.8M58.8 484.5H57.5V485.4H65.8M65.8 483.5H57.0V485.0H57.5M65.8 486.1H58.5V486.7H65.8M65.8 488.0H59.6V488.6H65.8M65.8 487.4H58.4V488.3H59.6M58.5 486.4H57.1V487.8H58.4M57.0 484.2H55.7V487.1H57.1M54.1 481.4H53.8V485.7H55.7M65.8 490.5H58.0V491.2H65.8M65.8 489.9H56.2V490.9H58.0M65.8 489.3H56.0V490.4H56.2M56.0 489.8H53.9V491.8H65.8M53.8 483.5H52.2V490.8H53.9M65.8 493.1H58.1V493.7H65.8M65.8 492.5H57.0V493.4H58.1M65.8 494.4H56.7V495.0H65.8M57.0 492.9H54.8V494.7H56.7M65.8 495.7H57.9V496.3H65.8M65.8 497.6H59.4V498.2H65.8M59.4 497.9H58.1V498.9H65.8M65.8 496.9H57.1V498.4H58.1M57.9 496.0H56.6V497.7H57.1M65.8 499.5H55.1V500.1H65.8M56.6 496.8H54.6V499.8H55.1M54.8 493.8H52.7V498.3H54.6M65.8 502.0H57.3V502.7H65.8M65.8 501.4H57.0V502.4H57.3M57.0 501.9H56.7V503.3H65.8M65.8 500.8H56.3V502.6H56.7M65.8 504.6H57.4V505.2H65.8M65.8 504.0H55.9V504.9H57.4M56.3 501.7H54.1V504.4H55.9M52.7 496.1H52.4V503.1H54.1M52.2 487.2H51.8V499.6H52.4M65.8 505.9H55.0V506.5H65.8M65.8 507.2H56.2V507.8H65.8M56.2 507.5H55.7V508.4H65.8M55.0 506.2H53.6V508.0H55.7M53.6 507.1H51.8V509.1H65.8M65.8 511.0H58.6V511.6H65.8M58.6 511.3H57.4V512.3H65.8M65.8 510.3H55.4V511.8H57.4M65.8 509.7H53.4V511.1H55.4M65.8 513.5H55.4V514.2H65.8M65.8 512.9H54.6V513.9H55.4M65.8 514.8H56.0V515.5H65.8M56.0 515.1H55.1V516.1H65.8M65.8 516.7H54.8V517.4H65.8M55.1 515.6H54.2V517.1H54.8M54.6 513.4H52.0V516.3H54.2M53.4 510.4H51.4V514.9H52.0M51.8 508.1H50.0V512.6H51.4M65.8 518.0H57.1V518.7H65.8M57.1 518.3H55.6V519.3H65.8M65.8 519.9H54.4V520.6H65.8M65.8 521.8H54.7V522.5H65.8M65.8 521.2H54.0V522.2H54.7M54.4 520.3H53.8V521.7H54.0M55.6 518.8H53.5V521.0H53.8M65.8 523.1H54.2V523.8H65.8M65.8 524.4H53.8V525.0H65.8M53.8 524.7H52.0V525.7H65.8M54.2 523.4H51.6V525.2H52.0M53.5 519.9H51.1V524.3H51.6M50.0 510.3H49.5V522.1H51.1M51.8 493.4H48.4V516.2H49.5M48.0 467.2H45.8V504.8H48.4M47.3 416.0H45.1V486.0H45.8M46.2 344.2H44.4V451.0H45.1" fill="none" stroke="#000" stroke-width="0.85"/>
<path d="M382.7 320.5L381.6 320.5L379.6 330L378.3 370L376.9 400L375.8 420L374.5 440L373.3 470L371.5 490L368.5 497L367.5 503L367.5 524.5L382.7 524.5Z" fill="#000"/>
<path d="M379.3 412.9h2.4M379.0 415.6h1.8M380.5 359.1h1.9M374.4 481.4h1.3M381.4 340.2h2.0M381.8 330.4h2.4M378.4 453.4h1.1M381.6 325.0h0.9M379.8 360.2h0.9M378.8 415.3h2.2M379.2 426.3h1.6M377.6 455.2h1.3M378.8 522.5h2.2M376.6 464.3h1.2M378.7 380.1h2.1M380.6 402.5h1.5M377.4 514.6h0.8M381.4 364.2h1.6M373.4 519.1h0.9M379.4 448.5h1.3M380.4 339.5h2.4M375.0 474.4h1.2M379.8 342.3h2.2M380.6 357.7h1.6M381.0 360.3h1.0M375.9 451.4h1.5M379.8 364.8h2.5M375.6 483.5h2.3M380.1 364.4h2.3M375.9 451.0h2.5M379.7 364.9h2.1M379.1 388.1h0.9M380.9 340.1h1.2M377.4 442.9h1.6M374.1 514.8h1.8M372.4 496.2h1.1M377.2 504.6h1.2M381.0 360.1h2.4M381.5 361.5h2.3M377.7 443.3h1.0M381.8 329.8h1.2M376.3 463.6h2.2M377.1 441.9h1.1M375.2 466.8h1.2M380.0 434.4h1.8M381.2 378.3h1.1M381.2 325.3h1.6M380.3 334.2h1.4M376.5 437.0h1.4M378.7 501.1h1.9M378.1 460.9h1.0M380.2 329.1h2.3M380.1 462.9h0.8M377.8 449.9h2.0M381.3 386.1h0.9M379.5 431.8h2.3M378.6 470.2h2.1M373.0 505.9h2.0M377.7 503.1h1.5M379.2 480.9h1.8M377.4 447.6h1.8M376.0 444.4h1.9M377.7 521.7h2.0M380.3 400.1h1.8M380.4 410.5h0.9M374.7 472.8h1.8M377.8 418.7h2.0M379.3 421.9h2.4M378.8 373.4h1.3M376.2 458.3h1.1M375.7 504.1h1.6M372.9 501.2h1.9M380.2 361.9h2.2M377.7 505.8h1.5M377.3 439.2h1.0M380.2 421.8h2.2M380.1 465.0h1.3M380.4 356.0h1.3M380.1 365.0h1.9M378.1 421.3h2.2M373.9 519.4h0.9M381.7 328.3h0.9M378.0 464.4h1.3M374.0 481.1h1.0M377.2 413.4h2.2M379.3 369.7h0.9M377.7 448.5h1.9M379.4 453.7h2.4M376.1 459.6h1.6M379.3 357.9h1.6M375.8 465.5h1.3M380.3 391.5h1.7M379.3 445.5h1.5M379.4 481.2h0.9M376.3 509.5h1.0M379.6 413.2h2.3M379.8 397.7h2.3M379.7 482.2h1.6M376.3 452.9h2.0M377.6 486.5h2.0M381.3 364.9h2.5M374.6 518.4h2.1M381.1 386.4h2.3M378.3 392.0h1.5M379.6 432.6h1.6M381.7 327.7h0.9M374.8 482.8h1.4M374.8 480.4h1.1M379.6 425.8h2.2M380.1 460.6h1.6M370.5 512.8h1.2M377.7 427.9h2.0M378.0 450.4h2.2M377.5 434.6h1.4M378.9 491.9h1.2M379.3 493.0h1.7M376.8 437.2h1.7M379.2 423.1h0.8M374.4 516.9h1.5M377.2 483.0h1.6M375.4 460.9h1.7M380.9 405.2h2.4M380.0 376.1h1.0M380.4 409.2h2.3M378.2 417.8h1.1M380.1 446.2h1.0M374.2 478.6h1.1M380.8 367.7h1.3M380.0 393.4h1.0M375.4 468.9h1.7M379.4 372.4h1.7M378.7 409.8h1.5M377.1 428.4h1.1M378.7 448.9h1.7M376.6 493.1h2.3M380.9 368.8h2.2M372.6 503.4h1.3M371.7 507.5h2.5M371.3 500.4h1.2M376.2 468.0h1.0M376.0 489.3h2.1M380.4 347.3h2.0M381.1 325.6h2.0M378.5 505.2h1.0M379.8 423.6h1.7M376.0 459.8h0.9M379.8 343.3h1.7M379.0 425.5h1.0M379.7 359.1h2.2M378.2 521.1h1.0M381.7 334.5h1.6M376.2 475.7h1.6M378.4 425.6h1.8M381.8 324.7h2.2M380.3 358.4h2.1M378.3 403.5h1.1M376.6 425.0h2.3M378.1 483.1h2.3M377.5 448.5h1.8M380.8 423.4h2.2M381.2 373.9h2.1M379.0 478.4h1.5M377.8 502.2h2.0M378.7 476.2h1.5M375.2 467.2h1.4M377.0 416.2h1.4M378.6 450.4h1.2M375.8 511.9h1.4M378.2 454.6h1.7M381.2 400.3h1.9M379.1 463.0h2.5M381.5 326.6h2.1M379.9 373.6h0.9M380.1 361.3h1.0M381.2 372.4h1.7M380.7 424.1h1.8M375.5 522.0h2.2M381.0 337.3h2.1M381.7 331.1h1.1M377.6 416.8h1.6M375.8 444.8h2.4M379.4 406.6h1.8M378.9 395.5h1.9M377.3 434.7h2.0M378.5 381.5h1.2M380.3 330.6h2.1M380.8 400.4h2.1M381.8 332.1h2.4M381.6 336.8h1.5M380.8 418.0h1.2M380.5 427.2h2.0M380.9 416.1h2.2M376.2 443.3h1.9M377.9 413.6h0.9M376.9 428.1h1.6M377.6 456.2h1.2M377.8 439.0h2.1M380.7 428.7h2.4M376.0 469.6h1.0M377.0 501.4h1.9M378.9 394.2h2.0M378.7 435.5h1.9M375.5 473.4h1.2M378.1 518.9h2.3M380.2 329.9h1.3M379.7 407.5h1.0M376.5 430.9h0.9M378.0 457.9h1.9M379.5 397.0h1.2M380.5 391.1h2.2M380.1 336.9h2.2M379.3 447.4h1.2M378.4 407.3h2.2M380.1 396.2h2.5M379.9 387.4h2.1M373.6 507.1h1.4M381.5 341.5h0.9M380.9 338.7h1.6M376.6 459.8h2.1M380.3 337.3h1.9M380.4 338.4h2.0M376.5 461.5h1.0M380.4 393.9h1.4M381.1 345.6h1.8M378.3 506.6h2.4M380.3 410.0h1.3M379.5 385.8h2.4M372.2 501.8h1.4M379.1 395.5h1.5M378.4 399.9h1.8M377.1 482.2h2.2M376.8 435.1h2.1M372.8 499.1h0.8M378.8 425.6h1.8M375.7 516.2h2.2M381.0 334.9h2.1M380.0 338.9h2.1M370.6 502.7h1.9M381.1 350.9h1.9M379.5 371.3h2.1M379.8 426.8h1.5M381.2 389.9h1.9M379.0 421.2h2.0M379.9 464.3h1.5M377.7 488.1h2.3M378.9 484.0h2.3M375.6 514.5h1.7M379.2 464.7h1.5M378.0 406.5h2.1M373.2 521.2h1.1M380.2 363.1h1.3M370.3 516.9h1.3M381.0 345.1h2.1M379.4 358.1h1.6M380.1 439.4h0.9M380.0 343.8h1.2M380.8 369.3h1.8M379.5 367.0h1.3M381.1 356.7h1.3M379.9 432.2h1.6" stroke="#fff" stroke-width="0.6" fill="none"/>
<path d="M368.3 314.3H382.6M368.3 314.3V320.3M368.3 320.3H382.6M370.5 315.6H382.6M370.5 315.6V318.6H382.6M373 317.1H382.6M362.6 318V522.5H367.5M362.6 318H368.3" stroke="#444" stroke-width="0.8" fill="none"/>
<text x="0" y="0" font-size="9.2" font-weight="bold" fill="#000" transform="translate(615.7 36.1) scale(0.96 1)">Pair</text>
<text x="0" y="0" font-size="9.2" font-weight="bold" fill="#000" transform="translate(615.7 44.6) scale(0.96 1)">Tissue type</text>
<text x="0" y="0" font-size="9.2" font-weight="bold" fill="#000" transform="translate(288 303.6) scale(0.96 1)">Pair</text>
<text x="0" y="0" font-size="9.2" font-weight="bold" fill="#000" transform="translate(286.1 313.3) scale(0.96 1)">Tissue type</text>
<text x="0" y="0" font-size="9.2" font-weight="bold" fill="#000" transform="translate(618.9 301.5) scale(0.96 1)">Pair</text>
<text x="0" y="0" font-size="9.2" font-weight="bold" fill="#000" transform="translate(618.9 311.0) scale(0.96 1)">Tissue type</text>
<defs><linearGradient id="cb" x1="0" y1="1" x2="0" y2="0"><stop offset="0.00" stop-color="#053061"/><stop offset="0.10" stop-color="#2166AC"/><stop offset="0.20" stop-color="#4393C3"/><stop offset="0.30" stop-color="#92C5DE"/><stop offset="0.40" stop-color="#D1E5F0"/><stop offset="0.50" stop-color="#F7F7F7"/><stop offset="0.60" stop-color="#FDDBC7"/><stop offset="0.70" stop-color="#F4A582"/><stop offset="0.80" stop-color="#D6604D"/><stop offset="0.90" stop-color="#B2182B"/><stop offset="1.00" stop-color="#67001F"/></linearGradient></defs>
<rect x="636.4" y="55.5" width="7.9" height="96.3" fill="url(#cb)"/>
<text x="649.3" y="59.2" font-size="11" font-weight="bold" fill="#000" text-anchor="start">2</text>
<text x="649.3" y="103.6" font-size="11" font-weight="bold" fill="#000" text-anchor="start">0</text>
<text x="647.5" y="148.0" font-size="11" font-weight="bold" fill="#000" text-anchor="start">-2</text>
<text x="0" y="0" font-size="11" font-weight="bold" fill="#000" text-anchor="middle" transform="translate(630.6 101.7) rotate(-90)">Z-scored M values</text>
<text x="0" y="0" font-size="11" font-weight="bold" fill="#000" transform="translate(618.2 167.0) scale(0.96 1)">Tissue type</text>
<rect x="617.9" y="170.0" width="14.8" height="12.7" fill="#bebebe"/>
<text x="0" y="0" font-size="8.6" fill="#111" transform="translate(635.7 180.3) scale(0.93 1)">biopsy</text>
<rect x="617.9" y="182.6" width="14.8" height="12.7" fill="#8b1a1a"/>
<text x="0" y="0" font-size="8.6" fill="#111" transform="translate(635.7 192.9) scale(0.93 1)">bone_met</text>
<rect x="617.9" y="195.2" width="14.8" height="12.7" fill="#ff0000"/>
<text x="0" y="0" font-size="8.6" fill="#111" transform="translate(635.7 205.5) scale(0.93 1)">lung_met</text>
<rect x="617.9" y="207.8" width="14.8" height="12.7" fill="#ff8c00"/>
<text x="0" y="0" font-size="8.6" fill="#111" transform="translate(635.7 218.1) scale(0.93 1)">normal_bone</text>
<rect x="617.9" y="220.4" width="14.8" height="12.7" fill="#ffb6c1"/>
<text x="0" y="0" font-size="8.6" fill="#111" transform="translate(635.7 230.7) scale(0.93 1)">normal_lung</text>
<text x="619.8" y="247.0" font-size="11" font-weight="bold" fill="#000" text-anchor="start">Pair</text>
<rect x="619.8" y="250.2" width="14.8" height="12.1" fill="#0000ff"/>
<text x="0" y="0" font-size="8.6" fill="#111" transform="translate(637.8 260.2) scale(0.93 1)">a</text>
<rect x="619.8" y="262.2" width="14.8" height="12.1" fill="#ffff00"/>
<text x="0" y="0" font-size="8.6" fill="#111" transform="translate(637.8 272.2) scale(0.93 1)">b</text>
<rect x="619.8" y="274.2" width="14.8" height="12.1" fill="#00ff00"/>
<text x="0" y="0" font-size="8.6" fill="#111" transform="translate(637.8 284.2) scale(0.93 1)">c</text>
</svg>
</body></html>
